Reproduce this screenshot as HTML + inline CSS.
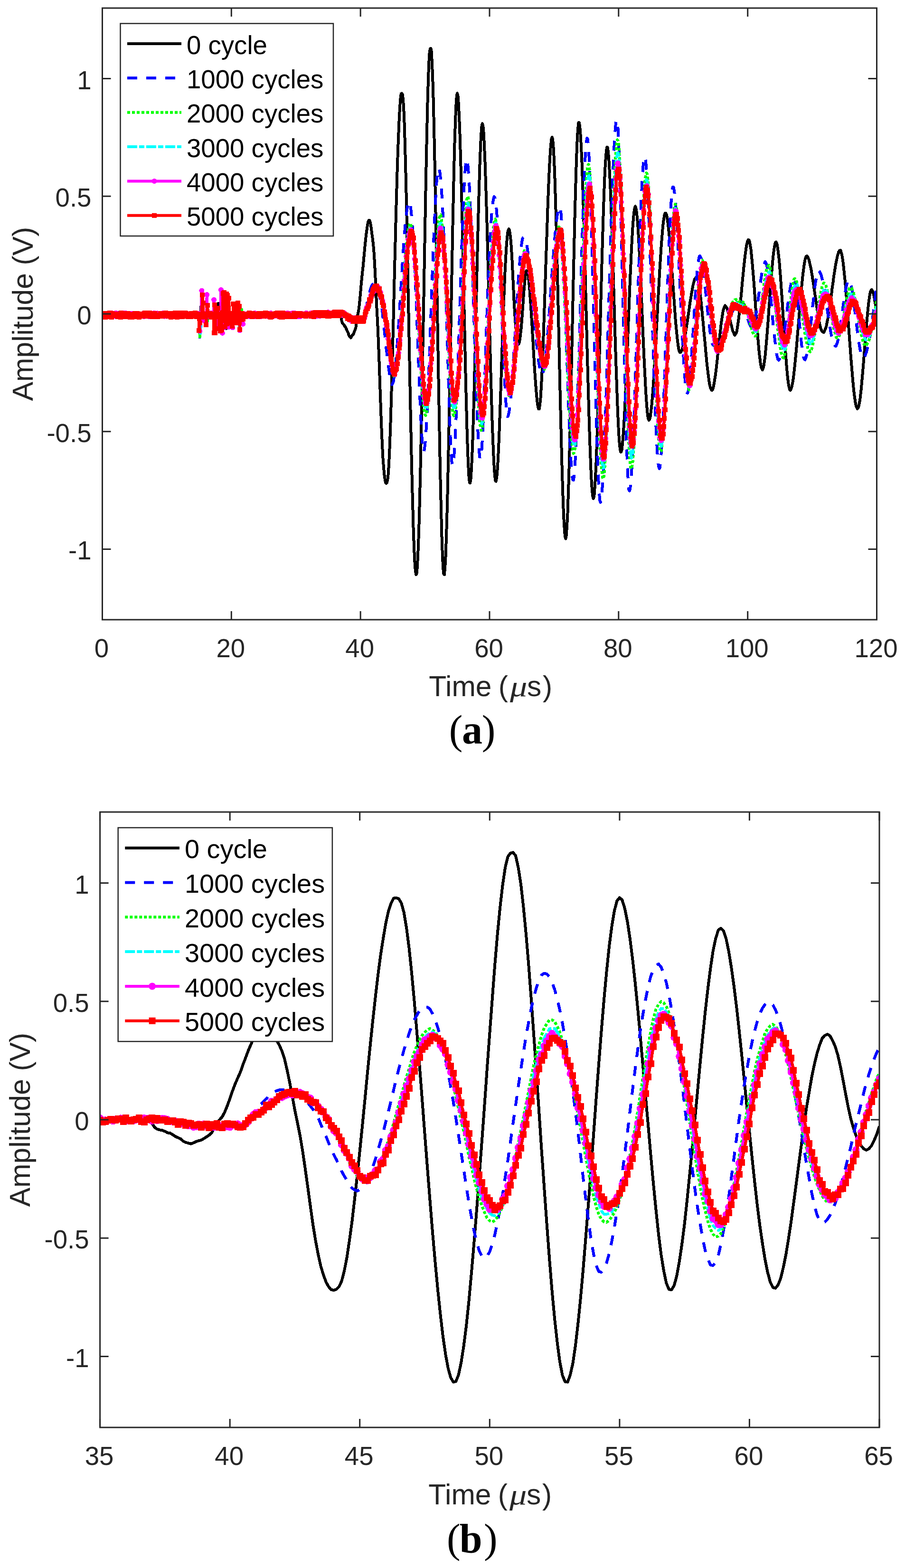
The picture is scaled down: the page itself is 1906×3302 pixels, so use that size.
<!DOCTYPE html><html><head><meta charset="utf-8"><title>Figure</title><style>html,body{margin:0;padding:0;background:#fff;width:1906px;height:3302px;}svg{display:block;}</style></head><body><svg width="1906" height="3302" viewBox="0 0 1906 3302">
<rect width="1906" height="3302" fill="#fff"/>
<defs>
<clipPath id="clipa"><rect x="215.5" y="17.0" width="1631.0" height="1288.0"/></clipPath>
<clipPath id="clipb"><rect x="210.6" y="1710.0" width="1641.4" height="1296.0"/></clipPath>
</defs>
<g clip-path="url(#clipa)" shape-rendering="crispEdges">
<polyline points="215.5,658.6 216.9,659.8 218.2,658.7 219.6,660.0 220.9,659.9 222.3,660.3 223.7,660.0 225.0,659.9 226.4,658.6 227.7,660.0 229.1,659.6 230.5,659.3 231.8,658.8 233.2,658.8 234.5,659.2 235.9,659.2 237.2,659.0 238.6,660.1 240.0,660.2 241.3,658.8 242.7,660.4 244.0,659.1 245.4,659.2 246.8,659.3 248.1,660.4 249.5,658.6 250.8,659.6 252.2,659.4 253.6,660.5 254.9,660.0 256.3,658.8 257.6,659.7 259.0,659.0 260.4,658.7 261.7,660.2 263.1,658.5 264.4,660.1 265.8,658.6 267.1,660.3 268.5,659.6 269.9,658.9 271.2,659.9 272.6,658.8 273.9,658.6 275.3,658.8 276.7,659.6 278.0,659.8 279.4,659.5 280.7,660.3 282.1,660.1 283.5,659.4 284.8,659.1 286.2,659.6 287.5,659.9 288.9,658.6 290.3,659.0 291.6,659.6 293.0,659.6 294.3,659.0 295.7,658.8 297.1,659.9 298.4,659.1 299.8,658.9 301.1,658.7 302.5,660.5 303.8,659.5 305.2,659.3 306.6,659.9 307.9,659.6 309.3,659.5 310.6,658.5 312.0,660.5 313.4,660.1 314.7,660.0 316.1,659.8 317.4,660.4 318.8,659.9 320.2,660.1 321.5,658.9 322.9,659.2 324.2,660.3 325.6,660.1 327.0,659.2 328.3,660.2 329.7,658.6 331.0,660.2 332.4,658.9 333.7,659.5 335.1,659.9 336.5,660.0 337.8,658.7 339.2,659.8 340.5,660.4 341.9,660.4 343.3,659.6 344.6,658.8 346.0,659.8 347.3,658.9 348.7,658.6 350.1,660.4 351.4,659.9 352.8,659.3 354.1,659.9 355.5,660.2 356.9,659.5 358.2,659.0 359.6,659.1 360.9,660.0 362.3,659.3 363.6,659.9 365.0,660.0 366.4,658.7 367.7,660.0 369.1,658.6 370.4,660.1 371.8,659.4 373.2,659.8 374.5,658.9 375.9,660.3 377.2,658.6 378.6,659.1 380.0,660.2 381.3,659.1 382.7,660.3 384.0,659.4 385.4,660.3 386.8,660.4 388.1,659.7 389.5,659.1 390.8,659.1 392.2,659.2 393.6,659.3 394.9,658.8 396.3,659.4 397.6,660.3 399.0,660.2 400.3,658.6 401.7,658.9 403.1,660.5 404.4,658.6 405.8,659.2 407.1,658.7 408.5,660.2 409.9,659.3 411.2,659.5 412.6,660.2 413.9,660.4 415.3,659.2 416.7,660.4 418.0,660.0 419.4,659.5 420.7,659.3 422.1,659.9 423.5,644.0 424.8,658.7 426.2,659.1 427.5,658.7 428.9,660.4 430.2,660.4 431.6,660.3 433.0,675.1 434.3,659.5 435.7,658.7 437.0,660.1 438.4,658.5 439.8,658.8 441.1,659.9 442.5,660.1 443.8,659.5 445.2,659.9 446.6,660.4 447.9,660.3 449.3,659.3 450.6,659.2 452.0,658.6 453.4,660.5 454.7,659.1 456.1,659.3 457.4,659.5 458.8,660.3 460.1,639.0 461.5,659.1 462.9,659.4 464.2,658.6 465.6,660.3 466.9,659.1 468.3,659.5 469.7,659.9 471.0,658.8 472.4,658.9 473.7,659.6 475.1,659.2 476.5,691.9 477.8,660.5 479.2,660.1 480.5,660.1 481.9,660.1 483.3,659.0 484.6,658.6 486.0,660.0 487.3,659.0 488.7,660.5 490.1,658.9 491.4,658.9 492.8,650.5 494.1,660.3 495.5,659.4 496.8,659.0 498.2,659.1 499.6,659.2 500.9,659.0 502.3,659.3 503.6,660.0 505.0,660.4 506.4,658.7 507.7,659.7 509.1,659.1 510.4,660.0 511.8,658.6 513.2,660.2 514.5,660.4 515.9,659.5 517.2,659.8 518.6,659.2 520.0,660.5 521.3,660.2 522.7,658.8 524.0,659.2 525.4,659.8 526.7,660.5 528.1,660.4 529.5,659.7 530.8,658.6 532.2,658.7 533.5,659.9 534.9,659.8 536.3,660.0 537.6,660.2 539.0,659.3 540.3,659.6 541.7,658.8 543.1,659.5 544.4,660.5 545.8,659.6 547.1,660.2 548.5,659.8 549.9,659.5 551.2,659.4 552.6,659.1 553.9,658.6 555.3,659.8 556.7,659.0 558.0,659.5 559.4,658.8 560.7,659.4 562.1,659.7 563.4,659.5 564.8,659.5 566.2,658.6 567.5,660.4 568.9,660.4 570.2,660.1 571.6,660.5 573.0,660.3 574.3,659.7 575.7,660.1 577.0,659.5 578.4,658.8 579.8,659.2 581.1,659.0 582.5,658.9 583.8,660.3 585.2,660.4 586.6,659.6 587.9,659.6 589.3,658.6 590.6,660.0 592.0,659.6 593.3,659.4 594.7,658.8 596.1,660.3 597.4,658.7 598.8,659.4 600.1,659.6 601.5,659.6 602.9,660.4 604.2,660.0 605.6,659.3 606.9,658.7 608.3,658.7 609.7,660.0 611.0,659.4 612.4,659.9 613.7,659.8 615.1,659.8 616.5,659.6 617.8,660.5 619.2,659.6 620.5,659.9 621.9,660.0 623.2,659.4 624.6,659.5 626.0,659.1 627.3,659.6 628.7,658.8 630.0,658.9 631.4,659.4 632.8,658.6 634.1,659.2 635.5,659.7 636.8,660.1 638.2,660.2 639.6,659.8 640.9,660.0 642.3,659.6 643.6,659.0 645.0,660.4 646.4,659.0 647.7,660.2 649.1,659.3 650.4,660.5 651.8,658.9 653.2,659.1 654.5,660.2 655.9,658.7 657.2,659.8 658.6,659.3 659.9,660.1 661.3,659.5 662.7,659.2 664.0,660.1 665.4,659.9 666.7,659.6 668.1,659.4 669.5,659.9 670.8,659.6 672.2,660.3 673.5,659.6 674.9,660.5 676.3,660.1 677.6,658.7 679.0,660.1 680.3,659.8 681.7,660.1 683.1,659.3 684.4,659.3 685.8,658.7 687.1,659.1 688.5,658.6 689.8,660.1 691.2,660.0 692.6,658.8 693.9,658.8 695.3,660.2 696.6,659.8 698.0,660.5 699.4,660.0 700.7,659.8 702.1,659.9 703.4,660.3 704.8,658.6 706.2,659.8 707.5,659.6 708.9,659.1 710.2,658.9 711.6,658.7 713.0,659.3 714.3,658.8 715.7,659.4 717.0,658.9 718.4,668.4 719.8,676.7 721.1,680.7 722.5,682.2 723.8,683.2 725.2,685.3 726.5,688.2 727.9,689.0 729.3,692.4 730.6,696.1 732.0,698.4 733.3,700.8 734.7,706.0 736.1,708.5 737.4,709.9 738.8,711.4 740.1,709.3 741.5,706.8 742.9,704.8 744.2,703.7 745.6,700.3 746.9,696.8 748.3,693.2 749.7,688.3 751.0,678.0 752.4,668.7 753.7,661.1 755.1,655.1 756.4,645.2 757.8,631.7 759.2,617.0 760.5,601.1 761.9,586.5 763.2,573.8 764.6,561.8 766.0,546.2 767.3,532.1 768.7,517.3 770.0,504.8 771.4,492.1 772.8,482.5 774.1,472.8 775.5,466.2 776.8,464.0 778.2,464.0 779.6,467.3 780.9,473.8 782.3,484.0 783.6,494.7 785.0,504.6 786.3,516.7 787.7,533.1 789.1,556.1 790.4,582.5 791.8,611.4 793.1,641.3 794.5,666.7 795.9,694.2 797.2,727.1 798.6,763.6 799.9,802.7 801.3,842.5 802.7,881.2 804.0,914.6 805.4,943.4 806.7,968.1 808.1,985.4 809.5,1000.6 810.8,1010.4 812.2,1016.8 813.5,1017.7 814.9,1016.1 816.3,1010.3 817.6,999.3 819.0,978.2 820.3,950.5 821.7,914.5 823.0,875.0 824.4,828.0 825.8,778.8 827.1,727.0 828.5,672.9 829.8,617.5 831.2,560.6 832.6,506.5 833.9,453.8 835.3,404.4 836.6,358.7 838.0,317.2 839.4,281.9 840.7,250.3 842.1,225.3 843.4,208.5 844.8,197.4 846.2,196.6 847.5,198.6 848.9,207.5 850.2,227.2 851.6,259.9 852.9,302.8 854.3,355.3 855.7,413.6 857.0,478.8 858.4,547.7 859.7,617.7 861.1,689.5 862.5,760.1 863.8,829.3 865.2,895.5 866.5,957.7 867.9,1015.6 869.3,1066.7 870.6,1113.7 872.0,1151.7 873.3,1181.2 874.7,1200.6 876.1,1210.0 877.4,1208.5 878.8,1195.3 880.1,1169.9 881.5,1134.9 882.9,1092.2 884.2,1040.5 885.6,981.0 886.9,916.9 888.3,850.4 889.6,778.4 891.0,705.9 892.4,631.1 893.7,554.8 895.1,480.7 896.4,407.6 897.8,336.9 899.2,272.3 900.5,216.4 901.9,169.1 903.2,133.0 904.6,110.3 906.0,103.1 907.3,101.7 908.7,108.5 910.0,133.0 911.4,168.1 912.8,215.4 914.1,272.2 915.5,337.6 916.8,408.6 918.2,484.6 919.5,564.0 920.9,645.2 922.3,726.2 923.6,803.4 925.0,880.3 926.3,951.6 927.7,1019.2 929.1,1077.8 930.4,1127.1 931.8,1167.3 933.1,1195.7 934.5,1209.2 935.9,1210.2 937.2,1195.4 938.6,1171.1 939.9,1134.0 941.3,1088.0 942.7,1034.0 944.0,972.7 945.4,906.6 946.7,837.5 948.1,764.4 949.5,690.6 950.8,616.2 952.2,544.2 953.5,474.8 954.9,410.1 956.2,351.1 957.6,298.4 959.0,256.3 960.3,223.8 961.7,202.9 963.0,196.2 964.4,201.0 965.8,218.8 967.1,245.7 968.5,281.9 969.8,324.4 971.2,373.9 972.6,429.0 973.9,487.0 975.3,548.8 976.6,611.2 978.0,672.7 979.4,734.6 980.7,794.0 982.1,849.5 983.4,900.1 984.8,943.6 986.1,977.0 987.5,1003.1 988.9,1015.9 990.2,1017.2 991.6,1007.9 992.9,988.4 994.3,958.1 995.7,921.6 997.0,878.8 998.4,829.1 999.7,774.8 1001.1,719.9 1002.5,660.3 1003.8,602.0 1005.2,543.2 1006.5,487.4 1007.9,434.0 1009.3,386.1 1010.6,343.5 1012.0,307.5 1013.3,281.5 1014.7,264.2 1016.0,260.1 1017.4,265.5 1018.8,281.9 1020.1,308.2 1021.5,341.1 1022.8,379.8 1024.2,424.0 1025.6,472.2 1026.9,523.9 1028.3,578.2 1029.6,634.0 1031.0,687.2 1032.4,740.3 1033.7,791.6 1035.1,839.1 1036.4,882.5 1037.8,919.8 1039.2,954.0 1040.5,980.1 1041.9,1000.5 1043.2,1012.0 1044.6,1013.6 1046.0,1006.9 1047.3,993.0 1048.7,970.8 1050.0,944.8 1051.4,911.4 1052.7,875.6 1054.1,835.6 1055.5,794.8 1056.8,753.2 1058.2,712.5 1059.5,671.9 1060.9,634.5 1062.3,602.6 1063.6,570.9 1065.0,545.0 1066.3,522.1 1067.7,504.6 1069.1,490.6 1070.4,484.7 1071.8,482.1 1073.1,485.4 1074.5,495.2 1075.9,507.6 1077.2,525.6 1078.6,549.3 1079.9,577.2 1081.3,606.5 1082.6,634.4 1084.0,658.6 1085.4,678.1 1086.7,694.1 1088.1,705.8 1089.4,715.6 1090.8,721.9 1092.2,724.7 1093.5,721.6 1094.9,715.2 1096.2,704.0 1097.6,691.5 1099.0,674.9 1100.3,656.9 1101.7,637.4 1103.0,618.0 1104.4,602.2 1105.8,587.0 1107.1,575.4 1108.5,570.2 1109.8,569.7 1111.2,573.9 1112.6,581.1 1113.9,593.6 1115.3,607.9 1116.6,626.5 1118.0,645.8 1119.3,666.4 1120.7,689.5 1122.1,712.4 1123.4,734.9 1124.8,758.7 1126.1,780.2 1127.5,799.9 1128.9,818.5 1130.2,833.9 1131.6,847.6 1132.9,855.7 1134.3,861.3 1135.7,861.2 1137.0,853.3 1138.4,840.0 1139.7,818.4 1141.1,792.8 1142.5,761.9 1143.8,727.6 1145.2,689.1 1146.5,649.3 1147.9,607.9 1149.2,566.1 1150.6,525.6 1152.0,484.7 1153.3,444.0 1154.7,407.1 1156.0,374.6 1157.4,346.2 1158.8,321.7 1160.1,304.5 1161.5,292.6 1162.8,288.7 1164.2,294.5 1165.6,310.9 1166.9,334.9 1168.3,368.6 1169.6,410.4 1171.0,457.4 1172.4,508.6 1173.7,565.0 1175.1,624.7 1176.4,684.4 1177.8,744.8 1179.1,804.9 1180.5,863.5 1181.9,918.7 1183.2,969.6 1184.6,1015.9 1185.9,1056.0 1187.3,1090.4 1188.7,1114.5 1190.0,1130.2 1191.4,1134.5 1192.7,1127.7 1194.1,1108.3 1195.5,1080.8 1196.8,1042.8 1198.2,999.7 1199.5,949.6 1200.9,893.2 1202.3,834.2 1203.6,771.3 1205.0,707.9 1206.3,643.3 1207.7,581.6 1209.1,520.1 1210.4,462.7 1211.8,411.5 1213.1,364.1 1214.5,323.2 1215.8,291.6 1217.2,269.2 1218.6,257.9 1219.9,258.3 1221.3,267.0 1222.6,283.8 1224.0,308.6 1225.4,338.8 1226.7,375.7 1228.1,417.2 1229.4,462.8 1230.8,511.8 1232.2,563.3 1233.5,616.2 1234.9,669.9 1236.2,723.0 1237.6,773.8 1239.0,823.4 1240.3,870.5 1241.7,914.9 1243.0,952.4 1244.4,987.5 1245.7,1013.8 1247.1,1035.0 1248.5,1045.6 1249.8,1050.1 1251.2,1045.1 1252.5,1029.6 1253.9,1007.8 1255.3,979.6 1256.6,943.3 1258.0,903.0 1259.3,859.6 1260.7,811.8 1262.1,762.3 1263.4,711.5 1264.8,658.1 1266.1,607.9 1267.5,556.6 1268.9,508.9 1270.2,464.2 1271.6,422.2 1272.9,385.9 1274.3,355.6 1275.7,333.2 1277.0,316.5 1278.4,309.9 1279.7,310.3 1281.1,321.0 1282.4,336.7 1283.8,361.8 1285.2,390.4 1286.5,424.2 1287.9,461.6 1289.2,501.8 1290.6,544.5 1292.0,589.6 1293.3,635.0 1294.7,681.5 1296.0,725.8 1297.4,767.4 1298.8,807.9 1300.1,844.4 1301.5,878.7 1302.8,906.6 1304.2,928.5 1305.6,943.0 1306.9,951.7 1308.3,951.8 1309.6,946.8 1311.0,934.7 1312.3,918.7 1313.7,898.2 1315.1,874.6 1316.4,847.0 1317.8,817.7 1319.1,785.6 1320.5,752.9 1321.9,719.1 1323.2,684.2 1324.6,649.7 1325.9,616.2 1327.3,582.0 1328.7,552.9 1330.0,523.2 1331.4,497.7 1332.7,476.0 1334.1,457.9 1335.5,444.9 1336.8,437.1 1338.2,434.5 1339.5,438.9 1340.9,448.0 1342.2,460.7 1343.6,479.3 1345.0,502.1 1346.3,526.1 1347.7,553.7 1349.0,582.1 1350.4,613.8 1351.8,644.8 1353.1,678.5 1354.5,709.6 1355.8,739.7 1357.2,769.0 1358.6,796.1 1359.9,821.8 1361.3,842.9 1362.6,859.7 1364.0,874.4 1365.4,882.5 1366.7,884.9 1368.1,883.7 1369.4,878.1 1370.8,868.1 1372.2,856.2 1373.5,841.8 1374.9,823.8 1376.2,804.9 1377.6,784.3 1378.9,760.9 1380.3,737.8 1381.7,711.3 1383.0,686.6 1384.4,662.0 1385.7,635.7 1387.1,611.0 1388.5,585.7 1389.8,562.0 1391.2,540.5 1392.5,520.3 1393.9,502.3 1395.3,485.7 1396.6,471.5 1398.0,461.0 1399.3,453.3 1400.7,448.9 1402.1,448.8 1403.4,451.4 1404.8,456.7 1406.1,465.2 1407.5,477.6 1408.8,489.2 1410.2,504.0 1411.6,520.8 1412.9,538.7 1414.3,556.2 1415.6,576.8 1417.0,594.8 1418.4,614.2 1419.7,633.1 1421.1,651.7 1422.4,670.5 1423.8,687.0 1425.2,700.5 1426.5,713.7 1427.9,725.0 1429.2,734.4 1430.6,740.2 1432.0,742.4 1433.3,742.1 1434.7,740.0 1436.0,737.8 1437.4,733.1 1438.8,728.1 1440.1,723.5 1441.5,715.2 1442.8,707.1 1444.2,698.9 1445.5,690.6 1446.9,681.7 1448.3,672.4 1449.6,662.8 1451.0,653.8 1452.3,643.7 1453.7,634.5 1455.1,626.7 1456.4,618.4 1457.8,610.7 1459.1,602.9 1460.5,597.0 1461.9,592.0 1463.2,587.4 1464.6,586.0 1465.9,583.9 1467.3,582.5 1468.7,586.3 1470.0,589.2 1471.4,596.0 1472.7,604.9 1474.1,614.6 1475.4,625.6 1476.8,637.5 1478.2,651.6 1479.5,666.4 1480.9,679.4 1482.2,696.0 1483.6,709.6 1485.0,724.4 1486.3,739.2 1487.7,754.2 1489.0,768.1 1490.4,779.4 1491.8,790.9 1493.1,800.8 1494.5,809.7 1495.8,815.2 1497.2,818.7 1498.6,821.6 1499.9,821.7 1501.3,819.7 1502.6,813.9 1504.0,807.6 1505.3,798.7 1506.7,790.3 1508.1,779.5 1509.4,768.3 1510.8,755.3 1512.1,741.7 1513.5,730.4 1514.9,717.8 1516.2,705.3 1517.6,692.9 1518.9,680.6 1520.3,671.6 1521.7,662.4 1523.0,654.0 1524.4,649.5 1525.7,645.8 1527.1,643.3 1528.5,645.2 1529.8,647.3 1531.2,649.3 1532.5,654.0 1533.9,658.4 1535.3,663.0 1536.6,669.1 1538.0,675.6 1539.3,682.1 1540.7,686.3 1542.0,692.0 1543.4,697.6 1544.8,699.6 1546.1,703.5 1547.5,705.7 1548.8,704.0 1550.2,702.3 1551.6,697.8 1552.9,690.9 1554.3,681.1 1555.6,672.0 1557.0,660.2 1558.4,647.8 1559.7,634.1 1561.1,620.3 1562.4,605.3 1563.8,590.1 1565.2,576.6 1566.5,562.9 1567.9,549.8 1569.2,538.5 1570.6,528.6 1571.9,518.5 1573.3,512.1 1574.7,506.8 1576.0,505.0 1577.4,505.6 1578.7,508.6 1580.1,517.1 1581.5,524.9 1582.8,538.4 1584.2,552.5 1585.5,567.9 1586.9,584.2 1588.3,602.4 1589.6,620.8 1591.0,641.5 1592.3,660.6 1593.7,679.7 1595.1,696.2 1596.4,714.3 1597.8,730.5 1599.1,745.0 1600.5,755.6 1601.8,766.1 1603.2,773.2 1604.6,777.2 1605.9,779.1 1607.3,775.0 1608.6,770.0 1610.0,760.7 1611.4,750.5 1612.7,735.9 1614.1,720.4 1615.4,704.9 1616.8,686.9 1618.2,669.4 1619.5,649.2 1620.9,630.8 1622.2,612.0 1623.6,594.5 1625.0,577.2 1626.3,561.5 1627.7,546.2 1629.0,533.5 1630.4,523.5 1631.8,515.6 1633.1,510.6 1634.5,509.6 1635.8,512.1 1637.2,517.2 1638.5,527.6 1639.9,538.5 1641.3,551.2 1642.6,567.9 1644.0,585.2 1645.3,605.0 1646.7,624.1 1648.1,645.2 1649.4,667.6 1650.8,688.6 1652.1,709.2 1653.5,728.7 1654.9,748.2 1656.2,765.8 1657.6,782.0 1658.9,795.5 1660.3,807.0 1661.7,815.0 1663.0,819.9 1664.4,822.1 1665.7,820.0 1667.1,816.1 1668.4,810.5 1669.8,803.5 1671.2,794.0 1672.5,782.2 1673.9,769.6 1675.2,755.8 1676.6,741.7 1678.0,726.1 1679.3,709.1 1680.7,692.9 1682.0,677.3 1683.4,659.6 1684.8,643.8 1686.1,627.5 1687.5,612.9 1688.8,599.1 1690.2,585.0 1691.6,572.7 1692.9,562.9 1694.3,553.4 1695.6,546.3 1697.0,542.2 1698.4,539.3 1699.7,539.1 1701.1,540.4 1702.4,543.9 1703.8,547.1 1705.1,553.1 1706.5,559.4 1707.9,564.7 1709.2,573.2 1710.6,581.2 1711.9,590.0 1713.3,597.8 1714.7,608.9 1716.0,617.3 1717.4,626.8 1718.7,635.3 1720.1,644.7 1721.5,653.9 1722.8,663.4 1724.2,670.4 1725.5,678.5 1726.9,685.4 1728.3,690.5 1729.6,694.3 1731.0,697.7 1732.3,698.5 1733.7,699.6 1735.0,699.9 1736.4,697.1 1737.8,693.9 1739.1,690.6 1740.5,686.2 1741.8,678.8 1743.2,672.7 1744.6,664.7 1745.9,654.9 1747.3,646.5 1748.6,637.0 1750.0,626.6 1751.4,617.8 1752.7,606.0 1754.1,597.8 1755.4,586.8 1756.8,577.2 1758.2,568.7 1759.5,560.3 1760.9,552.1 1762.2,546.7 1763.6,539.6 1764.9,535.1 1766.3,530.6 1767.7,528.4 1769.0,527.3 1770.4,527.1 1771.7,531.7 1773.1,536.1 1774.5,545.2 1775.8,554.1 1777.2,566.4 1778.5,579.7 1779.9,592.7 1781.3,609.4 1782.6,625.4 1784.0,643.3 1785.3,661.3 1786.7,679.9 1788.1,699.1 1789.4,717.9 1790.8,735.9 1792.1,753.4 1793.5,770.0 1794.9,786.2 1796.2,802.4 1797.6,817.1 1798.9,828.7 1800.3,839.2 1801.6,848.1 1803.0,855.6 1804.4,858.5 1805.7,860.8 1807.1,859.3 1808.4,856.2 1809.8,849.2 1811.2,841.6 1812.5,830.3 1813.9,818.1 1815.2,802.9 1816.6,787.4 1818.0,771.7 1819.3,754.8 1820.7,737.4 1822.0,720.6 1823.4,702.5 1824.8,686.6 1826.1,671.4 1827.5,656.0 1828.8,642.7 1830.2,631.9 1831.5,623.2 1832.9,615.7 1834.3,611.8 1835.6,609.7 1837.0,611.5 1838.3,614.8 1839.7,618.9 1841.1,625.6 1842.4,633.8 1843.8,641.9 1845.1,650.8 1846.5,660.2" fill="none" stroke="#000" stroke-width="6" stroke-linejoin="round"/>
<polyline points="215.5,661.6 216.9,661.6 218.2,661.1 219.6,660.3 220.9,660.4 222.3,661.4 223.7,661.5 225.0,660.8 226.4,661.9 227.7,660.7 229.1,661.2 230.5,661.4 231.8,661.3 233.2,661.5 234.5,661.5 235.9,661.9 237.2,660.5 238.6,661.2 240.0,660.6 241.3,661.2 242.7,660.5 244.0,660.5 245.4,660.8 246.8,660.7 248.1,660.6 249.5,660.3 250.8,661.8 252.2,661.7 253.6,661.3 254.9,661.9 256.3,661.5 257.6,660.7 259.0,661.9 260.4,661.8 261.7,660.6 263.1,660.6 264.4,661.0 265.8,661.1 267.1,661.4 268.5,661.0 269.9,661.9 271.2,660.1 272.6,661.0 273.9,661.8 275.3,660.8 276.7,661.9 278.0,660.2 279.4,660.1 280.7,661.0 282.1,660.6 283.5,661.4 284.8,661.2 286.2,661.3 287.5,660.0 288.9,660.5 290.3,660.2 291.6,660.3 293.0,660.6 294.3,660.9 295.7,660.3 297.1,661.8 298.4,660.4 299.8,660.7 301.1,661.2 302.5,661.2 303.8,661.8 305.2,660.2 306.6,660.8 307.9,661.2 309.3,660.3 310.6,660.8 312.0,660.3 313.4,661.1 314.7,661.0 316.1,661.6 317.4,660.6 318.8,660.8 320.2,660.3 321.5,660.2 322.9,660.5 324.2,661.9 325.6,661.0 327.0,661.8 328.3,661.3 329.7,661.8 331.0,660.9 332.4,661.0 333.7,661.0 335.1,660.6 336.5,660.4 337.8,661.9 339.2,660.7 340.5,661.2 341.9,660.8 343.3,660.9 344.6,660.1 346.0,661.7 347.3,661.2 348.7,661.2 350.1,661.2 351.4,661.6 352.8,660.2 354.1,660.7 355.5,661.3 356.9,660.4 358.2,660.1 359.6,661.2 360.9,661.6 362.3,660.5 363.6,660.3 365.0,661.3 366.4,661.4 367.7,660.2 369.1,661.1 370.4,660.2 371.8,660.8 373.2,660.2 374.5,660.4 375.9,660.9 377.2,661.2 378.6,660.1 380.0,660.6 381.3,660.2 382.7,660.4 384.0,660.4 385.4,660.3 386.8,660.7 388.1,660.6 389.5,660.6 390.8,660.7 392.2,660.2 393.6,660.9 394.9,660.4 396.3,661.7 397.6,660.9 399.0,661.8 400.3,661.4 401.7,661.6 403.1,660.0 404.4,661.4 405.8,661.6 407.1,661.7 408.5,661.6 409.9,661.3 411.2,660.2 412.6,661.2 413.9,660.7 415.3,662.0 416.7,661.9 418.0,660.2 419.4,661.8 420.7,710.3 422.1,661.8 423.5,660.5 424.8,661.1 426.2,631.3 427.5,660.6 428.9,660.8 430.2,660.4 431.6,661.8 433.0,661.4 434.3,661.7 435.7,691.5 437.0,661.2 438.4,661.1 439.8,661.6 441.1,660.1 442.5,661.7 443.8,661.1 445.2,661.9 446.6,660.5 447.9,660.1 449.3,660.4 450.6,661.6 452.0,685.5 453.4,660.8 454.7,660.3 456.1,660.5 457.4,661.9 458.8,661.0 460.1,661.2 461.5,661.0 462.9,661.4 464.2,660.7 465.6,661.3 466.9,660.4 468.3,621.6 469.7,660.4 471.0,661.6 472.4,660.1 473.7,660.9 475.1,661.4 476.5,661.7 477.8,660.9 479.2,661.4 480.5,680.5 481.9,660.3 483.3,660.9 484.6,661.8 486.0,661.0 487.3,660.5 488.7,660.5 490.1,661.6 491.4,660.4 492.8,661.2 494.1,661.7 495.5,661.4 496.8,661.7 498.2,646.2 499.6,661.1 500.9,660.2 502.3,661.6 503.6,660.7 505.0,660.8 506.4,661.0 507.7,661.9 509.1,660.5 510.4,660.2 511.8,660.9 513.2,662.0 514.5,661.1 515.9,661.2 517.2,661.5 518.6,660.3 520.0,660.2 521.3,660.3 522.7,660.1 524.0,660.9 525.4,662.0 526.7,661.5 528.1,660.7 529.5,660.1 530.8,660.8 532.2,661.0 533.5,660.6 534.9,662.0 536.3,660.5 537.6,661.4 539.0,661.6 540.3,661.4 541.7,662.0 543.1,661.9 544.4,661.4 545.8,661.3 547.1,660.9 548.5,660.3 549.9,661.5 551.2,662.0 552.6,660.9 553.9,660.1 555.3,660.5 556.7,660.8 558.0,661.0 559.4,660.7 560.7,660.0 562.1,661.7 563.4,660.7 564.8,661.6 566.2,660.7 567.5,660.9 568.9,660.1 570.2,661.3 571.6,661.0 573.0,660.8 574.3,660.3 575.7,661.7 577.0,661.1 578.4,660.2 579.8,661.7 581.1,660.9 582.5,661.2 583.8,660.0 585.2,660.0 586.6,660.0 587.9,660.4 589.3,661.6 590.6,661.7 592.0,660.1 593.3,661.2 594.7,660.3 596.1,660.4 597.4,660.3 598.8,661.5 600.1,660.1 601.5,661.9 602.9,661.7 604.2,661.0 605.6,661.6 606.9,661.6 608.3,661.4 609.7,661.0 611.0,660.6 612.4,660.9 613.7,660.1 615.1,661.8 616.5,661.3 617.8,660.7 619.2,660.0 620.5,661.7 621.9,660.4 623.2,661.7 624.6,661.3 626.0,661.1 627.3,661.5 628.7,661.9 630.0,660.9 631.4,661.5 632.8,660.1 634.1,660.3 635.5,660.5 636.8,661.9 638.2,660.6 639.6,660.6 640.9,660.1 642.3,661.4 643.6,661.5 645.0,661.4 646.4,661.0 647.7,660.8 649.1,661.9 650.4,660.6 651.8,661.4 653.2,660.2 654.5,660.1 655.9,660.6 657.2,662.0 658.6,660.8 659.9,661.8 661.3,660.5 662.7,660.8 664.0,661.4 665.4,660.1 666.7,660.7 668.1,662.0 669.5,660.3 670.8,661.4 672.2,661.2 673.5,661.3 674.9,660.9 676.3,660.3 677.6,660.3 679.0,661.1 680.3,660.2 681.7,661.1 683.1,662.0 684.4,661.0 685.8,661.2 687.1,660.2 688.5,660.6 689.8,660.2 691.2,661.9 692.6,660.9 693.9,661.2 695.3,661.9 696.6,661.9 698.0,661.8 699.4,660.7 700.7,661.9 702.1,661.8 703.4,661.0 704.8,661.4 706.2,661.3 707.5,661.9 708.9,660.6 710.2,660.8 711.6,661.2 713.0,660.4 714.3,661.7 715.7,661.6 717.0,660.8 718.4,661.0 719.8,661.6 721.1,660.7 722.5,661.8 723.8,660.2 725.2,661.6 726.5,661.6 727.9,661.0 729.3,661.5 730.6,662.2 732.0,663.4 733.3,665.7 734.7,665.6 736.1,667.3 737.4,667.9 738.8,668.9 740.1,668.2 741.5,668.2 742.9,669.0 744.2,669.3 745.6,669.9 746.9,669.8 748.3,670.4 749.7,670.5 751.0,670.8 752.4,669.3 753.7,669.6 755.1,670.6 756.4,669.8 757.8,670.8 759.2,670.9 760.5,671.7 761.9,671.8 763.2,671.4 764.6,670.6 766.0,667.1 767.3,662.3 768.7,657.4 770.0,652.5 771.4,647.0 772.8,640.9 774.1,633.1 775.5,628.5 776.8,622.3 778.2,617.4 779.6,610.9 780.9,608.0 782.3,602.7 783.6,600.4 785.0,598.8 786.3,598.4 787.7,598.1 789.1,596.7 790.4,597.9 791.8,598.9 793.1,602.8 794.5,606.4 795.9,611.5 797.2,615.4 798.6,621.6 799.9,625.7 801.3,632.7 802.7,639.4 804.0,647.6 805.4,657.1 806.7,670.5 808.1,683.3 809.5,695.6 810.8,709.4 812.2,723.0 813.5,734.3 814.9,744.5 816.3,757.0 817.6,768.6 819.0,778.6 820.3,787.5 821.7,797.9 823.0,804.1 824.4,807.9 825.8,809.9 827.1,807.1 828.5,803.5 829.8,795.5 831.2,787.3 832.6,775.1 833.9,759.5 835.3,743.7 836.6,725.2 838.0,706.2 839.4,687.4 840.7,665.5 842.1,644.0 843.4,621.7 844.8,599.0 846.2,576.8 847.5,555.1 848.9,534.8 850.2,515.2 851.6,497.7 852.9,480.0 854.3,464.7 855.7,451.9 857.0,442.1 858.4,432.8 859.7,427.4 861.1,424.8 862.5,425.0 863.8,429.4 865.2,439.1 866.5,451.5 867.9,467.8 869.3,485.8 870.6,508.7 872.0,533.9 873.3,561.5 874.7,592.0 876.1,623.5 877.4,658.2 878.8,692.9 880.1,728.8 881.5,765.1 882.9,800.8 884.2,834.6 885.6,865.6 886.9,894.2 888.3,917.3 889.6,935.6 891.0,946.4 892.4,951.4 893.7,946.4 895.1,937.5 896.4,921.3 897.8,901.2 899.2,876.0 900.5,848.5 901.9,816.9 903.2,780.9 904.6,745.9 906.0,707.0 907.3,668.3 908.7,631.1 910.0,591.7 911.4,555.6 912.8,520.4 914.1,486.0 915.5,456.3 916.8,428.2 918.2,404.5 919.5,384.2 920.9,368.2 922.3,358.1 923.6,354.4 925.0,356.2 926.3,361.8 927.7,373.3 929.1,388.3 930.4,408.4 931.8,431.5 933.1,458.6 934.5,490.4 935.9,524.4 937.2,562.0 938.6,600.4 939.9,643.4 941.3,687.3 942.7,735.0 944.0,783.5 945.4,827.8 946.7,871.6 948.1,911.0 949.5,942.2 950.8,965.8 952.2,978.7 953.5,980.0 954.9,972.9 956.2,960.6 957.6,941.0 959.0,915.4 960.3,886.3 961.7,852.5 963.0,816.3 964.4,775.0 965.8,732.1 967.1,688.7 968.5,643.3 969.8,599.0 971.2,554.9 972.6,513.7 973.9,474.3 975.3,440.2 976.6,409.7 978.0,382.5 979.4,360.9 980.7,347.0 982.1,338.3 983.4,335.0 984.8,341.5 986.1,355.6 987.5,374.2 988.9,399.1 990.2,430.5 991.6,463.9 992.9,500.8 994.3,541.7 995.7,584.4 997.0,630.0 998.4,674.6 999.7,719.2 1001.1,763.9 1002.5,805.7 1003.8,844.4 1005.2,878.6 1006.5,909.2 1007.9,935.7 1009.3,952.6 1010.6,965.1 1012.0,966.2 1013.3,959.6 1014.7,945.5 1016.0,921.7 1017.4,893.7 1018.8,860.9 1020.1,823.7 1021.5,783.4 1022.8,742.4 1024.2,700.7 1025.6,660.7 1026.9,623.7 1028.3,588.1 1029.6,556.2 1031.0,525.3 1032.4,498.4 1033.7,475.3 1035.1,455.6 1036.4,439.3 1037.8,427.5 1039.2,419.7 1040.5,414.2 1041.9,415.2 1043.2,420.6 1044.6,430.8 1046.0,444.8 1047.3,462.1 1048.7,483.0 1050.0,508.0 1051.4,533.9 1052.7,562.4 1054.1,592.1 1055.5,623.5 1056.8,654.7 1058.2,687.2 1059.5,721.2 1060.9,754.6 1062.3,784.8 1063.6,814.9 1065.0,840.0 1066.3,859.9 1067.7,872.9 1069.1,877.3 1070.4,875.3 1071.8,869.3 1073.1,861.4 1074.5,850.2 1075.9,835.8 1077.2,819.2 1078.6,801.4 1079.9,783.0 1081.3,761.1 1082.6,739.2 1084.0,717.9 1085.4,693.4 1086.7,670.6 1088.1,649.0 1089.4,626.6 1090.8,603.7 1092.2,583.7 1093.5,565.5 1094.9,548.3 1096.2,533.6 1097.6,520.4 1099.0,510.5 1100.3,502.9 1101.7,500.3 1103.0,499.6 1104.4,501.3 1105.8,501.6 1107.1,506.2 1108.5,511.5 1109.8,517.8 1111.2,527.0 1112.6,538.3 1113.9,548.5 1115.3,562.0 1116.6,574.7 1118.0,589.3 1119.3,604.1 1120.7,619.8 1122.1,636.0 1123.4,652.1 1124.8,667.3 1126.1,681.9 1127.5,697.6 1128.9,712.8 1130.2,724.6 1131.6,738.1 1132.9,748.9 1134.3,760.5 1135.7,769.2 1137.0,776.2 1138.4,782.0 1139.7,786.2 1141.1,788.9 1142.5,788.6 1143.8,783.5 1145.2,778.8 1146.5,771.3 1147.9,760.5 1149.2,748.9 1150.6,734.9 1152.0,720.5 1153.3,704.6 1154.7,686.3 1156.0,669.1 1157.4,650.8 1158.8,631.3 1160.1,611.1 1161.5,592.5 1162.8,572.7 1164.2,553.3 1165.6,537.2 1166.9,518.6 1168.3,502.6 1169.6,488.2 1171.0,474.4 1172.4,463.1 1173.7,452.4 1175.1,444.8 1176.4,439.2 1177.8,436.2 1179.1,435.8 1180.5,440.5 1181.9,453.2 1183.2,473.7 1184.6,498.6 1185.9,528.1 1187.3,560.9 1188.7,597.3 1190.0,634.6 1191.4,675.2 1192.7,717.1 1194.1,757.8 1195.5,798.1 1196.8,839.0 1198.2,876.3 1199.5,909.0 1200.9,939.8 1202.3,966.8 1203.6,986.6 1205.0,1002.1 1206.3,1010.4 1207.7,1011.0 1209.1,1003.7 1210.4,987.5 1211.8,963.9 1213.1,935.6 1214.5,901.5 1215.8,861.6 1217.2,818.9 1218.6,773.1 1219.9,725.9 1221.3,676.2 1222.6,625.7 1224.0,576.2 1225.4,530.1 1226.7,483.5 1228.1,440.8 1229.4,400.7 1230.8,367.2 1232.2,337.0 1233.5,315.1 1234.9,298.3 1236.2,291.0 1237.6,292.4 1239.0,304.2 1240.3,323.7 1241.7,354.1 1243.0,389.3 1244.4,432.6 1245.7,479.3 1247.1,531.2 1248.5,584.9 1249.8,639.5 1251.2,696.9 1252.5,752.3 1253.9,806.5 1255.3,859.0 1256.6,905.6 1258.0,949.9 1259.3,987.4 1260.7,1017.6 1262.1,1039.6 1263.4,1054.3 1264.8,1058.0 1266.1,1051.2 1267.5,1039.4 1268.9,1021.3 1270.2,998.4 1271.6,970.5 1272.9,937.0 1274.3,899.5 1275.7,859.5 1277.0,817.8 1278.4,772.1 1279.7,726.1 1281.1,679.0 1282.4,630.9 1283.8,584.3 1285.2,537.5 1286.5,491.9 1287.9,449.8 1289.2,408.7 1290.6,372.7 1292.0,338.5 1293.3,310.8 1294.7,286.6 1296.0,268.9 1297.4,256.2 1298.8,252.5 1300.1,255.6 1301.5,270.3 1302.8,296.1 1304.2,329.7 1305.6,371.2 1306.9,418.2 1308.3,471.9 1309.6,527.0 1311.0,587.0 1312.3,646.0 1313.7,705.3 1315.1,765.4 1316.4,821.5 1317.8,873.6 1319.1,919.1 1320.5,960.7 1321.9,992.8 1323.2,1017.8 1324.6,1032.3 1325.9,1033.8 1327.3,1028.0 1328.7,1015.2 1330.0,997.1 1331.4,972.4 1332.7,944.6 1334.1,912.4 1335.5,874.0 1336.8,834.8 1338.2,794.7 1339.5,750.9 1340.9,706.8 1342.2,661.2 1343.6,617.3 1345.0,574.0 1346.3,531.7 1347.7,492.0 1349.0,455.2 1350.4,422.0 1351.8,392.8 1353.1,367.6 1354.5,348.9 1355.8,335.3 1357.2,330.3 1358.6,330.7 1359.9,338.0 1361.3,353.9 1362.6,373.8 1364.0,399.1 1365.4,429.1 1366.7,464.5 1368.1,501.0 1369.4,540.8 1370.8,582.6 1372.2,624.7 1373.5,669.8 1374.9,711.9 1376.2,754.7 1377.6,795.0 1378.9,834.5 1380.3,870.5 1381.7,902.7 1383.0,929.7 1384.4,953.9 1385.7,971.6 1387.1,982.6 1388.5,986.9 1389.8,984.2 1391.2,974.2 1392.5,956.7 1393.9,934.5 1395.3,907.2 1396.6,876.5 1398.0,841.3 1399.3,802.2 1400.7,761.9 1402.1,722.0 1403.4,678.8 1404.8,638.1 1406.1,598.2 1407.5,558.9 1408.8,522.4 1410.2,488.0 1411.6,458.2 1412.9,435.0 1414.3,413.5 1415.6,399.9 1417.0,393.6 1418.4,394.3 1419.7,400.0 1421.1,410.6 1422.4,424.2 1423.8,442.3 1425.2,464.4 1426.5,486.5 1427.9,513.6 1429.2,541.1 1430.6,568.7 1432.0,599.2 1433.3,629.1 1434.7,656.8 1436.0,685.8 1437.4,714.5 1438.8,739.0 1440.1,763.1 1441.5,783.2 1442.8,800.1 1444.2,813.8 1445.5,823.2 1446.9,827.3 1448.3,827.7 1449.6,822.5 1451.0,814.2 1452.3,802.3 1453.7,787.1 1455.1,769.6 1456.4,750.1 1457.8,728.9 1459.1,708.4 1460.5,685.2 1461.9,663.8 1463.2,641.3 1464.6,619.9 1465.9,601.3 1467.3,583.9 1468.7,567.6 1470.0,555.8 1471.4,546.9 1472.7,540.3 1474.1,538.6 1475.4,541.8 1476.8,543.9 1478.2,551.5 1479.5,559.0 1480.9,567.4 1482.2,578.4 1483.6,589.3 1485.0,602.2 1486.3,615.7 1487.7,628.0 1489.0,642.0 1490.4,655.4 1491.8,668.4 1493.1,680.3 1494.5,691.0 1495.8,702.2 1497.2,710.3 1498.6,717.0 1499.9,722.4 1501.3,726.2 1502.6,727.2 1504.0,728.1 1505.3,726.4 1506.7,725.9 1508.1,725.7 1509.4,724.5 1510.8,723.1 1512.1,721.7 1513.5,718.9 1514.9,718.0 1516.2,714.9 1517.6,712.7 1518.9,710.8 1520.3,707.7 1521.7,704.3 1523.0,702.2 1524.4,698.2 1525.7,696.4 1527.1,691.6 1528.5,689.0 1529.8,686.1 1531.2,683.3 1532.5,680.1 1533.9,676.4 1535.3,673.4 1536.6,670.4 1538.0,667.3 1539.3,664.3 1540.7,661.5 1542.0,657.3 1543.4,654.4 1544.8,652.8 1546.1,649.2 1547.5,647.0 1548.8,645.3 1550.2,643.9 1551.6,642.2 1552.9,639.9 1554.3,637.9 1555.6,637.2 1557.0,635.9 1558.4,635.4 1559.7,634.7 1561.1,635.4 1562.4,635.6 1563.8,636.6 1565.2,638.7 1566.5,643.5 1567.9,646.2 1569.2,651.3 1570.6,655.9 1571.9,659.6 1573.3,665.9 1574.7,669.9 1576.0,675.1 1577.4,678.7 1578.7,683.0 1580.1,685.9 1581.5,688.0 1582.8,690.6 1584.2,690.3 1585.5,689.8 1586.9,686.4 1588.3,681.8 1589.6,676.9 1591.0,669.1 1592.3,661.1 1593.7,652.7 1595.1,642.3 1596.4,633.3 1597.8,622.8 1599.1,613.1 1600.5,601.8 1601.8,593.7 1603.2,583.8 1604.6,574.8 1605.9,567.2 1607.3,561.2 1608.6,557.8 1610.0,554.5 1611.4,551.2 1612.7,552.9 1614.1,556.2 1615.4,560.9 1616.8,569.9 1618.2,579.4 1619.5,589.3 1620.9,603.0 1622.2,616.6 1623.6,630.7 1625.0,645.2 1626.3,660.5 1627.7,675.7 1629.0,690.1 1630.4,702.4 1631.8,714.9 1633.1,726.5 1634.5,737.1 1635.8,746.5 1637.2,752.8 1638.5,757.1 1639.9,758.5 1641.3,756.7 1642.6,753.5 1644.0,749.6 1645.3,743.8 1646.7,735.6 1648.1,728.0 1649.4,718.4 1650.8,708.4 1652.1,698.0 1653.5,686.7 1654.9,676.5 1656.2,664.7 1657.6,654.2 1658.9,642.7 1660.3,633.1 1661.7,623.1 1663.0,613.8 1664.4,606.2 1665.7,598.9 1667.1,593.4 1668.4,588.5 1669.8,585.8 1671.2,585.5 1672.5,588.6 1673.9,593.3 1675.2,601.1 1676.6,611.1 1678.0,622.5 1679.3,635.7 1680.7,648.9 1682.0,662.2 1683.4,678.0 1684.8,692.3 1686.1,705.0 1687.5,719.2 1688.8,730.4 1690.2,740.6 1691.6,748.2 1692.9,754.4 1694.3,756.9 1695.6,757.7 1697.0,753.8 1698.4,749.2 1699.7,743.6 1701.1,735.1 1702.4,727.4 1703.8,716.6 1705.1,705.6 1706.5,692.2 1707.9,680.3 1709.2,668.1 1710.6,654.0 1711.9,640.6 1713.3,630.0 1714.7,617.3 1716.0,605.5 1717.4,595.6 1718.7,588.4 1720.1,580.2 1721.5,575.7 1722.8,571.4 1724.2,569.8 1725.5,570.9 1726.9,573.8 1728.3,576.5 1729.6,579.8 1731.0,584.9 1732.3,590.7 1733.7,599.1 1735.0,604.9 1736.4,612.9 1737.8,623.1 1739.1,632.0 1740.5,640.4 1741.8,648.7 1743.2,659.0 1744.6,667.7 1745.9,677.0 1747.3,684.6 1748.6,692.4 1750.0,701.6 1751.4,708.6 1752.7,714.4 1754.1,719.1 1755.4,723.4 1756.8,726.1 1758.2,727.9 1759.5,729.2 1760.9,728.4 1762.2,724.8 1763.6,721.4 1764.9,716.2 1766.3,708.4 1767.7,701.8 1769.0,692.7 1770.4,682.5 1771.7,674.1 1773.1,664.0 1774.5,653.6 1775.8,642.7 1777.2,633.6 1778.5,623.9 1779.9,616.4 1781.3,608.4 1782.6,602.2 1784.0,597.0 1785.3,592.0 1786.7,590.4 1788.1,590.6 1789.4,590.6 1790.8,593.6 1792.1,600.3 1793.5,605.2 1794.9,614.1 1796.2,622.1 1797.6,631.2 1798.9,643.1 1800.3,653.8 1801.6,663.7 1803.0,676.2 1804.4,687.5 1805.7,698.1 1807.1,707.6 1808.4,717.9 1809.8,726.6 1811.2,734.7 1812.5,742.2 1813.9,748.0 1815.2,751.6 1816.6,752.7 1818.0,753.5 1819.3,752.9 1820.7,751.2 1822.0,748.9 1823.4,744.9 1824.8,741.9 1826.1,736.7 1827.5,731.0 1828.8,725.8 1830.2,717.7 1831.5,710.3 1832.9,703.0 1834.3,694.8 1835.6,685.1 1837.0,676.2 1838.3,666.0 1839.7,656.3 1841.1,643.6 1842.4,633.9 1843.8,620.4 1845.1,609.2 1846.5,596.8" fill="none" stroke="#00f" stroke-width="6" stroke-dasharray="21 19" stroke-linejoin="round"/>
<polyline points="215.5,660.6 216.9,659.6 218.2,661.7 219.6,662.0 220.9,660.6 222.3,660.7 223.7,662.1 225.0,660.2 226.4,660.4 227.7,662.1 229.1,659.8 230.5,661.7 231.8,660.6 233.2,661.3 234.5,661.8 235.9,660.7 237.2,660.9 238.6,660.7 240.0,660.0 241.3,660.8 242.7,659.8 244.0,659.9 245.4,660.4 246.8,661.8 248.1,661.6 249.5,661.9 250.8,659.5 252.2,661.6 253.6,662.0 254.9,659.7 256.3,662.0 257.6,659.9 259.0,659.6 260.4,660.8 261.7,660.2 263.1,660.5 264.4,660.1 265.8,662.5 267.1,662.4 268.5,661.8 269.9,661.0 271.2,661.4 272.6,662.4 273.9,660.9 275.3,660.7 276.7,661.7 278.0,661.0 279.4,662.4 280.7,660.5 282.1,661.4 283.5,661.7 284.8,661.5 286.2,660.1 287.5,661.3 288.9,661.8 290.3,660.7 291.6,661.3 293.0,660.8 294.3,661.1 295.7,661.6 297.1,661.7 298.4,660.4 299.8,659.6 301.1,660.3 302.5,662.4 303.8,661.4 305.2,659.8 306.6,659.8 307.9,660.7 309.3,661.0 310.6,660.7 312.0,662.1 313.4,659.7 314.7,659.7 316.1,660.0 317.4,660.1 318.8,660.3 320.2,661.3 321.5,661.9 322.9,661.2 324.2,660.2 325.6,661.5 327.0,660.1 328.3,661.6 329.7,662.3 331.0,661.9 332.4,662.3 333.7,660.3 335.1,662.4 336.5,659.6 337.8,660.3 339.2,660.5 340.5,659.7 341.9,661.8 343.3,661.6 344.6,661.4 346.0,661.3 347.3,661.4 348.7,660.8 350.1,661.3 351.4,662.5 352.8,662.2 354.1,662.1 355.5,662.3 356.9,661.2 358.2,662.5 359.6,662.0 360.9,660.6 362.3,660.9 363.6,661.4 365.0,659.6 366.4,660.8 367.7,659.9 369.1,660.4 370.4,662.5 371.8,659.7 373.2,660.8 374.5,660.1 375.9,660.7 377.2,662.1 378.6,662.4 380.0,661.7 381.3,662.1 382.7,662.5 384.0,660.5 385.4,660.3 386.8,660.0 388.1,660.8 389.5,659.7 390.8,662.1 392.2,659.6 393.6,660.7 394.9,659.5 396.3,662.0 397.6,660.7 399.0,660.7 400.3,660.4 401.7,659.9 403.1,661.8 404.4,662.3 405.8,660.3 407.1,661.7 408.5,660.2 409.9,660.8 411.2,659.7 412.6,660.4 413.9,661.4 415.3,662.4 416.7,661.5 418.0,661.6 419.4,661.9 420.7,709.5 422.1,659.5 423.5,661.0 424.8,660.8 426.2,627.7 427.5,660.4 428.9,660.4 430.2,660.5 431.6,661.6 433.0,660.5 434.3,660.5 435.7,661.1 437.0,680.3 438.4,660.6 439.8,660.7 441.1,660.0 442.5,659.8 443.8,661.1 445.2,660.5 446.6,660.3 447.9,661.6 449.3,660.2 450.6,642.4 452.0,661.4 453.4,660.3 454.7,660.4 456.1,662.1 457.4,661.2 458.8,662.1 460.1,662.4 461.5,662.0 462.9,660.1 464.2,659.6 465.6,661.5 466.9,704.3 468.3,661.9 469.7,661.0 471.0,622.5 472.4,661.9 473.7,660.1 475.1,661.6 476.5,662.2 477.8,662.0 479.2,660.4 480.5,661.7 481.9,659.8 483.3,662.2 484.6,661.1 486.0,660.5 487.3,674.5 488.7,660.0 490.1,660.3 491.4,661.9 492.8,660.0 494.1,660.3 495.5,659.7 496.8,661.8 498.2,660.1 499.6,661.3 500.9,660.0 502.3,660.4 503.6,660.2 505.0,662.3 506.4,660.0 507.7,660.5 509.1,651.9 510.4,661.4 511.8,662.1 513.2,660.6 514.5,660.0 515.9,662.0 517.2,661.6 518.6,660.4 520.0,662.3 521.3,661.9 522.7,662.0 524.0,661.6 525.4,662.4 526.7,661.8 528.1,662.1 529.5,660.2 530.8,660.0 532.2,660.1 533.5,660.1 534.9,660.7 536.3,662.3 537.6,661.0 539.0,662.3 540.3,661.7 541.7,662.2 543.1,660.0 544.4,661.4 545.8,662.4 547.1,662.4 548.5,660.7 549.9,661.1 551.2,661.6 552.6,661.0 553.9,659.6 555.3,661.3 556.7,660.3 558.0,660.3 559.4,661.3 560.7,661.7 562.1,660.2 563.4,661.6 564.8,661.9 566.2,661.7 567.5,660.3 568.9,661.1 570.2,660.1 571.6,660.9 573.0,661.1 574.3,660.1 575.7,662.4 577.0,660.1 578.4,660.5 579.8,662.5 581.1,662.1 582.5,660.5 583.8,661.1 585.2,659.8 586.6,660.2 587.9,660.7 589.3,660.2 590.6,660.8 592.0,662.1 593.3,660.0 594.7,660.5 596.1,660.8 597.4,662.0 598.8,660.6 600.1,662.1 601.5,660.5 602.9,662.3 604.2,660.6 605.6,661.9 606.9,660.4 608.3,660.0 609.7,662.4 611.0,662.4 612.4,659.6 613.7,660.1 615.1,661.8 616.5,661.0 617.8,662.1 619.2,659.7 620.5,662.5 621.9,662.2 623.2,659.5 624.6,662.2 626.0,661.6 627.3,662.1 628.7,661.7 630.0,661.3 631.4,660.6 632.8,660.7 634.1,660.9 635.5,661.3 636.8,659.6 638.2,660.9 639.6,660.1 640.9,662.1 642.3,660.6 643.6,661.4 645.0,659.7 646.4,659.9 647.7,662.0 649.1,662.2 650.4,661.5 651.8,660.3 653.2,662.4 654.5,660.6 655.9,661.5 657.2,661.6 658.6,660.2 659.9,662.2 661.3,661.1 662.7,661.8 664.0,662.3 665.4,660.4 666.7,660.8 668.1,662.0 669.5,660.9 670.8,660.9 672.2,660.7 673.5,660.9 674.9,659.6 676.3,660.5 677.6,661.1 679.0,662.1 680.3,660.2 681.7,662.4 683.1,659.8 684.4,659.9 685.8,661.9 687.1,661.3 688.5,660.3 689.8,662.3 691.2,661.0 692.6,660.7 693.9,661.8 695.3,660.3 696.6,661.3 698.0,660.5 699.4,659.6 700.7,660.2 702.1,662.3 703.4,659.7 704.8,661.3 706.2,661.1 707.5,661.1 708.9,660.4 710.2,660.2 711.6,662.0 713.0,661.3 714.3,661.3 715.7,661.0 717.0,659.6 718.4,662.3 719.8,660.2 721.1,661.8 722.5,660.7 723.8,661.9 725.2,660.9 726.5,664.1 727.9,665.0 729.3,664.5 730.6,666.1 732.0,667.8 733.3,667.2 734.7,670.2 736.1,668.5 737.4,672.0 738.8,671.9 740.1,671.7 741.5,673.3 742.9,674.5 744.2,674.0 745.6,674.7 746.9,672.6 748.3,674.5 749.7,672.2 751.0,672.1 752.4,674.3 753.7,673.2 755.1,674.4 756.4,673.1 757.8,672.7 759.2,672.4 760.5,672.2 761.9,672.4 763.2,674.2 764.6,673.6 766.0,673.0 767.3,668.0 768.7,662.5 770.0,656.3 771.4,653.0 772.8,649.3 774.1,645.0 775.5,639.8 776.8,635.8 778.2,630.7 779.6,627.4 780.9,623.4 782.3,620.6 783.6,616.5 785.0,611.2 786.3,607.7 787.7,605.7 789.1,603.6 790.4,601.9 791.8,601.4 793.1,603.1 794.5,603.4 795.9,603.6 797.2,607.8 798.6,610.1 799.9,614.6 801.3,618.3 802.7,624.4 804.0,629.2 805.4,634.9 806.7,642.1 808.1,647.9 809.5,657.9 810.8,667.5 812.2,675.3 813.5,683.9 814.9,693.9 816.3,706.2 817.6,714.8 819.0,727.4 820.3,737.3 821.7,750.1 823.0,759.2 824.4,770.5 825.8,779.6 827.1,785.3 828.5,789.8 829.8,791.8 831.2,790.2 832.6,786.0 833.9,779.2 835.3,772.1 836.6,762.1 838.0,749.9 839.4,735.9 840.7,721.7 842.1,704.1 843.4,686.0 844.8,669.2 846.2,649.0 847.5,628.5 848.9,609.3 850.2,590.9 851.6,571.0 852.9,554.7 854.3,535.3 855.7,519.4 857.0,505.9 858.4,493.5 859.7,484.3 861.1,478.1 862.5,473.3 863.8,470.1 865.2,473.5 866.5,476.9 867.9,487.1 869.3,497.4 870.6,511.6 872.0,527.2 873.3,546.3 874.7,566.4 876.1,590.0 877.4,613.1 878.8,637.3 880.1,662.5 881.5,685.3 882.9,710.4 884.2,737.7 885.6,759.8 886.9,785.1 888.3,805.6 889.6,826.2 891.0,840.8 892.4,855.1 893.7,866.7 895.1,872.8 896.4,875.0 897.8,871.5 899.2,864.6 900.5,854.6 901.9,841.0 903.2,825.4 904.6,805.9 906.0,785.7 907.3,761.1 908.7,735.7 910.0,711.3 911.4,683.4 912.8,656.5 914.1,628.6 915.5,601.0 916.8,573.0 918.2,545.9 919.5,522.5 920.9,502.9 922.3,484.3 923.6,468.7 925.0,460.2 926.3,452.1 927.7,452.0 929.1,455.5 930.4,465.8 931.8,477.5 933.1,496.0 934.5,515.8 935.9,538.3 937.2,565.3 938.6,590.6 939.9,619.8 941.3,650.2 942.7,679.1 944.0,709.7 945.4,739.8 946.7,769.6 948.1,797.4 949.5,820.9 950.8,843.1 952.2,859.2 953.5,869.2 954.9,874.6 956.2,875.6 957.6,871.6 959.0,863.3 960.3,855.5 961.7,841.9 963.0,828.1 964.4,809.6 965.8,787.6 967.1,762.2 968.5,736.1 969.8,708.8 971.2,677.2 972.6,642.9 973.9,608.5 975.3,572.2 976.6,538.8 978.0,505.9 979.4,475.5 980.7,449.2 982.1,430.0 983.4,419.1 984.8,413.4 986.1,416.4 987.5,424.3 988.9,437.7 990.2,456.6 991.6,477.6 992.9,503.8 994.3,531.1 995.7,560.6 997.0,593.9 998.4,629.0 999.7,663.6 1001.1,701.0 1002.5,735.3 1003.8,768.5 1005.2,799.6 1006.5,828.7 1007.9,852.3 1009.3,874.2 1010.6,890.3 1012.0,900.7 1013.3,906.4 1014.7,904.6 1016.0,899.6 1017.4,886.4 1018.8,870.3 1020.1,848.8 1021.5,825.4 1022.8,798.6 1024.2,770.0 1025.6,738.2 1026.9,708.9 1028.3,676.4 1029.6,644.3 1031.0,614.6 1032.4,587.0 1033.7,558.9 1035.1,534.3 1036.4,515.3 1037.8,496.4 1039.2,479.7 1040.5,470.9 1041.9,464.5 1043.2,461.4 1044.6,466.0 1046.0,472.7 1047.3,487.0 1048.7,504.5 1050.0,525.1 1051.4,547.7 1052.7,573.3 1054.1,598.9 1055.5,625.3 1056.8,649.8 1058.2,676.2 1059.5,699.8 1060.9,721.6 1062.3,742.3 1063.6,762.4 1065.0,780.2 1066.3,795.5 1067.7,808.6 1069.1,820.7 1070.4,828.6 1071.8,833.2 1073.1,833.1 1074.5,833.8 1075.9,828.1 1077.2,821.5 1078.6,811.1 1079.9,799.5 1081.3,786.8 1082.6,771.3 1084.0,753.7 1085.4,737.7 1086.7,718.0 1088.1,701.2 1089.4,681.5 1090.8,661.6 1092.2,641.3 1093.5,625.4 1094.9,605.9 1096.2,590.2 1097.6,574.6 1099.0,562.9 1100.3,551.3 1101.7,539.9 1103.0,532.8 1104.4,527.6 1105.8,528.2 1107.1,528.2 1108.5,532.0 1109.8,535.5 1111.2,538.4 1112.6,546.6 1113.9,553.3 1115.3,564.0 1116.6,571.2 1118.0,583.1 1119.3,595.1 1120.7,604.3 1122.1,616.3 1123.4,630.2 1124.8,643.6 1126.1,656.4 1127.5,669.1 1128.9,680.7 1130.2,693.7 1131.6,705.0 1132.9,717.5 1134.3,725.9 1135.7,738.4 1137.0,745.9 1138.4,756.0 1139.7,762.9 1141.1,766.5 1142.5,770.9 1143.8,774.5 1145.2,776.4 1146.5,778.0 1147.9,773.2 1149.2,768.0 1150.6,759.2 1152.0,749.6 1153.3,734.0 1154.7,720.6 1156.0,704.2 1157.4,686.5 1158.8,668.7 1160.1,650.6 1161.5,630.1 1162.8,610.6 1164.2,591.3 1165.6,572.8 1166.9,555.6 1168.3,540.0 1169.6,523.7 1171.0,510.4 1172.4,497.5 1173.7,489.5 1175.1,482.7 1176.4,478.3 1177.8,478.0 1179.1,479.7 1180.5,489.2 1181.9,501.5 1183.2,519.6 1184.6,540.8 1185.9,564.0 1187.3,590.6 1188.7,619.4 1190.0,648.7 1191.4,679.1 1192.7,709.5 1194.1,740.6 1195.5,772.4 1196.8,803.5 1198.2,830.7 1199.5,859.3 1200.9,883.8 1202.3,904.5 1203.6,922.2 1205.0,938.0 1206.3,947.8 1207.7,954.9 1209.1,953.1 1210.4,947.6 1211.8,935.2 1213.1,916.5 1214.5,896.2 1215.8,869.0 1217.2,835.8 1218.6,801.4 1219.9,767.5 1221.3,728.5 1222.6,689.0 1224.0,648.7 1225.4,609.1 1226.7,569.1 1228.1,531.1 1229.4,495.2 1230.8,460.0 1232.2,429.1 1233.5,402.3 1234.9,381.4 1236.2,363.1 1237.6,350.9 1239.0,346.3 1240.3,346.8 1241.7,357.1 1243.0,370.8 1244.4,393.2 1245.7,418.2 1247.1,451.3 1248.5,485.6 1249.8,524.0 1251.2,562.5 1252.5,606.9 1253.9,649.0 1255.3,692.9 1256.6,735.1 1258.0,778.8 1259.3,820.2 1260.7,859.8 1262.1,893.5 1263.4,927.3 1264.8,954.6 1266.1,978.4 1267.5,993.1 1268.9,1005.0 1270.2,1008.6 1271.6,1004.0 1272.9,991.6 1274.3,974.4 1275.7,949.2 1277.0,916.9 1278.4,881.1 1279.7,843.0 1281.1,799.3 1282.4,754.0 1283.8,709.0 1285.2,659.3 1286.5,613.7 1287.9,565.5 1289.2,520.1 1290.6,475.2 1292.0,435.5 1293.3,398.2 1294.7,365.0 1296.0,337.0 1297.4,316.5 1298.8,300.6 1300.1,294.3 1301.5,296.0 1302.8,303.2 1304.2,320.3 1305.6,346.7 1306.9,376.3 1308.3,412.5 1309.6,454.0 1311.0,497.3 1312.3,543.4 1313.7,590.6 1315.1,639.9 1316.4,688.3 1317.8,737.7 1319.1,785.1 1320.5,829.1 1321.9,867.5 1323.2,904.7 1324.6,936.2 1325.9,959.6 1327.3,976.9 1328.7,986.9 1330.0,987.2 1331.4,981.1 1332.7,970.9 1334.1,953.8 1335.5,931.3 1336.8,907.0 1338.2,876.0 1339.5,842.7 1340.9,808.2 1342.2,771.8 1343.6,731.8 1345.0,693.6 1346.3,653.5 1347.7,615.9 1349.0,574.8 1350.4,539.8 1351.8,502.8 1353.1,472.1 1354.5,443.7 1355.8,415.7 1357.2,395.0 1358.6,378.6 1359.9,369.4 1361.3,364.4 1362.6,365.5 1364.0,371.9 1365.4,386.7 1366.7,408.1 1368.1,432.8 1369.4,462.5 1370.8,497.2 1372.2,534.2 1373.5,572.3 1374.9,611.2 1376.2,652.6 1377.6,692.2 1378.9,732.2 1380.3,769.6 1381.7,808.4 1383.0,841.9 1384.4,873.4 1385.7,900.8 1387.1,921.4 1388.5,939.7 1389.8,948.1 1391.2,951.1 1392.5,949.9 1393.9,942.2 1395.3,927.7 1396.6,909.6 1398.0,887.8 1399.3,861.7 1400.7,835.4 1402.1,804.1 1403.4,773.9 1404.8,738.9 1406.1,705.3 1407.5,670.7 1408.8,637.7 1410.2,604.1 1411.6,572.3 1412.9,541.9 1414.3,514.7 1415.6,491.6 1417.0,468.6 1418.4,454.0 1419.7,439.9 1421.1,434.4 1422.4,429.9 1423.8,434.8 1425.2,441.9 1426.5,453.8 1427.9,471.3 1429.2,491.0 1430.6,509.9 1432.0,535.7 1433.3,559.1 1434.7,587.9 1436.0,615.8 1437.4,640.6 1438.8,669.0 1440.1,696.0 1441.5,721.5 1442.8,744.3 1444.2,763.8 1445.5,784.6 1446.9,797.3 1448.3,810.0 1449.6,816.5 1451.0,820.9 1452.3,818.8 1453.7,811.6 1455.1,804.9 1456.4,794.4 1457.8,781.9 1459.1,765.4 1460.5,748.1 1461.9,732.3 1463.2,712.1 1464.6,692.9 1465.9,673.9 1467.3,657.2 1468.7,638.6 1470.0,618.3 1471.4,602.4 1472.7,589.3 1474.1,575.6 1475.4,563.5 1476.8,555.3 1478.2,552.8 1479.5,548.2 1480.9,551.4 1482.2,554.4 1483.6,559.9 1485.0,564.8 1486.3,572.8 1487.7,580.7 1489.0,591.4 1490.4,603.6 1491.8,614.7 1493.1,626.8 1494.5,639.9 1495.8,653.7 1497.2,666.2 1498.6,678.0 1499.9,689.5 1501.3,699.6 1502.6,708.9 1504.0,718.1 1505.3,726.6 1506.7,732.3 1508.1,738.1 1509.4,742.1 1510.8,743.8 1512.1,741.4 1513.5,740.9 1514.9,740.1 1516.2,735.9 1517.6,734.0 1518.9,729.3 1520.3,725.5 1521.7,721.3 1523.0,715.7 1524.4,710.4 1525.7,704.2 1527.1,698.6 1528.5,692.1 1529.8,686.2 1531.2,681.8 1532.5,675.3 1533.9,669.2 1535.3,662.9 1536.6,656.4 1538.0,649.5 1539.3,645.8 1540.7,641.4 1542.0,638.6 1543.4,635.6 1544.8,636.0 1546.1,633.9 1547.5,631.5 1548.8,631.4 1550.2,630.5 1551.6,632.2 1552.9,631.2 1554.3,632.9 1555.6,633.8 1557.0,633.9 1558.4,636.1 1559.7,634.9 1561.1,637.2 1562.4,636.8 1563.8,637.6 1565.2,636.3 1566.5,640.9 1567.9,641.3 1569.2,645.6 1570.6,648.3 1571.9,651.4 1573.3,657.6 1574.7,660.7 1576.0,665.8 1577.4,669.5 1578.7,677.4 1580.1,680.3 1581.5,687.3 1582.8,691.6 1584.2,694.3 1585.5,700.9 1586.9,702.9 1588.3,706.6 1589.6,707.7 1591.0,707.5 1592.3,706.6 1593.7,701.2 1595.1,697.9 1596.4,691.9 1597.8,684.6 1599.1,676.2 1600.5,665.1 1601.8,656.2 1603.2,644.0 1604.6,633.8 1605.9,624.7 1607.3,613.9 1608.6,602.9 1610.0,592.6 1611.4,583.2 1612.7,575.1 1614.1,569.5 1615.4,563.6 1616.8,561.4 1618.2,559.9 1619.5,558.5 1620.9,562.0 1622.2,566.1 1623.6,571.7 1625.0,580.1 1626.3,587.6 1627.7,599.0 1629.0,608.5 1630.4,620.8 1631.8,634.0 1633.1,644.4 1634.5,659.5 1635.8,670.7 1637.2,683.1 1638.5,696.1 1639.9,706.8 1641.3,719.0 1642.6,727.0 1644.0,735.9 1645.3,743.1 1646.7,748.0 1648.1,751.2 1649.4,753.7 1650.8,753.7 1652.1,748.8 1653.5,741.7 1654.9,733.7 1656.2,724.1 1657.6,711.2 1658.9,698.1 1660.3,683.9 1661.7,671.5 1663.0,657.9 1664.4,642.2 1665.7,629.3 1667.1,618.0 1668.4,608.4 1669.8,598.9 1671.2,592.8 1672.5,587.7 1673.9,586.6 1675.2,589.4 1676.6,589.7 1678.0,594.2 1679.3,600.5 1680.7,605.4 1682.0,614.1 1683.4,620.9 1684.8,627.6 1686.1,639.0 1687.5,647.9 1688.8,657.9 1690.2,666.0 1691.6,675.9 1692.9,684.6 1694.3,694.5 1695.6,704.7 1697.0,711.9 1698.4,718.0 1699.7,724.2 1701.1,732.1 1702.4,735.6 1703.8,739.1 1705.1,739.0 1706.5,741.2 1707.9,739.0 1709.2,736.2 1710.6,731.0 1711.9,725.3 1713.3,718.2 1714.7,712.2 1716.0,701.3 1717.4,694.4 1718.7,684.6 1720.1,674.7 1721.5,662.6 1722.8,654.5 1724.2,644.3 1725.5,634.7 1726.9,625.0 1728.3,618.8 1729.6,610.9 1731.0,605.2 1732.3,601.2 1733.7,597.7 1735.0,595.9 1736.4,596.6 1737.8,597.6 1739.1,599.4 1740.5,605.4 1741.8,608.8 1743.2,617.7 1744.6,624.8 1745.9,631.9 1747.3,639.0 1748.6,648.4 1750.0,654.6 1751.4,664.5 1752.7,672.7 1754.1,681.4 1755.4,688.9 1756.8,695.5 1758.2,699.6 1759.5,704.6 1760.9,710.0 1762.2,711.2 1763.6,712.1 1764.9,711.7 1766.3,710.2 1767.7,706.7 1769.0,703.5 1770.4,698.2 1771.7,692.1 1773.1,686.5 1774.5,676.9 1775.8,669.9 1777.2,663.9 1778.5,656.5 1779.9,646.8 1781.3,639.7 1782.6,631.7 1784.0,625.6 1785.3,619.6 1786.7,616.5 1788.1,609.5 1789.4,606.7 1790.8,605.5 1792.1,606.4 1793.5,606.6 1794.9,609.7 1796.2,613.0 1797.6,615.2 1798.9,623.0 1800.3,627.6 1801.6,632.7 1803.0,641.7 1804.4,648.6 1805.7,657.1 1807.1,665.1 1808.4,673.2 1809.8,681.3 1811.2,688.2 1812.5,694.5 1813.9,703.6 1815.2,710.3 1816.6,714.3 1818.0,720.2 1819.3,724.2 1820.7,724.7 1822.0,728.7 1823.4,727.0 1824.8,726.3 1826.1,724.7 1827.5,722.9 1828.8,721.6 1830.2,716.5 1831.5,712.9 1832.9,705.6 1834.3,700.8 1835.6,695.0 1837.0,688.5 1838.3,681.4 1839.7,674.2 1841.1,664.7 1842.4,657.0 1843.8,650.6 1845.1,639.0 1846.5,632.7" fill="none" stroke="#0f0" stroke-width="6" stroke-dasharray="6 4" stroke-linejoin="round"/>
<polyline points="215.5,662.1 216.9,661.6 218.2,662.9 219.6,663.5 220.9,662.4 222.3,662.0 223.7,662.7 225.0,662.1 226.4,661.2 227.7,663.4 229.1,662.0 230.5,663.3 231.8,663.4 233.2,663.2 234.5,661.9 235.9,661.7 237.2,660.8 238.6,663.5 240.0,662.0 241.3,661.6 242.7,663.3 244.0,663.5 245.4,660.6 246.8,661.8 248.1,662.0 249.5,662.9 250.8,663.2 252.2,662.6 253.6,663.0 254.9,662.3 256.3,661.2 257.6,661.8 259.0,662.2 260.4,662.6 261.7,663.0 263.1,662.2 264.4,661.9 265.8,661.4 267.1,662.3 268.5,663.0 269.9,663.0 271.2,663.3 272.6,661.8 273.9,662.1 275.3,662.9 276.7,662.2 278.0,663.6 279.4,662.2 280.7,662.1 282.1,662.8 283.5,662.9 284.8,662.9 286.2,662.8 287.5,660.9 288.9,663.0 290.3,662.6 291.6,661.6 293.0,662.1 294.3,663.4 295.7,662.3 297.1,662.7 298.4,661.5 299.8,662.5 301.1,663.5 302.5,662.1 303.8,662.4 305.2,662.5 306.6,661.0 307.9,663.6 309.3,662.6 310.6,662.2 312.0,661.0 313.4,660.8 314.7,662.4 316.1,662.7 317.4,661.6 318.8,663.3 320.2,663.6 321.5,662.8 322.9,661.8 324.2,661.0 325.6,663.2 327.0,661.8 328.3,661.7 329.7,662.4 331.0,661.3 332.4,663.0 333.7,663.0 335.1,661.9 336.5,662.8 337.8,660.7 339.2,661.1 340.5,660.8 341.9,662.3 343.3,662.5 344.6,660.6 346.0,662.6 347.3,663.2 348.7,661.7 350.1,662.2 351.4,661.5 352.8,662.0 354.1,661.5 355.5,662.5 356.9,663.1 358.2,662.7 359.6,661.7 360.9,662.6 362.3,663.1 363.6,662.6 365.0,661.6 366.4,661.9 367.7,662.4 369.1,661.7 370.4,662.2 371.8,661.1 373.2,663.4 374.5,663.3 375.9,660.9 377.2,661.5 378.6,661.4 380.0,661.7 381.3,663.3 382.7,661.4 384.0,661.4 385.4,662.5 386.8,662.8 388.1,662.7 389.5,661.4 390.8,662.4 392.2,661.8 393.6,662.0 394.9,660.9 396.3,661.6 397.6,661.5 399.0,662.5 400.3,661.9 401.7,661.9 403.1,662.9 404.4,661.5 405.8,661.1 407.1,661.9 408.5,662.8 409.9,662.2 411.2,661.5 412.6,661.6 413.9,660.7 415.3,663.6 416.7,660.9 418.0,662.9 419.4,663.2 420.7,663.3 422.1,702.2 423.5,662.2 424.8,663.5 426.2,622.9 427.5,661.6 428.9,661.0 430.2,660.9 431.6,661.9 433.0,663.3 434.3,663.2 435.7,637.7 437.0,661.0 438.4,662.5 439.8,663.1 441.1,663.0 442.5,661.1 443.8,661.9 445.2,662.6 446.6,663.0 447.9,663.5 449.3,662.3 450.6,662.6 452.0,687.6 453.4,663.1 454.7,663.4 456.1,661.1 457.4,661.4 458.8,663.4 460.1,663.1 461.5,663.3 462.9,663.5 464.2,661.8 465.6,661.7 466.9,661.6 468.3,612.4 469.7,661.6 471.0,660.9 472.4,687.8 473.7,661.8 475.1,660.9 476.5,662.7 477.8,663.2 479.2,662.2 480.5,661.2 481.9,662.8 483.3,662.8 484.6,661.2 486.0,661.9 487.3,663.3 488.7,662.3 490.1,663.4 491.4,661.4 492.8,643.4 494.1,660.7 495.5,663.0 496.8,662.4 498.2,661.7 499.6,661.3 500.9,663.1 502.3,661.7 503.6,686.5 505.0,661.2 506.4,661.6 507.7,662.8 509.1,661.9 510.4,662.7 511.8,661.6 513.2,663.2 514.5,663.5 515.9,663.5 517.2,661.0 518.6,663.3 520.0,663.4 521.3,660.9 522.7,660.7 524.0,663.4 525.4,662.0 526.7,660.7 528.1,663.0 529.5,662.6 530.8,661.4 532.2,661.2 533.5,662.0 534.9,661.8 536.3,662.6 537.6,662.7 539.0,661.3 540.3,661.6 541.7,663.2 543.1,661.5 544.4,662.2 545.8,660.9 547.1,661.8 548.5,662.5 549.9,661.7 551.2,663.4 552.6,662.0 553.9,662.6 555.3,660.9 556.7,662.2 558.0,662.4 559.4,662.4 560.7,662.1 562.1,662.4 563.4,663.5 564.8,661.4 566.2,662.5 567.5,662.2 568.9,661.2 570.2,662.6 571.6,661.3 573.0,663.2 574.3,663.5 575.7,662.1 577.0,662.2 578.4,660.9 579.8,660.9 581.1,660.9 582.5,661.5 583.8,661.9 585.2,661.0 586.6,661.6 587.9,662.6 589.3,662.0 590.6,661.8 592.0,661.5 593.3,662.3 594.7,661.6 596.1,661.9 597.4,663.2 598.8,663.5 600.1,662.9 601.5,663.2 602.9,663.6 604.2,661.7 605.6,663.2 606.9,661.4 608.3,661.4 609.7,660.9 611.0,661.6 612.4,663.4 613.7,662.5 615.1,663.3 616.5,661.9 617.8,661.0 619.2,660.7 620.5,660.6 621.9,661.6 623.2,661.0 624.6,663.3 626.0,661.0 627.3,662.9 628.7,660.9 630.0,663.4 631.4,662.1 632.8,660.6 634.1,660.9 635.5,660.7 636.8,663.4 638.2,662.7 639.6,661.4 640.9,660.4 642.3,662.0 643.6,661.2 645.0,661.4 646.4,662.8 647.7,662.5 649.1,661.0 650.4,662.8 651.8,662.2 653.2,662.0 654.5,662.2 655.9,661.3 657.2,660.9 658.6,662.5 659.9,662.4 661.3,660.2 662.7,661.8 664.0,661.0 665.4,661.5 666.7,661.1 668.1,662.5 669.5,661.2 670.8,661.4 672.2,662.9 673.5,660.4 674.9,662.1 676.3,662.8 677.6,660.1 679.0,660.9 680.3,660.5 681.7,660.7 683.1,662.3 684.4,661.0 685.8,661.4 687.1,662.7 688.5,660.5 689.8,660.9 691.2,661.1 692.6,661.7 693.9,661.2 695.3,662.6 696.6,660.4 698.0,661.6 699.4,659.9 700.7,660.8 702.1,661.2 703.4,661.1 704.8,660.5 706.2,661.3 707.5,662.3 708.9,659.9 710.2,660.1 711.6,660.2 713.0,659.8 714.3,660.9 715.7,661.2 717.0,660.4 718.4,660.3 719.8,659.7 721.1,662.2 722.5,661.3 723.8,661.2 725.2,662.2 726.5,663.4 727.9,664.8 729.3,664.1 730.6,665.7 732.0,666.1 733.3,667.5 734.7,668.7 736.1,670.7 737.4,672.1 738.8,671.7 740.1,672.0 741.5,672.7 742.9,672.8 744.2,674.7 745.6,672.3 746.9,672.8 748.3,672.0 749.7,673.4 751.0,674.6 752.4,673.0 753.7,674.5 755.1,673.3 756.4,674.6 757.8,673.2 759.2,672.1 760.5,674.1 761.9,673.9 763.2,672.2 764.6,674.5 766.0,672.5 767.3,667.7 768.7,661.7 770.0,659.2 771.4,652.2 772.8,648.5 774.1,645.7 775.5,640.3 776.8,637.8 778.2,631.9 779.6,629.8 780.9,623.8 782.3,621.5 783.6,616.0 785.0,611.6 786.3,609.4 787.7,608.2 789.1,604.9 790.4,603.3 791.8,605.3 793.1,604.1 794.5,605.3 795.9,606.9 797.2,607.6 798.6,611.9 799.9,614.5 801.3,616.8 802.7,623.3 804.0,628.6 805.4,634.5 806.7,640.0 808.1,647.0 809.5,656.8 810.8,665.6 812.2,675.3 813.5,684.0 814.9,692.5 816.3,703.0 817.6,713.8 819.0,724.1 820.3,736.1 821.7,746.3 823.0,756.5 824.4,765.8 825.8,774.3 827.1,781.1 828.5,784.7 829.8,789.0 831.2,786.1 832.6,782.9 833.9,779.1 835.3,772.2 836.6,762.8 838.0,752.9 839.4,738.7 840.7,724.2 842.1,711.3 843.4,694.0 844.8,676.1 846.2,659.6 847.5,641.5 848.9,622.1 850.2,603.8 851.6,585.0 852.9,565.6 854.3,549.3 855.7,534.2 857.0,519.6 858.4,506.1 859.7,496.6 861.1,487.9 862.5,483.1 863.8,479.4 865.2,477.2 866.5,481.0 867.9,488.7 869.3,498.9 870.6,511.6 872.0,526.4 873.3,542.2 874.7,560.9 876.1,582.5 877.4,602.6 878.8,626.0 880.1,650.2 881.5,672.8 882.9,696.8 884.2,720.1 885.6,743.7 886.9,768.1 888.3,788.0 889.6,808.2 891.0,824.2 892.4,836.9 893.7,848.3 895.1,856.2 896.4,861.1 897.8,861.5 899.2,857.9 900.5,849.2 901.9,838.2 903.2,822.1 904.6,804.9 906.0,787.7 907.3,766.1 908.7,743.4 910.0,720.6 911.4,693.9 912.8,669.7 914.1,642.9 915.5,617.0 916.8,590.3 918.2,565.7 919.5,543.8 920.9,523.2 922.3,504.6 923.6,490.1 925.0,480.6 926.3,470.7 927.7,469.6 929.1,469.7 930.4,477.3 931.8,488.5 933.1,502.1 934.5,518.7 935.9,538.5 937.2,561.2 938.6,583.9 939.9,609.1 941.3,636.0 942.7,665.2 944.0,693.4 945.4,718.9 946.7,749.4 948.1,773.5 949.5,798.1 950.8,821.0 952.2,836.6 953.5,851.9 954.9,858.5 956.2,858.6 957.6,857.4 959.0,853.8 960.3,843.8 961.7,836.0 963.0,822.2 964.4,805.4 965.8,788.1 967.1,767.4 968.5,745.2 969.8,717.7 971.2,689.9 972.6,660.5 973.9,626.9 975.3,594.6 976.6,560.4 978.0,527.1 979.4,497.7 980.7,473.2 982.1,452.1 983.4,436.1 984.8,428.2 986.1,428.1 987.5,435.5 988.9,444.7 990.2,461.1 991.6,480.3 992.9,500.5 994.3,526.0 995.7,554.7 997.0,585.4 998.4,615.5 999.7,648.7 1001.1,682.9 1002.5,714.1 1003.8,745.1 1005.2,775.6 1006.5,803.3 1007.9,828.1 1009.3,849.7 1010.6,868.2 1012.0,883.0 1013.3,888.6 1014.7,892.8 1016.0,888.9 1017.4,879.8 1018.8,866.4 1020.1,850.5 1021.5,827.2 1022.8,804.1 1024.2,777.8 1025.6,750.7 1026.9,721.9 1028.3,691.6 1029.6,660.3 1031.0,632.1 1032.4,603.4 1033.7,578.2 1035.1,553.1 1036.4,531.1 1037.8,512.6 1039.2,496.8 1040.5,484.6 1041.9,475.9 1043.2,469.8 1044.6,469.4 1046.0,473.9 1047.3,483.9 1048.7,499.3 1050.0,517.7 1051.4,539.3 1052.7,561.7 1054.1,588.2 1055.5,614.0 1056.8,639.1 1058.2,663.8 1059.5,688.8 1060.9,711.4 1062.3,731.5 1063.6,752.0 1065.0,770.2 1066.3,786.2 1067.7,801.1 1069.1,813.4 1070.4,822.2 1071.8,828.2 1073.1,829.1 1074.5,827.9 1075.9,824.1 1077.2,817.7 1078.6,810.2 1079.9,798.7 1081.3,785.8 1082.6,772.8 1084.0,756.7 1085.4,740.9 1086.7,722.5 1088.1,704.9 1089.4,686.3 1090.8,665.9 1092.2,648.6 1093.5,631.5 1094.9,613.8 1096.2,596.9 1097.6,582.7 1099.0,567.6 1100.3,557.2 1101.7,547.2 1103.0,540.2 1104.4,534.5 1105.8,532.6 1107.1,532.2 1108.5,536.5 1109.8,537.1 1111.2,543.8 1112.6,549.6 1113.9,556.6 1115.3,563.9 1116.6,574.6 1118.0,582.2 1119.3,593.1 1120.7,605.5 1122.1,617.0 1123.4,627.7 1124.8,639.2 1126.1,652.6 1127.5,665.1 1128.9,674.3 1130.2,688.3 1131.6,699.4 1132.9,710.6 1134.3,721.0 1135.7,731.1 1137.0,739.1 1138.4,748.1 1139.7,756.2 1141.1,761.8 1142.5,765.9 1143.8,770.3 1145.2,770.5 1146.5,773.8 1147.9,770.9 1149.2,765.0 1150.6,760.6 1152.0,748.5 1153.3,737.6 1154.7,725.9 1156.0,708.9 1157.4,693.9 1158.8,676.3 1160.1,657.8 1161.5,639.0 1162.8,622.2 1164.2,603.5 1165.6,585.5 1166.9,565.5 1168.3,550.3 1169.6,534.6 1171.0,520.2 1172.4,507.7 1173.7,497.3 1175.1,490.8 1176.4,484.8 1177.8,481.8 1179.1,482.2 1180.5,488.8 1181.9,497.5 1183.2,510.9 1184.6,530.3 1185.9,549.0 1187.3,574.6 1188.7,597.1 1190.0,624.6 1191.4,655.0 1192.7,682.3 1194.1,711.9 1195.5,743.6 1196.8,772.8 1198.2,800.5 1199.5,825.5 1200.9,852.2 1202.3,873.6 1203.6,894.4 1205.0,911.3 1206.3,923.5 1207.7,933.3 1209.1,939.0 1210.4,937.7 1211.8,929.1 1213.1,916.9 1214.5,899.3 1215.8,878.5 1217.2,852.4 1218.6,822.1 1219.9,790.1 1221.3,753.3 1222.6,719.0 1224.0,679.8 1225.4,643.7 1226.7,606.6 1228.1,569.5 1229.4,533.1 1230.8,500.1 1232.2,467.3 1233.5,441.6 1234.9,416.4 1236.2,396.3 1237.6,380.8 1239.0,371.7 1240.3,370.0 1241.7,372.3 1243.0,381.7 1244.4,400.0 1245.7,422.8 1247.1,447.3 1248.5,479.5 1249.8,512.7 1251.2,552.0 1252.5,588.5 1253.9,630.6 1255.3,670.4 1256.6,712.4 1258.0,752.6 1259.3,793.1 1260.7,830.1 1262.1,865.2 1263.4,897.9 1264.8,925.1 1266.1,948.9 1267.5,969.4 1268.9,979.3 1270.2,985.6 1271.6,984.5 1272.9,975.0 1274.3,960.7 1275.7,938.4 1277.0,912.0 1278.4,880.4 1279.7,843.7 1281.1,805.3 1282.4,764.5 1283.8,720.5 1285.2,676.4 1286.5,632.9 1287.9,590.3 1289.2,546.2 1290.6,506.3 1292.0,465.9 1293.3,430.0 1294.7,397.7 1296.0,370.7 1297.4,347.9 1298.8,332.9 1300.1,322.2 1301.5,321.7 1302.8,326.0 1304.2,340.7 1305.6,359.4 1306.9,385.7 1308.3,417.3 1309.6,451.1 1311.0,492.4 1312.3,532.0 1313.7,577.2 1315.1,622.1 1316.4,667.1 1317.8,711.6 1319.1,756.0 1320.5,795.2 1321.9,835.9 1323.2,870.3 1324.6,899.7 1325.9,925.2 1327.3,945.7 1328.7,958.1 1330.0,964.7 1331.4,961.6 1332.7,953.2 1334.1,940.1 1335.5,921.7 1336.8,899.6 1338.2,871.0 1339.5,840.6 1340.9,809.9 1342.2,774.8 1343.6,738.0 1345.0,699.6 1346.3,662.4 1347.7,622.5 1349.0,587.0 1350.4,550.8 1351.8,514.7 1353.1,485.8 1354.5,455.5 1355.8,430.9 1357.2,409.6 1358.6,395.1 1359.9,383.9 1361.3,378.3 1362.6,380.0 1364.0,387.3 1365.4,399.5 1366.7,417.8 1368.1,440.8 1369.4,468.1 1370.8,500.3 1372.2,533.7 1373.5,567.1 1374.9,602.7 1376.2,642.7 1377.6,680.3 1378.9,718.3 1380.3,753.3 1381.7,787.8 1383.0,821.0 1384.4,850.5 1385.7,878.0 1387.1,899.5 1388.5,919.5 1389.8,931.7 1391.2,937.2 1392.5,940.2 1393.9,934.7 1395.3,925.3 1396.6,909.3 1398.0,890.4 1399.3,865.8 1400.7,842.5 1402.1,812.6 1403.4,784.0 1404.8,750.7 1406.1,717.2 1407.5,683.6 1408.8,652.2 1410.2,617.6 1411.6,586.3 1412.9,556.3 1414.3,528.7 1415.6,505.3 1417.0,482.4 1418.4,464.7 1419.7,453.1 1421.1,442.5 1422.4,438.9 1423.8,442.2 1425.2,446.9 1426.5,459.4 1427.9,471.3 1429.2,488.8 1430.6,510.4 1432.0,532.9 1433.3,556.2 1434.7,582.8 1436.0,609.1 1437.4,634.7 1438.8,661.1 1440.1,686.8 1441.5,711.9 1442.8,733.8 1444.2,756.7 1445.5,775.4 1446.9,789.3 1448.3,801.9 1449.6,809.2 1451.0,815.3 1452.3,814.1 1453.7,809.9 1455.1,802.9 1456.4,793.3 1457.8,783.6 1459.1,767.8 1460.5,753.8 1461.9,736.6 1463.2,720.7 1464.6,701.1 1465.9,684.4 1467.3,663.4 1468.7,647.5 1470.0,628.1 1471.4,611.3 1472.7,598.6 1474.1,584.5 1475.4,571.6 1476.8,563.6 1478.2,556.6 1479.5,554.8 1480.9,554.2 1482.2,554.6 1483.6,559.6 1485.0,564.1 1486.3,571.2 1487.7,580.6 1489.0,589.2 1490.4,598.0 1491.8,609.7 1493.1,620.9 1494.5,633.0 1495.8,644.8 1497.2,657.9 1498.6,668.3 1499.9,680.3 1501.3,691.5 1502.6,703.4 1504.0,713.1 1505.3,719.7 1506.7,727.2 1508.1,733.6 1509.4,738.4 1510.8,739.0 1512.1,738.3 1513.5,739.3 1514.9,736.0 1516.2,734.3 1517.6,733.4 1518.9,729.4 1520.3,724.3 1521.7,720.2 1523.0,715.4 1524.4,710.6 1525.7,706.5 1527.1,700.5 1528.5,693.4 1529.8,688.5 1531.2,681.6 1532.5,674.5 1533.9,669.1 1535.3,665.1 1536.6,658.1 1538.0,653.7 1539.3,649.2 1540.7,646.9 1542.0,641.9 1543.4,641.2 1544.8,639.5 1546.1,639.1 1547.5,638.6 1548.8,638.6 1550.2,638.6 1551.6,638.0 1552.9,640.1 1554.3,639.9 1555.6,641.3 1557.0,641.0 1558.4,641.8 1559.7,642.5 1561.1,642.3 1562.4,644.3 1563.8,644.8 1565.2,643.4 1566.5,644.5 1567.9,644.8 1569.2,648.0 1570.6,649.0 1571.9,651.7 1573.3,655.6 1574.7,657.8 1576.0,662.0 1577.4,664.7 1578.7,668.5 1580.1,672.2 1581.5,676.7 1582.8,680.4 1584.2,685.3 1585.5,687.8 1586.9,692.2 1588.3,694.6 1589.6,696.3 1591.0,697.5 1592.3,699.0 1593.7,695.9 1595.1,694.2 1596.4,688.6 1597.8,682.2 1599.1,676.3 1600.5,668.5 1601.8,660.2 1603.2,653.3 1604.6,643.3 1605.9,635.7 1607.3,624.5 1608.6,615.8 1610.0,608.8 1611.4,601.6 1612.7,593.7 1614.1,585.9 1615.4,582.0 1616.8,576.7 1618.2,574.0 1619.5,573.8 1620.9,572.2 1622.2,576.2 1623.6,577.4 1625.0,583.2 1626.3,589.8 1627.7,597.7 1629.0,606.8 1630.4,615.6 1631.8,626.3 1633.1,635.4 1634.5,646.7 1635.8,658.2 1637.2,669.8 1638.5,678.9 1639.9,689.5 1641.3,699.2 1642.6,707.4 1644.0,717.7 1645.3,722.0 1646.7,729.8 1648.1,734.9 1649.4,736.6 1650.8,737.1 1652.1,735.8 1653.5,734.5 1654.9,727.9 1656.2,721.3 1657.6,715.7 1658.9,706.5 1660.3,696.1 1661.7,684.4 1663.0,672.0 1664.4,662.6 1665.7,650.4 1667.1,638.5 1668.4,630.7 1669.8,620.5 1671.2,611.5 1672.5,606.5 1673.9,601.6 1675.2,599.4 1676.6,596.9 1678.0,597.9 1679.3,600.2 1680.7,605.4 1682.0,610.7 1683.4,615.3 1684.8,622.3 1686.1,629.2 1687.5,636.3 1688.8,641.8 1690.2,649.8 1691.6,660.3 1692.9,666.6 1694.3,676.3 1695.6,682.7 1697.0,689.3 1698.4,698.0 1699.7,703.3 1701.1,709.2 1702.4,715.4 1703.8,717.3 1705.1,721.0 1706.5,723.7 1707.9,721.9 1709.2,722.5 1710.6,719.0 1711.9,715.7 1713.3,709.7 1714.7,706.4 1716.0,699.5 1717.4,693.3 1718.7,685.7 1720.1,679.1 1721.5,669.8 1722.8,663.7 1724.2,653.9 1725.5,646.9 1726.9,640.8 1728.3,633.2 1729.6,628.6 1731.0,622.3 1732.3,616.7 1733.7,614.3 1735.0,609.6 1736.4,608.5 1737.8,608.5 1739.1,608.9 1740.5,612.0 1741.8,613.4 1743.2,617.2 1744.6,623.4 1745.9,629.6 1747.3,633.9 1748.6,640.0 1750.0,649.7 1751.4,654.2 1752.7,662.9 1754.1,668.5 1755.4,675.5 1756.8,683.5 1758.2,686.4 1759.5,693.4 1760.9,696.5 1762.2,702.3 1763.6,703.0 1764.9,703.3 1766.3,705.6 1767.7,704.3 1769.0,701.6 1770.4,697.4 1771.7,694.1 1773.1,690.6 1774.5,684.7 1775.8,679.7 1777.2,672.9 1778.5,666.7 1779.9,660.0 1781.3,653.2 1782.6,646.8 1784.0,640.2 1785.3,636.7 1786.7,631.1 1788.1,626.4 1789.4,622.5 1790.8,620.9 1792.1,618.9 1793.5,619.4 1794.9,620.6 1796.2,619.8 1797.6,625.0 1798.9,627.0 1800.3,630.0 1801.6,634.7 1803.0,640.2 1804.4,646.3 1805.7,652.8 1807.1,658.0 1808.4,666.3 1809.8,671.6 1811.2,679.2 1812.5,682.9 1813.9,688.2 1815.2,695.5 1816.6,700.5 1818.0,703.0 1819.3,707.4 1820.7,709.9 1822.0,712.4 1823.4,715.7 1824.8,714.3 1826.1,713.5 1827.5,711.8 1828.8,709.6 1830.2,709.2 1831.5,706.5 1832.9,703.2 1834.3,698.7 1835.6,693.9 1837.0,686.9 1838.3,681.9 1839.7,677.3 1841.1,671.3 1842.4,664.3 1843.8,657.3 1845.1,651.3 1846.5,645.3" fill="none" stroke="#0ff" stroke-width="6" stroke-dasharray="21 4 11 4" stroke-linejoin="round"/>
<polyline points="215.5,659.7 216.9,666.9 218.2,660.9 219.6,662.6 220.9,665.3 222.3,663.8 223.7,663.5 225.0,662.1 226.4,666.5 227.7,664.9 229.1,660.4 230.5,666.3 231.8,663.4 233.2,664.6 234.5,662.6 235.9,663.8 237.2,659.9 238.6,661.2 240.0,661.5 241.3,662.6 242.7,666.1 244.0,659.2 245.4,665.7 246.8,660.6 248.1,666.0 249.5,662.8 250.8,662.2 252.2,663.3 253.6,663.6 254.9,663.8 256.3,663.8 257.6,660.8 259.0,659.3 260.4,659.2 261.7,662.8 263.1,663.5 264.4,659.8 265.8,659.8 267.1,665.2 268.5,665.0 269.9,662.9 271.2,664.3 272.6,660.4 273.9,660.5 275.3,662.8 276.7,667.0 278.0,660.4 279.4,661.5 280.7,663.2 282.1,663.1 283.5,664.9 284.8,660.2 286.2,665.6 287.5,665.3 288.9,660.8 290.3,666.1 291.6,666.2 293.0,663.6 294.3,666.3 295.7,661.2 297.1,665.2 298.4,663.1 299.8,660.8 301.1,664.8 302.5,661.5 303.8,666.7 305.2,661.9 306.6,664.7 307.9,661.5 309.3,660.5 310.6,663.9 312.0,665.9 313.4,666.9 314.7,665.6 316.1,659.9 317.4,665.7 318.8,661.2 320.2,665.1 321.5,663.3 322.9,662.1 324.2,659.7 325.6,660.7 327.0,659.8 328.3,661.8 329.7,662.3 331.0,659.8 332.4,663.9 333.7,663.8 335.1,661.5 336.5,662.0 337.8,660.1 339.2,665.6 340.5,665.1 341.9,664.4 343.3,659.6 344.6,664.2 346.0,666.2 347.3,659.9 348.7,659.7 350.1,666.1 351.4,665.6 352.8,660.7 354.1,665.0 355.5,663.0 356.9,666.2 358.2,663.8 359.6,665.8 360.9,665.4 362.3,664.9 363.6,665.6 365.0,665.5 366.4,661.6 367.7,665.2 369.1,666.3 370.4,660.4 371.8,662.5 373.2,666.7 374.5,666.7 375.9,663.2 377.2,659.9 378.6,666.7 380.0,660.0 381.3,665.7 382.7,663.1 384.0,662.2 385.4,660.6 386.8,664.7 388.1,664.2 389.5,665.8 390.8,662.3 392.2,661.2 393.6,660.3 394.9,660.9 396.3,662.5 397.6,664.0 399.0,663.8 400.3,666.7 401.7,665.4 403.1,666.8 404.4,663.9 405.8,663.1 407.1,664.1 408.5,661.5 409.9,661.7 411.2,659.9 412.6,666.5 413.9,663.4 415.3,666.9 416.7,665.2 418.0,660.3 419.4,660.8 420.7,697.2 422.1,661.2 423.5,661.2 424.8,612.1 426.2,663.1 427.5,659.2 428.9,665.2 430.2,675.4 431.6,665.5 433.0,663.3 434.3,665.1 435.7,620.6 437.0,665.6 438.4,664.4 439.8,665.2 441.1,665.7 442.5,664.3 443.8,659.2 445.2,659.3 446.6,660.3 447.9,660.6 449.3,665.1 450.6,631.2 452.0,663.8 453.4,664.6 454.7,687.5 456.1,662.8 457.4,659.5 458.8,661.0 460.1,661.5 461.5,667.1 462.9,659.7 464.2,661.4 465.6,610.5 466.9,663.5 468.3,701.3 469.7,660.8 471.0,665.6 472.4,659.8 473.7,689.3 475.1,661.8 476.5,664.3 477.8,664.6 479.2,662.6 480.5,666.5 481.9,688.7 483.3,663.9 484.6,660.2 486.0,666.9 487.3,660.1 488.7,666.8 490.1,690.0 491.4,663.0 492.8,665.4 494.1,664.5 495.5,647.0 496.8,665.2 498.2,664.7 499.6,662.0 500.9,663.1 502.3,663.7 503.6,666.3 505.0,696.1 506.4,660.8 507.7,664.4 509.1,666.1 510.4,662.4 511.8,682.3 513.2,666.8 514.5,660.9 515.9,661.0 517.2,666.9 518.6,666.9 520.0,663.9 521.3,662.8 522.7,662.4 524.0,663.8 525.4,666.4 526.7,659.3 528.1,660.0 529.5,662.7 530.8,662.3 532.2,664.4 533.5,665.8 534.9,667.0 536.3,659.3 537.6,666.6 539.0,666.1 540.3,660.3 541.7,665.4 543.1,663.5 544.4,663.9 545.8,662.2 547.1,660.7 548.5,664.8 549.9,666.6 551.2,662.4 552.6,663.1 553.9,664.6 555.3,660.8 556.7,663.7 558.0,663.2 559.4,666.1 560.7,659.2 562.1,660.4 563.4,659.7 564.8,666.3 566.2,662.6 567.5,662.9 568.9,664.5 570.2,659.3 571.6,660.8 573.0,664.2 574.3,666.6 575.7,665.6 577.0,665.9 578.4,660.5 579.8,662.8 581.1,663.9 582.5,665.0 583.8,664.0 585.2,665.0 586.6,666.8 587.9,660.8 589.3,659.8 590.6,665.7 592.0,660.0 593.3,663.7 594.7,660.3 596.1,659.2 597.4,662.8 598.8,659.3 600.1,660.0 601.5,663.1 602.9,661.8 604.2,662.6 605.6,659.5 606.9,664.0 608.3,664.0 609.7,660.9 611.0,660.8 612.4,663.1 613.7,665.2 615.1,666.6 616.5,659.2 617.8,665.8 619.2,665.2 620.5,659.3 621.9,665.1 623.2,661.3 624.6,664.6 626.0,662.7 627.3,665.1 628.7,666.5 630.0,660.9 631.4,660.4 632.8,666.4 634.1,664.2 635.5,660.5 636.8,660.7 638.2,661.5 639.6,664.7 640.9,661.7 642.3,662.4 643.6,661.4 645.0,659.2 646.4,665.7 647.7,664.3 649.1,663.3 650.4,661.0 651.8,661.7 653.2,664.4 654.5,659.6 655.9,665.3 657.2,664.9 658.6,663.2 659.9,658.5 661.3,661.2 662.7,662.5 664.0,661.5 665.4,660.9 666.7,662.4 668.1,665.4 669.5,664.6 670.8,663.8 672.2,660.6 673.5,665.6 674.9,663.7 676.3,662.6 677.6,662.6 679.0,658.2 680.3,661.8 681.7,664.5 683.1,663.1 684.4,663.8 685.8,662.0 687.1,660.2 688.5,664.3 689.8,660.1 691.2,657.6 692.6,661.7 693.9,661.7 695.3,662.6 696.6,661.0 698.0,664.0 699.4,660.3 700.7,660.3 702.1,657.8 703.4,660.1 704.8,658.0 706.2,663.8 707.5,662.4 708.9,662.6 710.2,661.2 711.6,657.9 713.0,658.3 714.3,657.5 715.7,658.1 717.0,661.3 718.4,663.8 719.8,660.9 721.1,662.5 722.5,661.0 723.8,658.3 725.2,658.8 726.5,660.5 727.9,664.5 729.3,665.3 730.6,663.7 732.0,666.6 733.3,669.6 734.7,666.0 736.1,669.1 737.4,674.0 738.8,672.4 740.1,676.4 741.5,675.5 742.9,669.9 744.2,671.0 745.6,669.8 746.9,674.6 748.3,671.8 749.7,671.0 751.0,676.8 752.4,676.6 753.7,673.2 755.1,677.0 756.4,670.7 757.8,675.7 759.2,676.8 760.5,670.3 761.9,672.8 763.2,669.7 764.6,674.8 766.0,673.2 767.3,670.9 768.7,665.7 770.0,658.1 771.4,650.3 772.8,646.2 774.1,645.5 775.5,645.2 776.8,639.4 778.2,634.9 779.6,633.0 780.9,622.5 782.3,624.2 783.6,618.2 785.0,613.4 786.3,614.5 787.7,611.5 789.1,609.5 790.4,605.1 791.8,608.7 793.1,603.1 794.5,604.2 795.9,604.0 797.2,606.8 798.6,610.8 799.9,613.9 801.3,615.8 802.7,625.5 804.0,624.2 805.4,632.7 806.7,639.0 808.1,645.3 809.5,655.2 810.8,660.2 812.2,675.5 813.5,684.0 814.9,688.8 816.3,697.0 817.6,713.6 819.0,725.1 820.3,731.7 821.7,741.7 823.0,757.6 824.4,764.6 825.8,769.3 827.1,779.3 828.5,784.8 829.8,782.7 831.2,788.6 832.6,782.1 833.9,775.4 835.3,767.6 836.6,765.5 838.0,748.8 839.4,743.1 840.7,724.7 842.1,716.4 843.4,696.4 844.8,682.7 846.2,667.0 847.5,645.8 848.9,626.3 850.2,607.4 851.6,590.3 852.9,575.7 854.3,557.8 855.7,539.8 857.0,528.0 858.4,519.1 859.7,504.0 861.1,493.8 862.5,492.5 863.8,486.9 865.2,484.4 866.5,488.9 867.9,491.2 869.3,505.5 870.6,513.4 872.0,523.4 873.3,545.6 874.7,561.6 876.1,581.0 877.4,597.1 878.8,620.8 880.1,641.5 881.5,664.5 882.9,689.2 884.2,712.9 885.6,737.3 886.9,756.1 888.3,776.7 889.6,792.9 891.0,810.9 892.4,827.3 893.7,837.5 895.1,848.4 896.4,846.8 897.8,847.8 899.2,848.6 900.5,842.0 901.9,827.3 903.2,820.0 904.6,799.7 906.0,781.4 907.3,765.4 908.7,741.8 910.0,719.1 911.4,699.3 912.8,673.1 914.1,652.3 915.5,625.0 916.8,600.0 918.2,582.3 919.5,558.7 920.9,535.2 922.3,524.2 923.6,506.6 925.0,496.1 926.3,486.9 927.7,480.4 929.1,487.1 930.4,492.1 931.8,501.8 933.1,507.6 934.5,528.1 935.9,544.0 937.2,564.9 938.6,582.5 939.9,606.7 941.3,636.5 942.7,659.2 944.0,684.0 945.4,710.3 946.7,737.6 948.1,757.9 949.5,784.2 950.8,803.7 952.2,818.7 953.5,832.2 954.9,842.0 956.2,842.4 957.6,846.3 959.0,836.5 960.3,831.4 961.7,822.7 963.0,814.9 964.4,796.5 965.8,785.8 967.1,761.6 968.5,742.9 969.8,720.1 971.2,695.7 972.6,668.5 973.9,637.8 975.3,607.8 976.6,576.7 978.0,543.9 979.4,513.7 980.7,487.9 982.1,469.2 983.4,453.4 984.8,442.7 986.1,440.5 987.5,448.7 988.9,457.6 990.2,464.9 991.6,488.9 992.9,502.0 994.3,528.5 995.7,554.4 997.0,581.8 998.4,611.3 999.7,643.4 1001.1,673.2 1002.5,701.6 1003.8,737.5 1005.2,762.1 1006.5,790.4 1007.9,816.3 1009.3,831.4 1010.6,852.3 1012.0,868.0 1013.3,871.4 1014.7,880.2 1016.0,880.4 1017.4,871.9 1018.8,859.8 1020.1,843.8 1021.5,826.6 1022.8,803.3 1024.2,782.1 1025.6,751.8 1026.9,724.0 1028.3,694.0 1029.6,665.8 1031.0,643.7 1032.4,614.0 1033.7,588.2 1035.1,561.9 1036.4,543.6 1037.8,525.0 1039.2,508.8 1040.5,492.4 1041.9,487.1 1043.2,478.0 1044.6,475.0 1046.0,481.3 1047.3,484.1 1048.7,503.5 1050.0,514.2 1051.4,537.1 1052.7,561.5 1054.1,583.7 1055.5,605.1 1056.8,636.9 1058.2,660.7 1059.5,680.5 1060.9,702.6 1062.3,724.2 1063.6,743.3 1065.0,762.5 1066.3,778.9 1067.7,796.7 1069.1,807.2 1070.4,817.3 1071.8,821.9 1073.1,828.8 1074.5,821.9 1075.9,825.0 1077.2,813.7 1078.6,805.7 1079.9,793.5 1081.3,783.0 1082.6,770.4 1084.0,759.6 1085.4,739.3 1086.7,724.1 1088.1,702.1 1089.4,686.9 1090.8,666.3 1092.2,650.3 1093.5,631.8 1094.9,615.1 1096.2,603.5 1097.6,587.5 1099.0,575.0 1100.3,566.0 1101.7,550.3 1103.0,544.9 1104.4,538.3 1105.8,534.0 1107.1,539.5 1108.5,536.6 1109.8,545.6 1111.2,547.0 1112.6,550.8 1113.9,557.6 1115.3,565.4 1116.6,574.0 1118.0,585.2 1119.3,591.2 1120.7,607.1 1122.1,612.9 1123.4,627.2 1124.8,641.4 1126.1,650.0 1127.5,661.3 1128.9,676.5 1130.2,683.8 1131.6,699.5 1132.9,706.8 1134.3,719.1 1135.7,723.0 1137.0,735.3 1138.4,745.0 1139.7,749.6 1141.1,752.6 1142.5,765.1 1143.8,769.0 1145.2,763.7 1146.5,771.5 1147.9,771.3 1149.2,767.5 1150.6,754.5 1152.0,747.7 1153.3,735.7 1154.7,727.6 1156.0,712.1 1157.4,691.9 1158.8,678.0 1160.1,662.5 1161.5,642.2 1162.8,629.1 1164.2,603.9 1165.6,586.2 1166.9,574.7 1168.3,559.9 1169.6,543.6 1171.0,523.9 1172.4,517.3 1173.7,505.2 1175.1,498.7 1176.4,491.3 1177.8,488.0 1179.1,487.2 1180.5,492.9 1181.9,495.5 1183.2,510.5 1184.6,522.9 1185.9,541.6 1187.3,566.2 1188.7,588.8 1190.0,614.7 1191.4,641.4 1192.7,672.7 1194.1,694.9 1195.5,724.7 1196.8,756.3 1198.2,778.4 1199.5,808.6 1200.9,830.8 1202.3,853.2 1203.6,875.0 1205.0,890.7 1206.3,902.0 1207.7,914.3 1209.1,923.1 1210.4,926.2 1211.8,917.5 1213.1,912.1 1214.5,897.2 1215.8,873.8 1217.2,855.6 1218.6,825.0 1219.9,798.5 1221.3,767.7 1222.6,733.9 1224.0,694.8 1225.4,663.2 1226.7,624.6 1228.1,591.6 1229.4,556.4 1230.8,519.0 1232.2,493.1 1233.5,466.7 1234.9,440.6 1236.2,423.9 1237.6,408.2 1239.0,398.3 1240.3,390.8 1241.7,387.4 1243.0,398.0 1244.4,410.2 1245.7,432.3 1247.1,459.1 1248.5,482.8 1249.8,514.0 1251.2,552.2 1252.5,587.3 1253.9,627.4 1255.3,663.1 1256.6,699.5 1258.0,738.2 1259.3,781.4 1260.7,815.1 1262.1,847.3 1263.4,877.6 1264.8,907.2 1266.1,931.8 1267.5,948.9 1268.9,959.7 1270.2,966.6 1271.6,966.9 1272.9,955.3 1274.3,947.9 1275.7,923.2 1277.0,899.2 1278.4,874.9 1279.7,837.5 1281.1,802.0 1282.4,769.5 1283.8,728.7 1285.2,687.1 1286.5,647.0 1287.9,603.6 1289.2,558.9 1290.6,527.1 1292.0,485.5 1293.3,449.5 1294.7,425.9 1296.0,398.6 1297.4,376.9 1298.8,358.2 1300.1,345.1 1301.5,343.2 1302.8,351.8 1304.2,358.0 1305.6,376.7 1306.9,403.4 1308.3,425.5 1309.6,462.3 1311.0,496.6 1312.3,534.1 1313.7,572.9 1315.1,611.5 1316.4,658.7 1317.8,700.4 1319.1,738.9 1320.5,775.0 1321.9,814.1 1323.2,847.8 1324.6,875.4 1325.9,899.1 1327.3,922.9 1328.7,932.2 1330.0,939.2 1331.4,939.9 1332.7,936.5 1334.1,925.5 1335.5,907.2 1336.8,886.5 1338.2,860.8 1339.5,833.9 1340.9,802.4 1342.2,769.5 1343.6,734.9 1345.0,701.9 1346.3,663.2 1347.7,623.4 1349.0,589.3 1350.4,558.4 1351.8,525.6 1353.1,491.6 1354.5,470.0 1355.8,442.5 1357.2,424.9 1358.6,403.3 1359.9,395.6 1361.3,393.9 1362.6,391.5 1364.0,402.0 1365.4,409.1 1366.7,428.0 1368.1,450.4 1369.4,472.7 1370.8,504.0 1372.2,533.7 1373.5,566.3 1374.9,600.6 1376.2,636.8 1377.6,673.9 1378.9,706.9 1380.3,745.7 1381.7,777.2 1383.0,810.9 1384.4,834.0 1385.7,864.6 1387.1,886.9 1388.5,900.9 1389.8,921.5 1391.2,925.5 1392.5,927.5 1393.9,925.2 1395.3,916.3 1396.6,903.8 1398.0,884.3 1399.3,863.0 1400.7,843.8 1402.1,814.2 1403.4,785.2 1404.8,756.8 1406.1,721.2 1407.5,693.0 1408.8,659.7 1410.2,622.3 1411.6,597.3 1412.9,568.7 1414.3,535.7 1415.6,515.4 1417.0,490.5 1418.4,472.7 1419.7,462.9 1421.1,454.2 1422.4,443.8 1423.8,444.8 1425.2,456.6 1426.5,462.7 1427.9,473.6 1429.2,496.8 1430.6,508.6 1432.0,534.0 1433.3,558.1 1434.7,582.3 1436.0,609.1 1437.4,633.8 1438.8,658.3 1440.1,678.5 1441.5,709.3 1442.8,732.3 1444.2,748.9 1445.5,770.8 1446.9,782.3 1448.3,798.2 1449.6,803.3 1451.0,808.5 1452.3,812.3 1453.7,810.8 1455.1,798.2 1456.4,792.3 1457.8,778.6 1459.1,767.3 1460.5,754.1 1461.9,735.2 1463.2,723.3 1464.6,703.5 1465.9,687.9 1467.3,670.2 1468.7,647.8 1470.0,631.5 1471.4,617.7 1472.7,599.1 1474.1,593.1 1475.4,576.9 1476.8,565.2 1478.2,563.6 1479.5,559.1 1480.9,559.2 1482.2,558.4 1483.6,556.4 1485.0,565.5 1486.3,574.5 1487.7,579.8 1489.0,587.3 1490.4,594.0 1491.8,608.2 1493.1,616.6 1494.5,633.2 1495.8,642.9 1497.2,654.5 1498.6,667.0 1499.9,678.3 1501.3,687.6 1502.6,697.9 1504.0,709.2 1505.3,715.9 1506.7,723.1 1508.1,732.7 1509.4,737.3 1510.8,739.8 1512.1,737.1 1513.5,736.8 1514.9,737.3 1516.2,736.6 1517.6,733.0 1518.9,730.1 1520.3,719.8 1521.7,715.8 1523.0,713.8 1524.4,711.4 1525.7,701.7 1527.1,700.6 1528.5,693.9 1529.8,684.2 1531.2,683.6 1532.5,679.1 1533.9,668.8 1535.3,668.7 1536.6,656.5 1538.0,657.0 1539.3,651.6 1540.7,649.4 1542.0,645.9 1543.4,643.7 1544.8,642.6 1546.1,646.4 1547.5,641.8 1548.8,644.0 1550.2,642.2 1551.6,646.3 1552.9,646.2 1554.3,647.8 1555.6,645.3 1557.0,646.5 1558.4,650.1 1559.7,651.8 1561.1,651.9 1562.4,654.1 1563.8,650.3 1565.2,653.6 1566.5,651.7 1567.9,650.9 1569.2,652.3 1570.6,651.4 1571.9,655.6 1573.3,653.4 1574.7,652.1 1576.0,657.5 1577.4,658.1 1578.7,666.8 1580.1,664.6 1581.5,669.7 1582.8,674.7 1584.2,677.4 1585.5,680.7 1586.9,684.7 1588.3,688.8 1589.6,690.9 1591.0,690.1 1592.3,693.0 1593.7,687.7 1595.1,688.4 1596.4,682.8 1597.8,676.0 1599.1,675.6 1600.5,672.1 1601.8,663.9 1603.2,655.8 1604.6,651.0 1605.9,638.3 1607.3,635.4 1608.6,625.2 1610.0,620.3 1611.4,608.2 1612.7,608.1 1614.1,601.8 1615.4,597.0 1616.8,586.9 1618.2,584.5 1619.5,583.4 1620.9,585.2 1622.2,585.1 1623.6,590.3 1625.0,594.0 1626.3,599.4 1627.7,605.0 1629.0,609.4 1630.4,617.9 1631.8,626.0 1633.1,632.1 1634.5,640.7 1635.8,649.9 1637.2,658.2 1638.5,670.9 1639.9,676.8 1641.3,686.2 1642.6,692.2 1644.0,700.0 1645.3,707.0 1646.7,713.3 1648.1,720.6 1649.4,720.1 1650.8,723.0 1652.1,726.4 1653.5,724.2 1654.9,718.1 1656.2,713.4 1657.6,706.9 1658.9,698.3 1660.3,695.0 1661.7,686.1 1663.0,673.4 1664.4,664.9 1665.7,655.3 1667.1,652.7 1668.4,642.0 1669.8,629.3 1671.2,622.0 1672.5,616.6 1673.9,613.4 1675.2,613.6 1676.6,610.5 1678.0,610.6 1679.3,609.6 1680.7,613.8 1682.0,612.4 1683.4,620.6 1684.8,618.8 1686.1,628.6 1687.5,635.0 1688.8,640.2 1690.2,647.1 1691.6,652.8 1692.9,658.3 1694.3,660.6 1695.6,670.0 1697.0,680.8 1698.4,681.3 1699.7,691.8 1701.1,693.0 1702.4,695.6 1703.8,703.9 1705.1,706.5 1706.5,704.7 1707.9,707.0 1709.2,705.5 1710.6,705.3 1711.9,699.8 1713.3,699.6 1714.7,696.5 1716.0,695.4 1717.4,688.4 1718.7,681.4 1720.1,677.1 1721.5,667.2 1722.8,667.8 1724.2,662.0 1725.5,652.1 1726.9,645.6 1728.3,643.6 1729.6,635.9 1731.0,633.6 1732.3,628.4 1733.7,622.0 1735.0,621.2 1736.4,620.8 1737.8,619.3 1739.1,619.3 1740.5,621.9 1741.8,621.0 1743.2,623.6 1744.6,629.4 1745.9,629.7 1747.3,634.3 1748.6,640.3 1750.0,647.3 1751.4,653.8 1752.7,661.4 1754.1,666.5 1755.4,670.2 1756.8,677.8 1758.2,681.4 1759.5,687.3 1760.9,685.7 1762.2,696.4 1763.6,695.8 1764.9,698.1 1766.3,702.0 1767.7,697.7 1769.0,698.0 1770.4,695.3 1771.7,695.5 1773.1,687.6 1774.5,680.9 1775.8,677.7 1777.2,678.9 1778.5,671.8 1779.9,664.1 1781.3,661.8 1782.6,652.1 1784.0,654.3 1785.3,649.7 1786.7,640.4 1788.1,634.8 1789.4,633.1 1790.8,636.6 1792.1,630.4 1793.5,627.5 1794.9,633.9 1796.2,631.7 1797.6,635.5 1798.9,632.4 1800.3,636.4 1801.6,641.2 1803.0,644.3 1804.4,647.2 1805.7,655.7 1807.1,658.6 1808.4,665.5 1809.8,670.1 1811.2,670.3 1812.5,681.2 1813.9,679.5 1815.2,688.2 1816.6,690.8 1818.0,696.0 1819.3,695.3 1820.7,698.0 1822.0,705.1 1823.4,700.5 1824.8,703.2 1826.1,699.1 1827.5,704.5 1828.8,700.0 1830.2,698.9 1831.5,700.2 1832.9,691.6 1834.3,690.7 1835.6,685.8 1837.0,683.8 1838.3,684.7 1839.7,682.5 1841.1,675.0 1842.4,673.6 1843.8,666.6 1845.1,659.0 1846.5,657.1" fill="none" stroke="#f0f" stroke-width="6" stroke-linejoin="round"/>
<path d="M210.0,659.7a5.5,5.5 0 1,0 11.0,0a5.5,5.5 0 1,0 -11.0,0M211.4,666.9a5.5,5.5 0 1,0 11.0,0a5.5,5.5 0 1,0 -11.0,0M212.7,660.9a5.5,5.5 0 1,0 11.0,0a5.5,5.5 0 1,0 -11.0,0M214.1,662.6a5.5,5.5 0 1,0 11.0,0a5.5,5.5 0 1,0 -11.0,0M215.4,665.3a5.5,5.5 0 1,0 11.0,0a5.5,5.5 0 1,0 -11.0,0M216.8,663.8a5.5,5.5 0 1,0 11.0,0a5.5,5.5 0 1,0 -11.0,0M218.2,663.5a5.5,5.5 0 1,0 11.0,0a5.5,5.5 0 1,0 -11.0,0M219.5,662.1a5.5,5.5 0 1,0 11.0,0a5.5,5.5 0 1,0 -11.0,0M220.9,666.5a5.5,5.5 0 1,0 11.0,0a5.5,5.5 0 1,0 -11.0,0M222.2,664.9a5.5,5.5 0 1,0 11.0,0a5.5,5.5 0 1,0 -11.0,0M223.6,660.4a5.5,5.5 0 1,0 11.0,0a5.5,5.5 0 1,0 -11.0,0M225.0,666.3a5.5,5.5 0 1,0 11.0,0a5.5,5.5 0 1,0 -11.0,0M226.3,663.4a5.5,5.5 0 1,0 11.0,0a5.5,5.5 0 1,0 -11.0,0M227.7,664.6a5.5,5.5 0 1,0 11.0,0a5.5,5.5 0 1,0 -11.0,0M229.0,662.6a5.5,5.5 0 1,0 11.0,0a5.5,5.5 0 1,0 -11.0,0M230.4,663.8a5.5,5.5 0 1,0 11.0,0a5.5,5.5 0 1,0 -11.0,0M231.7,659.9a5.5,5.5 0 1,0 11.0,0a5.5,5.5 0 1,0 -11.0,0M233.1,661.2a5.5,5.5 0 1,0 11.0,0a5.5,5.5 0 1,0 -11.0,0M234.5,661.5a5.5,5.5 0 1,0 11.0,0a5.5,5.5 0 1,0 -11.0,0M235.8,662.6a5.5,5.5 0 1,0 11.0,0a5.5,5.5 0 1,0 -11.0,0M237.2,666.1a5.5,5.5 0 1,0 11.0,0a5.5,5.5 0 1,0 -11.0,0M238.5,659.2a5.5,5.5 0 1,0 11.0,0a5.5,5.5 0 1,0 -11.0,0M239.9,665.7a5.5,5.5 0 1,0 11.0,0a5.5,5.5 0 1,0 -11.0,0M241.3,660.6a5.5,5.5 0 1,0 11.0,0a5.5,5.5 0 1,0 -11.0,0M242.6,666.0a5.5,5.5 0 1,0 11.0,0a5.5,5.5 0 1,0 -11.0,0M244.0,662.8a5.5,5.5 0 1,0 11.0,0a5.5,5.5 0 1,0 -11.0,0M245.3,662.2a5.5,5.5 0 1,0 11.0,0a5.5,5.5 0 1,0 -11.0,0M246.7,663.3a5.5,5.5 0 1,0 11.0,0a5.5,5.5 0 1,0 -11.0,0M248.1,663.6a5.5,5.5 0 1,0 11.0,0a5.5,5.5 0 1,0 -11.0,0M249.4,663.8a5.5,5.5 0 1,0 11.0,0a5.5,5.5 0 1,0 -11.0,0M250.8,663.8a5.5,5.5 0 1,0 11.0,0a5.5,5.5 0 1,0 -11.0,0M252.1,660.8a5.5,5.5 0 1,0 11.0,0a5.5,5.5 0 1,0 -11.0,0M253.5,659.3a5.5,5.5 0 1,0 11.0,0a5.5,5.5 0 1,0 -11.0,0M254.9,659.2a5.5,5.5 0 1,0 11.0,0a5.5,5.5 0 1,0 -11.0,0M256.2,662.8a5.5,5.5 0 1,0 11.0,0a5.5,5.5 0 1,0 -11.0,0M257.6,663.5a5.5,5.5 0 1,0 11.0,0a5.5,5.5 0 1,0 -11.0,0M258.9,659.8a5.5,5.5 0 1,0 11.0,0a5.5,5.5 0 1,0 -11.0,0M260.3,659.8a5.5,5.5 0 1,0 11.0,0a5.5,5.5 0 1,0 -11.0,0M261.6,665.2a5.5,5.5 0 1,0 11.0,0a5.5,5.5 0 1,0 -11.0,0M263.0,665.0a5.5,5.5 0 1,0 11.0,0a5.5,5.5 0 1,0 -11.0,0M264.4,662.9a5.5,5.5 0 1,0 11.0,0a5.5,5.5 0 1,0 -11.0,0M265.7,664.3a5.5,5.5 0 1,0 11.0,0a5.5,5.5 0 1,0 -11.0,0M267.1,660.4a5.5,5.5 0 1,0 11.0,0a5.5,5.5 0 1,0 -11.0,0M268.4,660.5a5.5,5.5 0 1,0 11.0,0a5.5,5.5 0 1,0 -11.0,0M269.8,662.8a5.5,5.5 0 1,0 11.0,0a5.5,5.5 0 1,0 -11.0,0M271.2,667.0a5.5,5.5 0 1,0 11.0,0a5.5,5.5 0 1,0 -11.0,0M272.5,660.4a5.5,5.5 0 1,0 11.0,0a5.5,5.5 0 1,0 -11.0,0M273.9,661.5a5.5,5.5 0 1,0 11.0,0a5.5,5.5 0 1,0 -11.0,0M275.2,663.2a5.5,5.5 0 1,0 11.0,0a5.5,5.5 0 1,0 -11.0,0M276.6,663.1a5.5,5.5 0 1,0 11.0,0a5.5,5.5 0 1,0 -11.0,0M278.0,664.9a5.5,5.5 0 1,0 11.0,0a5.5,5.5 0 1,0 -11.0,0M279.3,660.2a5.5,5.5 0 1,0 11.0,0a5.5,5.5 0 1,0 -11.0,0M280.7,665.6a5.5,5.5 0 1,0 11.0,0a5.5,5.5 0 1,0 -11.0,0M282.0,665.3a5.5,5.5 0 1,0 11.0,0a5.5,5.5 0 1,0 -11.0,0M283.4,660.8a5.5,5.5 0 1,0 11.0,0a5.5,5.5 0 1,0 -11.0,0M284.8,666.1a5.5,5.5 0 1,0 11.0,0a5.5,5.5 0 1,0 -11.0,0M286.1,666.2a5.5,5.5 0 1,0 11.0,0a5.5,5.5 0 1,0 -11.0,0M287.5,663.6a5.5,5.5 0 1,0 11.0,0a5.5,5.5 0 1,0 -11.0,0M288.8,666.3a5.5,5.5 0 1,0 11.0,0a5.5,5.5 0 1,0 -11.0,0M290.2,661.2a5.5,5.5 0 1,0 11.0,0a5.5,5.5 0 1,0 -11.0,0M291.6,665.2a5.5,5.5 0 1,0 11.0,0a5.5,5.5 0 1,0 -11.0,0M292.9,663.1a5.5,5.5 0 1,0 11.0,0a5.5,5.5 0 1,0 -11.0,0M294.3,660.8a5.5,5.5 0 1,0 11.0,0a5.5,5.5 0 1,0 -11.0,0M295.6,664.8a5.5,5.5 0 1,0 11.0,0a5.5,5.5 0 1,0 -11.0,0M297.0,661.5a5.5,5.5 0 1,0 11.0,0a5.5,5.5 0 1,0 -11.0,0M298.3,666.7a5.5,5.5 0 1,0 11.0,0a5.5,5.5 0 1,0 -11.0,0M299.7,661.9a5.5,5.5 0 1,0 11.0,0a5.5,5.5 0 1,0 -11.0,0M301.1,664.7a5.5,5.5 0 1,0 11.0,0a5.5,5.5 0 1,0 -11.0,0M302.4,661.5a5.5,5.5 0 1,0 11.0,0a5.5,5.5 0 1,0 -11.0,0M303.8,660.5a5.5,5.5 0 1,0 11.0,0a5.5,5.5 0 1,0 -11.0,0M305.1,663.9a5.5,5.5 0 1,0 11.0,0a5.5,5.5 0 1,0 -11.0,0M306.5,665.9a5.5,5.5 0 1,0 11.0,0a5.5,5.5 0 1,0 -11.0,0M307.9,666.9a5.5,5.5 0 1,0 11.0,0a5.5,5.5 0 1,0 -11.0,0M309.2,665.6a5.5,5.5 0 1,0 11.0,0a5.5,5.5 0 1,0 -11.0,0M310.6,659.9a5.5,5.5 0 1,0 11.0,0a5.5,5.5 0 1,0 -11.0,0M311.9,665.7a5.5,5.5 0 1,0 11.0,0a5.5,5.5 0 1,0 -11.0,0M313.3,661.2a5.5,5.5 0 1,0 11.0,0a5.5,5.5 0 1,0 -11.0,0M314.7,665.1a5.5,5.5 0 1,0 11.0,0a5.5,5.5 0 1,0 -11.0,0M316.0,663.3a5.5,5.5 0 1,0 11.0,0a5.5,5.5 0 1,0 -11.0,0M317.4,662.1a5.5,5.5 0 1,0 11.0,0a5.5,5.5 0 1,0 -11.0,0M318.7,659.7a5.5,5.5 0 1,0 11.0,0a5.5,5.5 0 1,0 -11.0,0M320.1,660.7a5.5,5.5 0 1,0 11.0,0a5.5,5.5 0 1,0 -11.0,0M321.5,659.8a5.5,5.5 0 1,0 11.0,0a5.5,5.5 0 1,0 -11.0,0M322.8,661.8a5.5,5.5 0 1,0 11.0,0a5.5,5.5 0 1,0 -11.0,0M324.2,662.3a5.5,5.5 0 1,0 11.0,0a5.5,5.5 0 1,0 -11.0,0M325.5,659.8a5.5,5.5 0 1,0 11.0,0a5.5,5.5 0 1,0 -11.0,0M326.9,663.9a5.5,5.5 0 1,0 11.0,0a5.5,5.5 0 1,0 -11.0,0M328.2,663.8a5.5,5.5 0 1,0 11.0,0a5.5,5.5 0 1,0 -11.0,0M329.6,661.5a5.5,5.5 0 1,0 11.0,0a5.5,5.5 0 1,0 -11.0,0M331.0,662.0a5.5,5.5 0 1,0 11.0,0a5.5,5.5 0 1,0 -11.0,0M332.3,660.1a5.5,5.5 0 1,0 11.0,0a5.5,5.5 0 1,0 -11.0,0M333.7,665.6a5.5,5.5 0 1,0 11.0,0a5.5,5.5 0 1,0 -11.0,0M335.0,665.1a5.5,5.5 0 1,0 11.0,0a5.5,5.5 0 1,0 -11.0,0M336.4,664.4a5.5,5.5 0 1,0 11.0,0a5.5,5.5 0 1,0 -11.0,0M337.8,659.6a5.5,5.5 0 1,0 11.0,0a5.5,5.5 0 1,0 -11.0,0M339.1,664.2a5.5,5.5 0 1,0 11.0,0a5.5,5.5 0 1,0 -11.0,0M340.5,666.2a5.5,5.5 0 1,0 11.0,0a5.5,5.5 0 1,0 -11.0,0M341.8,659.9a5.5,5.5 0 1,0 11.0,0a5.5,5.5 0 1,0 -11.0,0M343.2,659.7a5.5,5.5 0 1,0 11.0,0a5.5,5.5 0 1,0 -11.0,0M344.6,666.1a5.5,5.5 0 1,0 11.0,0a5.5,5.5 0 1,0 -11.0,0M345.9,665.6a5.5,5.5 0 1,0 11.0,0a5.5,5.5 0 1,0 -11.0,0M347.3,660.7a5.5,5.5 0 1,0 11.0,0a5.5,5.5 0 1,0 -11.0,0M348.6,665.0a5.5,5.5 0 1,0 11.0,0a5.5,5.5 0 1,0 -11.0,0M350.0,663.0a5.5,5.5 0 1,0 11.0,0a5.5,5.5 0 1,0 -11.0,0M351.4,666.2a5.5,5.5 0 1,0 11.0,0a5.5,5.5 0 1,0 -11.0,0M352.7,663.8a5.5,5.5 0 1,0 11.0,0a5.5,5.5 0 1,0 -11.0,0M354.1,665.8a5.5,5.5 0 1,0 11.0,0a5.5,5.5 0 1,0 -11.0,0M355.4,665.4a5.5,5.5 0 1,0 11.0,0a5.5,5.5 0 1,0 -11.0,0M356.8,664.9a5.5,5.5 0 1,0 11.0,0a5.5,5.5 0 1,0 -11.0,0M358.1,665.6a5.5,5.5 0 1,0 11.0,0a5.5,5.5 0 1,0 -11.0,0M359.5,665.5a5.5,5.5 0 1,0 11.0,0a5.5,5.5 0 1,0 -11.0,0M360.9,661.6a5.5,5.5 0 1,0 11.0,0a5.5,5.5 0 1,0 -11.0,0M362.2,665.2a5.5,5.5 0 1,0 11.0,0a5.5,5.5 0 1,0 -11.0,0M363.6,666.3a5.5,5.5 0 1,0 11.0,0a5.5,5.5 0 1,0 -11.0,0M364.9,660.4a5.5,5.5 0 1,0 11.0,0a5.5,5.5 0 1,0 -11.0,0M366.3,662.5a5.5,5.5 0 1,0 11.0,0a5.5,5.5 0 1,0 -11.0,0M367.7,666.7a5.5,5.5 0 1,0 11.0,0a5.5,5.5 0 1,0 -11.0,0M369.0,666.7a5.5,5.5 0 1,0 11.0,0a5.5,5.5 0 1,0 -11.0,0M370.4,663.2a5.5,5.5 0 1,0 11.0,0a5.5,5.5 0 1,0 -11.0,0M371.7,659.9a5.5,5.5 0 1,0 11.0,0a5.5,5.5 0 1,0 -11.0,0M373.1,666.7a5.5,5.5 0 1,0 11.0,0a5.5,5.5 0 1,0 -11.0,0M374.5,660.0a5.5,5.5 0 1,0 11.0,0a5.5,5.5 0 1,0 -11.0,0M375.8,665.7a5.5,5.5 0 1,0 11.0,0a5.5,5.5 0 1,0 -11.0,0M377.2,663.1a5.5,5.5 0 1,0 11.0,0a5.5,5.5 0 1,0 -11.0,0M378.5,662.2a5.5,5.5 0 1,0 11.0,0a5.5,5.5 0 1,0 -11.0,0M379.9,660.6a5.5,5.5 0 1,0 11.0,0a5.5,5.5 0 1,0 -11.0,0M381.3,664.7a5.5,5.5 0 1,0 11.0,0a5.5,5.5 0 1,0 -11.0,0M382.6,664.2a5.5,5.5 0 1,0 11.0,0a5.5,5.5 0 1,0 -11.0,0M384.0,665.8a5.5,5.5 0 1,0 11.0,0a5.5,5.5 0 1,0 -11.0,0M385.3,662.3a5.5,5.5 0 1,0 11.0,0a5.5,5.5 0 1,0 -11.0,0M386.7,661.2a5.5,5.5 0 1,0 11.0,0a5.5,5.5 0 1,0 -11.0,0M388.1,660.3a5.5,5.5 0 1,0 11.0,0a5.5,5.5 0 1,0 -11.0,0M389.4,660.9a5.5,5.5 0 1,0 11.0,0a5.5,5.5 0 1,0 -11.0,0M390.8,662.5a5.5,5.5 0 1,0 11.0,0a5.5,5.5 0 1,0 -11.0,0M392.1,664.0a5.5,5.5 0 1,0 11.0,0a5.5,5.5 0 1,0 -11.0,0M393.5,663.8a5.5,5.5 0 1,0 11.0,0a5.5,5.5 0 1,0 -11.0,0M394.8,666.7a5.5,5.5 0 1,0 11.0,0a5.5,5.5 0 1,0 -11.0,0M396.2,665.4a5.5,5.5 0 1,0 11.0,0a5.5,5.5 0 1,0 -11.0,0M397.6,666.8a5.5,5.5 0 1,0 11.0,0a5.5,5.5 0 1,0 -11.0,0M398.9,663.9a5.5,5.5 0 1,0 11.0,0a5.5,5.5 0 1,0 -11.0,0M400.3,663.1a5.5,5.5 0 1,0 11.0,0a5.5,5.5 0 1,0 -11.0,0M401.6,664.1a5.5,5.5 0 1,0 11.0,0a5.5,5.5 0 1,0 -11.0,0M403.0,661.5a5.5,5.5 0 1,0 11.0,0a5.5,5.5 0 1,0 -11.0,0M404.4,661.7a5.5,5.5 0 1,0 11.0,0a5.5,5.5 0 1,0 -11.0,0M405.7,659.9a5.5,5.5 0 1,0 11.0,0a5.5,5.5 0 1,0 -11.0,0M407.1,666.5a5.5,5.5 0 1,0 11.0,0a5.5,5.5 0 1,0 -11.0,0M408.4,663.4a5.5,5.5 0 1,0 11.0,0a5.5,5.5 0 1,0 -11.0,0M409.8,666.9a5.5,5.5 0 1,0 11.0,0a5.5,5.5 0 1,0 -11.0,0M411.2,665.2a5.5,5.5 0 1,0 11.0,0a5.5,5.5 0 1,0 -11.0,0M412.5,660.3a5.5,5.5 0 1,0 11.0,0a5.5,5.5 0 1,0 -11.0,0M413.9,660.8a5.5,5.5 0 1,0 11.0,0a5.5,5.5 0 1,0 -11.0,0M415.2,697.2a5.5,5.5 0 1,0 11.0,0a5.5,5.5 0 1,0 -11.0,0M416.6,661.2a5.5,5.5 0 1,0 11.0,0a5.5,5.5 0 1,0 -11.0,0M418.0,661.2a5.5,5.5 0 1,0 11.0,0a5.5,5.5 0 1,0 -11.0,0M419.3,612.1a5.5,5.5 0 1,0 11.0,0a5.5,5.5 0 1,0 -11.0,0M420.7,663.1a5.5,5.5 0 1,0 11.0,0a5.5,5.5 0 1,0 -11.0,0M422.0,659.2a5.5,5.5 0 1,0 11.0,0a5.5,5.5 0 1,0 -11.0,0M423.4,665.2a5.5,5.5 0 1,0 11.0,0a5.5,5.5 0 1,0 -11.0,0M424.7,675.4a5.5,5.5 0 1,0 11.0,0a5.5,5.5 0 1,0 -11.0,0M426.1,665.5a5.5,5.5 0 1,0 11.0,0a5.5,5.5 0 1,0 -11.0,0M427.5,663.3a5.5,5.5 0 1,0 11.0,0a5.5,5.5 0 1,0 -11.0,0M428.8,665.1a5.5,5.5 0 1,0 11.0,0a5.5,5.5 0 1,0 -11.0,0M430.2,620.6a5.5,5.5 0 1,0 11.0,0a5.5,5.5 0 1,0 -11.0,0M431.5,665.6a5.5,5.5 0 1,0 11.0,0a5.5,5.5 0 1,0 -11.0,0M432.9,664.4a5.5,5.5 0 1,0 11.0,0a5.5,5.5 0 1,0 -11.0,0M434.3,665.2a5.5,5.5 0 1,0 11.0,0a5.5,5.5 0 1,0 -11.0,0M435.6,665.7a5.5,5.5 0 1,0 11.0,0a5.5,5.5 0 1,0 -11.0,0M437.0,664.3a5.5,5.5 0 1,0 11.0,0a5.5,5.5 0 1,0 -11.0,0M438.3,659.2a5.5,5.5 0 1,0 11.0,0a5.5,5.5 0 1,0 -11.0,0M439.7,659.3a5.5,5.5 0 1,0 11.0,0a5.5,5.5 0 1,0 -11.0,0M441.1,660.3a5.5,5.5 0 1,0 11.0,0a5.5,5.5 0 1,0 -11.0,0M442.4,660.6a5.5,5.5 0 1,0 11.0,0a5.5,5.5 0 1,0 -11.0,0M443.8,665.1a5.5,5.5 0 1,0 11.0,0a5.5,5.5 0 1,0 -11.0,0M445.1,631.2a5.5,5.5 0 1,0 11.0,0a5.5,5.5 0 1,0 -11.0,0M446.5,663.8a5.5,5.5 0 1,0 11.0,0a5.5,5.5 0 1,0 -11.0,0M447.9,664.6a5.5,5.5 0 1,0 11.0,0a5.5,5.5 0 1,0 -11.0,0M449.2,687.5a5.5,5.5 0 1,0 11.0,0a5.5,5.5 0 1,0 -11.0,0M450.6,662.8a5.5,5.5 0 1,0 11.0,0a5.5,5.5 0 1,0 -11.0,0M451.9,659.5a5.5,5.5 0 1,0 11.0,0a5.5,5.5 0 1,0 -11.0,0M453.3,661.0a5.5,5.5 0 1,0 11.0,0a5.5,5.5 0 1,0 -11.0,0M454.6,661.5a5.5,5.5 0 1,0 11.0,0a5.5,5.5 0 1,0 -11.0,0M456.0,667.1a5.5,5.5 0 1,0 11.0,0a5.5,5.5 0 1,0 -11.0,0M457.4,659.7a5.5,5.5 0 1,0 11.0,0a5.5,5.5 0 1,0 -11.0,0M458.7,661.4a5.5,5.5 0 1,0 11.0,0a5.5,5.5 0 1,0 -11.0,0M460.1,610.5a5.5,5.5 0 1,0 11.0,0a5.5,5.5 0 1,0 -11.0,0M461.4,663.5a5.5,5.5 0 1,0 11.0,0a5.5,5.5 0 1,0 -11.0,0M462.8,701.3a5.5,5.5 0 1,0 11.0,0a5.5,5.5 0 1,0 -11.0,0M464.2,660.8a5.5,5.5 0 1,0 11.0,0a5.5,5.5 0 1,0 -11.0,0M465.5,665.6a5.5,5.5 0 1,0 11.0,0a5.5,5.5 0 1,0 -11.0,0M466.9,659.8a5.5,5.5 0 1,0 11.0,0a5.5,5.5 0 1,0 -11.0,0M468.2,689.3a5.5,5.5 0 1,0 11.0,0a5.5,5.5 0 1,0 -11.0,0M469.6,661.8a5.5,5.5 0 1,0 11.0,0a5.5,5.5 0 1,0 -11.0,0M471.0,664.3a5.5,5.5 0 1,0 11.0,0a5.5,5.5 0 1,0 -11.0,0M472.3,664.6a5.5,5.5 0 1,0 11.0,0a5.5,5.5 0 1,0 -11.0,0M473.7,662.6a5.5,5.5 0 1,0 11.0,0a5.5,5.5 0 1,0 -11.0,0M475.0,666.5a5.5,5.5 0 1,0 11.0,0a5.5,5.5 0 1,0 -11.0,0M476.4,688.7a5.5,5.5 0 1,0 11.0,0a5.5,5.5 0 1,0 -11.0,0M477.8,663.9a5.5,5.5 0 1,0 11.0,0a5.5,5.5 0 1,0 -11.0,0M479.1,660.2a5.5,5.5 0 1,0 11.0,0a5.5,5.5 0 1,0 -11.0,0M480.5,666.9a5.5,5.5 0 1,0 11.0,0a5.5,5.5 0 1,0 -11.0,0M481.8,660.1a5.5,5.5 0 1,0 11.0,0a5.5,5.5 0 1,0 -11.0,0M483.2,666.8a5.5,5.5 0 1,0 11.0,0a5.5,5.5 0 1,0 -11.0,0M484.6,690.0a5.5,5.5 0 1,0 11.0,0a5.5,5.5 0 1,0 -11.0,0M485.9,663.0a5.5,5.5 0 1,0 11.0,0a5.5,5.5 0 1,0 -11.0,0M487.3,665.4a5.5,5.5 0 1,0 11.0,0a5.5,5.5 0 1,0 -11.0,0M488.6,664.5a5.5,5.5 0 1,0 11.0,0a5.5,5.5 0 1,0 -11.0,0M490.0,647.0a5.5,5.5 0 1,0 11.0,0a5.5,5.5 0 1,0 -11.0,0M491.3,665.2a5.5,5.5 0 1,0 11.0,0a5.5,5.5 0 1,0 -11.0,0M492.7,664.7a5.5,5.5 0 1,0 11.0,0a5.5,5.5 0 1,0 -11.0,0M494.1,662.0a5.5,5.5 0 1,0 11.0,0a5.5,5.5 0 1,0 -11.0,0M495.4,663.1a5.5,5.5 0 1,0 11.0,0a5.5,5.5 0 1,0 -11.0,0M496.8,663.7a5.5,5.5 0 1,0 11.0,0a5.5,5.5 0 1,0 -11.0,0M498.1,666.3a5.5,5.5 0 1,0 11.0,0a5.5,5.5 0 1,0 -11.0,0M499.5,696.1a5.5,5.5 0 1,0 11.0,0a5.5,5.5 0 1,0 -11.0,0M500.9,660.8a5.5,5.5 0 1,0 11.0,0a5.5,5.5 0 1,0 -11.0,0M502.2,664.4a5.5,5.5 0 1,0 11.0,0a5.5,5.5 0 1,0 -11.0,0M503.6,666.1a5.5,5.5 0 1,0 11.0,0a5.5,5.5 0 1,0 -11.0,0M504.9,662.4a5.5,5.5 0 1,0 11.0,0a5.5,5.5 0 1,0 -11.0,0M506.3,682.3a5.5,5.5 0 1,0 11.0,0a5.5,5.5 0 1,0 -11.0,0M507.7,666.8a5.5,5.5 0 1,0 11.0,0a5.5,5.5 0 1,0 -11.0,0M509.0,660.9a5.5,5.5 0 1,0 11.0,0a5.5,5.5 0 1,0 -11.0,0M510.4,661.0a5.5,5.5 0 1,0 11.0,0a5.5,5.5 0 1,0 -11.0,0M511.7,666.9a5.5,5.5 0 1,0 11.0,0a5.5,5.5 0 1,0 -11.0,0M513.1,666.9a5.5,5.5 0 1,0 11.0,0a5.5,5.5 0 1,0 -11.0,0M514.5,663.9a5.5,5.5 0 1,0 11.0,0a5.5,5.5 0 1,0 -11.0,0M515.8,662.8a5.5,5.5 0 1,0 11.0,0a5.5,5.5 0 1,0 -11.0,0M517.2,662.4a5.5,5.5 0 1,0 11.0,0a5.5,5.5 0 1,0 -11.0,0M518.5,663.8a5.5,5.5 0 1,0 11.0,0a5.5,5.5 0 1,0 -11.0,0M519.9,666.4a5.5,5.5 0 1,0 11.0,0a5.5,5.5 0 1,0 -11.0,0M521.2,659.3a5.5,5.5 0 1,0 11.0,0a5.5,5.5 0 1,0 -11.0,0M522.6,660.0a5.5,5.5 0 1,0 11.0,0a5.5,5.5 0 1,0 -11.0,0M524.0,662.7a5.5,5.5 0 1,0 11.0,0a5.5,5.5 0 1,0 -11.0,0M525.3,662.3a5.5,5.5 0 1,0 11.0,0a5.5,5.5 0 1,0 -11.0,0M526.7,664.4a5.5,5.5 0 1,0 11.0,0a5.5,5.5 0 1,0 -11.0,0M528.0,665.8a5.5,5.5 0 1,0 11.0,0a5.5,5.5 0 1,0 -11.0,0M529.4,667.0a5.5,5.5 0 1,0 11.0,0a5.5,5.5 0 1,0 -11.0,0M530.8,659.3a5.5,5.5 0 1,0 11.0,0a5.5,5.5 0 1,0 -11.0,0M532.1,666.6a5.5,5.5 0 1,0 11.0,0a5.5,5.5 0 1,0 -11.0,0M533.5,666.1a5.5,5.5 0 1,0 11.0,0a5.5,5.5 0 1,0 -11.0,0M534.8,660.3a5.5,5.5 0 1,0 11.0,0a5.5,5.5 0 1,0 -11.0,0M536.2,665.4a5.5,5.5 0 1,0 11.0,0a5.5,5.5 0 1,0 -11.0,0M537.6,663.5a5.5,5.5 0 1,0 11.0,0a5.5,5.5 0 1,0 -11.0,0M538.9,663.9a5.5,5.5 0 1,0 11.0,0a5.5,5.5 0 1,0 -11.0,0M540.3,662.2a5.5,5.5 0 1,0 11.0,0a5.5,5.5 0 1,0 -11.0,0M541.6,660.7a5.5,5.5 0 1,0 11.0,0a5.5,5.5 0 1,0 -11.0,0M543.0,664.8a5.5,5.5 0 1,0 11.0,0a5.5,5.5 0 1,0 -11.0,0M544.4,666.6a5.5,5.5 0 1,0 11.0,0a5.5,5.5 0 1,0 -11.0,0M545.7,662.4a5.5,5.5 0 1,0 11.0,0a5.5,5.5 0 1,0 -11.0,0M547.1,663.1a5.5,5.5 0 1,0 11.0,0a5.5,5.5 0 1,0 -11.0,0M548.4,664.6a5.5,5.5 0 1,0 11.0,0a5.5,5.5 0 1,0 -11.0,0M549.8,660.8a5.5,5.5 0 1,0 11.0,0a5.5,5.5 0 1,0 -11.0,0M551.2,663.7a5.5,5.5 0 1,0 11.0,0a5.5,5.5 0 1,0 -11.0,0M552.5,663.2a5.5,5.5 0 1,0 11.0,0a5.5,5.5 0 1,0 -11.0,0M553.9,666.1a5.5,5.5 0 1,0 11.0,0a5.5,5.5 0 1,0 -11.0,0M555.2,659.2a5.5,5.5 0 1,0 11.0,0a5.5,5.5 0 1,0 -11.0,0M556.6,660.4a5.5,5.5 0 1,0 11.0,0a5.5,5.5 0 1,0 -11.0,0M557.9,659.7a5.5,5.5 0 1,0 11.0,0a5.5,5.5 0 1,0 -11.0,0M559.3,666.3a5.5,5.5 0 1,0 11.0,0a5.5,5.5 0 1,0 -11.0,0M560.7,662.6a5.5,5.5 0 1,0 11.0,0a5.5,5.5 0 1,0 -11.0,0M562.0,662.9a5.5,5.5 0 1,0 11.0,0a5.5,5.5 0 1,0 -11.0,0M563.4,664.5a5.5,5.5 0 1,0 11.0,0a5.5,5.5 0 1,0 -11.0,0M564.7,659.3a5.5,5.5 0 1,0 11.0,0a5.5,5.5 0 1,0 -11.0,0M566.1,660.8a5.5,5.5 0 1,0 11.0,0a5.5,5.5 0 1,0 -11.0,0M567.5,664.2a5.5,5.5 0 1,0 11.0,0a5.5,5.5 0 1,0 -11.0,0M568.8,666.6a5.5,5.5 0 1,0 11.0,0a5.5,5.5 0 1,0 -11.0,0M570.2,665.6a5.5,5.5 0 1,0 11.0,0a5.5,5.5 0 1,0 -11.0,0M571.5,665.9a5.5,5.5 0 1,0 11.0,0a5.5,5.5 0 1,0 -11.0,0M572.9,660.5a5.5,5.5 0 1,0 11.0,0a5.5,5.5 0 1,0 -11.0,0M574.3,662.8a5.5,5.5 0 1,0 11.0,0a5.5,5.5 0 1,0 -11.0,0M575.6,663.9a5.5,5.5 0 1,0 11.0,0a5.5,5.5 0 1,0 -11.0,0M577.0,665.0a5.5,5.5 0 1,0 11.0,0a5.5,5.5 0 1,0 -11.0,0M578.3,664.0a5.5,5.5 0 1,0 11.0,0a5.5,5.5 0 1,0 -11.0,0M579.7,665.0a5.5,5.5 0 1,0 11.0,0a5.5,5.5 0 1,0 -11.0,0M581.1,666.8a5.5,5.5 0 1,0 11.0,0a5.5,5.5 0 1,0 -11.0,0M582.4,660.8a5.5,5.5 0 1,0 11.0,0a5.5,5.5 0 1,0 -11.0,0M583.8,659.8a5.5,5.5 0 1,0 11.0,0a5.5,5.5 0 1,0 -11.0,0M585.1,665.7a5.5,5.5 0 1,0 11.0,0a5.5,5.5 0 1,0 -11.0,0M586.5,660.0a5.5,5.5 0 1,0 11.0,0a5.5,5.5 0 1,0 -11.0,0M587.8,663.7a5.5,5.5 0 1,0 11.0,0a5.5,5.5 0 1,0 -11.0,0M589.2,660.3a5.5,5.5 0 1,0 11.0,0a5.5,5.5 0 1,0 -11.0,0M590.6,659.2a5.5,5.5 0 1,0 11.0,0a5.5,5.5 0 1,0 -11.0,0M591.9,662.8a5.5,5.5 0 1,0 11.0,0a5.5,5.5 0 1,0 -11.0,0M593.3,659.3a5.5,5.5 0 1,0 11.0,0a5.5,5.5 0 1,0 -11.0,0M594.6,660.0a5.5,5.5 0 1,0 11.0,0a5.5,5.5 0 1,0 -11.0,0M596.0,663.1a5.5,5.5 0 1,0 11.0,0a5.5,5.5 0 1,0 -11.0,0M597.4,661.8a5.5,5.5 0 1,0 11.0,0a5.5,5.5 0 1,0 -11.0,0M598.7,662.6a5.5,5.5 0 1,0 11.0,0a5.5,5.5 0 1,0 -11.0,0M600.1,659.5a5.5,5.5 0 1,0 11.0,0a5.5,5.5 0 1,0 -11.0,0M601.4,664.0a5.5,5.5 0 1,0 11.0,0a5.5,5.5 0 1,0 -11.0,0M602.8,664.0a5.5,5.5 0 1,0 11.0,0a5.5,5.5 0 1,0 -11.0,0M604.2,660.9a5.5,5.5 0 1,0 11.0,0a5.5,5.5 0 1,0 -11.0,0M605.5,660.8a5.5,5.5 0 1,0 11.0,0a5.5,5.5 0 1,0 -11.0,0M606.9,663.1a5.5,5.5 0 1,0 11.0,0a5.5,5.5 0 1,0 -11.0,0M608.2,665.2a5.5,5.5 0 1,0 11.0,0a5.5,5.5 0 1,0 -11.0,0M609.6,666.6a5.5,5.5 0 1,0 11.0,0a5.5,5.5 0 1,0 -11.0,0M611.0,659.2a5.5,5.5 0 1,0 11.0,0a5.5,5.5 0 1,0 -11.0,0M612.3,665.8a5.5,5.5 0 1,0 11.0,0a5.5,5.5 0 1,0 -11.0,0M613.7,665.2a5.5,5.5 0 1,0 11.0,0a5.5,5.5 0 1,0 -11.0,0M615.0,659.3a5.5,5.5 0 1,0 11.0,0a5.5,5.5 0 1,0 -11.0,0M616.4,665.1a5.5,5.5 0 1,0 11.0,0a5.5,5.5 0 1,0 -11.0,0M617.8,661.3a5.5,5.5 0 1,0 11.0,0a5.5,5.5 0 1,0 -11.0,0M619.1,664.6a5.5,5.5 0 1,0 11.0,0a5.5,5.5 0 1,0 -11.0,0M620.5,662.7a5.5,5.5 0 1,0 11.0,0a5.5,5.5 0 1,0 -11.0,0M621.8,665.1a5.5,5.5 0 1,0 11.0,0a5.5,5.5 0 1,0 -11.0,0M623.2,666.5a5.5,5.5 0 1,0 11.0,0a5.5,5.5 0 1,0 -11.0,0M624.5,660.9a5.5,5.5 0 1,0 11.0,0a5.5,5.5 0 1,0 -11.0,0M625.9,660.4a5.5,5.5 0 1,0 11.0,0a5.5,5.5 0 1,0 -11.0,0M627.3,666.4a5.5,5.5 0 1,0 11.0,0a5.5,5.5 0 1,0 -11.0,0M628.6,664.2a5.5,5.5 0 1,0 11.0,0a5.5,5.5 0 1,0 -11.0,0M630.0,660.5a5.5,5.5 0 1,0 11.0,0a5.5,5.5 0 1,0 -11.0,0M631.3,660.7a5.5,5.5 0 1,0 11.0,0a5.5,5.5 0 1,0 -11.0,0M632.7,661.5a5.5,5.5 0 1,0 11.0,0a5.5,5.5 0 1,0 -11.0,0M634.1,664.7a5.5,5.5 0 1,0 11.0,0a5.5,5.5 0 1,0 -11.0,0M635.4,661.7a5.5,5.5 0 1,0 11.0,0a5.5,5.5 0 1,0 -11.0,0M636.8,662.4a5.5,5.5 0 1,0 11.0,0a5.5,5.5 0 1,0 -11.0,0M638.1,661.4a5.5,5.5 0 1,0 11.0,0a5.5,5.5 0 1,0 -11.0,0M639.5,659.2a5.5,5.5 0 1,0 11.0,0a5.5,5.5 0 1,0 -11.0,0M640.9,665.7a5.5,5.5 0 1,0 11.0,0a5.5,5.5 0 1,0 -11.0,0M642.2,664.3a5.5,5.5 0 1,0 11.0,0a5.5,5.5 0 1,0 -11.0,0M643.6,663.3a5.5,5.5 0 1,0 11.0,0a5.5,5.5 0 1,0 -11.0,0M644.9,661.0a5.5,5.5 0 1,0 11.0,0a5.5,5.5 0 1,0 -11.0,0M646.3,661.7a5.5,5.5 0 1,0 11.0,0a5.5,5.5 0 1,0 -11.0,0M647.7,664.4a5.5,5.5 0 1,0 11.0,0a5.5,5.5 0 1,0 -11.0,0M649.0,659.6a5.5,5.5 0 1,0 11.0,0a5.5,5.5 0 1,0 -11.0,0M650.4,665.3a5.5,5.5 0 1,0 11.0,0a5.5,5.5 0 1,0 -11.0,0M651.7,664.9a5.5,5.5 0 1,0 11.0,0a5.5,5.5 0 1,0 -11.0,0M653.1,663.2a5.5,5.5 0 1,0 11.0,0a5.5,5.5 0 1,0 -11.0,0M654.4,658.5a5.5,5.5 0 1,0 11.0,0a5.5,5.5 0 1,0 -11.0,0M655.8,661.2a5.5,5.5 0 1,0 11.0,0a5.5,5.5 0 1,0 -11.0,0M657.2,662.5a5.5,5.5 0 1,0 11.0,0a5.5,5.5 0 1,0 -11.0,0M658.5,661.5a5.5,5.5 0 1,0 11.0,0a5.5,5.5 0 1,0 -11.0,0M659.9,660.9a5.5,5.5 0 1,0 11.0,0a5.5,5.5 0 1,0 -11.0,0M661.2,662.4a5.5,5.5 0 1,0 11.0,0a5.5,5.5 0 1,0 -11.0,0M662.6,665.4a5.5,5.5 0 1,0 11.0,0a5.5,5.5 0 1,0 -11.0,0M664.0,664.6a5.5,5.5 0 1,0 11.0,0a5.5,5.5 0 1,0 -11.0,0M665.3,663.8a5.5,5.5 0 1,0 11.0,0a5.5,5.5 0 1,0 -11.0,0M666.7,660.6a5.5,5.5 0 1,0 11.0,0a5.5,5.5 0 1,0 -11.0,0M668.0,665.6a5.5,5.5 0 1,0 11.0,0a5.5,5.5 0 1,0 -11.0,0M669.4,663.7a5.5,5.5 0 1,0 11.0,0a5.5,5.5 0 1,0 -11.0,0M670.8,662.6a5.5,5.5 0 1,0 11.0,0a5.5,5.5 0 1,0 -11.0,0M672.1,662.6a5.5,5.5 0 1,0 11.0,0a5.5,5.5 0 1,0 -11.0,0M673.5,658.2a5.5,5.5 0 1,0 11.0,0a5.5,5.5 0 1,0 -11.0,0M674.8,661.8a5.5,5.5 0 1,0 11.0,0a5.5,5.5 0 1,0 -11.0,0M676.2,664.5a5.5,5.5 0 1,0 11.0,0a5.5,5.5 0 1,0 -11.0,0M677.6,663.1a5.5,5.5 0 1,0 11.0,0a5.5,5.5 0 1,0 -11.0,0M678.9,663.8a5.5,5.5 0 1,0 11.0,0a5.5,5.5 0 1,0 -11.0,0M680.3,662.0a5.5,5.5 0 1,0 11.0,0a5.5,5.5 0 1,0 -11.0,0M681.6,660.2a5.5,5.5 0 1,0 11.0,0a5.5,5.5 0 1,0 -11.0,0M683.0,664.3a5.5,5.5 0 1,0 11.0,0a5.5,5.5 0 1,0 -11.0,0M684.3,660.1a5.5,5.5 0 1,0 11.0,0a5.5,5.5 0 1,0 -11.0,0M685.7,657.6a5.5,5.5 0 1,0 11.0,0a5.5,5.5 0 1,0 -11.0,0M687.1,661.7a5.5,5.5 0 1,0 11.0,0a5.5,5.5 0 1,0 -11.0,0M688.4,661.7a5.5,5.5 0 1,0 11.0,0a5.5,5.5 0 1,0 -11.0,0M689.8,662.6a5.5,5.5 0 1,0 11.0,0a5.5,5.5 0 1,0 -11.0,0M691.1,661.0a5.5,5.5 0 1,0 11.0,0a5.5,5.5 0 1,0 -11.0,0M692.5,664.0a5.5,5.5 0 1,0 11.0,0a5.5,5.5 0 1,0 -11.0,0M693.9,660.3a5.5,5.5 0 1,0 11.0,0a5.5,5.5 0 1,0 -11.0,0M695.2,660.3a5.5,5.5 0 1,0 11.0,0a5.5,5.5 0 1,0 -11.0,0M696.6,657.8a5.5,5.5 0 1,0 11.0,0a5.5,5.5 0 1,0 -11.0,0M697.9,660.1a5.5,5.5 0 1,0 11.0,0a5.5,5.5 0 1,0 -11.0,0M699.3,658.0a5.5,5.5 0 1,0 11.0,0a5.5,5.5 0 1,0 -11.0,0M700.7,663.8a5.5,5.5 0 1,0 11.0,0a5.5,5.5 0 1,0 -11.0,0M702.0,662.4a5.5,5.5 0 1,0 11.0,0a5.5,5.5 0 1,0 -11.0,0M703.4,662.6a5.5,5.5 0 1,0 11.0,0a5.5,5.5 0 1,0 -11.0,0M704.7,661.2a5.5,5.5 0 1,0 11.0,0a5.5,5.5 0 1,0 -11.0,0M706.1,657.9a5.5,5.5 0 1,0 11.0,0a5.5,5.5 0 1,0 -11.0,0M707.5,658.3a5.5,5.5 0 1,0 11.0,0a5.5,5.5 0 1,0 -11.0,0M708.8,657.5a5.5,5.5 0 1,0 11.0,0a5.5,5.5 0 1,0 -11.0,0M710.2,658.1a5.5,5.5 0 1,0 11.0,0a5.5,5.5 0 1,0 -11.0,0M711.5,661.3a5.5,5.5 0 1,0 11.0,0a5.5,5.5 0 1,0 -11.0,0M712.9,663.8a5.5,5.5 0 1,0 11.0,0a5.5,5.5 0 1,0 -11.0,0M714.3,660.9a5.5,5.5 0 1,0 11.0,0a5.5,5.5 0 1,0 -11.0,0M715.6,662.5a5.5,5.5 0 1,0 11.0,0a5.5,5.5 0 1,0 -11.0,0M717.0,661.0a5.5,5.5 0 1,0 11.0,0a5.5,5.5 0 1,0 -11.0,0M718.3,658.3a5.5,5.5 0 1,0 11.0,0a5.5,5.5 0 1,0 -11.0,0M719.7,658.8a5.5,5.5 0 1,0 11.0,0a5.5,5.5 0 1,0 -11.0,0M721.0,660.5a5.5,5.5 0 1,0 11.0,0a5.5,5.5 0 1,0 -11.0,0M722.4,664.5a5.5,5.5 0 1,0 11.0,0a5.5,5.5 0 1,0 -11.0,0M723.8,665.3a5.5,5.5 0 1,0 11.0,0a5.5,5.5 0 1,0 -11.0,0M725.1,663.7a5.5,5.5 0 1,0 11.0,0a5.5,5.5 0 1,0 -11.0,0M726.5,666.6a5.5,5.5 0 1,0 11.0,0a5.5,5.5 0 1,0 -11.0,0M727.8,669.6a5.5,5.5 0 1,0 11.0,0a5.5,5.5 0 1,0 -11.0,0M729.2,666.0a5.5,5.5 0 1,0 11.0,0a5.5,5.5 0 1,0 -11.0,0M730.6,669.1a5.5,5.5 0 1,0 11.0,0a5.5,5.5 0 1,0 -11.0,0M731.9,674.0a5.5,5.5 0 1,0 11.0,0a5.5,5.5 0 1,0 -11.0,0M733.3,672.4a5.5,5.5 0 1,0 11.0,0a5.5,5.5 0 1,0 -11.0,0M734.6,676.4a5.5,5.5 0 1,0 11.0,0a5.5,5.5 0 1,0 -11.0,0M736.0,675.5a5.5,5.5 0 1,0 11.0,0a5.5,5.5 0 1,0 -11.0,0M737.4,669.9a5.5,5.5 0 1,0 11.0,0a5.5,5.5 0 1,0 -11.0,0M738.7,671.0a5.5,5.5 0 1,0 11.0,0a5.5,5.5 0 1,0 -11.0,0M740.1,669.8a5.5,5.5 0 1,0 11.0,0a5.5,5.5 0 1,0 -11.0,0M741.4,674.6a5.5,5.5 0 1,0 11.0,0a5.5,5.5 0 1,0 -11.0,0M742.8,671.8a5.5,5.5 0 1,0 11.0,0a5.5,5.5 0 1,0 -11.0,0M744.2,671.0a5.5,5.5 0 1,0 11.0,0a5.5,5.5 0 1,0 -11.0,0M745.5,676.8a5.5,5.5 0 1,0 11.0,0a5.5,5.5 0 1,0 -11.0,0M746.9,676.6a5.5,5.5 0 1,0 11.0,0a5.5,5.5 0 1,0 -11.0,0M748.2,673.2a5.5,5.5 0 1,0 11.0,0a5.5,5.5 0 1,0 -11.0,0M749.6,677.0a5.5,5.5 0 1,0 11.0,0a5.5,5.5 0 1,0 -11.0,0M750.9,670.7a5.5,5.5 0 1,0 11.0,0a5.5,5.5 0 1,0 -11.0,0M752.3,675.7a5.5,5.5 0 1,0 11.0,0a5.5,5.5 0 1,0 -11.0,0M753.7,676.8a5.5,5.5 0 1,0 11.0,0a5.5,5.5 0 1,0 -11.0,0M755.0,670.3a5.5,5.5 0 1,0 11.0,0a5.5,5.5 0 1,0 -11.0,0M756.4,672.8a5.5,5.5 0 1,0 11.0,0a5.5,5.5 0 1,0 -11.0,0M757.7,669.7a5.5,5.5 0 1,0 11.0,0a5.5,5.5 0 1,0 -11.0,0M759.1,674.8a5.5,5.5 0 1,0 11.0,0a5.5,5.5 0 1,0 -11.0,0M760.5,673.2a5.5,5.5 0 1,0 11.0,0a5.5,5.5 0 1,0 -11.0,0M761.8,670.9a5.5,5.5 0 1,0 11.0,0a5.5,5.5 0 1,0 -11.0,0M763.2,665.7a5.5,5.5 0 1,0 11.0,0a5.5,5.5 0 1,0 -11.0,0M764.5,658.1a5.5,5.5 0 1,0 11.0,0a5.5,5.5 0 1,0 -11.0,0M765.9,650.3a5.5,5.5 0 1,0 11.0,0a5.5,5.5 0 1,0 -11.0,0M767.3,646.2a5.5,5.5 0 1,0 11.0,0a5.5,5.5 0 1,0 -11.0,0M768.6,645.5a5.5,5.5 0 1,0 11.0,0a5.5,5.5 0 1,0 -11.0,0M770.0,645.2a5.5,5.5 0 1,0 11.0,0a5.5,5.5 0 1,0 -11.0,0M771.3,639.4a5.5,5.5 0 1,0 11.0,0a5.5,5.5 0 1,0 -11.0,0M772.7,634.9a5.5,5.5 0 1,0 11.0,0a5.5,5.5 0 1,0 -11.0,0M774.1,633.0a5.5,5.5 0 1,0 11.0,0a5.5,5.5 0 1,0 -11.0,0M775.4,622.5a5.5,5.5 0 1,0 11.0,0a5.5,5.5 0 1,0 -11.0,0M776.8,624.2a5.5,5.5 0 1,0 11.0,0a5.5,5.5 0 1,0 -11.0,0M778.1,618.2a5.5,5.5 0 1,0 11.0,0a5.5,5.5 0 1,0 -11.0,0M779.5,613.4a5.5,5.5 0 1,0 11.0,0a5.5,5.5 0 1,0 -11.0,0M780.8,614.5a5.5,5.5 0 1,0 11.0,0a5.5,5.5 0 1,0 -11.0,0M782.2,611.5a5.5,5.5 0 1,0 11.0,0a5.5,5.5 0 1,0 -11.0,0M783.6,609.5a5.5,5.5 0 1,0 11.0,0a5.5,5.5 0 1,0 -11.0,0M784.9,605.1a5.5,5.5 0 1,0 11.0,0a5.5,5.5 0 1,0 -11.0,0M786.3,608.7a5.5,5.5 0 1,0 11.0,0a5.5,5.5 0 1,0 -11.0,0M787.6,603.1a5.5,5.5 0 1,0 11.0,0a5.5,5.5 0 1,0 -11.0,0M789.0,604.2a5.5,5.5 0 1,0 11.0,0a5.5,5.5 0 1,0 -11.0,0M790.4,604.0a5.5,5.5 0 1,0 11.0,0a5.5,5.5 0 1,0 -11.0,0M791.7,606.8a5.5,5.5 0 1,0 11.0,0a5.5,5.5 0 1,0 -11.0,0M793.1,610.8a5.5,5.5 0 1,0 11.0,0a5.5,5.5 0 1,0 -11.0,0M794.4,613.9a5.5,5.5 0 1,0 11.0,0a5.5,5.5 0 1,0 -11.0,0M795.8,615.8a5.5,5.5 0 1,0 11.0,0a5.5,5.5 0 1,0 -11.0,0M797.2,625.5a5.5,5.5 0 1,0 11.0,0a5.5,5.5 0 1,0 -11.0,0M798.5,624.2a5.5,5.5 0 1,0 11.0,0a5.5,5.5 0 1,0 -11.0,0M799.9,632.7a5.5,5.5 0 1,0 11.0,0a5.5,5.5 0 1,0 -11.0,0M801.2,639.0a5.5,5.5 0 1,0 11.0,0a5.5,5.5 0 1,0 -11.0,0M802.6,645.3a5.5,5.5 0 1,0 11.0,0a5.5,5.5 0 1,0 -11.0,0M804.0,655.2a5.5,5.5 0 1,0 11.0,0a5.5,5.5 0 1,0 -11.0,0M805.3,660.2a5.5,5.5 0 1,0 11.0,0a5.5,5.5 0 1,0 -11.0,0M806.7,675.5a5.5,5.5 0 1,0 11.0,0a5.5,5.5 0 1,0 -11.0,0M808.0,684.0a5.5,5.5 0 1,0 11.0,0a5.5,5.5 0 1,0 -11.0,0M809.4,688.8a5.5,5.5 0 1,0 11.0,0a5.5,5.5 0 1,0 -11.0,0M810.8,697.0a5.5,5.5 0 1,0 11.0,0a5.5,5.5 0 1,0 -11.0,0M812.1,713.6a5.5,5.5 0 1,0 11.0,0a5.5,5.5 0 1,0 -11.0,0M813.5,725.1a5.5,5.5 0 1,0 11.0,0a5.5,5.5 0 1,0 -11.0,0M814.8,731.7a5.5,5.5 0 1,0 11.0,0a5.5,5.5 0 1,0 -11.0,0M816.2,741.7a5.5,5.5 0 1,0 11.0,0a5.5,5.5 0 1,0 -11.0,0M817.5,757.6a5.5,5.5 0 1,0 11.0,0a5.5,5.5 0 1,0 -11.0,0M818.9,764.6a5.5,5.5 0 1,0 11.0,0a5.5,5.5 0 1,0 -11.0,0M820.3,769.3a5.5,5.5 0 1,0 11.0,0a5.5,5.5 0 1,0 -11.0,0M821.6,779.3a5.5,5.5 0 1,0 11.0,0a5.5,5.5 0 1,0 -11.0,0M823.0,784.8a5.5,5.5 0 1,0 11.0,0a5.5,5.5 0 1,0 -11.0,0M824.3,782.7a5.5,5.5 0 1,0 11.0,0a5.5,5.5 0 1,0 -11.0,0M825.7,788.6a5.5,5.5 0 1,0 11.0,0a5.5,5.5 0 1,0 -11.0,0M827.1,782.1a5.5,5.5 0 1,0 11.0,0a5.5,5.5 0 1,0 -11.0,0M828.4,775.4a5.5,5.5 0 1,0 11.0,0a5.5,5.5 0 1,0 -11.0,0M829.8,767.6a5.5,5.5 0 1,0 11.0,0a5.5,5.5 0 1,0 -11.0,0M831.1,765.5a5.5,5.5 0 1,0 11.0,0a5.5,5.5 0 1,0 -11.0,0M832.5,748.8a5.5,5.5 0 1,0 11.0,0a5.5,5.5 0 1,0 -11.0,0M833.9,743.1a5.5,5.5 0 1,0 11.0,0a5.5,5.5 0 1,0 -11.0,0M835.2,724.7a5.5,5.5 0 1,0 11.0,0a5.5,5.5 0 1,0 -11.0,0M836.6,716.4a5.5,5.5 0 1,0 11.0,0a5.5,5.5 0 1,0 -11.0,0M837.9,696.4a5.5,5.5 0 1,0 11.0,0a5.5,5.5 0 1,0 -11.0,0M839.3,682.7a5.5,5.5 0 1,0 11.0,0a5.5,5.5 0 1,0 -11.0,0M840.7,667.0a5.5,5.5 0 1,0 11.0,0a5.5,5.5 0 1,0 -11.0,0M842.0,645.8a5.5,5.5 0 1,0 11.0,0a5.5,5.5 0 1,0 -11.0,0M843.4,626.3a5.5,5.5 0 1,0 11.0,0a5.5,5.5 0 1,0 -11.0,0M844.7,607.4a5.5,5.5 0 1,0 11.0,0a5.5,5.5 0 1,0 -11.0,0M846.1,590.3a5.5,5.5 0 1,0 11.0,0a5.5,5.5 0 1,0 -11.0,0M847.4,575.7a5.5,5.5 0 1,0 11.0,0a5.5,5.5 0 1,0 -11.0,0M848.8,557.8a5.5,5.5 0 1,0 11.0,0a5.5,5.5 0 1,0 -11.0,0M850.2,539.8a5.5,5.5 0 1,0 11.0,0a5.5,5.5 0 1,0 -11.0,0M851.5,528.0a5.5,5.5 0 1,0 11.0,0a5.5,5.5 0 1,0 -11.0,0M852.9,519.1a5.5,5.5 0 1,0 11.0,0a5.5,5.5 0 1,0 -11.0,0M854.2,504.0a5.5,5.5 0 1,0 11.0,0a5.5,5.5 0 1,0 -11.0,0M855.6,493.8a5.5,5.5 0 1,0 11.0,0a5.5,5.5 0 1,0 -11.0,0M857.0,492.5a5.5,5.5 0 1,0 11.0,0a5.5,5.5 0 1,0 -11.0,0M858.3,486.9a5.5,5.5 0 1,0 11.0,0a5.5,5.5 0 1,0 -11.0,0M859.7,484.4a5.5,5.5 0 1,0 11.0,0a5.5,5.5 0 1,0 -11.0,0M861.0,488.9a5.5,5.5 0 1,0 11.0,0a5.5,5.5 0 1,0 -11.0,0M862.4,491.2a5.5,5.5 0 1,0 11.0,0a5.5,5.5 0 1,0 -11.0,0M863.8,505.5a5.5,5.5 0 1,0 11.0,0a5.5,5.5 0 1,0 -11.0,0M865.1,513.4a5.5,5.5 0 1,0 11.0,0a5.5,5.5 0 1,0 -11.0,0M866.5,523.4a5.5,5.5 0 1,0 11.0,0a5.5,5.5 0 1,0 -11.0,0M867.8,545.6a5.5,5.5 0 1,0 11.0,0a5.5,5.5 0 1,0 -11.0,0M869.2,561.6a5.5,5.5 0 1,0 11.0,0a5.5,5.5 0 1,0 -11.0,0M870.6,581.0a5.5,5.5 0 1,0 11.0,0a5.5,5.5 0 1,0 -11.0,0M871.9,597.1a5.5,5.5 0 1,0 11.0,0a5.5,5.5 0 1,0 -11.0,0M873.3,620.8a5.5,5.5 0 1,0 11.0,0a5.5,5.5 0 1,0 -11.0,0M874.6,641.5a5.5,5.5 0 1,0 11.0,0a5.5,5.5 0 1,0 -11.0,0M876.0,664.5a5.5,5.5 0 1,0 11.0,0a5.5,5.5 0 1,0 -11.0,0M877.4,689.2a5.5,5.5 0 1,0 11.0,0a5.5,5.5 0 1,0 -11.0,0M878.7,712.9a5.5,5.5 0 1,0 11.0,0a5.5,5.5 0 1,0 -11.0,0M880.1,737.3a5.5,5.5 0 1,0 11.0,0a5.5,5.5 0 1,0 -11.0,0M881.4,756.1a5.5,5.5 0 1,0 11.0,0a5.5,5.5 0 1,0 -11.0,0M882.8,776.7a5.5,5.5 0 1,0 11.0,0a5.5,5.5 0 1,0 -11.0,0M884.1,792.9a5.5,5.5 0 1,0 11.0,0a5.5,5.5 0 1,0 -11.0,0M885.5,810.9a5.5,5.5 0 1,0 11.0,0a5.5,5.5 0 1,0 -11.0,0M886.9,827.3a5.5,5.5 0 1,0 11.0,0a5.5,5.5 0 1,0 -11.0,0M888.2,837.5a5.5,5.5 0 1,0 11.0,0a5.5,5.5 0 1,0 -11.0,0M889.6,848.4a5.5,5.5 0 1,0 11.0,0a5.5,5.5 0 1,0 -11.0,0M890.9,846.8a5.5,5.5 0 1,0 11.0,0a5.5,5.5 0 1,0 -11.0,0M892.3,847.8a5.5,5.5 0 1,0 11.0,0a5.5,5.5 0 1,0 -11.0,0M893.7,848.6a5.5,5.5 0 1,0 11.0,0a5.5,5.5 0 1,0 -11.0,0M895.0,842.0a5.5,5.5 0 1,0 11.0,0a5.5,5.5 0 1,0 -11.0,0M896.4,827.3a5.5,5.5 0 1,0 11.0,0a5.5,5.5 0 1,0 -11.0,0M897.7,820.0a5.5,5.5 0 1,0 11.0,0a5.5,5.5 0 1,0 -11.0,0M899.1,799.7a5.5,5.5 0 1,0 11.0,0a5.5,5.5 0 1,0 -11.0,0M900.5,781.4a5.5,5.5 0 1,0 11.0,0a5.5,5.5 0 1,0 -11.0,0M901.8,765.4a5.5,5.5 0 1,0 11.0,0a5.5,5.5 0 1,0 -11.0,0M903.2,741.8a5.5,5.5 0 1,0 11.0,0a5.5,5.5 0 1,0 -11.0,0M904.5,719.1a5.5,5.5 0 1,0 11.0,0a5.5,5.5 0 1,0 -11.0,0M905.9,699.3a5.5,5.5 0 1,0 11.0,0a5.5,5.5 0 1,0 -11.0,0M907.3,673.1a5.5,5.5 0 1,0 11.0,0a5.5,5.5 0 1,0 -11.0,0M908.6,652.3a5.5,5.5 0 1,0 11.0,0a5.5,5.5 0 1,0 -11.0,0M910.0,625.0a5.5,5.5 0 1,0 11.0,0a5.5,5.5 0 1,0 -11.0,0M911.3,600.0a5.5,5.5 0 1,0 11.0,0a5.5,5.5 0 1,0 -11.0,0M912.7,582.3a5.5,5.5 0 1,0 11.0,0a5.5,5.5 0 1,0 -11.0,0M914.0,558.7a5.5,5.5 0 1,0 11.0,0a5.5,5.5 0 1,0 -11.0,0M915.4,535.2a5.5,5.5 0 1,0 11.0,0a5.5,5.5 0 1,0 -11.0,0M916.8,524.2a5.5,5.5 0 1,0 11.0,0a5.5,5.5 0 1,0 -11.0,0M918.1,506.6a5.5,5.5 0 1,0 11.0,0a5.5,5.5 0 1,0 -11.0,0M919.5,496.1a5.5,5.5 0 1,0 11.0,0a5.5,5.5 0 1,0 -11.0,0M920.8,486.9a5.5,5.5 0 1,0 11.0,0a5.5,5.5 0 1,0 -11.0,0M922.2,480.4a5.5,5.5 0 1,0 11.0,0a5.5,5.5 0 1,0 -11.0,0M923.6,487.1a5.5,5.5 0 1,0 11.0,0a5.5,5.5 0 1,0 -11.0,0M924.9,492.1a5.5,5.5 0 1,0 11.0,0a5.5,5.5 0 1,0 -11.0,0M926.3,501.8a5.5,5.5 0 1,0 11.0,0a5.5,5.5 0 1,0 -11.0,0M927.6,507.6a5.5,5.5 0 1,0 11.0,0a5.5,5.5 0 1,0 -11.0,0M929.0,528.1a5.5,5.5 0 1,0 11.0,0a5.5,5.5 0 1,0 -11.0,0M930.4,544.0a5.5,5.5 0 1,0 11.0,0a5.5,5.5 0 1,0 -11.0,0M931.7,564.9a5.5,5.5 0 1,0 11.0,0a5.5,5.5 0 1,0 -11.0,0M933.1,582.5a5.5,5.5 0 1,0 11.0,0a5.5,5.5 0 1,0 -11.0,0M934.4,606.7a5.5,5.5 0 1,0 11.0,0a5.5,5.5 0 1,0 -11.0,0M935.8,636.5a5.5,5.5 0 1,0 11.0,0a5.5,5.5 0 1,0 -11.0,0M937.2,659.2a5.5,5.5 0 1,0 11.0,0a5.5,5.5 0 1,0 -11.0,0M938.5,684.0a5.5,5.5 0 1,0 11.0,0a5.5,5.5 0 1,0 -11.0,0M939.9,710.3a5.5,5.5 0 1,0 11.0,0a5.5,5.5 0 1,0 -11.0,0M941.2,737.6a5.5,5.5 0 1,0 11.0,0a5.5,5.5 0 1,0 -11.0,0M942.6,757.9a5.5,5.5 0 1,0 11.0,0a5.5,5.5 0 1,0 -11.0,0M944.0,784.2a5.5,5.5 0 1,0 11.0,0a5.5,5.5 0 1,0 -11.0,0M945.3,803.7a5.5,5.5 0 1,0 11.0,0a5.5,5.5 0 1,0 -11.0,0M946.7,818.7a5.5,5.5 0 1,0 11.0,0a5.5,5.5 0 1,0 -11.0,0M948.0,832.2a5.5,5.5 0 1,0 11.0,0a5.5,5.5 0 1,0 -11.0,0M949.4,842.0a5.5,5.5 0 1,0 11.0,0a5.5,5.5 0 1,0 -11.0,0M950.7,842.4a5.5,5.5 0 1,0 11.0,0a5.5,5.5 0 1,0 -11.0,0M952.1,846.3a5.5,5.5 0 1,0 11.0,0a5.5,5.5 0 1,0 -11.0,0M953.5,836.5a5.5,5.5 0 1,0 11.0,0a5.5,5.5 0 1,0 -11.0,0M954.8,831.4a5.5,5.5 0 1,0 11.0,0a5.5,5.5 0 1,0 -11.0,0M956.2,822.7a5.5,5.5 0 1,0 11.0,0a5.5,5.5 0 1,0 -11.0,0M957.5,814.9a5.5,5.5 0 1,0 11.0,0a5.5,5.5 0 1,0 -11.0,0M958.9,796.5a5.5,5.5 0 1,0 11.0,0a5.5,5.5 0 1,0 -11.0,0M960.3,785.8a5.5,5.5 0 1,0 11.0,0a5.5,5.5 0 1,0 -11.0,0M961.6,761.6a5.5,5.5 0 1,0 11.0,0a5.5,5.5 0 1,0 -11.0,0M963.0,742.9a5.5,5.5 0 1,0 11.0,0a5.5,5.5 0 1,0 -11.0,0M964.3,720.1a5.5,5.5 0 1,0 11.0,0a5.5,5.5 0 1,0 -11.0,0M965.7,695.7a5.5,5.5 0 1,0 11.0,0a5.5,5.5 0 1,0 -11.0,0M967.1,668.5a5.5,5.5 0 1,0 11.0,0a5.5,5.5 0 1,0 -11.0,0M968.4,637.8a5.5,5.5 0 1,0 11.0,0a5.5,5.5 0 1,0 -11.0,0M969.8,607.8a5.5,5.5 0 1,0 11.0,0a5.5,5.5 0 1,0 -11.0,0M971.1,576.7a5.5,5.5 0 1,0 11.0,0a5.5,5.5 0 1,0 -11.0,0M972.5,543.9a5.5,5.5 0 1,0 11.0,0a5.5,5.5 0 1,0 -11.0,0M973.9,513.7a5.5,5.5 0 1,0 11.0,0a5.5,5.5 0 1,0 -11.0,0M975.2,487.9a5.5,5.5 0 1,0 11.0,0a5.5,5.5 0 1,0 -11.0,0M976.6,469.2a5.5,5.5 0 1,0 11.0,0a5.5,5.5 0 1,0 -11.0,0M977.9,453.4a5.5,5.5 0 1,0 11.0,0a5.5,5.5 0 1,0 -11.0,0M979.3,442.7a5.5,5.5 0 1,0 11.0,0a5.5,5.5 0 1,0 -11.0,0M980.6,440.5a5.5,5.5 0 1,0 11.0,0a5.5,5.5 0 1,0 -11.0,0M982.0,448.7a5.5,5.5 0 1,0 11.0,0a5.5,5.5 0 1,0 -11.0,0M983.4,457.6a5.5,5.5 0 1,0 11.0,0a5.5,5.5 0 1,0 -11.0,0M984.7,464.9a5.5,5.5 0 1,0 11.0,0a5.5,5.5 0 1,0 -11.0,0M986.1,488.9a5.5,5.5 0 1,0 11.0,0a5.5,5.5 0 1,0 -11.0,0M987.4,502.0a5.5,5.5 0 1,0 11.0,0a5.5,5.5 0 1,0 -11.0,0M988.8,528.5a5.5,5.5 0 1,0 11.0,0a5.5,5.5 0 1,0 -11.0,0M990.2,554.4a5.5,5.5 0 1,0 11.0,0a5.5,5.5 0 1,0 -11.0,0M991.5,581.8a5.5,5.5 0 1,0 11.0,0a5.5,5.5 0 1,0 -11.0,0M992.9,611.3a5.5,5.5 0 1,0 11.0,0a5.5,5.5 0 1,0 -11.0,0M994.2,643.4a5.5,5.5 0 1,0 11.0,0a5.5,5.5 0 1,0 -11.0,0M995.6,673.2a5.5,5.5 0 1,0 11.0,0a5.5,5.5 0 1,0 -11.0,0M997.0,701.6a5.5,5.5 0 1,0 11.0,0a5.5,5.5 0 1,0 -11.0,0M998.3,737.5a5.5,5.5 0 1,0 11.0,0a5.5,5.5 0 1,0 -11.0,0M999.7,762.1a5.5,5.5 0 1,0 11.0,0a5.5,5.5 0 1,0 -11.0,0M1001.0,790.4a5.5,5.5 0 1,0 11.0,0a5.5,5.5 0 1,0 -11.0,0M1002.4,816.3a5.5,5.5 0 1,0 11.0,0a5.5,5.5 0 1,0 -11.0,0M1003.8,831.4a5.5,5.5 0 1,0 11.0,0a5.5,5.5 0 1,0 -11.0,0M1005.1,852.3a5.5,5.5 0 1,0 11.0,0a5.5,5.5 0 1,0 -11.0,0M1006.5,868.0a5.5,5.5 0 1,0 11.0,0a5.5,5.5 0 1,0 -11.0,0M1007.8,871.4a5.5,5.5 0 1,0 11.0,0a5.5,5.5 0 1,0 -11.0,0M1009.2,880.2a5.5,5.5 0 1,0 11.0,0a5.5,5.5 0 1,0 -11.0,0M1010.5,880.4a5.5,5.5 0 1,0 11.0,0a5.5,5.5 0 1,0 -11.0,0M1011.9,871.9a5.5,5.5 0 1,0 11.0,0a5.5,5.5 0 1,0 -11.0,0M1013.3,859.8a5.5,5.5 0 1,0 11.0,0a5.5,5.5 0 1,0 -11.0,0M1014.6,843.8a5.5,5.5 0 1,0 11.0,0a5.5,5.5 0 1,0 -11.0,0M1016.0,826.6a5.5,5.5 0 1,0 11.0,0a5.5,5.5 0 1,0 -11.0,0M1017.3,803.3a5.5,5.5 0 1,0 11.0,0a5.5,5.5 0 1,0 -11.0,0M1018.7,782.1a5.5,5.5 0 1,0 11.0,0a5.5,5.5 0 1,0 -11.0,0M1020.1,751.8a5.5,5.5 0 1,0 11.0,0a5.5,5.5 0 1,0 -11.0,0M1021.4,724.0a5.5,5.5 0 1,0 11.0,0a5.5,5.5 0 1,0 -11.0,0M1022.8,694.0a5.5,5.5 0 1,0 11.0,0a5.5,5.5 0 1,0 -11.0,0M1024.1,665.8a5.5,5.5 0 1,0 11.0,0a5.5,5.5 0 1,0 -11.0,0M1025.5,643.7a5.5,5.5 0 1,0 11.0,0a5.5,5.5 0 1,0 -11.0,0M1026.9,614.0a5.5,5.5 0 1,0 11.0,0a5.5,5.5 0 1,0 -11.0,0M1028.2,588.2a5.5,5.5 0 1,0 11.0,0a5.5,5.5 0 1,0 -11.0,0M1029.6,561.9a5.5,5.5 0 1,0 11.0,0a5.5,5.5 0 1,0 -11.0,0M1030.9,543.6a5.5,5.5 0 1,0 11.0,0a5.5,5.5 0 1,0 -11.0,0M1032.3,525.0a5.5,5.5 0 1,0 11.0,0a5.5,5.5 0 1,0 -11.0,0M1033.7,508.8a5.5,5.5 0 1,0 11.0,0a5.5,5.5 0 1,0 -11.0,0M1035.0,492.4a5.5,5.5 0 1,0 11.0,0a5.5,5.5 0 1,0 -11.0,0M1036.4,487.1a5.5,5.5 0 1,0 11.0,0a5.5,5.5 0 1,0 -11.0,0M1037.7,478.0a5.5,5.5 0 1,0 11.0,0a5.5,5.5 0 1,0 -11.0,0M1039.1,475.0a5.5,5.5 0 1,0 11.0,0a5.5,5.5 0 1,0 -11.0,0M1040.5,481.3a5.5,5.5 0 1,0 11.0,0a5.5,5.5 0 1,0 -11.0,0M1041.8,484.1a5.5,5.5 0 1,0 11.0,0a5.5,5.5 0 1,0 -11.0,0M1043.2,503.5a5.5,5.5 0 1,0 11.0,0a5.5,5.5 0 1,0 -11.0,0M1044.5,514.2a5.5,5.5 0 1,0 11.0,0a5.5,5.5 0 1,0 -11.0,0M1045.9,537.1a5.5,5.5 0 1,0 11.0,0a5.5,5.5 0 1,0 -11.0,0M1047.2,561.5a5.5,5.5 0 1,0 11.0,0a5.5,5.5 0 1,0 -11.0,0M1048.6,583.7a5.5,5.5 0 1,0 11.0,0a5.5,5.5 0 1,0 -11.0,0M1050.0,605.1a5.5,5.5 0 1,0 11.0,0a5.5,5.5 0 1,0 -11.0,0M1051.3,636.9a5.5,5.5 0 1,0 11.0,0a5.5,5.5 0 1,0 -11.0,0M1052.7,660.7a5.5,5.5 0 1,0 11.0,0a5.5,5.5 0 1,0 -11.0,0M1054.0,680.5a5.5,5.5 0 1,0 11.0,0a5.5,5.5 0 1,0 -11.0,0M1055.4,702.6a5.5,5.5 0 1,0 11.0,0a5.5,5.5 0 1,0 -11.0,0M1056.8,724.2a5.5,5.5 0 1,0 11.0,0a5.5,5.5 0 1,0 -11.0,0M1058.1,743.3a5.5,5.5 0 1,0 11.0,0a5.5,5.5 0 1,0 -11.0,0M1059.5,762.5a5.5,5.5 0 1,0 11.0,0a5.5,5.5 0 1,0 -11.0,0M1060.8,778.9a5.5,5.5 0 1,0 11.0,0a5.5,5.5 0 1,0 -11.0,0M1062.2,796.7a5.5,5.5 0 1,0 11.0,0a5.5,5.5 0 1,0 -11.0,0M1063.6,807.2a5.5,5.5 0 1,0 11.0,0a5.5,5.5 0 1,0 -11.0,0M1064.9,817.3a5.5,5.5 0 1,0 11.0,0a5.5,5.5 0 1,0 -11.0,0M1066.3,821.9a5.5,5.5 0 1,0 11.0,0a5.5,5.5 0 1,0 -11.0,0M1067.6,828.8a5.5,5.5 0 1,0 11.0,0a5.5,5.5 0 1,0 -11.0,0M1069.0,821.9a5.5,5.5 0 1,0 11.0,0a5.5,5.5 0 1,0 -11.0,0M1070.4,825.0a5.5,5.5 0 1,0 11.0,0a5.5,5.5 0 1,0 -11.0,0M1071.7,813.7a5.5,5.5 0 1,0 11.0,0a5.5,5.5 0 1,0 -11.0,0M1073.1,805.7a5.5,5.5 0 1,0 11.0,0a5.5,5.5 0 1,0 -11.0,0M1074.4,793.5a5.5,5.5 0 1,0 11.0,0a5.5,5.5 0 1,0 -11.0,0M1075.8,783.0a5.5,5.5 0 1,0 11.0,0a5.5,5.5 0 1,0 -11.0,0M1077.1,770.4a5.5,5.5 0 1,0 11.0,0a5.5,5.5 0 1,0 -11.0,0M1078.5,759.6a5.5,5.5 0 1,0 11.0,0a5.5,5.5 0 1,0 -11.0,0M1079.9,739.3a5.5,5.5 0 1,0 11.0,0a5.5,5.5 0 1,0 -11.0,0M1081.2,724.1a5.5,5.5 0 1,0 11.0,0a5.5,5.5 0 1,0 -11.0,0M1082.6,702.1a5.5,5.5 0 1,0 11.0,0a5.5,5.5 0 1,0 -11.0,0M1083.9,686.9a5.5,5.5 0 1,0 11.0,0a5.5,5.5 0 1,0 -11.0,0M1085.3,666.3a5.5,5.5 0 1,0 11.0,0a5.5,5.5 0 1,0 -11.0,0M1086.7,650.3a5.5,5.5 0 1,0 11.0,0a5.5,5.5 0 1,0 -11.0,0M1088.0,631.8a5.5,5.5 0 1,0 11.0,0a5.5,5.5 0 1,0 -11.0,0M1089.4,615.1a5.5,5.5 0 1,0 11.0,0a5.5,5.5 0 1,0 -11.0,0M1090.7,603.5a5.5,5.5 0 1,0 11.0,0a5.5,5.5 0 1,0 -11.0,0M1092.1,587.5a5.5,5.5 0 1,0 11.0,0a5.5,5.5 0 1,0 -11.0,0M1093.5,575.0a5.5,5.5 0 1,0 11.0,0a5.5,5.5 0 1,0 -11.0,0M1094.8,566.0a5.5,5.5 0 1,0 11.0,0a5.5,5.5 0 1,0 -11.0,0M1096.2,550.3a5.5,5.5 0 1,0 11.0,0a5.5,5.5 0 1,0 -11.0,0M1097.5,544.9a5.5,5.5 0 1,0 11.0,0a5.5,5.5 0 1,0 -11.0,0M1098.9,538.3a5.5,5.5 0 1,0 11.0,0a5.5,5.5 0 1,0 -11.0,0M1100.3,534.0a5.5,5.5 0 1,0 11.0,0a5.5,5.5 0 1,0 -11.0,0M1101.6,539.5a5.5,5.5 0 1,0 11.0,0a5.5,5.5 0 1,0 -11.0,0M1103.0,536.6a5.5,5.5 0 1,0 11.0,0a5.5,5.5 0 1,0 -11.0,0M1104.3,545.6a5.5,5.5 0 1,0 11.0,0a5.5,5.5 0 1,0 -11.0,0M1105.7,547.0a5.5,5.5 0 1,0 11.0,0a5.5,5.5 0 1,0 -11.0,0M1107.1,550.8a5.5,5.5 0 1,0 11.0,0a5.5,5.5 0 1,0 -11.0,0M1108.4,557.6a5.5,5.5 0 1,0 11.0,0a5.5,5.5 0 1,0 -11.0,0M1109.8,565.4a5.5,5.5 0 1,0 11.0,0a5.5,5.5 0 1,0 -11.0,0M1111.1,574.0a5.5,5.5 0 1,0 11.0,0a5.5,5.5 0 1,0 -11.0,0M1112.5,585.2a5.5,5.5 0 1,0 11.0,0a5.5,5.5 0 1,0 -11.0,0M1113.8,591.2a5.5,5.5 0 1,0 11.0,0a5.5,5.5 0 1,0 -11.0,0M1115.2,607.1a5.5,5.5 0 1,0 11.0,0a5.5,5.5 0 1,0 -11.0,0M1116.6,612.9a5.5,5.5 0 1,0 11.0,0a5.5,5.5 0 1,0 -11.0,0M1117.9,627.2a5.5,5.5 0 1,0 11.0,0a5.5,5.5 0 1,0 -11.0,0M1119.3,641.4a5.5,5.5 0 1,0 11.0,0a5.5,5.5 0 1,0 -11.0,0M1120.6,650.0a5.5,5.5 0 1,0 11.0,0a5.5,5.5 0 1,0 -11.0,0M1122.0,661.3a5.5,5.5 0 1,0 11.0,0a5.5,5.5 0 1,0 -11.0,0M1123.4,676.5a5.5,5.5 0 1,0 11.0,0a5.5,5.5 0 1,0 -11.0,0M1124.7,683.8a5.5,5.5 0 1,0 11.0,0a5.5,5.5 0 1,0 -11.0,0M1126.1,699.5a5.5,5.5 0 1,0 11.0,0a5.5,5.5 0 1,0 -11.0,0M1127.4,706.8a5.5,5.5 0 1,0 11.0,0a5.5,5.5 0 1,0 -11.0,0M1128.8,719.1a5.5,5.5 0 1,0 11.0,0a5.5,5.5 0 1,0 -11.0,0M1130.2,723.0a5.5,5.5 0 1,0 11.0,0a5.5,5.5 0 1,0 -11.0,0M1131.5,735.3a5.5,5.5 0 1,0 11.0,0a5.5,5.5 0 1,0 -11.0,0M1132.9,745.0a5.5,5.5 0 1,0 11.0,0a5.5,5.5 0 1,0 -11.0,0M1134.2,749.6a5.5,5.5 0 1,0 11.0,0a5.5,5.5 0 1,0 -11.0,0M1135.6,752.6a5.5,5.5 0 1,0 11.0,0a5.5,5.5 0 1,0 -11.0,0M1137.0,765.1a5.5,5.5 0 1,0 11.0,0a5.5,5.5 0 1,0 -11.0,0M1138.3,769.0a5.5,5.5 0 1,0 11.0,0a5.5,5.5 0 1,0 -11.0,0M1139.7,763.7a5.5,5.5 0 1,0 11.0,0a5.5,5.5 0 1,0 -11.0,0M1141.0,771.5a5.5,5.5 0 1,0 11.0,0a5.5,5.5 0 1,0 -11.0,0M1142.4,771.3a5.5,5.5 0 1,0 11.0,0a5.5,5.5 0 1,0 -11.0,0M1143.7,767.5a5.5,5.5 0 1,0 11.0,0a5.5,5.5 0 1,0 -11.0,0M1145.1,754.5a5.5,5.5 0 1,0 11.0,0a5.5,5.5 0 1,0 -11.0,0M1146.5,747.7a5.5,5.5 0 1,0 11.0,0a5.5,5.5 0 1,0 -11.0,0M1147.8,735.7a5.5,5.5 0 1,0 11.0,0a5.5,5.5 0 1,0 -11.0,0M1149.2,727.6a5.5,5.5 0 1,0 11.0,0a5.5,5.5 0 1,0 -11.0,0M1150.5,712.1a5.5,5.5 0 1,0 11.0,0a5.5,5.5 0 1,0 -11.0,0M1151.9,691.9a5.5,5.5 0 1,0 11.0,0a5.5,5.5 0 1,0 -11.0,0M1153.3,678.0a5.5,5.5 0 1,0 11.0,0a5.5,5.5 0 1,0 -11.0,0M1154.6,662.5a5.5,5.5 0 1,0 11.0,0a5.5,5.5 0 1,0 -11.0,0M1156.0,642.2a5.5,5.5 0 1,0 11.0,0a5.5,5.5 0 1,0 -11.0,0M1157.3,629.1a5.5,5.5 0 1,0 11.0,0a5.5,5.5 0 1,0 -11.0,0M1158.7,603.9a5.5,5.5 0 1,0 11.0,0a5.5,5.5 0 1,0 -11.0,0M1160.1,586.2a5.5,5.5 0 1,0 11.0,0a5.5,5.5 0 1,0 -11.0,0M1161.4,574.7a5.5,5.5 0 1,0 11.0,0a5.5,5.5 0 1,0 -11.0,0M1162.8,559.9a5.5,5.5 0 1,0 11.0,0a5.5,5.5 0 1,0 -11.0,0M1164.1,543.6a5.5,5.5 0 1,0 11.0,0a5.5,5.5 0 1,0 -11.0,0M1165.5,523.9a5.5,5.5 0 1,0 11.0,0a5.5,5.5 0 1,0 -11.0,0M1166.9,517.3a5.5,5.5 0 1,0 11.0,0a5.5,5.5 0 1,0 -11.0,0M1168.2,505.2a5.5,5.5 0 1,0 11.0,0a5.5,5.5 0 1,0 -11.0,0M1169.6,498.7a5.5,5.5 0 1,0 11.0,0a5.5,5.5 0 1,0 -11.0,0M1170.9,491.3a5.5,5.5 0 1,0 11.0,0a5.5,5.5 0 1,0 -11.0,0M1172.3,488.0a5.5,5.5 0 1,0 11.0,0a5.5,5.5 0 1,0 -11.0,0M1173.6,487.2a5.5,5.5 0 1,0 11.0,0a5.5,5.5 0 1,0 -11.0,0M1175.0,492.9a5.5,5.5 0 1,0 11.0,0a5.5,5.5 0 1,0 -11.0,0M1176.4,495.5a5.5,5.5 0 1,0 11.0,0a5.5,5.5 0 1,0 -11.0,0M1177.7,510.5a5.5,5.5 0 1,0 11.0,0a5.5,5.5 0 1,0 -11.0,0M1179.1,522.9a5.5,5.5 0 1,0 11.0,0a5.5,5.5 0 1,0 -11.0,0M1180.4,541.6a5.5,5.5 0 1,0 11.0,0a5.5,5.5 0 1,0 -11.0,0M1181.8,566.2a5.5,5.5 0 1,0 11.0,0a5.5,5.5 0 1,0 -11.0,0M1183.2,588.8a5.5,5.5 0 1,0 11.0,0a5.5,5.5 0 1,0 -11.0,0M1184.5,614.7a5.5,5.5 0 1,0 11.0,0a5.5,5.5 0 1,0 -11.0,0M1185.9,641.4a5.5,5.5 0 1,0 11.0,0a5.5,5.5 0 1,0 -11.0,0M1187.2,672.7a5.5,5.5 0 1,0 11.0,0a5.5,5.5 0 1,0 -11.0,0M1188.6,694.9a5.5,5.5 0 1,0 11.0,0a5.5,5.5 0 1,0 -11.0,0M1190.0,724.7a5.5,5.5 0 1,0 11.0,0a5.5,5.5 0 1,0 -11.0,0M1191.3,756.3a5.5,5.5 0 1,0 11.0,0a5.5,5.5 0 1,0 -11.0,0M1192.7,778.4a5.5,5.5 0 1,0 11.0,0a5.5,5.5 0 1,0 -11.0,0M1194.0,808.6a5.5,5.5 0 1,0 11.0,0a5.5,5.5 0 1,0 -11.0,0M1195.4,830.8a5.5,5.5 0 1,0 11.0,0a5.5,5.5 0 1,0 -11.0,0M1196.8,853.2a5.5,5.5 0 1,0 11.0,0a5.5,5.5 0 1,0 -11.0,0M1198.1,875.0a5.5,5.5 0 1,0 11.0,0a5.5,5.5 0 1,0 -11.0,0M1199.5,890.7a5.5,5.5 0 1,0 11.0,0a5.5,5.5 0 1,0 -11.0,0M1200.8,902.0a5.5,5.5 0 1,0 11.0,0a5.5,5.5 0 1,0 -11.0,0M1202.2,914.3a5.5,5.5 0 1,0 11.0,0a5.5,5.5 0 1,0 -11.0,0M1203.6,923.1a5.5,5.5 0 1,0 11.0,0a5.5,5.5 0 1,0 -11.0,0M1204.9,926.2a5.5,5.5 0 1,0 11.0,0a5.5,5.5 0 1,0 -11.0,0M1206.3,917.5a5.5,5.5 0 1,0 11.0,0a5.5,5.5 0 1,0 -11.0,0M1207.6,912.1a5.5,5.5 0 1,0 11.0,0a5.5,5.5 0 1,0 -11.0,0M1209.0,897.2a5.5,5.5 0 1,0 11.0,0a5.5,5.5 0 1,0 -11.0,0M1210.3,873.8a5.5,5.5 0 1,0 11.0,0a5.5,5.5 0 1,0 -11.0,0M1211.7,855.6a5.5,5.5 0 1,0 11.0,0a5.5,5.5 0 1,0 -11.0,0M1213.1,825.0a5.5,5.5 0 1,0 11.0,0a5.5,5.5 0 1,0 -11.0,0M1214.4,798.5a5.5,5.5 0 1,0 11.0,0a5.5,5.5 0 1,0 -11.0,0M1215.8,767.7a5.5,5.5 0 1,0 11.0,0a5.5,5.5 0 1,0 -11.0,0M1217.1,733.9a5.5,5.5 0 1,0 11.0,0a5.5,5.5 0 1,0 -11.0,0M1218.5,694.8a5.5,5.5 0 1,0 11.0,0a5.5,5.5 0 1,0 -11.0,0M1219.9,663.2a5.5,5.5 0 1,0 11.0,0a5.5,5.5 0 1,0 -11.0,0M1221.2,624.6a5.5,5.5 0 1,0 11.0,0a5.5,5.5 0 1,0 -11.0,0M1222.6,591.6a5.5,5.5 0 1,0 11.0,0a5.5,5.5 0 1,0 -11.0,0M1223.9,556.4a5.5,5.5 0 1,0 11.0,0a5.5,5.5 0 1,0 -11.0,0M1225.3,519.0a5.5,5.5 0 1,0 11.0,0a5.5,5.5 0 1,0 -11.0,0M1226.7,493.1a5.5,5.5 0 1,0 11.0,0a5.5,5.5 0 1,0 -11.0,0M1228.0,466.7a5.5,5.5 0 1,0 11.0,0a5.5,5.5 0 1,0 -11.0,0M1229.4,440.6a5.5,5.5 0 1,0 11.0,0a5.5,5.5 0 1,0 -11.0,0M1230.7,423.9a5.5,5.5 0 1,0 11.0,0a5.5,5.5 0 1,0 -11.0,0M1232.1,408.2a5.5,5.5 0 1,0 11.0,0a5.5,5.5 0 1,0 -11.0,0M1233.5,398.3a5.5,5.5 0 1,0 11.0,0a5.5,5.5 0 1,0 -11.0,0M1234.8,390.8a5.5,5.5 0 1,0 11.0,0a5.5,5.5 0 1,0 -11.0,0M1236.2,387.4a5.5,5.5 0 1,0 11.0,0a5.5,5.5 0 1,0 -11.0,0M1237.5,398.0a5.5,5.5 0 1,0 11.0,0a5.5,5.5 0 1,0 -11.0,0M1238.9,410.2a5.5,5.5 0 1,0 11.0,0a5.5,5.5 0 1,0 -11.0,0M1240.2,432.3a5.5,5.5 0 1,0 11.0,0a5.5,5.5 0 1,0 -11.0,0M1241.6,459.1a5.5,5.5 0 1,0 11.0,0a5.5,5.5 0 1,0 -11.0,0M1243.0,482.8a5.5,5.5 0 1,0 11.0,0a5.5,5.5 0 1,0 -11.0,0M1244.3,514.0a5.5,5.5 0 1,0 11.0,0a5.5,5.5 0 1,0 -11.0,0M1245.7,552.2a5.5,5.5 0 1,0 11.0,0a5.5,5.5 0 1,0 -11.0,0M1247.0,587.3a5.5,5.5 0 1,0 11.0,0a5.5,5.5 0 1,0 -11.0,0M1248.4,627.4a5.5,5.5 0 1,0 11.0,0a5.5,5.5 0 1,0 -11.0,0M1249.8,663.1a5.5,5.5 0 1,0 11.0,0a5.5,5.5 0 1,0 -11.0,0M1251.1,699.5a5.5,5.5 0 1,0 11.0,0a5.5,5.5 0 1,0 -11.0,0M1252.5,738.2a5.5,5.5 0 1,0 11.0,0a5.5,5.5 0 1,0 -11.0,0M1253.8,781.4a5.5,5.5 0 1,0 11.0,0a5.5,5.5 0 1,0 -11.0,0M1255.2,815.1a5.5,5.5 0 1,0 11.0,0a5.5,5.5 0 1,0 -11.0,0M1256.6,847.3a5.5,5.5 0 1,0 11.0,0a5.5,5.5 0 1,0 -11.0,0M1257.9,877.6a5.5,5.5 0 1,0 11.0,0a5.5,5.5 0 1,0 -11.0,0M1259.3,907.2a5.5,5.5 0 1,0 11.0,0a5.5,5.5 0 1,0 -11.0,0M1260.6,931.8a5.5,5.5 0 1,0 11.0,0a5.5,5.5 0 1,0 -11.0,0M1262.0,948.9a5.5,5.5 0 1,0 11.0,0a5.5,5.5 0 1,0 -11.0,0M1263.4,959.7a5.5,5.5 0 1,0 11.0,0a5.5,5.5 0 1,0 -11.0,0M1264.7,966.6a5.5,5.5 0 1,0 11.0,0a5.5,5.5 0 1,0 -11.0,0M1266.1,966.9a5.5,5.5 0 1,0 11.0,0a5.5,5.5 0 1,0 -11.0,0M1267.4,955.3a5.5,5.5 0 1,0 11.0,0a5.5,5.5 0 1,0 -11.0,0M1268.8,947.9a5.5,5.5 0 1,0 11.0,0a5.5,5.5 0 1,0 -11.0,0M1270.2,923.2a5.5,5.5 0 1,0 11.0,0a5.5,5.5 0 1,0 -11.0,0M1271.5,899.2a5.5,5.5 0 1,0 11.0,0a5.5,5.5 0 1,0 -11.0,0M1272.9,874.9a5.5,5.5 0 1,0 11.0,0a5.5,5.5 0 1,0 -11.0,0M1274.2,837.5a5.5,5.5 0 1,0 11.0,0a5.5,5.5 0 1,0 -11.0,0M1275.6,802.0a5.5,5.5 0 1,0 11.0,0a5.5,5.5 0 1,0 -11.0,0M1276.9,769.5a5.5,5.5 0 1,0 11.0,0a5.5,5.5 0 1,0 -11.0,0M1278.3,728.7a5.5,5.5 0 1,0 11.0,0a5.5,5.5 0 1,0 -11.0,0M1279.7,687.1a5.5,5.5 0 1,0 11.0,0a5.5,5.5 0 1,0 -11.0,0M1281.0,647.0a5.5,5.5 0 1,0 11.0,0a5.5,5.5 0 1,0 -11.0,0M1282.4,603.6a5.5,5.5 0 1,0 11.0,0a5.5,5.5 0 1,0 -11.0,0M1283.7,558.9a5.5,5.5 0 1,0 11.0,0a5.5,5.5 0 1,0 -11.0,0M1285.1,527.1a5.5,5.5 0 1,0 11.0,0a5.5,5.5 0 1,0 -11.0,0M1286.5,485.5a5.5,5.5 0 1,0 11.0,0a5.5,5.5 0 1,0 -11.0,0M1287.8,449.5a5.5,5.5 0 1,0 11.0,0a5.5,5.5 0 1,0 -11.0,0M1289.2,425.9a5.5,5.5 0 1,0 11.0,0a5.5,5.5 0 1,0 -11.0,0M1290.5,398.6a5.5,5.5 0 1,0 11.0,0a5.5,5.5 0 1,0 -11.0,0M1291.9,376.9a5.5,5.5 0 1,0 11.0,0a5.5,5.5 0 1,0 -11.0,0M1293.3,358.2a5.5,5.5 0 1,0 11.0,0a5.5,5.5 0 1,0 -11.0,0M1294.6,345.1a5.5,5.5 0 1,0 11.0,0a5.5,5.5 0 1,0 -11.0,0M1296.0,343.2a5.5,5.5 0 1,0 11.0,0a5.5,5.5 0 1,0 -11.0,0M1297.3,351.8a5.5,5.5 0 1,0 11.0,0a5.5,5.5 0 1,0 -11.0,0M1298.7,358.0a5.5,5.5 0 1,0 11.0,0a5.5,5.5 0 1,0 -11.0,0M1300.1,376.7a5.5,5.5 0 1,0 11.0,0a5.5,5.5 0 1,0 -11.0,0M1301.4,403.4a5.5,5.5 0 1,0 11.0,0a5.5,5.5 0 1,0 -11.0,0M1302.8,425.5a5.5,5.5 0 1,0 11.0,0a5.5,5.5 0 1,0 -11.0,0M1304.1,462.3a5.5,5.5 0 1,0 11.0,0a5.5,5.5 0 1,0 -11.0,0M1305.5,496.6a5.5,5.5 0 1,0 11.0,0a5.5,5.5 0 1,0 -11.0,0M1306.8,534.1a5.5,5.5 0 1,0 11.0,0a5.5,5.5 0 1,0 -11.0,0M1308.2,572.9a5.5,5.5 0 1,0 11.0,0a5.5,5.5 0 1,0 -11.0,0M1309.6,611.5a5.5,5.5 0 1,0 11.0,0a5.5,5.5 0 1,0 -11.0,0M1310.9,658.7a5.5,5.5 0 1,0 11.0,0a5.5,5.5 0 1,0 -11.0,0M1312.3,700.4a5.5,5.5 0 1,0 11.0,0a5.5,5.5 0 1,0 -11.0,0M1313.6,738.9a5.5,5.5 0 1,0 11.0,0a5.5,5.5 0 1,0 -11.0,0M1315.0,775.0a5.5,5.5 0 1,0 11.0,0a5.5,5.5 0 1,0 -11.0,0M1316.4,814.1a5.5,5.5 0 1,0 11.0,0a5.5,5.5 0 1,0 -11.0,0M1317.7,847.8a5.5,5.5 0 1,0 11.0,0a5.5,5.5 0 1,0 -11.0,0M1319.1,875.4a5.5,5.5 0 1,0 11.0,0a5.5,5.5 0 1,0 -11.0,0M1320.4,899.1a5.5,5.5 0 1,0 11.0,0a5.5,5.5 0 1,0 -11.0,0M1321.8,922.9a5.5,5.5 0 1,0 11.0,0a5.5,5.5 0 1,0 -11.0,0M1323.2,932.2a5.5,5.5 0 1,0 11.0,0a5.5,5.5 0 1,0 -11.0,0M1324.5,939.2a5.5,5.5 0 1,0 11.0,0a5.5,5.5 0 1,0 -11.0,0M1325.9,939.9a5.5,5.5 0 1,0 11.0,0a5.5,5.5 0 1,0 -11.0,0M1327.2,936.5a5.5,5.5 0 1,0 11.0,0a5.5,5.5 0 1,0 -11.0,0M1328.6,925.5a5.5,5.5 0 1,0 11.0,0a5.5,5.5 0 1,0 -11.0,0M1330.0,907.2a5.5,5.5 0 1,0 11.0,0a5.5,5.5 0 1,0 -11.0,0M1331.3,886.5a5.5,5.5 0 1,0 11.0,0a5.5,5.5 0 1,0 -11.0,0M1332.7,860.8a5.5,5.5 0 1,0 11.0,0a5.5,5.5 0 1,0 -11.0,0M1334.0,833.9a5.5,5.5 0 1,0 11.0,0a5.5,5.5 0 1,0 -11.0,0M1335.4,802.4a5.5,5.5 0 1,0 11.0,0a5.5,5.5 0 1,0 -11.0,0M1336.7,769.5a5.5,5.5 0 1,0 11.0,0a5.5,5.5 0 1,0 -11.0,0M1338.1,734.9a5.5,5.5 0 1,0 11.0,0a5.5,5.5 0 1,0 -11.0,0M1339.5,701.9a5.5,5.5 0 1,0 11.0,0a5.5,5.5 0 1,0 -11.0,0M1340.8,663.2a5.5,5.5 0 1,0 11.0,0a5.5,5.5 0 1,0 -11.0,0M1342.2,623.4a5.5,5.5 0 1,0 11.0,0a5.5,5.5 0 1,0 -11.0,0M1343.5,589.3a5.5,5.5 0 1,0 11.0,0a5.5,5.5 0 1,0 -11.0,0M1344.9,558.4a5.5,5.5 0 1,0 11.0,0a5.5,5.5 0 1,0 -11.0,0M1346.3,525.6a5.5,5.5 0 1,0 11.0,0a5.5,5.5 0 1,0 -11.0,0M1347.6,491.6a5.5,5.5 0 1,0 11.0,0a5.5,5.5 0 1,0 -11.0,0M1349.0,470.0a5.5,5.5 0 1,0 11.0,0a5.5,5.5 0 1,0 -11.0,0M1350.3,442.5a5.5,5.5 0 1,0 11.0,0a5.5,5.5 0 1,0 -11.0,0M1351.7,424.9a5.5,5.5 0 1,0 11.0,0a5.5,5.5 0 1,0 -11.0,0M1353.1,403.3a5.5,5.5 0 1,0 11.0,0a5.5,5.5 0 1,0 -11.0,0M1354.4,395.6a5.5,5.5 0 1,0 11.0,0a5.5,5.5 0 1,0 -11.0,0M1355.8,393.9a5.5,5.5 0 1,0 11.0,0a5.5,5.5 0 1,0 -11.0,0M1357.1,391.5a5.5,5.5 0 1,0 11.0,0a5.5,5.5 0 1,0 -11.0,0M1358.5,402.0a5.5,5.5 0 1,0 11.0,0a5.5,5.5 0 1,0 -11.0,0M1359.9,409.1a5.5,5.5 0 1,0 11.0,0a5.5,5.5 0 1,0 -11.0,0M1361.2,428.0a5.5,5.5 0 1,0 11.0,0a5.5,5.5 0 1,0 -11.0,0M1362.6,450.4a5.5,5.5 0 1,0 11.0,0a5.5,5.5 0 1,0 -11.0,0M1363.9,472.7a5.5,5.5 0 1,0 11.0,0a5.5,5.5 0 1,0 -11.0,0M1365.3,504.0a5.5,5.5 0 1,0 11.0,0a5.5,5.5 0 1,0 -11.0,0M1366.7,533.7a5.5,5.5 0 1,0 11.0,0a5.5,5.5 0 1,0 -11.0,0M1368.0,566.3a5.5,5.5 0 1,0 11.0,0a5.5,5.5 0 1,0 -11.0,0M1369.4,600.6a5.5,5.5 0 1,0 11.0,0a5.5,5.5 0 1,0 -11.0,0M1370.7,636.8a5.5,5.5 0 1,0 11.0,0a5.5,5.5 0 1,0 -11.0,0M1372.1,673.9a5.5,5.5 0 1,0 11.0,0a5.5,5.5 0 1,0 -11.0,0M1373.4,706.9a5.5,5.5 0 1,0 11.0,0a5.5,5.5 0 1,0 -11.0,0M1374.8,745.7a5.5,5.5 0 1,0 11.0,0a5.5,5.5 0 1,0 -11.0,0M1376.2,777.2a5.5,5.5 0 1,0 11.0,0a5.5,5.5 0 1,0 -11.0,0M1377.5,810.9a5.5,5.5 0 1,0 11.0,0a5.5,5.5 0 1,0 -11.0,0M1378.9,834.0a5.5,5.5 0 1,0 11.0,0a5.5,5.5 0 1,0 -11.0,0M1380.2,864.6a5.5,5.5 0 1,0 11.0,0a5.5,5.5 0 1,0 -11.0,0M1381.6,886.9a5.5,5.5 0 1,0 11.0,0a5.5,5.5 0 1,0 -11.0,0M1383.0,900.9a5.5,5.5 0 1,0 11.0,0a5.5,5.5 0 1,0 -11.0,0M1384.3,921.5a5.5,5.5 0 1,0 11.0,0a5.5,5.5 0 1,0 -11.0,0M1385.7,925.5a5.5,5.5 0 1,0 11.0,0a5.5,5.5 0 1,0 -11.0,0M1387.0,927.5a5.5,5.5 0 1,0 11.0,0a5.5,5.5 0 1,0 -11.0,0M1388.4,925.2a5.5,5.5 0 1,0 11.0,0a5.5,5.5 0 1,0 -11.0,0M1389.8,916.3a5.5,5.5 0 1,0 11.0,0a5.5,5.5 0 1,0 -11.0,0M1391.1,903.8a5.5,5.5 0 1,0 11.0,0a5.5,5.5 0 1,0 -11.0,0M1392.5,884.3a5.5,5.5 0 1,0 11.0,0a5.5,5.5 0 1,0 -11.0,0M1393.8,863.0a5.5,5.5 0 1,0 11.0,0a5.5,5.5 0 1,0 -11.0,0M1395.2,843.8a5.5,5.5 0 1,0 11.0,0a5.5,5.5 0 1,0 -11.0,0M1396.6,814.2a5.5,5.5 0 1,0 11.0,0a5.5,5.5 0 1,0 -11.0,0M1397.9,785.2a5.5,5.5 0 1,0 11.0,0a5.5,5.5 0 1,0 -11.0,0M1399.3,756.8a5.5,5.5 0 1,0 11.0,0a5.5,5.5 0 1,0 -11.0,0M1400.6,721.2a5.5,5.5 0 1,0 11.0,0a5.5,5.5 0 1,0 -11.0,0M1402.0,693.0a5.5,5.5 0 1,0 11.0,0a5.5,5.5 0 1,0 -11.0,0M1403.3,659.7a5.5,5.5 0 1,0 11.0,0a5.5,5.5 0 1,0 -11.0,0M1404.7,622.3a5.5,5.5 0 1,0 11.0,0a5.5,5.5 0 1,0 -11.0,0M1406.1,597.3a5.5,5.5 0 1,0 11.0,0a5.5,5.5 0 1,0 -11.0,0M1407.4,568.7a5.5,5.5 0 1,0 11.0,0a5.5,5.5 0 1,0 -11.0,0M1408.8,535.7a5.5,5.5 0 1,0 11.0,0a5.5,5.5 0 1,0 -11.0,0M1410.1,515.4a5.5,5.5 0 1,0 11.0,0a5.5,5.5 0 1,0 -11.0,0M1411.5,490.5a5.5,5.5 0 1,0 11.0,0a5.5,5.5 0 1,0 -11.0,0M1412.9,472.7a5.5,5.5 0 1,0 11.0,0a5.5,5.5 0 1,0 -11.0,0M1414.2,462.9a5.5,5.5 0 1,0 11.0,0a5.5,5.5 0 1,0 -11.0,0M1415.6,454.2a5.5,5.5 0 1,0 11.0,0a5.5,5.5 0 1,0 -11.0,0M1416.9,443.8a5.5,5.5 0 1,0 11.0,0a5.5,5.5 0 1,0 -11.0,0M1418.3,444.8a5.5,5.5 0 1,0 11.0,0a5.5,5.5 0 1,0 -11.0,0M1419.7,456.6a5.5,5.5 0 1,0 11.0,0a5.5,5.5 0 1,0 -11.0,0M1421.0,462.7a5.5,5.5 0 1,0 11.0,0a5.5,5.5 0 1,0 -11.0,0M1422.4,473.6a5.5,5.5 0 1,0 11.0,0a5.5,5.5 0 1,0 -11.0,0M1423.7,496.8a5.5,5.5 0 1,0 11.0,0a5.5,5.5 0 1,0 -11.0,0M1425.1,508.6a5.5,5.5 0 1,0 11.0,0a5.5,5.5 0 1,0 -11.0,0M1426.5,534.0a5.5,5.5 0 1,0 11.0,0a5.5,5.5 0 1,0 -11.0,0M1427.8,558.1a5.5,5.5 0 1,0 11.0,0a5.5,5.5 0 1,0 -11.0,0M1429.2,582.3a5.5,5.5 0 1,0 11.0,0a5.5,5.5 0 1,0 -11.0,0M1430.5,609.1a5.5,5.5 0 1,0 11.0,0a5.5,5.5 0 1,0 -11.0,0M1431.9,633.8a5.5,5.5 0 1,0 11.0,0a5.5,5.5 0 1,0 -11.0,0M1433.2,658.3a5.5,5.5 0 1,0 11.0,0a5.5,5.5 0 1,0 -11.0,0M1434.6,678.5a5.5,5.5 0 1,0 11.0,0a5.5,5.5 0 1,0 -11.0,0M1436.0,709.3a5.5,5.5 0 1,0 11.0,0a5.5,5.5 0 1,0 -11.0,0M1437.3,732.3a5.5,5.5 0 1,0 11.0,0a5.5,5.5 0 1,0 -11.0,0M1438.7,748.9a5.5,5.5 0 1,0 11.0,0a5.5,5.5 0 1,0 -11.0,0M1440.0,770.8a5.5,5.5 0 1,0 11.0,0a5.5,5.5 0 1,0 -11.0,0M1441.4,782.3a5.5,5.5 0 1,0 11.0,0a5.5,5.5 0 1,0 -11.0,0M1442.8,798.2a5.5,5.5 0 1,0 11.0,0a5.5,5.5 0 1,0 -11.0,0M1444.1,803.3a5.5,5.5 0 1,0 11.0,0a5.5,5.5 0 1,0 -11.0,0M1445.5,808.5a5.5,5.5 0 1,0 11.0,0a5.5,5.5 0 1,0 -11.0,0M1446.8,812.3a5.5,5.5 0 1,0 11.0,0a5.5,5.5 0 1,0 -11.0,0M1448.2,810.8a5.5,5.5 0 1,0 11.0,0a5.5,5.5 0 1,0 -11.0,0M1449.6,798.2a5.5,5.5 0 1,0 11.0,0a5.5,5.5 0 1,0 -11.0,0M1450.9,792.3a5.5,5.5 0 1,0 11.0,0a5.5,5.5 0 1,0 -11.0,0M1452.3,778.6a5.5,5.5 0 1,0 11.0,0a5.5,5.5 0 1,0 -11.0,0M1453.6,767.3a5.5,5.5 0 1,0 11.0,0a5.5,5.5 0 1,0 -11.0,0M1455.0,754.1a5.5,5.5 0 1,0 11.0,0a5.5,5.5 0 1,0 -11.0,0M1456.4,735.2a5.5,5.5 0 1,0 11.0,0a5.5,5.5 0 1,0 -11.0,0M1457.7,723.3a5.5,5.5 0 1,0 11.0,0a5.5,5.5 0 1,0 -11.0,0M1459.1,703.5a5.5,5.5 0 1,0 11.0,0a5.5,5.5 0 1,0 -11.0,0M1460.4,687.9a5.5,5.5 0 1,0 11.0,0a5.5,5.5 0 1,0 -11.0,0M1461.8,670.2a5.5,5.5 0 1,0 11.0,0a5.5,5.5 0 1,0 -11.0,0M1463.2,647.8a5.5,5.5 0 1,0 11.0,0a5.5,5.5 0 1,0 -11.0,0M1464.5,631.5a5.5,5.5 0 1,0 11.0,0a5.5,5.5 0 1,0 -11.0,0M1465.9,617.7a5.5,5.5 0 1,0 11.0,0a5.5,5.5 0 1,0 -11.0,0M1467.2,599.1a5.5,5.5 0 1,0 11.0,0a5.5,5.5 0 1,0 -11.0,0M1468.6,593.1a5.5,5.5 0 1,0 11.0,0a5.5,5.5 0 1,0 -11.0,0M1469.9,576.9a5.5,5.5 0 1,0 11.0,0a5.5,5.5 0 1,0 -11.0,0M1471.3,565.2a5.5,5.5 0 1,0 11.0,0a5.5,5.5 0 1,0 -11.0,0M1472.7,563.6a5.5,5.5 0 1,0 11.0,0a5.5,5.5 0 1,0 -11.0,0M1474.0,559.1a5.5,5.5 0 1,0 11.0,0a5.5,5.5 0 1,0 -11.0,0M1475.4,559.2a5.5,5.5 0 1,0 11.0,0a5.5,5.5 0 1,0 -11.0,0M1476.7,558.4a5.5,5.5 0 1,0 11.0,0a5.5,5.5 0 1,0 -11.0,0M1478.1,556.4a5.5,5.5 0 1,0 11.0,0a5.5,5.5 0 1,0 -11.0,0M1479.5,565.5a5.5,5.5 0 1,0 11.0,0a5.5,5.5 0 1,0 -11.0,0M1480.8,574.5a5.5,5.5 0 1,0 11.0,0a5.5,5.5 0 1,0 -11.0,0M1482.2,579.8a5.5,5.5 0 1,0 11.0,0a5.5,5.5 0 1,0 -11.0,0M1483.5,587.3a5.5,5.5 0 1,0 11.0,0a5.5,5.5 0 1,0 -11.0,0M1484.9,594.0a5.5,5.5 0 1,0 11.0,0a5.5,5.5 0 1,0 -11.0,0M1486.3,608.2a5.5,5.5 0 1,0 11.0,0a5.5,5.5 0 1,0 -11.0,0M1487.6,616.6a5.5,5.5 0 1,0 11.0,0a5.5,5.5 0 1,0 -11.0,0M1489.0,633.2a5.5,5.5 0 1,0 11.0,0a5.5,5.5 0 1,0 -11.0,0M1490.3,642.9a5.5,5.5 0 1,0 11.0,0a5.5,5.5 0 1,0 -11.0,0M1491.7,654.5a5.5,5.5 0 1,0 11.0,0a5.5,5.5 0 1,0 -11.0,0M1493.1,667.0a5.5,5.5 0 1,0 11.0,0a5.5,5.5 0 1,0 -11.0,0M1494.4,678.3a5.5,5.5 0 1,0 11.0,0a5.5,5.5 0 1,0 -11.0,0M1495.8,687.6a5.5,5.5 0 1,0 11.0,0a5.5,5.5 0 1,0 -11.0,0M1497.1,697.9a5.5,5.5 0 1,0 11.0,0a5.5,5.5 0 1,0 -11.0,0M1498.5,709.2a5.5,5.5 0 1,0 11.0,0a5.5,5.5 0 1,0 -11.0,0M1499.8,715.9a5.5,5.5 0 1,0 11.0,0a5.5,5.5 0 1,0 -11.0,0M1501.2,723.1a5.5,5.5 0 1,0 11.0,0a5.5,5.5 0 1,0 -11.0,0M1502.6,732.7a5.5,5.5 0 1,0 11.0,0a5.5,5.5 0 1,0 -11.0,0M1503.9,737.3a5.5,5.5 0 1,0 11.0,0a5.5,5.5 0 1,0 -11.0,0M1505.3,739.8a5.5,5.5 0 1,0 11.0,0a5.5,5.5 0 1,0 -11.0,0M1506.6,737.1a5.5,5.5 0 1,0 11.0,0a5.5,5.5 0 1,0 -11.0,0M1508.0,736.8a5.5,5.5 0 1,0 11.0,0a5.5,5.5 0 1,0 -11.0,0M1509.4,737.3a5.5,5.5 0 1,0 11.0,0a5.5,5.5 0 1,0 -11.0,0M1510.7,736.6a5.5,5.5 0 1,0 11.0,0a5.5,5.5 0 1,0 -11.0,0M1512.1,733.0a5.5,5.5 0 1,0 11.0,0a5.5,5.5 0 1,0 -11.0,0M1513.4,730.1a5.5,5.5 0 1,0 11.0,0a5.5,5.5 0 1,0 -11.0,0M1514.8,719.8a5.5,5.5 0 1,0 11.0,0a5.5,5.5 0 1,0 -11.0,0M1516.2,715.8a5.5,5.5 0 1,0 11.0,0a5.5,5.5 0 1,0 -11.0,0M1517.5,713.8a5.5,5.5 0 1,0 11.0,0a5.5,5.5 0 1,0 -11.0,0M1518.9,711.4a5.5,5.5 0 1,0 11.0,0a5.5,5.5 0 1,0 -11.0,0M1520.2,701.7a5.5,5.5 0 1,0 11.0,0a5.5,5.5 0 1,0 -11.0,0M1521.6,700.6a5.5,5.5 0 1,0 11.0,0a5.5,5.5 0 1,0 -11.0,0M1523.0,693.9a5.5,5.5 0 1,0 11.0,0a5.5,5.5 0 1,0 -11.0,0M1524.3,684.2a5.5,5.5 0 1,0 11.0,0a5.5,5.5 0 1,0 -11.0,0M1525.7,683.6a5.5,5.5 0 1,0 11.0,0a5.5,5.5 0 1,0 -11.0,0M1527.0,679.1a5.5,5.5 0 1,0 11.0,0a5.5,5.5 0 1,0 -11.0,0M1528.4,668.8a5.5,5.5 0 1,0 11.0,0a5.5,5.5 0 1,0 -11.0,0M1529.8,668.7a5.5,5.5 0 1,0 11.0,0a5.5,5.5 0 1,0 -11.0,0M1531.1,656.5a5.5,5.5 0 1,0 11.0,0a5.5,5.5 0 1,0 -11.0,0M1532.5,657.0a5.5,5.5 0 1,0 11.0,0a5.5,5.5 0 1,0 -11.0,0M1533.8,651.6a5.5,5.5 0 1,0 11.0,0a5.5,5.5 0 1,0 -11.0,0M1535.2,649.4a5.5,5.5 0 1,0 11.0,0a5.5,5.5 0 1,0 -11.0,0M1536.5,645.9a5.5,5.5 0 1,0 11.0,0a5.5,5.5 0 1,0 -11.0,0M1537.9,643.7a5.5,5.5 0 1,0 11.0,0a5.5,5.5 0 1,0 -11.0,0M1539.3,642.6a5.5,5.5 0 1,0 11.0,0a5.5,5.5 0 1,0 -11.0,0M1540.6,646.4a5.5,5.5 0 1,0 11.0,0a5.5,5.5 0 1,0 -11.0,0M1542.0,641.8a5.5,5.5 0 1,0 11.0,0a5.5,5.5 0 1,0 -11.0,0M1543.3,644.0a5.5,5.5 0 1,0 11.0,0a5.5,5.5 0 1,0 -11.0,0M1544.7,642.2a5.5,5.5 0 1,0 11.0,0a5.5,5.5 0 1,0 -11.0,0M1546.1,646.3a5.5,5.5 0 1,0 11.0,0a5.5,5.5 0 1,0 -11.0,0M1547.4,646.2a5.5,5.5 0 1,0 11.0,0a5.5,5.5 0 1,0 -11.0,0M1548.8,647.8a5.5,5.5 0 1,0 11.0,0a5.5,5.5 0 1,0 -11.0,0M1550.1,645.3a5.5,5.5 0 1,0 11.0,0a5.5,5.5 0 1,0 -11.0,0M1551.5,646.5a5.5,5.5 0 1,0 11.0,0a5.5,5.5 0 1,0 -11.0,0M1552.9,650.1a5.5,5.5 0 1,0 11.0,0a5.5,5.5 0 1,0 -11.0,0M1554.2,651.8a5.5,5.5 0 1,0 11.0,0a5.5,5.5 0 1,0 -11.0,0M1555.6,651.9a5.5,5.5 0 1,0 11.0,0a5.5,5.5 0 1,0 -11.0,0M1556.9,654.1a5.5,5.5 0 1,0 11.0,0a5.5,5.5 0 1,0 -11.0,0M1558.3,650.3a5.5,5.5 0 1,0 11.0,0a5.5,5.5 0 1,0 -11.0,0M1559.7,653.6a5.5,5.5 0 1,0 11.0,0a5.5,5.5 0 1,0 -11.0,0M1561.0,651.7a5.5,5.5 0 1,0 11.0,0a5.5,5.5 0 1,0 -11.0,0M1562.4,650.9a5.5,5.5 0 1,0 11.0,0a5.5,5.5 0 1,0 -11.0,0M1563.7,652.3a5.5,5.5 0 1,0 11.0,0a5.5,5.5 0 1,0 -11.0,0M1565.1,651.4a5.5,5.5 0 1,0 11.0,0a5.5,5.5 0 1,0 -11.0,0M1566.4,655.6a5.5,5.5 0 1,0 11.0,0a5.5,5.5 0 1,0 -11.0,0M1567.8,653.4a5.5,5.5 0 1,0 11.0,0a5.5,5.5 0 1,0 -11.0,0M1569.2,652.1a5.5,5.5 0 1,0 11.0,0a5.5,5.5 0 1,0 -11.0,0M1570.5,657.5a5.5,5.5 0 1,0 11.0,0a5.5,5.5 0 1,0 -11.0,0M1571.9,658.1a5.5,5.5 0 1,0 11.0,0a5.5,5.5 0 1,0 -11.0,0M1573.2,666.8a5.5,5.5 0 1,0 11.0,0a5.5,5.5 0 1,0 -11.0,0M1574.6,664.6a5.5,5.5 0 1,0 11.0,0a5.5,5.5 0 1,0 -11.0,0M1576.0,669.7a5.5,5.5 0 1,0 11.0,0a5.5,5.5 0 1,0 -11.0,0M1577.3,674.7a5.5,5.5 0 1,0 11.0,0a5.5,5.5 0 1,0 -11.0,0M1578.7,677.4a5.5,5.5 0 1,0 11.0,0a5.5,5.5 0 1,0 -11.0,0M1580.0,680.7a5.5,5.5 0 1,0 11.0,0a5.5,5.5 0 1,0 -11.0,0M1581.4,684.7a5.5,5.5 0 1,0 11.0,0a5.5,5.5 0 1,0 -11.0,0M1582.8,688.8a5.5,5.5 0 1,0 11.0,0a5.5,5.5 0 1,0 -11.0,0M1584.1,690.9a5.5,5.5 0 1,0 11.0,0a5.5,5.5 0 1,0 -11.0,0M1585.5,690.1a5.5,5.5 0 1,0 11.0,0a5.5,5.5 0 1,0 -11.0,0M1586.8,693.0a5.5,5.5 0 1,0 11.0,0a5.5,5.5 0 1,0 -11.0,0M1588.2,687.7a5.5,5.5 0 1,0 11.0,0a5.5,5.5 0 1,0 -11.0,0M1589.6,688.4a5.5,5.5 0 1,0 11.0,0a5.5,5.5 0 1,0 -11.0,0M1590.9,682.8a5.5,5.5 0 1,0 11.0,0a5.5,5.5 0 1,0 -11.0,0M1592.3,676.0a5.5,5.5 0 1,0 11.0,0a5.5,5.5 0 1,0 -11.0,0M1593.6,675.6a5.5,5.5 0 1,0 11.0,0a5.5,5.5 0 1,0 -11.0,0M1595.0,672.1a5.5,5.5 0 1,0 11.0,0a5.5,5.5 0 1,0 -11.0,0M1596.3,663.9a5.5,5.5 0 1,0 11.0,0a5.5,5.5 0 1,0 -11.0,0M1597.7,655.8a5.5,5.5 0 1,0 11.0,0a5.5,5.5 0 1,0 -11.0,0M1599.1,651.0a5.5,5.5 0 1,0 11.0,0a5.5,5.5 0 1,0 -11.0,0M1600.4,638.3a5.5,5.5 0 1,0 11.0,0a5.5,5.5 0 1,0 -11.0,0M1601.8,635.4a5.5,5.5 0 1,0 11.0,0a5.5,5.5 0 1,0 -11.0,0M1603.1,625.2a5.5,5.5 0 1,0 11.0,0a5.5,5.5 0 1,0 -11.0,0M1604.5,620.3a5.5,5.5 0 1,0 11.0,0a5.5,5.5 0 1,0 -11.0,0M1605.9,608.2a5.5,5.5 0 1,0 11.0,0a5.5,5.5 0 1,0 -11.0,0M1607.2,608.1a5.5,5.5 0 1,0 11.0,0a5.5,5.5 0 1,0 -11.0,0M1608.6,601.8a5.5,5.5 0 1,0 11.0,0a5.5,5.5 0 1,0 -11.0,0M1609.9,597.0a5.5,5.5 0 1,0 11.0,0a5.5,5.5 0 1,0 -11.0,0M1611.3,586.9a5.5,5.5 0 1,0 11.0,0a5.5,5.5 0 1,0 -11.0,0M1612.7,584.5a5.5,5.5 0 1,0 11.0,0a5.5,5.5 0 1,0 -11.0,0M1614.0,583.4a5.5,5.5 0 1,0 11.0,0a5.5,5.5 0 1,0 -11.0,0M1615.4,585.2a5.5,5.5 0 1,0 11.0,0a5.5,5.5 0 1,0 -11.0,0M1616.7,585.1a5.5,5.5 0 1,0 11.0,0a5.5,5.5 0 1,0 -11.0,0M1618.1,590.3a5.5,5.5 0 1,0 11.0,0a5.5,5.5 0 1,0 -11.0,0M1619.5,594.0a5.5,5.5 0 1,0 11.0,0a5.5,5.5 0 1,0 -11.0,0M1620.8,599.4a5.5,5.5 0 1,0 11.0,0a5.5,5.5 0 1,0 -11.0,0M1622.2,605.0a5.5,5.5 0 1,0 11.0,0a5.5,5.5 0 1,0 -11.0,0M1623.5,609.4a5.5,5.5 0 1,0 11.0,0a5.5,5.5 0 1,0 -11.0,0M1624.9,617.9a5.5,5.5 0 1,0 11.0,0a5.5,5.5 0 1,0 -11.0,0M1626.3,626.0a5.5,5.5 0 1,0 11.0,0a5.5,5.5 0 1,0 -11.0,0M1627.6,632.1a5.5,5.5 0 1,0 11.0,0a5.5,5.5 0 1,0 -11.0,0M1629.0,640.7a5.5,5.5 0 1,0 11.0,0a5.5,5.5 0 1,0 -11.0,0M1630.3,649.9a5.5,5.5 0 1,0 11.0,0a5.5,5.5 0 1,0 -11.0,0M1631.7,658.2a5.5,5.5 0 1,0 11.0,0a5.5,5.5 0 1,0 -11.0,0M1633.0,670.9a5.5,5.5 0 1,0 11.0,0a5.5,5.5 0 1,0 -11.0,0M1634.4,676.8a5.5,5.5 0 1,0 11.0,0a5.5,5.5 0 1,0 -11.0,0M1635.8,686.2a5.5,5.5 0 1,0 11.0,0a5.5,5.5 0 1,0 -11.0,0M1637.1,692.2a5.5,5.5 0 1,0 11.0,0a5.5,5.5 0 1,0 -11.0,0M1638.5,700.0a5.5,5.5 0 1,0 11.0,0a5.5,5.5 0 1,0 -11.0,0M1639.8,707.0a5.5,5.5 0 1,0 11.0,0a5.5,5.5 0 1,0 -11.0,0M1641.2,713.3a5.5,5.5 0 1,0 11.0,0a5.5,5.5 0 1,0 -11.0,0M1642.6,720.6a5.5,5.5 0 1,0 11.0,0a5.5,5.5 0 1,0 -11.0,0M1643.9,720.1a5.5,5.5 0 1,0 11.0,0a5.5,5.5 0 1,0 -11.0,0M1645.3,723.0a5.5,5.5 0 1,0 11.0,0a5.5,5.5 0 1,0 -11.0,0M1646.6,726.4a5.5,5.5 0 1,0 11.0,0a5.5,5.5 0 1,0 -11.0,0M1648.0,724.2a5.5,5.5 0 1,0 11.0,0a5.5,5.5 0 1,0 -11.0,0M1649.4,718.1a5.5,5.5 0 1,0 11.0,0a5.5,5.5 0 1,0 -11.0,0M1650.7,713.4a5.5,5.5 0 1,0 11.0,0a5.5,5.5 0 1,0 -11.0,0M1652.1,706.9a5.5,5.5 0 1,0 11.0,0a5.5,5.5 0 1,0 -11.0,0M1653.4,698.3a5.5,5.5 0 1,0 11.0,0a5.5,5.5 0 1,0 -11.0,0M1654.8,695.0a5.5,5.5 0 1,0 11.0,0a5.5,5.5 0 1,0 -11.0,0M1656.2,686.1a5.5,5.5 0 1,0 11.0,0a5.5,5.5 0 1,0 -11.0,0M1657.5,673.4a5.5,5.5 0 1,0 11.0,0a5.5,5.5 0 1,0 -11.0,0M1658.9,664.9a5.5,5.5 0 1,0 11.0,0a5.5,5.5 0 1,0 -11.0,0M1660.2,655.3a5.5,5.5 0 1,0 11.0,0a5.5,5.5 0 1,0 -11.0,0M1661.6,652.7a5.5,5.5 0 1,0 11.0,0a5.5,5.5 0 1,0 -11.0,0M1662.9,642.0a5.5,5.5 0 1,0 11.0,0a5.5,5.5 0 1,0 -11.0,0M1664.3,629.3a5.5,5.5 0 1,0 11.0,0a5.5,5.5 0 1,0 -11.0,0M1665.7,622.0a5.5,5.5 0 1,0 11.0,0a5.5,5.5 0 1,0 -11.0,0M1667.0,616.6a5.5,5.5 0 1,0 11.0,0a5.5,5.5 0 1,0 -11.0,0M1668.4,613.4a5.5,5.5 0 1,0 11.0,0a5.5,5.5 0 1,0 -11.0,0M1669.7,613.6a5.5,5.5 0 1,0 11.0,0a5.5,5.5 0 1,0 -11.0,0M1671.1,610.5a5.5,5.5 0 1,0 11.0,0a5.5,5.5 0 1,0 -11.0,0M1672.5,610.6a5.5,5.5 0 1,0 11.0,0a5.5,5.5 0 1,0 -11.0,0M1673.8,609.6a5.5,5.5 0 1,0 11.0,0a5.5,5.5 0 1,0 -11.0,0M1675.2,613.8a5.5,5.5 0 1,0 11.0,0a5.5,5.5 0 1,0 -11.0,0M1676.5,612.4a5.5,5.5 0 1,0 11.0,0a5.5,5.5 0 1,0 -11.0,0M1677.9,620.6a5.5,5.5 0 1,0 11.0,0a5.5,5.5 0 1,0 -11.0,0M1679.3,618.8a5.5,5.5 0 1,0 11.0,0a5.5,5.5 0 1,0 -11.0,0M1680.6,628.6a5.5,5.5 0 1,0 11.0,0a5.5,5.5 0 1,0 -11.0,0M1682.0,635.0a5.5,5.5 0 1,0 11.0,0a5.5,5.5 0 1,0 -11.0,0M1683.3,640.2a5.5,5.5 0 1,0 11.0,0a5.5,5.5 0 1,0 -11.0,0M1684.7,647.1a5.5,5.5 0 1,0 11.0,0a5.5,5.5 0 1,0 -11.0,0M1686.1,652.8a5.5,5.5 0 1,0 11.0,0a5.5,5.5 0 1,0 -11.0,0M1687.4,658.3a5.5,5.5 0 1,0 11.0,0a5.5,5.5 0 1,0 -11.0,0M1688.8,660.6a5.5,5.5 0 1,0 11.0,0a5.5,5.5 0 1,0 -11.0,0M1690.1,670.0a5.5,5.5 0 1,0 11.0,0a5.5,5.5 0 1,0 -11.0,0M1691.5,680.8a5.5,5.5 0 1,0 11.0,0a5.5,5.5 0 1,0 -11.0,0M1692.9,681.3a5.5,5.5 0 1,0 11.0,0a5.5,5.5 0 1,0 -11.0,0M1694.2,691.8a5.5,5.5 0 1,0 11.0,0a5.5,5.5 0 1,0 -11.0,0M1695.6,693.0a5.5,5.5 0 1,0 11.0,0a5.5,5.5 0 1,0 -11.0,0M1696.9,695.6a5.5,5.5 0 1,0 11.0,0a5.5,5.5 0 1,0 -11.0,0M1698.3,703.9a5.5,5.5 0 1,0 11.0,0a5.5,5.5 0 1,0 -11.0,0M1699.6,706.5a5.5,5.5 0 1,0 11.0,0a5.5,5.5 0 1,0 -11.0,0M1701.0,704.7a5.5,5.5 0 1,0 11.0,0a5.5,5.5 0 1,0 -11.0,0M1702.4,707.0a5.5,5.5 0 1,0 11.0,0a5.5,5.5 0 1,0 -11.0,0M1703.7,705.5a5.5,5.5 0 1,0 11.0,0a5.5,5.5 0 1,0 -11.0,0M1705.1,705.3a5.5,5.5 0 1,0 11.0,0a5.5,5.5 0 1,0 -11.0,0M1706.4,699.8a5.5,5.5 0 1,0 11.0,0a5.5,5.5 0 1,0 -11.0,0M1707.8,699.6a5.5,5.5 0 1,0 11.0,0a5.5,5.5 0 1,0 -11.0,0M1709.2,696.5a5.5,5.5 0 1,0 11.0,0a5.5,5.5 0 1,0 -11.0,0M1710.5,695.4a5.5,5.5 0 1,0 11.0,0a5.5,5.5 0 1,0 -11.0,0M1711.9,688.4a5.5,5.5 0 1,0 11.0,0a5.5,5.5 0 1,0 -11.0,0M1713.2,681.4a5.5,5.5 0 1,0 11.0,0a5.5,5.5 0 1,0 -11.0,0M1714.6,677.1a5.5,5.5 0 1,0 11.0,0a5.5,5.5 0 1,0 -11.0,0M1716.0,667.2a5.5,5.5 0 1,0 11.0,0a5.5,5.5 0 1,0 -11.0,0M1717.3,667.8a5.5,5.5 0 1,0 11.0,0a5.5,5.5 0 1,0 -11.0,0M1718.7,662.0a5.5,5.5 0 1,0 11.0,0a5.5,5.5 0 1,0 -11.0,0M1720.0,652.1a5.5,5.5 0 1,0 11.0,0a5.5,5.5 0 1,0 -11.0,0M1721.4,645.6a5.5,5.5 0 1,0 11.0,0a5.5,5.5 0 1,0 -11.0,0M1722.8,643.6a5.5,5.5 0 1,0 11.0,0a5.5,5.5 0 1,0 -11.0,0M1724.1,635.9a5.5,5.5 0 1,0 11.0,0a5.5,5.5 0 1,0 -11.0,0M1725.5,633.6a5.5,5.5 0 1,0 11.0,0a5.5,5.5 0 1,0 -11.0,0M1726.8,628.4a5.5,5.5 0 1,0 11.0,0a5.5,5.5 0 1,0 -11.0,0M1728.2,622.0a5.5,5.5 0 1,0 11.0,0a5.5,5.5 0 1,0 -11.0,0M1729.5,621.2a5.5,5.5 0 1,0 11.0,0a5.5,5.5 0 1,0 -11.0,0M1730.9,620.8a5.5,5.5 0 1,0 11.0,0a5.5,5.5 0 1,0 -11.0,0M1732.3,619.3a5.5,5.5 0 1,0 11.0,0a5.5,5.5 0 1,0 -11.0,0M1733.6,619.3a5.5,5.5 0 1,0 11.0,0a5.5,5.5 0 1,0 -11.0,0M1735.0,621.9a5.5,5.5 0 1,0 11.0,0a5.5,5.5 0 1,0 -11.0,0M1736.3,621.0a5.5,5.5 0 1,0 11.0,0a5.5,5.5 0 1,0 -11.0,0M1737.7,623.6a5.5,5.5 0 1,0 11.0,0a5.5,5.5 0 1,0 -11.0,0M1739.1,629.4a5.5,5.5 0 1,0 11.0,0a5.5,5.5 0 1,0 -11.0,0M1740.4,629.7a5.5,5.5 0 1,0 11.0,0a5.5,5.5 0 1,0 -11.0,0M1741.8,634.3a5.5,5.5 0 1,0 11.0,0a5.5,5.5 0 1,0 -11.0,0M1743.1,640.3a5.5,5.5 0 1,0 11.0,0a5.5,5.5 0 1,0 -11.0,0M1744.5,647.3a5.5,5.5 0 1,0 11.0,0a5.5,5.5 0 1,0 -11.0,0M1745.9,653.8a5.5,5.5 0 1,0 11.0,0a5.5,5.5 0 1,0 -11.0,0M1747.2,661.4a5.5,5.5 0 1,0 11.0,0a5.5,5.5 0 1,0 -11.0,0M1748.6,666.5a5.5,5.5 0 1,0 11.0,0a5.5,5.5 0 1,0 -11.0,0M1749.9,670.2a5.5,5.5 0 1,0 11.0,0a5.5,5.5 0 1,0 -11.0,0M1751.3,677.8a5.5,5.5 0 1,0 11.0,0a5.5,5.5 0 1,0 -11.0,0M1752.7,681.4a5.5,5.5 0 1,0 11.0,0a5.5,5.5 0 1,0 -11.0,0M1754.0,687.3a5.5,5.5 0 1,0 11.0,0a5.5,5.5 0 1,0 -11.0,0M1755.4,685.7a5.5,5.5 0 1,0 11.0,0a5.5,5.5 0 1,0 -11.0,0M1756.7,696.4a5.5,5.5 0 1,0 11.0,0a5.5,5.5 0 1,0 -11.0,0M1758.1,695.8a5.5,5.5 0 1,0 11.0,0a5.5,5.5 0 1,0 -11.0,0M1759.4,698.1a5.5,5.5 0 1,0 11.0,0a5.5,5.5 0 1,0 -11.0,0M1760.8,702.0a5.5,5.5 0 1,0 11.0,0a5.5,5.5 0 1,0 -11.0,0M1762.2,697.7a5.5,5.5 0 1,0 11.0,0a5.5,5.5 0 1,0 -11.0,0M1763.5,698.0a5.5,5.5 0 1,0 11.0,0a5.5,5.5 0 1,0 -11.0,0M1764.9,695.3a5.5,5.5 0 1,0 11.0,0a5.5,5.5 0 1,0 -11.0,0M1766.2,695.5a5.5,5.5 0 1,0 11.0,0a5.5,5.5 0 1,0 -11.0,0M1767.6,687.6a5.5,5.5 0 1,0 11.0,0a5.5,5.5 0 1,0 -11.0,0M1769.0,680.9a5.5,5.5 0 1,0 11.0,0a5.5,5.5 0 1,0 -11.0,0M1770.3,677.7a5.5,5.5 0 1,0 11.0,0a5.5,5.5 0 1,0 -11.0,0M1771.7,678.9a5.5,5.5 0 1,0 11.0,0a5.5,5.5 0 1,0 -11.0,0M1773.0,671.8a5.5,5.5 0 1,0 11.0,0a5.5,5.5 0 1,0 -11.0,0M1774.4,664.1a5.5,5.5 0 1,0 11.0,0a5.5,5.5 0 1,0 -11.0,0M1775.8,661.8a5.5,5.5 0 1,0 11.0,0a5.5,5.5 0 1,0 -11.0,0M1777.1,652.1a5.5,5.5 0 1,0 11.0,0a5.5,5.5 0 1,0 -11.0,0M1778.5,654.3a5.5,5.5 0 1,0 11.0,0a5.5,5.5 0 1,0 -11.0,0M1779.8,649.7a5.5,5.5 0 1,0 11.0,0a5.5,5.5 0 1,0 -11.0,0M1781.2,640.4a5.5,5.5 0 1,0 11.0,0a5.5,5.5 0 1,0 -11.0,0M1782.6,634.8a5.5,5.5 0 1,0 11.0,0a5.5,5.5 0 1,0 -11.0,0M1783.9,633.1a5.5,5.5 0 1,0 11.0,0a5.5,5.5 0 1,0 -11.0,0M1785.3,636.6a5.5,5.5 0 1,0 11.0,0a5.5,5.5 0 1,0 -11.0,0M1786.6,630.4a5.5,5.5 0 1,0 11.0,0a5.5,5.5 0 1,0 -11.0,0M1788.0,627.5a5.5,5.5 0 1,0 11.0,0a5.5,5.5 0 1,0 -11.0,0M1789.4,633.9a5.5,5.5 0 1,0 11.0,0a5.5,5.5 0 1,0 -11.0,0M1790.7,631.7a5.5,5.5 0 1,0 11.0,0a5.5,5.5 0 1,0 -11.0,0M1792.1,635.5a5.5,5.5 0 1,0 11.0,0a5.5,5.5 0 1,0 -11.0,0M1793.4,632.4a5.5,5.5 0 1,0 11.0,0a5.5,5.5 0 1,0 -11.0,0M1794.8,636.4a5.5,5.5 0 1,0 11.0,0a5.5,5.5 0 1,0 -11.0,0M1796.1,641.2a5.5,5.5 0 1,0 11.0,0a5.5,5.5 0 1,0 -11.0,0M1797.5,644.3a5.5,5.5 0 1,0 11.0,0a5.5,5.5 0 1,0 -11.0,0M1798.9,647.2a5.5,5.5 0 1,0 11.0,0a5.5,5.5 0 1,0 -11.0,0M1800.2,655.7a5.5,5.5 0 1,0 11.0,0a5.5,5.5 0 1,0 -11.0,0M1801.6,658.6a5.5,5.5 0 1,0 11.0,0a5.5,5.5 0 1,0 -11.0,0M1802.9,665.5a5.5,5.5 0 1,0 11.0,0a5.5,5.5 0 1,0 -11.0,0M1804.3,670.1a5.5,5.5 0 1,0 11.0,0a5.5,5.5 0 1,0 -11.0,0M1805.7,670.3a5.5,5.5 0 1,0 11.0,0a5.5,5.5 0 1,0 -11.0,0M1807.0,681.2a5.5,5.5 0 1,0 11.0,0a5.5,5.5 0 1,0 -11.0,0M1808.4,679.5a5.5,5.5 0 1,0 11.0,0a5.5,5.5 0 1,0 -11.0,0M1809.7,688.2a5.5,5.5 0 1,0 11.0,0a5.5,5.5 0 1,0 -11.0,0M1811.1,690.8a5.5,5.5 0 1,0 11.0,0a5.5,5.5 0 1,0 -11.0,0M1812.5,696.0a5.5,5.5 0 1,0 11.0,0a5.5,5.5 0 1,0 -11.0,0M1813.8,695.3a5.5,5.5 0 1,0 11.0,0a5.5,5.5 0 1,0 -11.0,0M1815.2,698.0a5.5,5.5 0 1,0 11.0,0a5.5,5.5 0 1,0 -11.0,0M1816.5,705.1a5.5,5.5 0 1,0 11.0,0a5.5,5.5 0 1,0 -11.0,0M1817.9,700.5a5.5,5.5 0 1,0 11.0,0a5.5,5.5 0 1,0 -11.0,0M1819.3,703.2a5.5,5.5 0 1,0 11.0,0a5.5,5.5 0 1,0 -11.0,0M1820.6,699.1a5.5,5.5 0 1,0 11.0,0a5.5,5.5 0 1,0 -11.0,0M1822.0,704.5a5.5,5.5 0 1,0 11.0,0a5.5,5.5 0 1,0 -11.0,0M1823.3,700.0a5.5,5.5 0 1,0 11.0,0a5.5,5.5 0 1,0 -11.0,0M1824.7,698.9a5.5,5.5 0 1,0 11.0,0a5.5,5.5 0 1,0 -11.0,0M1826.0,700.2a5.5,5.5 0 1,0 11.0,0a5.5,5.5 0 1,0 -11.0,0M1827.4,691.6a5.5,5.5 0 1,0 11.0,0a5.5,5.5 0 1,0 -11.0,0M1828.8,690.7a5.5,5.5 0 1,0 11.0,0a5.5,5.5 0 1,0 -11.0,0M1830.1,685.8a5.5,5.5 0 1,0 11.0,0a5.5,5.5 0 1,0 -11.0,0M1831.5,683.8a5.5,5.5 0 1,0 11.0,0a5.5,5.5 0 1,0 -11.0,0M1832.8,684.7a5.5,5.5 0 1,0 11.0,0a5.5,5.5 0 1,0 -11.0,0M1834.2,682.5a5.5,5.5 0 1,0 11.0,0a5.5,5.5 0 1,0 -11.0,0M1835.6,675.0a5.5,5.5 0 1,0 11.0,0a5.5,5.5 0 1,0 -11.0,0M1836.9,673.6a5.5,5.5 0 1,0 11.0,0a5.5,5.5 0 1,0 -11.0,0M1838.3,666.6a5.5,5.5 0 1,0 11.0,0a5.5,5.5 0 1,0 -11.0,0M1839.6,659.0a5.5,5.5 0 1,0 11.0,0a5.5,5.5 0 1,0 -11.0,0M1841.0,657.1a5.5,5.5 0 1,0 11.0,0a5.5,5.5 0 1,0 -11.0,0" fill="#f0f"/>
<polyline points="215.5,662.9 216.9,662.4 218.2,661.8 219.6,667.0 220.9,660.0 222.3,667.7 223.7,663.8 225.0,665.5 226.4,666.5 227.7,667.2 229.1,666.6 230.5,659.2 231.8,659.3 233.2,666.1 234.5,667.7 235.9,660.4 237.2,665.4 238.6,665.3 240.0,661.6 241.3,664.4 242.7,661.4 244.0,661.3 245.4,663.0 246.8,661.5 248.1,666.6 249.5,663.7 250.8,666.2 252.2,661.8 253.6,667.6 254.9,659.1 256.3,663.4 257.6,662.2 259.0,665.8 260.4,659.6 261.7,661.6 263.1,667.3 264.4,666.6 265.8,665.9 267.1,663.9 268.5,660.1 269.9,660.9 271.2,666.4 272.6,662.1 273.9,667.6 275.3,665.4 276.7,665.4 278.0,667.8 279.4,661.5 280.7,662.8 282.1,662.2 283.5,660.0 284.8,659.9 286.2,664.2 287.5,667.0 288.9,659.7 290.3,665.5 291.6,663.1 293.0,667.9 294.3,660.7 295.7,663.3 297.1,662.5 298.4,663.9 299.8,666.1 301.1,663.2 302.5,665.4 303.8,661.2 305.2,659.1 306.6,662.5 307.9,665.7 309.3,660.7 310.6,666.1 312.0,664.6 313.4,663.0 314.7,659.1 316.1,665.0 317.4,661.0 318.8,661.1 320.2,667.1 321.5,659.8 322.9,661.5 324.2,665.0 325.6,665.3 327.0,660.3 328.3,666.8 329.7,665.4 331.0,665.7 332.4,667.4 333.7,666.0 335.1,664.3 336.5,664.1 337.8,660.0 339.2,662.2 340.5,659.7 341.9,665.7 343.3,661.1 344.6,659.8 346.0,664.2 347.3,662.6 348.7,659.2 350.1,662.8 351.4,661.1 352.8,665.5 354.1,659.8 355.5,666.3 356.9,660.9 358.2,660.3 359.6,667.9 360.9,659.9 362.3,666.9 363.6,659.8 365.0,667.4 366.4,663.0 367.7,666.9 369.1,659.1 370.4,666.0 371.8,662.2 373.2,667.7 374.5,662.2 375.9,659.3 377.2,659.1 378.6,659.8 380.0,662.4 381.3,666.7 382.7,667.3 384.0,666.6 385.4,661.9 386.8,659.3 388.1,661.2 389.5,659.3 390.8,659.5 392.2,659.6 393.6,666.0 394.9,662.3 396.3,666.9 397.6,667.1 399.0,665.8 400.3,663.0 401.7,666.7 403.1,659.6 404.4,663.7 405.8,664.6 407.1,665.9 408.5,664.1 409.9,660.4 411.2,659.3 412.6,666.3 413.9,666.7 415.3,661.3 416.7,667.3 418.0,664.6 419.4,695.7 420.7,680.1 422.1,662.4 423.5,665.6 424.8,667.6 426.2,621.0 427.5,637.5 428.9,663.0 430.2,664.4 431.6,660.5 433.0,663.9 434.3,684.3 435.7,663.5 437.0,643.4 438.4,662.6 439.8,662.3 441.1,662.4 442.5,660.0 443.8,667.9 445.2,667.2 446.6,661.7 447.9,661.8 449.3,663.0 450.6,701.3 452.0,642.3 453.4,700.9 454.7,664.9 456.1,662.4 457.4,659.3 458.8,649.3 460.1,663.6 461.5,692.4 462.9,665.1 464.2,696.6 465.6,663.1 466.9,695.4 468.3,659.2 469.7,617.8 471.0,666.4 472.4,616.3 473.7,687.7 475.1,666.7 476.5,619.2 477.8,682.0 479.2,622.4 480.5,667.1 481.9,627.7 483.3,664.9 484.6,679.9 486.0,666.9 487.3,659.5 488.7,687.4 490.1,665.1 491.4,640.0 492.8,666.8 494.1,680.1 495.5,664.7 496.8,642.2 498.2,662.4 499.6,680.1 500.9,638.1 502.3,661.8 503.6,644.7 505.0,693.9 506.4,667.4 507.7,665.2 509.1,673.2 510.4,660.1 511.8,671.8 513.2,666.4 514.5,661.7 515.9,663.2 517.2,666.5 518.6,664.8 520.0,664.8 521.3,662.1 522.7,661.4 524.0,662.3 525.4,659.2 526.7,664.8 528.1,662.0 529.5,659.7 530.8,666.8 532.2,659.6 533.5,663.1 534.9,662.8 536.3,661.4 537.6,661.8 539.0,661.9 540.3,665.6 541.7,664.7 543.1,664.6 544.4,667.4 545.8,660.3 547.1,665.7 548.5,663.9 549.9,664.9 551.2,663.2 552.6,663.0 553.9,665.4 555.3,659.8 556.7,666.1 558.0,661.1 559.4,659.2 560.7,661.5 562.1,660.2 563.4,661.1 564.8,660.9 566.2,664.4 567.5,666.8 568.9,664.7 570.2,667.9 571.6,666.9 573.0,660.7 574.3,662.5 575.7,664.1 577.0,661.0 578.4,665.3 579.8,663.6 581.1,659.8 582.5,662.1 583.8,659.2 585.2,659.2 586.6,661.2 587.9,659.4 589.3,667.3 590.6,664.8 592.0,667.8 593.3,665.8 594.7,667.9 596.1,659.2 597.4,661.1 598.8,666.3 600.1,665.4 601.5,666.5 602.9,663.6 604.2,666.2 605.6,661.7 606.9,661.2 608.3,665.2 609.7,664.7 611.0,666.7 612.4,665.4 613.7,664.5 615.1,664.4 616.5,663.6 617.8,667.4 619.2,660.2 620.5,667.1 621.9,659.8 623.2,665.4 624.6,661.5 626.0,663.1 627.3,659.9 628.7,660.6 630.0,659.9 631.4,659.8 632.8,663.5 634.1,664.0 635.5,665.3 636.8,663.9 638.2,661.0 639.6,661.1 640.9,665.0 642.3,660.8 643.6,665.7 645.0,662.0 646.4,661.9 647.7,662.4 649.1,660.7 650.4,661.2 651.8,661.1 653.2,663.4 654.5,665.5 655.9,664.1 657.2,661.6 658.6,661.7 659.9,658.6 661.3,666.8 662.7,661.9 664.0,663.2 665.4,658.2 666.7,659.1 668.1,663.7 669.5,661.6 670.8,658.4 672.2,659.6 673.5,658.4 674.9,665.0 676.3,665.2 677.6,661.9 679.0,657.7 680.3,664.6 681.7,664.3 683.1,660.1 684.4,661.4 685.8,660.4 687.1,658.4 688.5,659.0 689.8,665.9 691.2,662.2 692.6,665.8 693.9,664.6 695.3,662.3 696.6,659.8 698.0,661.2 699.4,661.5 700.7,658.8 702.1,660.0 703.4,665.4 704.8,656.8 706.2,661.9 707.5,663.9 708.9,661.1 710.2,659.5 711.6,656.9 713.0,665.0 714.3,665.4 715.7,660.7 717.0,659.3 718.4,657.4 719.8,661.5 721.1,658.4 722.5,662.0 723.8,661.5 725.2,660.7 726.5,665.0 727.9,662.9 729.3,662.7 730.6,665.7 732.0,671.1 733.3,665.2 734.7,666.4 736.1,673.0 737.4,667.7 738.8,669.2 740.1,672.6 741.5,671.9 742.9,670.5 744.2,676.8 745.6,671.7 746.9,669.6 748.3,677.4 749.7,670.6 751.0,674.7 752.4,669.3 753.7,676.9 755.1,677.4 756.4,670.3 757.8,669.1 759.2,670.5 760.5,669.8 761.9,671.5 763.2,676.2 764.6,677.3 766.0,675.4 767.3,668.9 768.7,661.9 770.0,656.8 771.4,656.4 772.8,650.2 774.1,649.7 775.5,645.1 776.8,641.2 778.2,630.6 779.6,633.8 780.9,629.5 782.3,624.0 783.6,619.3 785.0,612.3 786.3,608.9 787.7,607.4 789.1,604.8 790.4,603.1 791.8,606.4 793.1,601.7 794.5,608.8 795.9,607.5 797.2,612.3 798.6,608.4 799.9,618.1 801.3,620.9 802.7,624.3 804.0,625.6 805.4,636.5 806.7,642.9 808.1,643.7 809.5,657.1 810.8,662.7 812.2,672.7 813.5,678.5 814.9,684.7 816.3,696.5 817.6,705.1 819.0,720.2 820.3,729.9 821.7,739.5 823.0,750.2 824.4,757.1 825.8,766.8 827.1,779.1 828.5,782.1 829.8,788.2 831.2,788.4 832.6,779.1 833.9,777.4 835.3,776.6 836.6,765.8 838.0,753.8 839.4,751.4 840.7,733.4 842.1,724.9 843.4,704.9 844.8,692.3 846.2,673.6 847.5,660.7 848.9,643.2 850.2,627.9 851.6,612.0 852.9,595.3 854.3,572.9 855.7,560.0 857.0,541.6 858.4,530.9 859.7,514.1 861.1,508.1 862.5,500.6 863.8,496.2 865.2,486.8 866.5,488.4 867.9,491.2 869.3,495.7 870.6,501.2 872.0,515.9 873.3,530.5 874.7,549.0 876.1,564.0 877.4,586.0 878.8,600.0 880.1,624.9 881.5,650.7 882.9,669.9 884.2,690.1 885.6,715.0 886.9,734.2 888.3,754.7 889.6,776.1 891.0,792.3 892.4,808.6 893.7,823.7 895.1,829.5 896.4,839.4 897.8,849.5 899.2,843.3 900.5,841.1 901.9,831.3 903.2,828.7 904.6,813.3 906.0,798.6 907.3,778.2 908.7,756.3 910.0,735.8 911.4,720.3 912.8,691.9 914.1,671.0 915.5,647.2 916.8,622.1 918.2,601.5 919.5,581.4 920.9,554.7 922.3,536.4 923.6,527.2 925.0,509.4 926.3,501.0 927.7,490.9 929.1,489.7 930.4,495.4 931.8,499.0 933.1,502.1 934.5,518.1 935.9,536.8 937.2,548.7 938.6,568.8 939.9,594.2 941.3,614.5 942.7,633.3 944.0,659.2 945.4,687.1 946.7,715.8 948.1,736.7 949.5,759.5 950.8,786.3 952.2,803.7 953.5,822.3 954.9,828.2 956.2,842.8 957.6,839.7 959.0,837.2 960.3,835.4 961.7,831.4 963.0,815.3 964.4,805.5 965.8,792.7 967.1,775.7 968.5,758.4 969.8,742.0 971.2,718.4 972.6,691.6 973.9,667.1 975.3,629.3 976.6,606.2 978.0,571.9 979.4,543.2 980.7,508.3 982.1,488.4 983.4,468.1 984.8,452.9 986.1,445.4 987.5,446.3 988.9,448.9 990.2,459.0 991.6,480.4 992.9,493.8 994.3,508.8 995.7,535.3 997.0,565.0 998.4,585.7 999.7,616.7 1001.1,642.2 1002.5,671.9 1003.8,704.1 1005.2,733.8 1006.5,760.9 1007.9,789.4 1009.3,812.1 1010.6,833.8 1012.0,851.6 1013.3,856.6 1014.7,867.1 1016.0,872.2 1017.4,874.3 1018.8,870.0 1020.1,855.9 1021.5,838.9 1022.8,820.3 1024.2,801.8 1025.6,775.0 1026.9,750.2 1028.3,722.2 1029.6,696.9 1031.0,669.8 1032.4,636.5 1033.7,609.7 1035.1,587.7 1036.4,564.8 1037.8,548.7 1039.2,531.1 1040.5,512.5 1041.9,501.8 1043.2,493.8 1044.6,480.8 1046.0,480.7 1047.3,484.3 1048.7,490.3 1050.0,500.5 1051.4,519.6 1052.7,532.1 1054.1,557.1 1055.5,584.8 1056.8,608.2 1058.2,636.9 1059.5,659.2 1060.9,682.9 1062.3,710.3 1063.6,729.9 1065.0,745.2 1066.3,765.1 1067.7,787.9 1069.1,796.1 1070.4,810.8 1071.8,812.8 1073.1,819.6 1074.5,826.7 1075.9,817.6 1077.2,817.6 1078.6,806.1 1079.9,804.7 1081.3,793.0 1082.6,777.4 1084.0,760.3 1085.4,747.6 1086.7,733.2 1088.1,710.0 1089.4,694.4 1090.8,674.1 1092.2,656.8 1093.5,646.1 1094.9,623.3 1096.2,608.6 1097.6,590.1 1099.0,583.4 1100.3,572.3 1101.7,559.2 1103.0,550.5 1104.4,547.6 1105.8,543.1 1107.1,538.4 1108.5,538.3 1109.8,545.0 1111.2,546.8 1112.6,549.8 1113.9,559.6 1115.3,562.9 1116.6,569.4 1118.0,580.0 1119.3,587.0 1120.7,600.1 1122.1,610.2 1123.4,624.3 1124.8,630.8 1126.1,640.4 1127.5,651.1 1128.9,666.8 1130.2,679.2 1131.6,684.6 1132.9,700.0 1134.3,706.0 1135.7,722.5 1137.0,725.0 1138.4,737.1 1139.7,744.3 1141.1,754.3 1142.5,756.4 1143.8,760.7 1145.2,767.5 1146.5,768.6 1147.9,765.0 1149.2,765.5 1150.6,763.3 1152.0,752.4 1153.3,750.1 1154.7,731.8 1156.0,721.4 1157.4,709.2 1158.8,690.2 1160.1,678.3 1161.5,658.4 1162.8,643.4 1164.2,627.2 1165.6,606.5 1166.9,587.8 1168.3,574.7 1169.6,560.4 1171.0,538.1 1172.4,526.1 1173.7,518.7 1175.1,504.1 1176.4,500.1 1177.8,494.5 1179.1,484.4 1180.5,485.1 1181.9,490.1 1183.2,496.2 1184.6,513.5 1185.9,528.8 1187.3,544.9 1188.7,565.9 1190.0,586.9 1191.4,608.0 1192.7,636.6 1194.1,658.0 1195.5,691.2 1196.8,712.4 1198.2,741.1 1199.5,772.1 1200.9,795.9 1202.3,817.5 1203.6,839.7 1205.0,861.0 1206.3,875.5 1207.7,897.2 1209.1,908.0 1210.4,912.1 1211.8,917.0 1213.1,919.1 1214.5,906.8 1215.8,895.5 1217.2,884.5 1218.6,862.7 1219.9,832.2 1221.3,807.0 1222.6,779.1 1224.0,745.3 1225.4,707.4 1226.7,679.5 1228.1,636.0 1229.4,606.3 1230.8,573.6 1232.2,541.3 1233.5,510.3 1234.9,479.7 1236.2,451.0 1237.6,432.7 1239.0,415.8 1240.3,404.6 1241.7,397.7 1243.0,395.5 1244.4,407.2 1245.7,415.3 1247.1,434.0 1248.5,462.1 1249.8,485.2 1251.2,518.8 1252.5,549.2 1253.9,585.2 1255.3,625.1 1256.6,668.3 1258.0,704.4 1259.3,745.1 1260.7,781.3 1262.1,819.2 1263.4,849.0 1264.8,878.1 1266.1,911.5 1267.5,930.2 1268.9,941.7 1270.2,957.5 1271.6,962.8 1272.9,960.0 1274.3,943.3 1275.7,932.5 1277.0,905.4 1278.4,883.7 1279.7,856.1 1281.1,822.1 1282.4,783.8 1283.8,751.2 1285.2,712.9 1286.5,674.6 1287.9,629.1 1289.2,594.3 1290.6,557.2 1292.0,519.0 1293.3,479.6 1294.7,450.1 1296.0,418.3 1297.4,399.7 1298.8,373.9 1300.1,363.2 1301.5,356.4 1302.8,358.7 1304.2,357.2 1305.6,371.4 1306.9,388.0 1308.3,409.2 1309.6,441.3 1311.0,475.5 1312.3,509.3 1313.7,546.7 1315.1,580.3 1316.4,619.9 1317.8,663.2 1319.1,704.7 1320.5,737.5 1321.9,778.9 1323.2,808.9 1324.6,845.7 1325.9,871.8 1327.3,895.9 1328.7,918.6 1330.0,931.1 1331.4,939.3 1332.7,934.3 1334.1,932.2 1335.5,912.8 1336.8,898.2 1338.2,879.8 1339.5,853.7 1340.9,819.9 1342.2,790.4 1343.6,754.3 1345.0,719.5 1346.3,683.8 1347.7,643.8 1349.0,609.5 1350.4,567.6 1351.8,541.1 1353.1,505.7 1354.5,478.8 1355.8,448.2 1357.2,424.6 1358.6,413.0 1359.9,400.0 1361.3,393.8 1362.6,399.7 1364.0,401.3 1365.4,412.4 1366.7,427.2 1368.1,451.1 1369.4,473.9 1370.8,499.1 1372.2,530.9 1373.5,554.5 1374.9,589.9 1376.2,622.4 1377.6,657.8 1378.9,685.8 1380.3,720.3 1381.7,750.3 1383.0,782.9 1384.4,809.0 1385.7,842.4 1387.1,866.1 1388.5,885.2 1389.8,898.7 1391.2,916.7 1392.5,923.2 1393.9,921.6 1395.3,922.8 1396.6,914.4 1398.0,898.3 1399.3,880.7 1400.7,862.7 1402.1,839.6 1403.4,804.8 1404.8,778.8 1406.1,752.2 1407.5,714.3 1408.8,684.8 1410.2,655.0 1411.6,618.8 1412.9,591.4 1414.3,559.0 1415.6,533.4 1417.0,504.2 1418.4,489.7 1419.7,470.7 1421.1,459.9 1422.4,453.4 1423.8,451.0 1425.2,451.4 1426.5,459.5 1427.9,474.0 1429.2,484.5 1430.6,499.5 1432.0,518.8 1433.3,547.1 1434.7,570.6 1436.0,595.8 1437.4,616.6 1438.8,639.2 1440.1,670.5 1441.5,694.3 1442.8,715.7 1444.2,735.7 1445.5,753.5 1446.9,777.3 1448.3,789.6 1449.6,799.9 1451.0,801.6 1452.3,807.4 1453.7,806.5 1455.1,800.0 1456.4,796.8 1457.8,792.8 1459.1,779.5 1460.5,767.6 1461.9,753.5 1463.2,738.1 1464.6,720.2 1465.9,701.7 1467.3,688.2 1468.7,663.2 1470.0,647.2 1471.4,636.7 1472.7,612.9 1474.1,604.4 1475.4,585.3 1476.8,578.0 1478.2,572.1 1479.5,565.6 1480.9,561.6 1482.2,555.3 1483.6,556.0 1485.0,559.4 1486.3,565.8 1487.7,569.4 1489.0,582.5 1490.4,589.5 1491.8,594.7 1493.1,605.5 1494.5,616.0 1495.8,632.4 1497.2,646.0 1498.6,649.9 1499.9,665.2 1501.3,680.1 1502.6,685.7 1504.0,698.6 1505.3,705.3 1506.7,716.1 1508.1,719.8 1509.4,731.5 1510.8,735.8 1512.1,733.2 1513.5,737.9 1514.9,732.6 1516.2,736.3 1517.6,734.8 1518.9,733.0 1520.3,725.7 1521.7,717.2 1523.0,716.9 1524.4,710.8 1525.7,709.1 1527.1,704.4 1528.5,695.8 1529.8,691.9 1531.2,686.3 1532.5,680.3 1533.9,675.8 1535.3,669.8 1536.6,662.3 1538.0,662.0 1539.3,657.0 1540.7,649.7 1542.0,648.8 1543.4,643.1 1544.8,640.9 1546.1,645.1 1547.5,643.5 1548.8,642.8 1550.2,642.7 1551.6,649.2 1552.9,645.3 1554.3,648.5 1555.6,649.8 1557.0,650.3 1558.4,646.8 1559.7,651.4 1561.1,652.7 1562.4,653.6 1563.8,653.4 1565.2,653.5 1566.5,655.6 1567.9,656.5 1569.2,648.7 1570.6,657.1 1571.9,653.0 1573.3,652.6 1574.7,655.1 1576.0,655.1 1577.4,656.7 1578.7,654.7 1580.1,658.2 1581.5,661.5 1582.8,668.2 1584.2,667.2 1585.5,671.2 1586.9,673.4 1588.3,685.2 1589.6,679.7 1591.0,684.6 1592.3,685.6 1593.7,689.2 1595.1,682.9 1596.4,686.8 1597.8,682.9 1599.1,678.9 1600.5,674.8 1601.8,664.8 1603.2,667.3 1604.6,656.0 1605.9,650.4 1607.3,644.8 1608.6,635.2 1610.0,626.3 1611.4,625.7 1612.7,618.6 1614.1,612.1 1615.4,605.2 1616.8,600.9 1618.2,595.5 1619.5,589.4 1620.9,593.6 1622.2,585.7 1623.6,589.1 1625.0,591.7 1626.3,590.4 1627.7,598.8 1629.0,603.2 1630.4,604.9 1631.8,616.1 1633.1,618.6 1634.5,627.5 1635.8,633.8 1637.2,642.0 1638.5,651.7 1639.9,666.5 1641.3,671.4 1642.6,680.9 1644.0,690.5 1645.3,696.9 1646.7,705.0 1648.1,706.5 1649.4,709.0 1650.8,710.9 1652.1,713.4 1653.5,720.2 1654.9,715.5 1656.2,718.6 1657.6,717.5 1658.9,708.5 1660.3,708.6 1661.7,699.7 1663.0,695.9 1664.4,682.7 1665.7,681.3 1667.1,669.2 1668.4,661.5 1669.8,651.7 1671.2,643.5 1672.5,642.2 1673.9,637.1 1675.2,630.5 1676.6,625.6 1678.0,616.8 1679.3,614.6 1680.7,613.1 1682.0,614.6 1683.4,608.6 1684.8,608.9 1686.1,618.4 1687.5,615.9 1688.8,627.4 1690.2,626.3 1691.6,633.5 1692.9,641.8 1694.3,642.8 1695.6,650.9 1697.0,662.0 1698.4,667.4 1699.7,673.4 1701.1,682.4 1702.4,687.0 1703.8,687.3 1705.1,694.9 1706.5,699.5 1707.9,695.3 1709.2,701.8 1710.6,699.8 1711.9,696.7 1713.3,700.5 1714.7,694.0 1716.0,694.0 1717.4,687.9 1718.7,687.3 1720.1,686.0 1721.5,676.8 1722.8,672.3 1724.2,668.0 1725.5,661.1 1726.9,660.5 1728.3,656.6 1729.6,646.4 1731.0,647.0 1732.3,637.6 1733.7,634.3 1735.0,633.6 1736.4,629.1 1737.8,627.6 1739.1,627.4 1740.5,624.6 1741.8,624.4 1743.2,623.6 1744.6,627.5 1745.9,631.1 1747.3,626.8 1748.6,632.0 1750.0,639.7 1751.4,646.5 1752.7,648.1 1754.1,651.1 1755.4,656.9 1756.8,662.6 1758.2,670.9 1759.5,668.7 1760.9,675.7 1762.2,682.4 1763.6,686.3 1764.9,687.1 1766.3,696.0 1767.7,694.2 1769.0,691.7 1770.4,697.1 1771.7,690.6 1773.1,690.0 1774.5,692.6 1775.8,692.6 1777.2,686.9 1778.5,684.2 1779.9,679.3 1781.3,674.2 1782.6,670.5 1784.0,661.8 1785.3,661.0 1786.7,657.2 1788.1,649.1 1789.4,646.8 1790.8,641.8 1792.1,641.5 1793.5,635.9 1794.9,634.2 1796.2,638.5 1797.6,639.5 1798.9,639.1 1800.3,635.5 1801.6,638.0 1803.0,639.6 1804.4,646.3 1805.7,651.9 1807.1,652.2 1808.4,656.1 1809.8,662.8 1811.2,666.1 1812.5,667.3 1813.9,675.5 1815.2,675.9 1816.6,677.8 1818.0,685.4 1819.3,684.6 1820.7,694.6 1822.0,696.7 1823.4,697.9 1824.8,699.7 1826.1,697.4 1827.5,698.2 1828.8,700.4 1830.2,698.7 1831.5,696.0 1832.9,690.7 1834.3,692.3 1835.6,689.4 1837.0,690.0 1838.3,688.3 1839.7,682.8 1841.1,674.9 1842.4,669.2 1843.8,666.9 1845.1,668.5 1846.5,663.8" fill="none" stroke="#f00" stroke-width="6" stroke-linejoin="round"/>
<path d="M210.5,657.9h10v10h-10zM211.9,657.4h10v10h-10zM213.2,656.8h10v10h-10zM214.6,662.0h10v10h-10zM215.9,655.0h10v10h-10zM217.3,662.7h10v10h-10zM218.7,658.8h10v10h-10zM220.0,660.5h10v10h-10zM221.4,661.5h10v10h-10zM222.7,662.2h10v10h-10zM224.1,661.6h10v10h-10zM225.5,654.2h10v10h-10zM226.8,654.3h10v10h-10zM228.2,661.1h10v10h-10zM229.5,662.7h10v10h-10zM230.9,655.4h10v10h-10zM232.2,660.4h10v10h-10zM233.6,660.3h10v10h-10zM235.0,656.6h10v10h-10zM236.3,659.4h10v10h-10zM237.7,656.4h10v10h-10zM239.0,656.3h10v10h-10zM240.4,658.0h10v10h-10zM241.8,656.5h10v10h-10zM243.1,661.6h10v10h-10zM244.5,658.7h10v10h-10zM245.8,661.2h10v10h-10zM247.2,656.8h10v10h-10zM248.6,662.6h10v10h-10zM249.9,654.1h10v10h-10zM251.3,658.4h10v10h-10zM252.6,657.2h10v10h-10zM254.0,660.8h10v10h-10zM255.4,654.6h10v10h-10zM256.7,656.6h10v10h-10zM258.1,662.3h10v10h-10zM259.4,661.6h10v10h-10zM260.8,660.9h10v10h-10zM262.1,658.9h10v10h-10zM263.5,655.1h10v10h-10zM264.9,655.9h10v10h-10zM266.2,661.4h10v10h-10zM267.6,657.1h10v10h-10zM268.9,662.6h10v10h-10zM270.3,660.4h10v10h-10zM271.7,660.4h10v10h-10zM273.0,662.8h10v10h-10zM274.4,656.5h10v10h-10zM275.7,657.8h10v10h-10zM277.1,657.2h10v10h-10zM278.5,655.0h10v10h-10zM279.8,654.9h10v10h-10zM281.2,659.2h10v10h-10zM282.5,662.0h10v10h-10zM283.9,654.7h10v10h-10zM285.3,660.5h10v10h-10zM286.6,658.1h10v10h-10zM288.0,662.9h10v10h-10zM289.3,655.7h10v10h-10zM290.7,658.3h10v10h-10zM292.1,657.5h10v10h-10zM293.4,658.9h10v10h-10zM294.8,661.1h10v10h-10zM296.1,658.2h10v10h-10zM297.5,660.4h10v10h-10zM298.8,656.2h10v10h-10zM300.2,654.1h10v10h-10zM301.6,657.5h10v10h-10zM302.9,660.7h10v10h-10zM304.3,655.7h10v10h-10zM305.6,661.1h10v10h-10zM307.0,659.6h10v10h-10zM308.4,658.0h10v10h-10zM309.7,654.1h10v10h-10zM311.1,660.0h10v10h-10zM312.4,656.0h10v10h-10zM313.8,656.1h10v10h-10zM315.2,662.1h10v10h-10zM316.5,654.8h10v10h-10zM317.9,656.5h10v10h-10zM319.2,660.0h10v10h-10zM320.6,660.3h10v10h-10zM322.0,655.3h10v10h-10zM323.3,661.8h10v10h-10zM324.7,660.4h10v10h-10zM326.0,660.7h10v10h-10zM327.4,662.4h10v10h-10zM328.7,661.0h10v10h-10zM330.1,659.3h10v10h-10zM331.5,659.1h10v10h-10zM332.8,655.0h10v10h-10zM334.2,657.2h10v10h-10zM335.5,654.7h10v10h-10zM336.9,660.7h10v10h-10zM338.3,656.1h10v10h-10zM339.6,654.8h10v10h-10zM341.0,659.2h10v10h-10zM342.3,657.6h10v10h-10zM343.7,654.2h10v10h-10zM345.1,657.8h10v10h-10zM346.4,656.1h10v10h-10zM347.8,660.5h10v10h-10zM349.1,654.8h10v10h-10zM350.5,661.3h10v10h-10zM351.9,655.9h10v10h-10zM353.2,655.3h10v10h-10zM354.6,662.9h10v10h-10zM355.9,654.9h10v10h-10zM357.3,661.9h10v10h-10zM358.6,654.8h10v10h-10zM360.0,662.4h10v10h-10zM361.4,658.0h10v10h-10zM362.7,661.9h10v10h-10zM364.1,654.1h10v10h-10zM365.4,661.0h10v10h-10zM366.8,657.2h10v10h-10zM368.2,662.7h10v10h-10zM369.5,657.2h10v10h-10zM370.9,654.3h10v10h-10zM372.2,654.1h10v10h-10zM373.6,654.8h10v10h-10zM375.0,657.4h10v10h-10zM376.3,661.7h10v10h-10zM377.7,662.3h10v10h-10zM379.0,661.6h10v10h-10zM380.4,656.9h10v10h-10zM381.8,654.3h10v10h-10zM383.1,656.2h10v10h-10zM384.5,654.3h10v10h-10zM385.8,654.5h10v10h-10zM387.2,654.6h10v10h-10zM388.6,661.0h10v10h-10zM389.9,657.3h10v10h-10zM391.3,661.9h10v10h-10zM392.6,662.1h10v10h-10zM394.0,660.8h10v10h-10zM395.3,658.0h10v10h-10zM396.7,661.7h10v10h-10zM398.1,654.6h10v10h-10zM399.4,658.7h10v10h-10zM400.8,659.6h10v10h-10zM402.1,660.9h10v10h-10zM403.5,659.1h10v10h-10zM404.9,655.4h10v10h-10zM406.2,654.3h10v10h-10zM407.6,661.3h10v10h-10zM408.9,661.7h10v10h-10zM410.3,656.3h10v10h-10zM411.7,662.3h10v10h-10zM413.0,659.6h10v10h-10zM414.4,690.7h10v10h-10zM415.7,675.1h10v10h-10zM417.1,657.4h10v10h-10zM418.5,660.6h10v10h-10zM419.8,662.6h10v10h-10zM421.2,616.0h10v10h-10zM422.5,632.5h10v10h-10zM423.9,658.0h10v10h-10zM425.2,659.4h10v10h-10zM426.6,655.5h10v10h-10zM428.0,658.9h10v10h-10zM429.3,679.3h10v10h-10zM430.7,658.5h10v10h-10zM432.0,638.4h10v10h-10zM433.4,657.6h10v10h-10zM434.8,657.3h10v10h-10zM436.1,657.4h10v10h-10zM437.5,655.0h10v10h-10zM438.8,662.9h10v10h-10zM440.2,662.2h10v10h-10zM441.6,656.7h10v10h-10zM442.9,656.8h10v10h-10zM444.3,658.0h10v10h-10zM445.6,696.3h10v10h-10zM447.0,637.3h10v10h-10zM448.4,695.9h10v10h-10zM449.7,659.9h10v10h-10zM451.1,657.4h10v10h-10zM452.4,654.3h10v10h-10zM453.8,644.3h10v10h-10zM455.1,658.6h10v10h-10zM456.5,687.4h10v10h-10zM457.9,660.1h10v10h-10zM459.2,691.6h10v10h-10zM460.6,658.1h10v10h-10zM461.9,690.4h10v10h-10zM463.3,654.2h10v10h-10zM464.7,612.8h10v10h-10zM466.0,661.4h10v10h-10zM467.4,611.3h10v10h-10zM468.7,682.7h10v10h-10zM470.1,661.7h10v10h-10zM471.5,614.2h10v10h-10zM472.8,677.0h10v10h-10zM474.2,617.4h10v10h-10zM475.5,662.1h10v10h-10zM476.9,622.7h10v10h-10zM478.3,659.9h10v10h-10zM479.6,674.9h10v10h-10zM481.0,661.9h10v10h-10zM482.3,654.5h10v10h-10zM483.7,682.4h10v10h-10zM485.1,660.1h10v10h-10zM486.4,635.0h10v10h-10zM487.8,661.8h10v10h-10zM489.1,675.1h10v10h-10zM490.5,659.7h10v10h-10zM491.8,637.2h10v10h-10zM493.2,657.4h10v10h-10zM494.6,675.1h10v10h-10zM495.9,633.1h10v10h-10zM497.3,656.8h10v10h-10zM498.6,639.7h10v10h-10zM500.0,688.9h10v10h-10zM501.4,662.4h10v10h-10zM502.7,660.2h10v10h-10zM504.1,668.2h10v10h-10zM505.4,655.1h10v10h-10zM506.8,666.8h10v10h-10zM508.2,661.4h10v10h-10zM509.5,656.7h10v10h-10zM510.9,658.2h10v10h-10zM512.2,661.5h10v10h-10zM513.6,659.8h10v10h-10zM515.0,659.8h10v10h-10zM516.3,657.1h10v10h-10zM517.7,656.4h10v10h-10zM519.0,657.3h10v10h-10zM520.4,654.2h10v10h-10zM521.7,659.8h10v10h-10zM523.1,657.0h10v10h-10zM524.5,654.7h10v10h-10zM525.8,661.8h10v10h-10zM527.2,654.6h10v10h-10zM528.5,658.1h10v10h-10zM529.9,657.8h10v10h-10zM531.3,656.4h10v10h-10zM532.6,656.8h10v10h-10zM534.0,656.9h10v10h-10zM535.3,660.6h10v10h-10zM536.7,659.7h10v10h-10zM538.1,659.6h10v10h-10zM539.4,662.4h10v10h-10zM540.8,655.3h10v10h-10zM542.1,660.7h10v10h-10zM543.5,658.9h10v10h-10zM544.9,659.9h10v10h-10zM546.2,658.2h10v10h-10zM547.6,658.0h10v10h-10zM548.9,660.4h10v10h-10zM550.3,654.8h10v10h-10zM551.7,661.1h10v10h-10zM553.0,656.1h10v10h-10zM554.4,654.2h10v10h-10zM555.7,656.5h10v10h-10zM557.1,655.2h10v10h-10zM558.4,656.1h10v10h-10zM559.8,655.9h10v10h-10zM561.2,659.4h10v10h-10zM562.5,661.8h10v10h-10zM563.9,659.7h10v10h-10zM565.2,662.9h10v10h-10zM566.6,661.9h10v10h-10zM568.0,655.7h10v10h-10zM569.3,657.5h10v10h-10zM570.7,659.1h10v10h-10zM572.0,656.0h10v10h-10zM573.4,660.3h10v10h-10zM574.8,658.6h10v10h-10zM576.1,654.8h10v10h-10zM577.5,657.1h10v10h-10zM578.8,654.2h10v10h-10zM580.2,654.2h10v10h-10zM581.6,656.2h10v10h-10zM582.9,654.4h10v10h-10zM584.3,662.3h10v10h-10zM585.6,659.8h10v10h-10zM587.0,662.8h10v10h-10zM588.3,660.8h10v10h-10zM589.7,662.9h10v10h-10zM591.1,654.2h10v10h-10zM592.4,656.1h10v10h-10zM593.8,661.3h10v10h-10zM595.1,660.4h10v10h-10zM596.5,661.5h10v10h-10zM597.9,658.6h10v10h-10zM599.2,661.2h10v10h-10zM600.6,656.7h10v10h-10zM601.9,656.2h10v10h-10zM603.3,660.2h10v10h-10zM604.7,659.7h10v10h-10zM606.0,661.7h10v10h-10zM607.4,660.4h10v10h-10zM608.7,659.5h10v10h-10zM610.1,659.4h10v10h-10zM611.5,658.6h10v10h-10zM612.8,662.4h10v10h-10zM614.2,655.2h10v10h-10zM615.5,662.1h10v10h-10zM616.9,654.8h10v10h-10zM618.2,660.4h10v10h-10zM619.6,656.5h10v10h-10zM621.0,658.1h10v10h-10zM622.3,654.9h10v10h-10zM623.7,655.6h10v10h-10zM625.0,654.9h10v10h-10zM626.4,654.8h10v10h-10zM627.8,658.5h10v10h-10zM629.1,659.0h10v10h-10zM630.5,660.3h10v10h-10zM631.8,658.9h10v10h-10zM633.2,656.0h10v10h-10zM634.6,656.1h10v10h-10zM635.9,660.0h10v10h-10zM637.3,655.8h10v10h-10zM638.6,660.7h10v10h-10zM640.0,657.0h10v10h-10zM641.4,656.9h10v10h-10zM642.7,657.4h10v10h-10zM644.1,655.7h10v10h-10zM645.4,656.2h10v10h-10zM646.8,656.1h10v10h-10zM648.2,658.4h10v10h-10zM649.5,660.5h10v10h-10zM650.9,659.1h10v10h-10zM652.2,656.6h10v10h-10zM653.6,656.7h10v10h-10zM654.9,653.6h10v10h-10zM656.3,661.8h10v10h-10zM657.7,656.9h10v10h-10zM659.0,658.2h10v10h-10zM660.4,653.2h10v10h-10zM661.7,654.1h10v10h-10zM663.1,658.7h10v10h-10zM664.5,656.6h10v10h-10zM665.8,653.4h10v10h-10zM667.2,654.6h10v10h-10zM668.5,653.4h10v10h-10zM669.9,660.0h10v10h-10zM671.3,660.2h10v10h-10zM672.6,656.9h10v10h-10zM674.0,652.7h10v10h-10zM675.3,659.6h10v10h-10zM676.7,659.3h10v10h-10zM678.1,655.1h10v10h-10zM679.4,656.4h10v10h-10zM680.8,655.4h10v10h-10zM682.1,653.4h10v10h-10zM683.5,654.0h10v10h-10zM684.8,660.9h10v10h-10zM686.2,657.2h10v10h-10zM687.6,660.8h10v10h-10zM688.9,659.6h10v10h-10zM690.3,657.3h10v10h-10zM691.6,654.8h10v10h-10zM693.0,656.2h10v10h-10zM694.4,656.5h10v10h-10zM695.7,653.8h10v10h-10zM697.1,655.0h10v10h-10zM698.4,660.4h10v10h-10zM699.8,651.8h10v10h-10zM701.2,656.9h10v10h-10zM702.5,658.9h10v10h-10zM703.9,656.1h10v10h-10zM705.2,654.5h10v10h-10zM706.6,651.9h10v10h-10zM708.0,660.0h10v10h-10zM709.3,660.4h10v10h-10zM710.7,655.7h10v10h-10zM712.0,654.3h10v10h-10zM713.4,652.4h10v10h-10zM714.8,656.5h10v10h-10zM716.1,653.4h10v10h-10zM717.5,657.0h10v10h-10zM718.8,656.5h10v10h-10zM720.2,655.7h10v10h-10zM721.5,660.0h10v10h-10zM722.9,657.9h10v10h-10zM724.3,657.7h10v10h-10zM725.6,660.7h10v10h-10zM727.0,666.1h10v10h-10zM728.3,660.2h10v10h-10zM729.7,661.4h10v10h-10zM731.1,668.0h10v10h-10zM732.4,662.7h10v10h-10zM733.8,664.2h10v10h-10zM735.1,667.6h10v10h-10zM736.5,666.9h10v10h-10zM737.9,665.5h10v10h-10zM739.2,671.8h10v10h-10zM740.6,666.7h10v10h-10zM741.9,664.6h10v10h-10zM743.3,672.4h10v10h-10zM744.7,665.6h10v10h-10zM746.0,669.7h10v10h-10zM747.4,664.3h10v10h-10zM748.7,671.9h10v10h-10zM750.1,672.4h10v10h-10zM751.4,665.3h10v10h-10zM752.8,664.1h10v10h-10zM754.2,665.5h10v10h-10zM755.5,664.8h10v10h-10zM756.9,666.5h10v10h-10zM758.2,671.2h10v10h-10zM759.6,672.3h10v10h-10zM761.0,670.4h10v10h-10zM762.3,663.9h10v10h-10zM763.7,656.9h10v10h-10zM765.0,651.8h10v10h-10zM766.4,651.4h10v10h-10zM767.8,645.2h10v10h-10zM769.1,644.7h10v10h-10zM770.5,640.1h10v10h-10zM771.8,636.2h10v10h-10zM773.2,625.6h10v10h-10zM774.6,628.8h10v10h-10zM775.9,624.5h10v10h-10zM777.3,619.0h10v10h-10zM778.6,614.3h10v10h-10zM780.0,607.3h10v10h-10zM781.3,603.9h10v10h-10zM782.7,602.4h10v10h-10zM784.1,599.8h10v10h-10zM785.4,598.1h10v10h-10zM786.8,601.4h10v10h-10zM788.1,596.7h10v10h-10zM789.5,603.8h10v10h-10zM790.9,602.5h10v10h-10zM792.2,607.3h10v10h-10zM793.6,603.4h10v10h-10zM794.9,613.1h10v10h-10zM796.3,615.9h10v10h-10zM797.7,619.3h10v10h-10zM799.0,620.6h10v10h-10zM800.4,631.5h10v10h-10zM801.7,637.9h10v10h-10zM803.1,638.7h10v10h-10zM804.5,652.1h10v10h-10zM805.8,657.7h10v10h-10zM807.2,667.7h10v10h-10zM808.5,673.5h10v10h-10zM809.9,679.7h10v10h-10zM811.3,691.5h10v10h-10zM812.6,700.1h10v10h-10zM814.0,715.2h10v10h-10zM815.3,724.9h10v10h-10zM816.7,734.5h10v10h-10zM818.0,745.2h10v10h-10zM819.4,752.1h10v10h-10zM820.8,761.8h10v10h-10zM822.1,774.1h10v10h-10zM823.5,777.1h10v10h-10zM824.8,783.2h10v10h-10zM826.2,783.4h10v10h-10zM827.6,774.1h10v10h-10zM828.9,772.4h10v10h-10zM830.3,771.6h10v10h-10zM831.6,760.8h10v10h-10zM833.0,748.8h10v10h-10zM834.4,746.4h10v10h-10zM835.7,728.4h10v10h-10zM837.1,719.9h10v10h-10zM838.4,699.9h10v10h-10zM839.8,687.3h10v10h-10zM841.2,668.6h10v10h-10zM842.5,655.7h10v10h-10zM843.9,638.2h10v10h-10zM845.2,622.9h10v10h-10zM846.6,607.0h10v10h-10zM847.9,590.3h10v10h-10zM849.3,567.9h10v10h-10zM850.7,555.0h10v10h-10zM852.0,536.6h10v10h-10zM853.4,525.9h10v10h-10zM854.7,509.1h10v10h-10zM856.1,503.1h10v10h-10zM857.5,495.6h10v10h-10zM858.8,491.2h10v10h-10zM860.2,481.8h10v10h-10zM861.5,483.4h10v10h-10zM862.9,486.2h10v10h-10zM864.3,490.7h10v10h-10zM865.6,496.2h10v10h-10zM867.0,510.9h10v10h-10zM868.3,525.5h10v10h-10zM869.7,544.0h10v10h-10zM871.1,559.0h10v10h-10zM872.4,581.0h10v10h-10zM873.8,595.0h10v10h-10zM875.1,619.9h10v10h-10zM876.5,645.7h10v10h-10zM877.9,664.9h10v10h-10zM879.2,685.1h10v10h-10zM880.6,710.0h10v10h-10zM881.9,729.2h10v10h-10zM883.3,749.7h10v10h-10zM884.6,771.1h10v10h-10zM886.0,787.3h10v10h-10zM887.4,803.6h10v10h-10zM888.7,818.7h10v10h-10zM890.1,824.5h10v10h-10zM891.4,834.4h10v10h-10zM892.8,844.5h10v10h-10zM894.2,838.3h10v10h-10zM895.5,836.1h10v10h-10zM896.9,826.3h10v10h-10zM898.2,823.7h10v10h-10zM899.6,808.3h10v10h-10zM901.0,793.6h10v10h-10zM902.3,773.2h10v10h-10zM903.7,751.3h10v10h-10zM905.0,730.8h10v10h-10zM906.4,715.3h10v10h-10zM907.8,686.9h10v10h-10zM909.1,666.0h10v10h-10zM910.5,642.2h10v10h-10zM911.8,617.1h10v10h-10zM913.2,596.5h10v10h-10zM914.5,576.4h10v10h-10zM915.9,549.7h10v10h-10zM917.3,531.4h10v10h-10zM918.6,522.2h10v10h-10zM920.0,504.4h10v10h-10zM921.3,496.0h10v10h-10zM922.7,485.9h10v10h-10zM924.1,484.7h10v10h-10zM925.4,490.4h10v10h-10zM926.8,494.0h10v10h-10zM928.1,497.1h10v10h-10zM929.5,513.1h10v10h-10zM930.9,531.8h10v10h-10zM932.2,543.7h10v10h-10zM933.6,563.8h10v10h-10zM934.9,589.2h10v10h-10zM936.3,609.5h10v10h-10zM937.7,628.3h10v10h-10zM939.0,654.2h10v10h-10zM940.4,682.1h10v10h-10zM941.7,710.8h10v10h-10zM943.1,731.7h10v10h-10zM944.5,754.5h10v10h-10zM945.8,781.3h10v10h-10zM947.2,798.7h10v10h-10zM948.5,817.3h10v10h-10zM949.9,823.2h10v10h-10zM951.2,837.8h10v10h-10zM952.6,834.7h10v10h-10zM954.0,832.2h10v10h-10zM955.3,830.4h10v10h-10zM956.7,826.4h10v10h-10zM958.0,810.3h10v10h-10zM959.4,800.5h10v10h-10zM960.8,787.7h10v10h-10zM962.1,770.7h10v10h-10zM963.5,753.4h10v10h-10zM964.8,737.0h10v10h-10zM966.2,713.4h10v10h-10zM967.6,686.6h10v10h-10zM968.9,662.1h10v10h-10zM970.3,624.3h10v10h-10zM971.6,601.2h10v10h-10zM973.0,566.9h10v10h-10zM974.4,538.2h10v10h-10zM975.7,503.3h10v10h-10zM977.1,483.4h10v10h-10zM978.4,463.1h10v10h-10zM979.8,447.9h10v10h-10zM981.1,440.4h10v10h-10zM982.5,441.3h10v10h-10zM983.9,443.9h10v10h-10zM985.2,454.0h10v10h-10zM986.6,475.4h10v10h-10zM987.9,488.8h10v10h-10zM989.3,503.8h10v10h-10zM990.7,530.3h10v10h-10zM992.0,560.0h10v10h-10zM993.4,580.7h10v10h-10zM994.7,611.7h10v10h-10zM996.1,637.2h10v10h-10zM997.5,666.9h10v10h-10zM998.8,699.1h10v10h-10zM1000.2,728.8h10v10h-10zM1001.5,755.9h10v10h-10zM1002.9,784.4h10v10h-10zM1004.3,807.1h10v10h-10zM1005.6,828.8h10v10h-10zM1007.0,846.6h10v10h-10zM1008.3,851.6h10v10h-10zM1009.7,862.1h10v10h-10zM1011.0,867.2h10v10h-10zM1012.4,869.3h10v10h-10zM1013.8,865.0h10v10h-10zM1015.1,850.9h10v10h-10zM1016.5,833.9h10v10h-10zM1017.8,815.3h10v10h-10zM1019.2,796.8h10v10h-10zM1020.6,770.0h10v10h-10zM1021.9,745.2h10v10h-10zM1023.3,717.2h10v10h-10zM1024.6,691.9h10v10h-10zM1026.0,664.8h10v10h-10zM1027.4,631.5h10v10h-10zM1028.7,604.7h10v10h-10zM1030.1,582.7h10v10h-10zM1031.4,559.8h10v10h-10zM1032.8,543.7h10v10h-10zM1034.2,526.1h10v10h-10zM1035.5,507.5h10v10h-10zM1036.9,496.8h10v10h-10zM1038.2,488.8h10v10h-10zM1039.6,475.8h10v10h-10zM1041.0,475.7h10v10h-10zM1042.3,479.3h10v10h-10zM1043.7,485.3h10v10h-10zM1045.0,495.5h10v10h-10zM1046.4,514.6h10v10h-10zM1047.7,527.1h10v10h-10zM1049.1,552.1h10v10h-10zM1050.5,579.8h10v10h-10zM1051.8,603.2h10v10h-10zM1053.2,631.9h10v10h-10zM1054.5,654.2h10v10h-10zM1055.9,677.9h10v10h-10zM1057.3,705.3h10v10h-10zM1058.6,724.9h10v10h-10zM1060.0,740.2h10v10h-10zM1061.3,760.1h10v10h-10zM1062.7,782.9h10v10h-10zM1064.1,791.1h10v10h-10zM1065.4,805.8h10v10h-10zM1066.8,807.8h10v10h-10zM1068.1,814.6h10v10h-10zM1069.5,821.7h10v10h-10zM1070.9,812.6h10v10h-10zM1072.2,812.6h10v10h-10zM1073.6,801.1h10v10h-10zM1074.9,799.7h10v10h-10zM1076.3,788.0h10v10h-10zM1077.6,772.4h10v10h-10zM1079.0,755.3h10v10h-10zM1080.4,742.6h10v10h-10zM1081.7,728.2h10v10h-10zM1083.1,705.0h10v10h-10zM1084.4,689.4h10v10h-10zM1085.8,669.1h10v10h-10zM1087.2,651.8h10v10h-10zM1088.5,641.1h10v10h-10zM1089.9,618.3h10v10h-10zM1091.2,603.6h10v10h-10zM1092.6,585.1h10v10h-10zM1094.0,578.4h10v10h-10zM1095.3,567.3h10v10h-10zM1096.7,554.2h10v10h-10zM1098.0,545.5h10v10h-10zM1099.4,542.6h10v10h-10zM1100.8,538.1h10v10h-10zM1102.1,533.4h10v10h-10zM1103.5,533.3h10v10h-10zM1104.8,540.0h10v10h-10zM1106.2,541.8h10v10h-10zM1107.6,544.8h10v10h-10zM1108.9,554.6h10v10h-10zM1110.3,557.9h10v10h-10zM1111.6,564.4h10v10h-10zM1113.0,575.0h10v10h-10zM1114.3,582.0h10v10h-10zM1115.7,595.1h10v10h-10zM1117.1,605.2h10v10h-10zM1118.4,619.3h10v10h-10zM1119.8,625.8h10v10h-10zM1121.1,635.4h10v10h-10zM1122.5,646.1h10v10h-10zM1123.9,661.8h10v10h-10zM1125.2,674.2h10v10h-10zM1126.6,679.6h10v10h-10zM1127.9,695.0h10v10h-10zM1129.3,701.0h10v10h-10zM1130.7,717.5h10v10h-10zM1132.0,720.0h10v10h-10zM1133.4,732.1h10v10h-10zM1134.7,739.3h10v10h-10zM1136.1,749.3h10v10h-10zM1137.5,751.4h10v10h-10zM1138.8,755.7h10v10h-10zM1140.2,762.5h10v10h-10zM1141.5,763.6h10v10h-10zM1142.9,760.0h10v10h-10zM1144.2,760.5h10v10h-10zM1145.6,758.3h10v10h-10zM1147.0,747.4h10v10h-10zM1148.3,745.1h10v10h-10zM1149.7,726.8h10v10h-10zM1151.0,716.4h10v10h-10zM1152.4,704.2h10v10h-10zM1153.8,685.2h10v10h-10zM1155.1,673.3h10v10h-10zM1156.5,653.4h10v10h-10zM1157.8,638.4h10v10h-10zM1159.2,622.2h10v10h-10zM1160.6,601.5h10v10h-10zM1161.9,582.8h10v10h-10zM1163.3,569.7h10v10h-10zM1164.6,555.4h10v10h-10zM1166.0,533.1h10v10h-10zM1167.4,521.1h10v10h-10zM1168.7,513.7h10v10h-10zM1170.1,499.1h10v10h-10zM1171.4,495.1h10v10h-10zM1172.8,489.5h10v10h-10zM1174.1,479.4h10v10h-10zM1175.5,480.1h10v10h-10zM1176.9,485.1h10v10h-10zM1178.2,491.2h10v10h-10zM1179.6,508.5h10v10h-10zM1180.9,523.8h10v10h-10zM1182.3,539.9h10v10h-10zM1183.7,560.9h10v10h-10zM1185.0,581.9h10v10h-10zM1186.4,603.0h10v10h-10zM1187.7,631.6h10v10h-10zM1189.1,653.0h10v10h-10zM1190.5,686.2h10v10h-10zM1191.8,707.4h10v10h-10zM1193.2,736.1h10v10h-10zM1194.5,767.1h10v10h-10zM1195.9,790.9h10v10h-10zM1197.3,812.5h10v10h-10zM1198.6,834.7h10v10h-10zM1200.0,856.0h10v10h-10zM1201.3,870.5h10v10h-10zM1202.7,892.2h10v10h-10zM1204.1,903.0h10v10h-10zM1205.4,907.1h10v10h-10zM1206.8,912.0h10v10h-10zM1208.1,914.1h10v10h-10zM1209.5,901.8h10v10h-10zM1210.8,890.5h10v10h-10zM1212.2,879.5h10v10h-10zM1213.6,857.7h10v10h-10zM1214.9,827.2h10v10h-10zM1216.3,802.0h10v10h-10zM1217.6,774.1h10v10h-10zM1219.0,740.3h10v10h-10zM1220.4,702.4h10v10h-10zM1221.7,674.5h10v10h-10zM1223.1,631.0h10v10h-10zM1224.4,601.3h10v10h-10zM1225.8,568.6h10v10h-10zM1227.2,536.3h10v10h-10zM1228.5,505.3h10v10h-10zM1229.9,474.7h10v10h-10zM1231.2,446.0h10v10h-10zM1232.6,427.7h10v10h-10zM1234.0,410.8h10v10h-10zM1235.3,399.6h10v10h-10zM1236.7,392.7h10v10h-10zM1238.0,390.5h10v10h-10zM1239.4,402.2h10v10h-10zM1240.7,410.3h10v10h-10zM1242.1,429.0h10v10h-10zM1243.5,457.1h10v10h-10zM1244.8,480.2h10v10h-10zM1246.2,513.8h10v10h-10zM1247.5,544.2h10v10h-10zM1248.9,580.2h10v10h-10zM1250.3,620.1h10v10h-10zM1251.6,663.3h10v10h-10zM1253.0,699.4h10v10h-10zM1254.3,740.1h10v10h-10zM1255.7,776.3h10v10h-10zM1257.1,814.2h10v10h-10zM1258.4,844.0h10v10h-10zM1259.8,873.1h10v10h-10zM1261.1,906.5h10v10h-10zM1262.5,925.2h10v10h-10zM1263.9,936.7h10v10h-10zM1265.2,952.5h10v10h-10zM1266.6,957.8h10v10h-10zM1267.9,955.0h10v10h-10zM1269.3,938.3h10v10h-10zM1270.7,927.5h10v10h-10zM1272.0,900.4h10v10h-10zM1273.4,878.7h10v10h-10zM1274.7,851.1h10v10h-10zM1276.1,817.1h10v10h-10zM1277.4,778.8h10v10h-10zM1278.8,746.2h10v10h-10zM1280.2,707.9h10v10h-10zM1281.5,669.6h10v10h-10zM1282.9,624.1h10v10h-10zM1284.2,589.3h10v10h-10zM1285.6,552.2h10v10h-10zM1287.0,514.0h10v10h-10zM1288.3,474.6h10v10h-10zM1289.7,445.1h10v10h-10zM1291.0,413.3h10v10h-10zM1292.4,394.7h10v10h-10zM1293.8,368.9h10v10h-10zM1295.1,358.2h10v10h-10zM1296.5,351.4h10v10h-10zM1297.8,353.7h10v10h-10zM1299.2,352.2h10v10h-10zM1300.6,366.4h10v10h-10zM1301.9,383.0h10v10h-10zM1303.3,404.2h10v10h-10zM1304.6,436.3h10v10h-10zM1306.0,470.5h10v10h-10zM1307.3,504.3h10v10h-10zM1308.7,541.7h10v10h-10zM1310.1,575.3h10v10h-10zM1311.4,614.9h10v10h-10zM1312.8,658.2h10v10h-10zM1314.1,699.7h10v10h-10zM1315.5,732.5h10v10h-10zM1316.9,773.9h10v10h-10zM1318.2,803.9h10v10h-10zM1319.6,840.7h10v10h-10zM1320.9,866.8h10v10h-10zM1322.3,890.9h10v10h-10zM1323.7,913.6h10v10h-10zM1325.0,926.1h10v10h-10zM1326.4,934.3h10v10h-10zM1327.7,929.3h10v10h-10zM1329.1,927.2h10v10h-10zM1330.5,907.8h10v10h-10zM1331.8,893.2h10v10h-10zM1333.2,874.8h10v10h-10zM1334.5,848.7h10v10h-10zM1335.9,814.9h10v10h-10zM1337.2,785.4h10v10h-10zM1338.6,749.3h10v10h-10zM1340.0,714.5h10v10h-10zM1341.3,678.8h10v10h-10zM1342.7,638.8h10v10h-10zM1344.0,604.5h10v10h-10zM1345.4,562.6h10v10h-10zM1346.8,536.1h10v10h-10zM1348.1,500.7h10v10h-10zM1349.5,473.8h10v10h-10zM1350.8,443.2h10v10h-10zM1352.2,419.6h10v10h-10zM1353.6,408.0h10v10h-10zM1354.9,395.0h10v10h-10zM1356.3,388.8h10v10h-10zM1357.6,394.7h10v10h-10zM1359.0,396.3h10v10h-10zM1360.4,407.4h10v10h-10zM1361.7,422.2h10v10h-10zM1363.1,446.1h10v10h-10zM1364.4,468.9h10v10h-10zM1365.8,494.1h10v10h-10zM1367.2,525.9h10v10h-10zM1368.5,549.5h10v10h-10zM1369.9,584.9h10v10h-10zM1371.2,617.4h10v10h-10zM1372.6,652.8h10v10h-10zM1373.9,680.8h10v10h-10zM1375.3,715.3h10v10h-10zM1376.7,745.3h10v10h-10zM1378.0,777.9h10v10h-10zM1379.4,804.0h10v10h-10zM1380.7,837.4h10v10h-10zM1382.1,861.1h10v10h-10zM1383.5,880.2h10v10h-10zM1384.8,893.7h10v10h-10zM1386.2,911.7h10v10h-10zM1387.5,918.2h10v10h-10zM1388.9,916.6h10v10h-10zM1390.3,917.8h10v10h-10zM1391.6,909.4h10v10h-10zM1393.0,893.3h10v10h-10zM1394.3,875.7h10v10h-10zM1395.7,857.7h10v10h-10zM1397.1,834.6h10v10h-10zM1398.4,799.8h10v10h-10zM1399.8,773.8h10v10h-10zM1401.1,747.2h10v10h-10zM1402.5,709.3h10v10h-10zM1403.8,679.8h10v10h-10zM1405.2,650.0h10v10h-10zM1406.6,613.8h10v10h-10zM1407.9,586.4h10v10h-10zM1409.3,554.0h10v10h-10zM1410.6,528.4h10v10h-10zM1412.0,499.2h10v10h-10zM1413.4,484.7h10v10h-10zM1414.7,465.7h10v10h-10zM1416.1,454.9h10v10h-10zM1417.4,448.4h10v10h-10zM1418.8,446.0h10v10h-10zM1420.2,446.4h10v10h-10zM1421.5,454.5h10v10h-10zM1422.9,469.0h10v10h-10zM1424.2,479.5h10v10h-10zM1425.6,494.5h10v10h-10zM1427.0,513.8h10v10h-10zM1428.3,542.1h10v10h-10zM1429.7,565.6h10v10h-10zM1431.0,590.8h10v10h-10zM1432.4,611.6h10v10h-10zM1433.8,634.2h10v10h-10zM1435.1,665.5h10v10h-10zM1436.5,689.3h10v10h-10zM1437.8,710.7h10v10h-10zM1439.2,730.7h10v10h-10zM1440.5,748.5h10v10h-10zM1441.9,772.3h10v10h-10zM1443.3,784.6h10v10h-10zM1444.6,794.9h10v10h-10zM1446.0,796.6h10v10h-10zM1447.3,802.4h10v10h-10zM1448.7,801.5h10v10h-10zM1450.1,795.0h10v10h-10zM1451.4,791.8h10v10h-10zM1452.8,787.8h10v10h-10zM1454.1,774.5h10v10h-10zM1455.5,762.6h10v10h-10zM1456.9,748.5h10v10h-10zM1458.2,733.1h10v10h-10zM1459.6,715.2h10v10h-10zM1460.9,696.7h10v10h-10zM1462.3,683.2h10v10h-10zM1463.7,658.2h10v10h-10zM1465.0,642.2h10v10h-10zM1466.4,631.7h10v10h-10zM1467.7,607.9h10v10h-10zM1469.1,599.4h10v10h-10zM1470.4,580.3h10v10h-10zM1471.8,573.0h10v10h-10zM1473.2,567.1h10v10h-10zM1474.5,560.6h10v10h-10zM1475.9,556.6h10v10h-10zM1477.2,550.3h10v10h-10zM1478.6,551.0h10v10h-10zM1480.0,554.4h10v10h-10zM1481.3,560.8h10v10h-10zM1482.7,564.4h10v10h-10zM1484.0,577.5h10v10h-10zM1485.4,584.5h10v10h-10zM1486.8,589.7h10v10h-10zM1488.1,600.5h10v10h-10zM1489.5,611.0h10v10h-10zM1490.8,627.4h10v10h-10zM1492.2,641.0h10v10h-10zM1493.6,644.9h10v10h-10zM1494.9,660.2h10v10h-10zM1496.3,675.1h10v10h-10zM1497.6,680.7h10v10h-10zM1499.0,693.6h10v10h-10zM1500.3,700.3h10v10h-10zM1501.7,711.1h10v10h-10zM1503.1,714.8h10v10h-10zM1504.4,726.5h10v10h-10zM1505.8,730.8h10v10h-10zM1507.1,728.2h10v10h-10zM1508.5,732.9h10v10h-10zM1509.9,727.6h10v10h-10zM1511.2,731.3h10v10h-10zM1512.6,729.8h10v10h-10zM1513.9,728.0h10v10h-10zM1515.3,720.7h10v10h-10zM1516.7,712.2h10v10h-10zM1518.0,711.9h10v10h-10zM1519.4,705.8h10v10h-10zM1520.7,704.1h10v10h-10zM1522.1,699.4h10v10h-10zM1523.5,690.8h10v10h-10zM1524.8,686.9h10v10h-10zM1526.2,681.3h10v10h-10zM1527.5,675.3h10v10h-10zM1528.9,670.8h10v10h-10zM1530.3,664.8h10v10h-10zM1531.6,657.3h10v10h-10zM1533.0,657.0h10v10h-10zM1534.3,652.0h10v10h-10zM1535.7,644.7h10v10h-10zM1537.0,643.8h10v10h-10zM1538.4,638.1h10v10h-10zM1539.8,635.9h10v10h-10zM1541.1,640.1h10v10h-10zM1542.5,638.5h10v10h-10zM1543.8,637.8h10v10h-10zM1545.2,637.7h10v10h-10zM1546.6,644.2h10v10h-10zM1547.9,640.3h10v10h-10zM1549.3,643.5h10v10h-10zM1550.6,644.8h10v10h-10zM1552.0,645.3h10v10h-10zM1553.4,641.8h10v10h-10zM1554.7,646.4h10v10h-10zM1556.1,647.7h10v10h-10zM1557.4,648.6h10v10h-10zM1558.8,648.4h10v10h-10zM1560.2,648.5h10v10h-10zM1561.5,650.6h10v10h-10zM1562.9,651.5h10v10h-10zM1564.2,643.7h10v10h-10zM1565.6,652.1h10v10h-10zM1566.9,648.0h10v10h-10zM1568.3,647.6h10v10h-10zM1569.7,650.1h10v10h-10zM1571.0,650.1h10v10h-10zM1572.4,651.7h10v10h-10zM1573.7,649.7h10v10h-10zM1575.1,653.2h10v10h-10zM1576.5,656.5h10v10h-10zM1577.8,663.2h10v10h-10zM1579.2,662.2h10v10h-10zM1580.5,666.2h10v10h-10zM1581.9,668.4h10v10h-10zM1583.3,680.2h10v10h-10zM1584.6,674.7h10v10h-10zM1586.0,679.6h10v10h-10zM1587.3,680.6h10v10h-10zM1588.7,684.2h10v10h-10zM1590.1,677.9h10v10h-10zM1591.4,681.8h10v10h-10zM1592.8,677.9h10v10h-10zM1594.1,673.9h10v10h-10zM1595.5,669.8h10v10h-10zM1596.8,659.8h10v10h-10zM1598.2,662.3h10v10h-10zM1599.6,651.0h10v10h-10zM1600.9,645.4h10v10h-10zM1602.3,639.8h10v10h-10zM1603.6,630.2h10v10h-10zM1605.0,621.3h10v10h-10zM1606.4,620.7h10v10h-10zM1607.7,613.6h10v10h-10zM1609.1,607.1h10v10h-10zM1610.4,600.2h10v10h-10zM1611.8,595.9h10v10h-10zM1613.2,590.5h10v10h-10zM1614.5,584.4h10v10h-10zM1615.9,588.6h10v10h-10zM1617.2,580.7h10v10h-10zM1618.6,584.1h10v10h-10zM1620.0,586.7h10v10h-10zM1621.3,585.4h10v10h-10zM1622.7,593.8h10v10h-10zM1624.0,598.2h10v10h-10zM1625.4,599.9h10v10h-10zM1626.8,611.1h10v10h-10zM1628.1,613.6h10v10h-10zM1629.5,622.5h10v10h-10zM1630.8,628.8h10v10h-10zM1632.2,637.0h10v10h-10zM1633.5,646.7h10v10h-10zM1634.9,661.5h10v10h-10zM1636.3,666.4h10v10h-10zM1637.6,675.9h10v10h-10zM1639.0,685.5h10v10h-10zM1640.3,691.9h10v10h-10zM1641.7,700.0h10v10h-10zM1643.1,701.5h10v10h-10zM1644.4,704.0h10v10h-10zM1645.8,705.9h10v10h-10zM1647.1,708.4h10v10h-10zM1648.5,715.2h10v10h-10zM1649.9,710.5h10v10h-10zM1651.2,713.6h10v10h-10zM1652.6,712.5h10v10h-10zM1653.9,703.5h10v10h-10zM1655.3,703.6h10v10h-10zM1656.7,694.7h10v10h-10zM1658.0,690.9h10v10h-10zM1659.4,677.7h10v10h-10zM1660.7,676.3h10v10h-10zM1662.1,664.2h10v10h-10zM1663.4,656.5h10v10h-10zM1664.8,646.7h10v10h-10zM1666.2,638.5h10v10h-10zM1667.5,637.2h10v10h-10zM1668.9,632.1h10v10h-10zM1670.2,625.5h10v10h-10zM1671.6,620.6h10v10h-10zM1673.0,611.8h10v10h-10zM1674.3,609.6h10v10h-10zM1675.7,608.1h10v10h-10zM1677.0,609.6h10v10h-10zM1678.4,603.6h10v10h-10zM1679.8,603.9h10v10h-10zM1681.1,613.4h10v10h-10zM1682.5,610.9h10v10h-10zM1683.8,622.4h10v10h-10zM1685.2,621.3h10v10h-10zM1686.6,628.5h10v10h-10zM1687.9,636.8h10v10h-10zM1689.3,637.8h10v10h-10zM1690.6,645.9h10v10h-10zM1692.0,657.0h10v10h-10zM1693.4,662.4h10v10h-10zM1694.7,668.4h10v10h-10zM1696.1,677.4h10v10h-10zM1697.4,682.0h10v10h-10zM1698.8,682.3h10v10h-10zM1700.1,689.9h10v10h-10zM1701.5,694.5h10v10h-10zM1702.9,690.3h10v10h-10zM1704.2,696.8h10v10h-10zM1705.6,694.8h10v10h-10zM1706.9,691.7h10v10h-10zM1708.3,695.5h10v10h-10zM1709.7,689.0h10v10h-10zM1711.0,689.0h10v10h-10zM1712.4,682.9h10v10h-10zM1713.7,682.3h10v10h-10zM1715.1,681.0h10v10h-10zM1716.5,671.8h10v10h-10zM1717.8,667.3h10v10h-10zM1719.2,663.0h10v10h-10zM1720.5,656.1h10v10h-10zM1721.9,655.5h10v10h-10zM1723.3,651.6h10v10h-10zM1724.6,641.4h10v10h-10zM1726.0,642.0h10v10h-10zM1727.3,632.6h10v10h-10zM1728.7,629.3h10v10h-10zM1730.0,628.6h10v10h-10zM1731.4,624.1h10v10h-10zM1732.8,622.6h10v10h-10zM1734.1,622.4h10v10h-10zM1735.5,619.6h10v10h-10zM1736.8,619.4h10v10h-10zM1738.2,618.6h10v10h-10zM1739.6,622.5h10v10h-10zM1740.9,626.1h10v10h-10zM1742.3,621.8h10v10h-10zM1743.6,627.0h10v10h-10zM1745.0,634.7h10v10h-10zM1746.4,641.5h10v10h-10zM1747.7,643.1h10v10h-10zM1749.1,646.1h10v10h-10zM1750.4,651.9h10v10h-10zM1751.8,657.6h10v10h-10zM1753.2,665.9h10v10h-10zM1754.5,663.7h10v10h-10zM1755.9,670.7h10v10h-10zM1757.2,677.4h10v10h-10zM1758.6,681.3h10v10h-10zM1759.9,682.1h10v10h-10zM1761.3,691.0h10v10h-10zM1762.7,689.2h10v10h-10zM1764.0,686.7h10v10h-10zM1765.4,692.1h10v10h-10zM1766.7,685.6h10v10h-10zM1768.1,685.0h10v10h-10zM1769.5,687.6h10v10h-10zM1770.8,687.6h10v10h-10zM1772.2,681.9h10v10h-10zM1773.5,679.2h10v10h-10zM1774.9,674.3h10v10h-10zM1776.3,669.2h10v10h-10zM1777.6,665.5h10v10h-10zM1779.0,656.8h10v10h-10zM1780.3,656.0h10v10h-10zM1781.7,652.2h10v10h-10zM1783.1,644.1h10v10h-10zM1784.4,641.8h10v10h-10zM1785.8,636.8h10v10h-10zM1787.1,636.5h10v10h-10zM1788.5,630.9h10v10h-10zM1789.9,629.2h10v10h-10zM1791.2,633.5h10v10h-10zM1792.6,634.5h10v10h-10zM1793.9,634.1h10v10h-10zM1795.3,630.5h10v10h-10zM1796.6,633.0h10v10h-10zM1798.0,634.6h10v10h-10zM1799.4,641.3h10v10h-10zM1800.7,646.9h10v10h-10zM1802.1,647.2h10v10h-10zM1803.4,651.1h10v10h-10zM1804.8,657.8h10v10h-10zM1806.2,661.1h10v10h-10zM1807.5,662.3h10v10h-10zM1808.9,670.5h10v10h-10zM1810.2,670.9h10v10h-10zM1811.6,672.8h10v10h-10zM1813.0,680.4h10v10h-10zM1814.3,679.6h10v10h-10zM1815.7,689.6h10v10h-10zM1817.0,691.7h10v10h-10zM1818.4,692.9h10v10h-10zM1819.8,694.7h10v10h-10zM1821.1,692.4h10v10h-10zM1822.5,693.2h10v10h-10zM1823.8,695.4h10v10h-10zM1825.2,693.7h10v10h-10zM1826.5,691.0h10v10h-10zM1827.9,685.7h10v10h-10zM1829.3,687.3h10v10h-10zM1830.6,684.4h10v10h-10zM1832.0,685.0h10v10h-10zM1833.3,683.3h10v10h-10zM1834.7,677.8h10v10h-10zM1836.1,669.9h10v10h-10zM1837.4,664.2h10v10h-10zM1838.8,661.9h10v10h-10zM1840.1,663.5h10v10h-10zM1841.5,658.8h10v10h-10z" fill="#f00"/>
</g>
<g clip-path="url(#clipb)" shape-rendering="crispEdges">
<polyline points="210.6,2357.0 216.1,2355.8 221.5,2355.8 227.0,2357.2 232.5,2356.8 238.0,2357.5 243.4,2357.0 248.9,2356.8 254.4,2356.9 259.8,2357.3 265.3,2355.6 270.8,2356.8 276.3,2356.6 281.7,2356.1 287.2,2355.9 292.7,2355.7 298.1,2356.3 303.6,2355.7 309.1,2356.4 314.6,2355.9 320.0,2365.5 325.5,2373.8 331.0,2377.9 336.4,2379.4 341.9,2380.3 347.4,2382.5 352.9,2385.4 358.3,2386.1 363.8,2389.6 369.3,2393.3 374.7,2395.7 380.2,2398.1 385.7,2403.2 391.2,2405.8 396.6,2407.2 402.1,2408.7 407.6,2406.6 413.0,2404.1 418.5,2402.1 424.0,2400.9 429.5,2397.6 434.9,2394.0 440.4,2390.4 445.9,2385.5 451.3,2375.1 456.8,2365.8 462.3,2358.1 467.8,2352.1 473.2,2342.1 478.7,2328.6 484.2,2313.7 489.6,2297.7 495.1,2283.1 500.6,2270.3 506.1,2258.2 511.5,2242.5 517.0,2228.3 522.5,2213.4 527.9,2200.9 533.4,2188.1 538.9,2178.4 544.4,2168.6 549.8,2162.0 555.3,2159.8 560.8,2159.8 566.2,2163.1 571.7,2169.7 577.2,2179.9 582.7,2190.7 588.1,2200.7 593.6,2212.8 599.1,2229.3 604.5,2252.5 610.0,2279.0 615.5,2308.1 621.0,2338.1 626.4,2363.8 631.9,2391.5 637.4,2424.5 642.8,2461.2 648.3,2500.6 653.8,2540.7 659.2,2579.5 664.7,2613.1 670.2,2642.1 675.7,2667.0 681.1,2684.4 686.6,2699.7 692.1,2709.6 697.5,2716.0 703.0,2716.9 708.5,2715.3 714.0,2709.5 719.4,2698.4 724.9,2677.1 730.4,2649.3 735.8,2613.1 741.3,2573.3 746.8,2526.0 752.3,2476.5 757.7,2424.4 763.2,2370.0 768.7,2314.2 774.1,2257.0 779.6,2202.5 785.1,2149.5 790.6,2099.9 796.0,2053.8 801.5,2012.0 807.0,1976.6 812.4,1944.8 817.9,1919.6 823.4,1902.7 828.9,1891.6 834.3,1890.7 839.8,1892.7 845.3,1901.7 850.7,1921.5 856.2,1954.4 861.7,1997.6 867.2,2050.4 872.6,2109.1 878.1,2174.7 883.6,2244.0 889.0,2314.4 894.5,2386.7 900.0,2457.7 905.5,2527.4 910.9,2593.9 916.4,2656.6 921.9,2714.8 927.3,2766.3 932.8,2813.5 938.3,2851.7 943.8,2881.5 949.2,2900.9 954.7,2910.5 960.2,2908.9 965.6,2895.6 971.1,2870.0 976.6,2834.9 982.1,2791.9 987.5,2739.9 993.0,2679.9 998.5,2615.5 1003.9,2548.6 1009.4,2476.1 1014.9,2403.1 1020.4,2327.9 1025.8,2251.1 1031.3,2176.6 1036.8,2103.0 1042.2,2031.8 1047.7,1966.9 1053.2,1910.6 1058.7,1863.0 1064.1,1826.7 1069.6,1803.9 1075.1,1796.6 1080.5,1795.2 1086.0,1802.0 1091.5,1826.7 1097.0,1862.1 1102.4,1909.7 1107.9,1966.8 1113.4,2032.6 1118.8,2104.0 1124.3,2180.5 1129.8,2260.4 1135.3,2342.1 1140.7,2423.6 1146.2,2501.3 1151.7,2578.7 1157.1,2650.4 1162.6,2718.4 1168.1,2777.4 1173.6,2827.0 1179.0,2867.5 1184.5,2896.1 1190.0,2909.6 1195.4,2910.6 1200.9,2895.7 1206.4,2871.3 1211.9,2834.0 1217.3,2787.7 1222.8,2733.3 1228.3,2671.6 1233.7,2605.1 1239.2,2535.6 1244.7,2462.0 1250.2,2387.7 1255.6,2313.0 1261.1,2240.5 1266.6,2170.6 1272.0,2105.6 1277.5,2046.2 1283.0,1993.1 1288.5,1950.8 1293.9,1918.1 1299.4,1897.1 1304.9,1890.3 1310.3,1895.2 1315.8,1913.0 1321.3,1940.1 1326.8,1976.6 1332.2,2019.3 1337.7,2069.1 1343.2,2124.5 1348.6,2182.9 1354.1,2245.1 1359.6,2307.9 1365.1,2369.8 1370.5,2432.1 1376.0,2491.8 1381.5,2547.6 1386.9,2598.6 1392.4,2642.3 1397.9,2676.0 1403.4,2702.2 1408.8,2715.1 1414.3,2716.4 1419.8,2707.1 1425.2,2687.4 1430.7,2657.0 1436.2,2620.2 1441.7,2577.1 1447.1,2527.2 1452.6,2472.5 1458.1,2417.3 1463.5,2357.3 1469.0,2298.6 1474.5,2239.5 1479.9,2183.3 1485.4,2129.6 1490.9,2081.3 1496.4,2038.5 1501.8,2002.3 1507.3,1976.2 1512.8,1958.7 1518.2,1954.6 1523.7,1960.0 1529.2,1976.5 1534.7,2003.0 1540.1,2036.1 1545.6,2075.1 1551.1,2119.5 1556.5,2168.0 1562.0,2220.1 1567.5,2274.7 1573.0,2330.8 1578.4,2384.3 1583.9,2437.8 1589.4,2489.4 1594.8,2537.3 1600.3,2580.9 1605.8,2618.4 1611.3,2652.8 1616.7,2679.1 1622.2,2699.7 1627.7,2711.2 1633.1,2712.8 1638.6,2706.1 1644.1,2692.1 1649.6,2669.7 1655.0,2643.5 1660.5,2609.9 1666.0,2573.9 1671.4,2533.7 1676.9,2492.7 1682.4,2450.8 1687.9,2409.9 1693.3,2369.0 1698.8,2331.3 1704.3,2299.2 1709.7,2267.4 1715.2,2241.2 1720.7,2218.3 1726.2,2200.6 1731.6,2186.6 1737.1,2180.6 1742.6,2178.0 1748.0,2181.3 1753.5,2191.2 1759.0,2203.7 1764.5,2221.8 1769.9,2245.6 1775.4,2273.7 1780.9,2303.2 1786.3,2331.2 1791.8,2355.6 1797.3,2375.2 1802.8,2391.3 1808.2,2403.0 1813.7,2412.9 1819.2,2419.3 1824.6,2422.1 1830.1,2419.0 1835.6,2412.6 1841.1,2401.3 1846.5,2388.7 1852.0,2371.9" fill="none" stroke="#000" stroke-width="6" stroke-linejoin="round"/>
<polyline points="210.6,2358.9 216.1,2357.9 221.5,2358.2 227.0,2358.9 232.5,2358.9 238.0,2358.8 243.4,2357.7 248.9,2358.9 254.4,2358.8 259.8,2358.0 265.3,2358.4 270.8,2358.3 276.3,2359.0 281.7,2357.6 287.2,2357.8 292.7,2358.2 298.1,2357.4 303.6,2358.7 309.1,2358.6 314.6,2357.8 320.0,2358.0 325.5,2358.6 331.0,2357.7 336.4,2358.8 341.9,2357.2 347.4,2358.6 352.9,2358.6 358.3,2358.0 363.8,2358.5 369.3,2359.2 374.7,2360.4 380.2,2362.8 385.7,2362.6 391.2,2364.4 396.6,2365.0 402.1,2365.9 407.6,2365.2 413.0,2365.2 418.5,2366.1 424.0,2366.3 429.5,2366.9 434.9,2366.8 440.4,2367.5 445.9,2367.6 451.3,2367.8 456.8,2366.3 462.3,2366.7 467.8,2367.7 473.2,2366.9 478.7,2367.9 484.2,2368.0 489.6,2368.7 495.1,2368.9 500.6,2368.4 506.1,2367.7 511.5,2364.2 517.0,2359.3 522.5,2354.4 527.9,2349.5 533.4,2343.9 538.9,2337.8 544.4,2329.9 549.8,2325.3 555.3,2319.1 560.8,2314.1 566.2,2307.6 571.7,2304.6 577.2,2299.4 582.7,2297.0 588.1,2295.4 593.6,2295.0 599.1,2294.7 604.5,2293.3 610.0,2294.5 615.5,2295.5 621.0,2299.5 626.4,2303.0 631.9,2308.2 637.4,2312.1 642.8,2318.4 648.3,2322.4 653.8,2329.5 659.2,2336.3 664.7,2344.5 670.2,2354.1 675.7,2367.6 681.1,2380.5 686.6,2392.8 692.1,2406.7 697.5,2420.4 703.0,2431.8 708.5,2442.0 714.0,2454.6 719.4,2466.2 724.9,2476.3 730.4,2485.3 735.8,2495.8 741.3,2502.0 746.8,2505.8 752.3,2507.9 757.7,2505.0 763.2,2501.3 768.7,2493.3 774.1,2485.1 779.6,2472.8 785.1,2457.2 790.6,2441.2 796.0,2422.6 801.5,2403.4 807.0,2384.6 812.4,2362.6 817.9,2340.9 823.4,2318.5 828.9,2295.6 834.3,2273.3 839.8,2251.4 845.3,2231.1 850.7,2211.3 856.2,2193.7 861.7,2175.9 867.2,2160.5 872.6,2147.6 878.1,2137.7 883.6,2128.4 889.0,2123.0 894.5,2120.4 900.0,2120.6 905.5,2124.9 910.9,2134.7 916.4,2147.2 921.9,2163.6 927.3,2181.8 932.8,2204.7 938.3,2230.1 943.8,2257.9 949.2,2288.5 954.7,2320.3 960.2,2355.1 965.6,2390.1 971.1,2426.2 976.6,2462.7 982.1,2498.7 987.5,2532.7 993.0,2563.9 998.5,2592.7 1003.9,2615.8 1009.4,2634.3 1014.9,2645.2 1020.4,2650.2 1025.8,2645.2 1031.3,2636.2 1036.8,2620.0 1042.2,2599.7 1047.7,2574.3 1053.2,2546.7 1058.7,2514.8 1064.1,2478.7 1069.6,2443.4 1075.1,2404.3 1080.5,2365.4 1086.0,2327.9 1091.5,2288.3 1097.0,2252.0 1102.4,2216.5 1107.9,2181.9 1113.4,2152.1 1118.8,2123.7 1124.3,2099.9 1129.8,2079.5 1135.3,2063.3 1140.7,2053.2 1146.2,2049.5 1151.7,2051.3 1157.1,2056.9 1162.6,2068.5 1168.1,2083.6 1173.6,2103.8 1179.0,2127.1 1184.5,2154.3 1190.0,2186.4 1195.4,2220.6 1200.9,2258.4 1206.4,2297.1 1211.9,2340.3 1217.3,2384.5 1222.8,2432.4 1228.3,2481.2 1233.7,2525.9 1239.2,2569.9 1244.7,2609.5 1250.2,2641.0 1255.6,2664.7 1261.1,2677.7 1266.6,2679.0 1272.0,2671.9 1277.5,2659.5 1283.0,2639.8 1288.5,2614.0 1293.9,2584.7 1299.4,2550.7 1304.9,2514.2 1310.3,2472.7 1315.8,2429.5 1321.3,2385.9 1326.8,2340.2 1332.2,2295.6 1337.7,2251.2 1343.2,2209.8 1348.6,2170.1 1354.1,2135.9 1359.6,2105.2 1365.1,2077.7 1370.5,2056.1 1376.0,2042.1 1381.5,2033.3 1386.9,2030.0 1392.4,2036.5 1397.9,2050.7 1403.4,2069.4 1408.8,2094.4 1414.3,2126.0 1419.8,2159.7 1425.2,2196.8 1430.7,2237.9 1436.2,2280.9 1441.7,2326.8 1447.1,2371.6 1452.6,2416.6 1458.1,2461.5 1463.5,2503.6 1469.0,2542.5 1474.5,2576.9 1479.9,2607.7 1485.4,2634.4 1490.9,2651.4 1496.4,2664.0 1501.8,2665.0 1507.3,2658.4 1512.8,2644.3 1518.2,2620.3 1523.7,2592.1 1529.2,2559.1 1534.7,2521.7 1540.1,2481.1 1545.6,2439.9 1551.1,2397.9 1556.5,2357.7 1562.0,2320.4 1567.5,2284.7 1573.0,2252.5 1578.4,2221.5 1583.9,2194.4 1589.4,2171.1 1594.8,2151.4 1600.3,2134.9 1605.8,2123.1 1611.3,2115.2 1616.7,2109.7 1622.2,2110.7 1627.7,2116.1 1633.1,2126.3 1638.6,2140.5 1644.1,2157.8 1649.6,2178.9 1655.0,2204.1 1660.5,2230.1 1666.0,2258.8 1671.4,2288.7 1676.9,2320.3 1682.4,2351.7 1687.9,2384.4 1693.3,2418.6 1698.8,2452.2 1704.3,2482.5 1709.7,2512.9 1715.2,2538.2 1720.7,2558.2 1726.2,2571.2 1731.6,2575.6 1737.1,2573.7 1742.6,2567.6 1748.0,2559.7 1753.5,2548.3 1759.0,2533.9 1764.5,2517.2 1769.9,2499.3 1775.4,2480.8 1780.9,2458.7 1786.3,2436.7 1791.8,2415.2 1797.3,2390.6 1802.8,2367.6 1808.2,2345.9 1813.7,2323.4 1819.2,2300.4 1824.6,2280.2 1830.1,2261.9 1835.6,2244.6 1841.1,2229.8 1846.5,2216.6 1852.0,2206.6" fill="none" stroke="#00f" stroke-width="6" stroke-dasharray="21 19" stroke-linejoin="round"/>
<polyline points="210.6,2358.0 216.1,2357.7 221.5,2358.8 227.0,2357.3 232.5,2358.3 238.0,2357.5 243.4,2356.6 248.9,2357.2 254.4,2359.3 259.8,2356.7 265.3,2358.3 270.8,2358.1 276.3,2358.1 281.7,2357.4 287.2,2357.2 292.7,2359.0 298.1,2358.3 303.6,2358.3 309.1,2358.0 314.6,2356.6 320.0,2359.3 325.5,2357.2 331.0,2358.8 336.4,2357.7 341.9,2358.9 347.4,2357.9 352.9,2361.1 358.3,2362.0 363.8,2361.6 369.3,2363.1 374.7,2364.8 380.2,2364.2 385.7,2367.3 391.2,2365.6 396.6,2369.1 402.1,2369.0 407.6,2368.8 413.0,2370.3 418.5,2371.6 424.0,2371.0 429.5,2371.8 434.9,2369.7 440.4,2371.6 445.9,2369.3 451.3,2369.2 456.8,2371.4 462.3,2370.3 467.8,2371.5 473.2,2370.2 478.7,2369.8 484.2,2369.5 489.6,2369.3 495.1,2369.5 500.6,2371.3 506.1,2370.7 511.5,2370.0 517.0,2365.0 522.5,2359.6 527.9,2353.3 533.4,2349.9 538.9,2346.3 544.4,2341.9 549.8,2336.7 555.3,2332.7 560.8,2327.5 566.2,2324.2 571.7,2320.1 577.2,2317.3 582.7,2313.3 588.1,2307.9 593.6,2304.3 599.1,2302.4 604.5,2300.2 610.0,2298.5 615.5,2298.0 621.0,2299.7 626.4,2300.0 631.9,2300.3 637.4,2304.5 642.8,2306.8 648.3,2311.3 653.8,2315.0 659.2,2321.2 664.7,2326.0 670.2,2331.7 675.7,2339.0 681.1,2344.9 686.6,2354.9 692.1,2364.5 697.5,2372.4 703.0,2381.1 708.5,2391.1 714.0,2403.5 719.4,2412.1 724.9,2424.8 730.4,2434.8 735.8,2447.7 741.3,2456.8 746.8,2468.2 752.3,2477.3 757.7,2483.1 763.2,2487.6 768.7,2489.7 774.1,2488.0 779.6,2483.8 785.1,2476.9 790.6,2469.8 796.0,2459.7 801.5,2447.5 807.0,2433.4 812.4,2419.0 817.9,2401.3 823.4,2383.2 828.9,2366.3 834.3,2345.9 839.8,2325.3 845.3,2305.9 850.7,2287.5 856.2,2267.5 861.7,2251.1 867.2,2231.5 872.6,2215.5 878.1,2202.0 883.6,2189.5 889.0,2180.2 894.5,2174.0 900.0,2169.2 905.5,2165.9 910.9,2169.3 916.4,2172.8 921.9,2183.1 927.3,2193.4 932.8,2207.6 938.3,2223.4 943.8,2242.6 949.2,2262.8 954.7,2286.6 960.2,2309.8 965.6,2334.2 971.1,2359.5 976.6,2382.4 982.1,2407.7 987.5,2435.2 993.0,2457.4 998.5,2482.9 1003.9,2503.5 1009.4,2524.3 1014.9,2538.9 1020.4,2553.3 1025.8,2565.0 1031.3,2571.1 1036.8,2573.4 1042.2,2569.8 1047.7,2562.9 1053.2,2552.8 1058.7,2539.1 1064.1,2523.4 1069.6,2503.8 1075.1,2483.5 1080.5,2458.7 1086.0,2433.2 1091.5,2408.6 1097.0,2380.5 1102.4,2353.5 1107.9,2325.4 1113.4,2297.6 1118.8,2269.5 1124.3,2242.2 1129.8,2218.7 1135.3,2198.9 1140.7,2180.2 1146.2,2164.5 1151.7,2155.9 1157.1,2147.8 1162.6,2147.7 1168.1,2151.3 1173.6,2161.6 1179.0,2173.3 1184.5,2192.0 1190.0,2211.9 1195.4,2234.6 1200.9,2261.7 1206.4,2287.2 1211.9,2316.5 1217.3,2347.1 1222.8,2376.2 1228.3,2407.0 1233.7,2437.3 1239.2,2467.3 1244.7,2495.2 1250.2,2518.9 1255.6,2541.3 1261.1,2557.4 1266.6,2567.4 1272.0,2573.0 1277.5,2573.9 1283.0,2569.9 1288.5,2561.6 1293.9,2553.8 1299.4,2540.0 1304.9,2526.1 1310.3,2507.5 1315.8,2485.4 1321.3,2459.9 1326.8,2433.6 1332.2,2406.1 1337.7,2374.3 1343.2,2339.8 1348.6,2305.1 1354.1,2268.6 1359.6,2235.1 1365.1,2201.9 1370.5,2171.4 1376.0,2144.9 1381.5,2125.6 1386.9,2114.6 1392.4,2108.9 1397.9,2111.9 1403.4,2119.8 1408.8,2133.3 1414.3,2152.4 1419.8,2173.5 1425.2,2199.8 1430.7,2227.2 1436.2,2257.0 1441.7,2290.4 1447.1,2325.8 1452.6,2360.6 1458.1,2398.3 1463.5,2432.8 1469.0,2466.2 1474.5,2497.5 1479.9,2526.7 1485.4,2550.4 1490.9,2572.6 1496.4,2588.7 1501.8,2599.2 1507.3,2605.0 1512.8,2603.1 1518.2,2598.1 1523.7,2584.8 1529.2,2568.6 1534.7,2547.0 1540.1,2523.4 1545.6,2496.5 1551.1,2467.6 1556.5,2435.6 1562.0,2406.2 1567.5,2373.5 1573.0,2341.2 1578.4,2311.3 1583.9,2283.5 1589.4,2255.2 1594.8,2230.5 1600.3,2211.4 1605.8,2192.4 1611.3,2175.6 1616.7,2166.7 1622.2,2160.3 1627.7,2157.2 1633.1,2161.8 1638.6,2168.5 1644.1,2182.9 1649.6,2200.5 1655.0,2221.2 1660.5,2244.0 1666.0,2269.8 1671.4,2295.5 1676.9,2322.0 1682.4,2346.7 1687.9,2373.3 1693.3,2397.0 1698.8,2419.0 1704.3,2439.8 1709.7,2460.0 1715.2,2477.9 1720.7,2493.3 1726.2,2506.5 1731.6,2518.7 1737.1,2526.7 1742.6,2531.3 1748.0,2531.2 1753.5,2531.9 1759.0,2526.1 1764.5,2519.5 1769.9,2509.0 1775.4,2497.3 1780.9,2484.6 1786.3,2469.0 1791.8,2451.3 1797.3,2435.2 1802.8,2415.4 1808.2,2398.5 1813.7,2378.7 1819.2,2358.6 1824.6,2338.2 1830.1,2322.2 1835.6,2302.6 1841.1,2286.7 1846.5,2271.0 1852.0,2259.3" fill="none" stroke="#0f0" stroke-width="6" stroke-dasharray="6 4" stroke-linejoin="round"/>
<polyline points="210.6,2358.1 216.1,2358.7 221.5,2358.2 227.0,2359.6 232.5,2357.4 238.0,2358.6 243.4,2356.9 248.9,2357.8 254.4,2358.2 259.8,2358.1 265.3,2357.5 270.8,2358.3 276.3,2359.3 281.7,2356.9 287.2,2357.1 292.7,2357.2 298.1,2356.8 303.6,2357.9 309.1,2358.2 314.6,2357.4 320.0,2357.3 325.5,2356.7 331.0,2359.2 336.4,2358.3 341.9,2358.2 347.4,2359.2 352.9,2360.4 358.3,2361.9 363.8,2361.1 369.3,2362.8 374.7,2363.1 380.2,2364.5 385.7,2365.8 391.2,2367.8 396.6,2369.2 402.1,2368.8 407.6,2369.1 413.0,2369.8 418.5,2369.9 424.0,2371.8 429.5,2369.3 434.9,2369.8 440.4,2369.1 445.9,2370.5 451.3,2371.7 456.8,2370.1 462.3,2371.6 467.8,2370.4 473.2,2371.7 478.7,2370.3 484.2,2369.2 489.6,2371.1 495.1,2371.0 500.6,2369.2 506.1,2371.6 511.5,2369.6 517.0,2364.7 522.5,2358.7 527.9,2356.2 533.4,2349.2 538.9,2345.4 544.4,2342.6 549.8,2337.1 555.3,2334.6 560.8,2328.7 566.2,2326.6 571.7,2320.5 577.2,2318.3 582.7,2312.8 588.1,2308.3 593.6,2306.1 599.1,2304.8 604.5,2301.6 610.0,2299.9 615.5,2301.9 621.0,2300.7 626.4,2302.0 631.9,2303.6 637.4,2304.3 642.8,2308.6 648.3,2311.2 653.8,2313.5 659.2,2320.1 664.7,2325.4 670.2,2331.4 675.7,2336.8 681.1,2343.9 686.6,2353.8 692.1,2362.7 697.5,2372.4 703.0,2381.1 708.5,2389.7 714.0,2400.2 719.4,2411.1 724.9,2421.5 730.4,2433.5 735.8,2443.8 741.3,2454.1 746.8,2463.5 752.3,2472.0 757.7,2478.8 763.2,2482.5 768.7,2486.8 774.1,2483.9 779.6,2480.6 785.1,2476.8 790.6,2469.9 796.0,2460.4 801.5,2450.5 807.0,2436.2 812.4,2421.6 817.9,2408.6 823.4,2391.2 828.9,2373.2 834.3,2356.5 839.8,2338.4 845.3,2318.8 850.7,2300.4 856.2,2281.5 861.7,2262.0 867.2,2245.6 872.6,2230.4 878.1,2215.7 883.6,2202.2 889.0,2192.6 894.5,2183.8 900.0,2179.0 905.5,2175.3 910.9,2173.1 916.4,2176.9 921.9,2184.6 927.3,2194.9 932.8,2207.7 938.3,2222.6 943.8,2238.4 949.2,2257.3 954.7,2279.0 960.2,2299.3 965.6,2322.8 971.1,2347.1 976.6,2369.8 982.1,2394.0 987.5,2417.5 993.0,2441.2 998.5,2465.7 1003.9,2485.8 1009.4,2506.1 1014.9,2522.2 1020.4,2535.0 1025.8,2546.5 1031.3,2554.4 1036.8,2559.4 1042.2,2559.7 1047.7,2556.1 1053.2,2547.3 1058.7,2536.3 1064.1,2520.1 1069.6,2502.8 1075.1,2485.5 1080.5,2463.8 1086.0,2441.0 1091.5,2418.0 1097.0,2391.2 1102.4,2366.8 1107.9,2339.7 1113.4,2313.7 1118.8,2286.9 1124.3,2262.2 1129.8,2240.1 1135.3,2219.3 1140.7,2200.6 1146.2,2186.0 1151.7,2176.5 1157.1,2166.5 1162.6,2165.5 1168.1,2165.5 1173.6,2173.1 1179.0,2184.4 1184.5,2198.1 1190.0,2214.9 1195.4,2234.8 1200.9,2257.6 1206.4,2280.4 1211.9,2305.8 1217.3,2332.9 1222.8,2362.2 1228.3,2390.6 1233.7,2416.2 1239.2,2447.0 1244.7,2471.2 1250.2,2496.0 1255.6,2519.0 1261.1,2534.7 1266.6,2550.1 1272.0,2556.7 1277.5,2556.8 1283.0,2555.6 1288.5,2552.0 1293.9,2541.9 1299.4,2534.1 1304.9,2520.2 1310.3,2503.3 1315.8,2485.9 1321.3,2465.0 1326.8,2442.7 1332.2,2415.1 1337.7,2387.1 1343.2,2357.5 1348.6,2323.7 1354.1,2291.2 1359.6,2256.8 1365.1,2223.3 1370.5,2193.7 1376.0,2169.0 1381.5,2147.8 1386.9,2131.7 1392.4,2123.7 1397.9,2123.7 1403.4,2131.1 1408.8,2140.4 1414.3,2156.8 1419.8,2176.2 1425.2,2196.5 1430.7,2222.1 1436.2,2251.0 1441.7,2281.9 1447.1,2312.2 1452.6,2345.6 1458.1,2380.1 1463.5,2411.4 1469.0,2442.6 1474.5,2473.4 1479.9,2501.2 1485.4,2526.2 1490.9,2547.8 1496.4,2566.5 1501.8,2581.4 1507.3,2587.0 1512.8,2591.2 1518.2,2587.4 1523.7,2578.2 1529.2,2564.7 1534.7,2548.7 1540.1,2525.2 1545.6,2502.0 1551.1,2475.5 1556.5,2448.2 1562.0,2419.3 1567.5,2388.8 1573.0,2357.3 1578.4,2328.9 1583.9,2300.0 1589.4,2274.7 1594.8,2249.4 1600.3,2227.3 1605.8,2208.7 1611.3,2192.8 1616.7,2180.5 1622.2,2171.8 1627.7,2165.6 1633.1,2165.2 1638.6,2169.8 1644.1,2179.8 1649.6,2195.3 1655.0,2213.8 1660.5,2235.5 1666.0,2258.1 1671.4,2284.8 1676.9,2310.7 1682.4,2335.9 1687.9,2360.8 1693.3,2386.0 1698.8,2408.7 1704.3,2428.9 1709.7,2449.5 1715.2,2467.9 1720.7,2484.0 1726.2,2498.9 1731.6,2511.4 1737.1,2520.2 1742.6,2526.2 1748.0,2527.2 1753.5,2526.0 1759.0,2522.1 1764.5,2515.7 1769.9,2508.2 1775.4,2496.6 1780.9,2483.6 1786.3,2470.5 1791.8,2454.3 1797.3,2438.4 1802.8,2419.8 1808.2,2402.2 1813.7,2383.5 1819.2,2362.9 1824.6,2345.5 1830.1,2328.4 1835.6,2310.5 1841.1,2293.5 1846.5,2279.2 1852.0,2264.0" fill="none" stroke="#0ff" stroke-width="6" stroke-dasharray="21 4 11 4" stroke-linejoin="round"/>
<polyline points="210.6,2354.6 216.1,2358.7 221.5,2358.7 227.0,2359.6 232.5,2358.0 238.0,2361.0 243.4,2357.3 248.9,2357.3 254.4,2354.8 259.8,2357.1 265.3,2355.0 270.8,2360.8 276.3,2359.4 281.7,2359.6 287.2,2358.2 292.7,2354.9 298.1,2355.3 303.6,2354.5 309.1,2355.0 314.6,2358.3 320.0,2360.8 325.5,2357.9 331.0,2359.5 336.4,2358.0 341.9,2355.3 347.4,2355.8 352.9,2357.5 358.3,2361.5 363.8,2362.4 369.3,2360.7 374.7,2363.7 380.2,2366.7 385.7,2363.1 391.2,2366.2 396.6,2371.0 402.1,2369.5 407.6,2373.5 413.0,2372.6 418.5,2367.0 424.0,2368.0 429.5,2366.9 434.9,2371.7 440.4,2368.8 445.9,2368.0 451.3,2373.9 456.8,2373.7 462.3,2370.3 467.8,2374.0 473.2,2367.8 478.7,2372.8 484.2,2373.9 489.6,2367.3 495.1,2369.9 500.6,2366.8 506.1,2371.9 511.5,2370.3 517.0,2367.9 522.5,2362.7 527.9,2355.1 533.4,2347.3 538.9,2343.1 544.4,2342.4 549.8,2342.1 555.3,2336.3 560.8,2331.7 566.2,2329.8 571.7,2319.3 577.2,2321.0 582.7,2315.0 588.1,2310.1 593.6,2311.2 599.1,2308.1 604.5,2306.2 610.0,2301.7 615.5,2305.4 621.0,2299.7 626.4,2300.8 631.9,2300.7 637.4,2303.4 642.8,2307.5 648.3,2310.6 653.8,2312.5 659.2,2322.3 664.7,2321.0 670.2,2329.6 675.7,2335.9 681.1,2342.2 686.6,2352.1 692.1,2357.2 697.5,2372.6 703.0,2381.1 708.5,2386.0 714.0,2394.3 719.4,2410.9 724.9,2422.5 730.4,2429.1 735.8,2439.2 741.3,2455.2 746.8,2462.2 752.3,2467.0 757.7,2477.0 763.2,2482.6 768.7,2480.4 774.1,2486.4 779.6,2479.9 785.1,2473.1 790.6,2465.2 796.0,2463.2 801.5,2446.3 807.0,2440.6 812.4,2422.1 817.9,2413.7 823.4,2393.6 828.9,2379.8 834.3,2364.1 839.8,2342.7 845.3,2323.1 850.7,2304.0 856.2,2286.8 861.7,2272.2 867.2,2254.1 872.6,2236.0 878.1,2224.2 883.6,2215.2 889.0,2200.1 894.5,2189.8 900.0,2188.5 905.5,2182.8 910.9,2180.3 916.4,2184.8 921.9,2187.1 927.3,2201.5 932.8,2209.5 938.3,2219.5 943.8,2241.9 949.2,2258.0 954.7,2277.5 960.2,2293.7 965.6,2317.5 971.1,2338.4 976.6,2361.5 982.1,2386.4 987.5,2410.2 993.0,2434.8 998.5,2453.7 1003.9,2474.5 1009.4,2490.7 1014.9,2508.8 1020.4,2525.4 1025.8,2535.6 1031.3,2546.6 1036.8,2544.9 1042.2,2546.0 1047.7,2546.8 1053.2,2540.1 1058.7,2525.3 1064.1,2518.0 1069.6,2497.6 1075.1,2479.2 1080.5,2463.0 1086.0,2439.3 1091.5,2416.4 1097.0,2396.6 1102.4,2370.2 1107.9,2349.3 1113.4,2321.8 1118.8,2296.6 1124.3,2278.8 1129.8,2255.0 1135.3,2231.4 1140.7,2220.4 1146.2,2202.6 1151.7,2192.0 1157.1,2182.8 1162.6,2176.3 1168.1,2183.1 1173.6,2188.1 1179.0,2197.9 1184.5,2203.7 1190.0,2224.3 1195.4,2240.3 1200.9,2261.3 1206.4,2279.0 1211.9,2303.4 1217.3,2333.4 1222.8,2356.2 1228.3,2381.1 1233.7,2407.6 1239.2,2435.1 1244.7,2455.5 1250.2,2482.0 1255.6,2501.6 1261.1,2516.7 1266.6,2530.3 1272.0,2540.1 1277.5,2540.5 1283.0,2544.4 1288.5,2534.6 1293.9,2529.4 1299.4,2520.7 1304.9,2512.8 1310.3,2494.3 1315.8,2483.6 1321.3,2459.2 1326.8,2440.5 1332.2,2417.5 1337.7,2392.9 1343.2,2365.5 1348.6,2334.6 1354.1,2304.5 1359.6,2273.1 1365.1,2240.2 1370.5,2209.8 1376.0,2183.9 1381.5,2165.0 1386.9,2149.1 1392.4,2138.3 1397.9,2136.1 1403.4,2144.3 1408.8,2153.3 1414.3,2160.7 1419.8,2184.8 1425.2,2198.1 1430.7,2224.7 1436.2,2250.7 1441.7,2278.4 1447.1,2308.0 1452.6,2340.3 1458.1,2370.3 1463.5,2398.9 1469.0,2435.0 1474.5,2459.7 1479.9,2488.2 1485.4,2514.2 1490.9,2529.4 1496.4,2550.4 1501.8,2566.3 1507.3,2569.7 1512.8,2578.5 1518.2,2578.7 1523.7,2570.2 1529.2,2558.1 1534.7,2541.9 1540.1,2524.6 1545.6,2501.2 1551.1,2479.9 1556.5,2449.3 1562.0,2421.4 1567.5,2391.2 1573.0,2362.8 1578.4,2340.5 1583.9,2310.7 1589.4,2284.8 1594.8,2258.3 1600.3,2239.9 1605.8,2221.1 1611.3,2204.8 1616.7,2188.3 1622.2,2183.0 1627.7,2173.9 1633.1,2170.9 1638.6,2177.2 1644.1,2180.0 1649.6,2199.5 1655.0,2210.3 1660.5,2233.4 1666.0,2257.8 1671.4,2280.2 1676.9,2301.8 1682.4,2333.8 1687.9,2357.7 1693.3,2377.6 1698.8,2399.9 1704.3,2421.6 1709.7,2440.8 1715.2,2460.1 1720.7,2476.6 1726.2,2494.6 1731.6,2505.1 1737.1,2515.3 1742.6,2519.9 1748.0,2526.8 1753.5,2519.9 1759.0,2523.0 1764.5,2511.6 1769.9,2503.6 1775.4,2491.3 1780.9,2480.7 1786.3,2468.1 1791.8,2457.2 1797.3,2436.8 1802.8,2421.5 1808.2,2399.4 1813.7,2384.0 1819.2,2363.3 1824.6,2347.3 1830.1,2328.6 1835.6,2311.8 1841.1,2300.1 1846.5,2284.1 1852.0,2271.4" fill="none" stroke="#f0f" stroke-width="6" stroke-linejoin="round"/>
<path d="M203.1,2354.6a7.5,7.5 0 1,0 15.0,0a7.5,7.5 0 1,0 -15.0,0M208.6,2358.7a7.5,7.5 0 1,0 15.0,0a7.5,7.5 0 1,0 -15.0,0M214.0,2358.7a7.5,7.5 0 1,0 15.0,0a7.5,7.5 0 1,0 -15.0,0M219.5,2359.6a7.5,7.5 0 1,0 15.0,0a7.5,7.5 0 1,0 -15.0,0M225.0,2358.0a7.5,7.5 0 1,0 15.0,0a7.5,7.5 0 1,0 -15.0,0M230.5,2361.0a7.5,7.5 0 1,0 15.0,0a7.5,7.5 0 1,0 -15.0,0M235.9,2357.3a7.5,7.5 0 1,0 15.0,0a7.5,7.5 0 1,0 -15.0,0M241.4,2357.3a7.5,7.5 0 1,0 15.0,0a7.5,7.5 0 1,0 -15.0,0M246.9,2354.8a7.5,7.5 0 1,0 15.0,0a7.5,7.5 0 1,0 -15.0,0M252.3,2357.1a7.5,7.5 0 1,0 15.0,0a7.5,7.5 0 1,0 -15.0,0M257.8,2355.0a7.5,7.5 0 1,0 15.0,0a7.5,7.5 0 1,0 -15.0,0M263.3,2360.8a7.5,7.5 0 1,0 15.0,0a7.5,7.5 0 1,0 -15.0,0M268.8,2359.4a7.5,7.5 0 1,0 15.0,0a7.5,7.5 0 1,0 -15.0,0M274.2,2359.6a7.5,7.5 0 1,0 15.0,0a7.5,7.5 0 1,0 -15.0,0M279.7,2358.2a7.5,7.5 0 1,0 15.0,0a7.5,7.5 0 1,0 -15.0,0M285.2,2354.9a7.5,7.5 0 1,0 15.0,0a7.5,7.5 0 1,0 -15.0,0M290.6,2355.3a7.5,7.5 0 1,0 15.0,0a7.5,7.5 0 1,0 -15.0,0M296.1,2354.5a7.5,7.5 0 1,0 15.0,0a7.5,7.5 0 1,0 -15.0,0M301.6,2355.0a7.5,7.5 0 1,0 15.0,0a7.5,7.5 0 1,0 -15.0,0M307.1,2358.3a7.5,7.5 0 1,0 15.0,0a7.5,7.5 0 1,0 -15.0,0M312.5,2360.8a7.5,7.5 0 1,0 15.0,0a7.5,7.5 0 1,0 -15.0,0M318.0,2357.9a7.5,7.5 0 1,0 15.0,0a7.5,7.5 0 1,0 -15.0,0M323.5,2359.5a7.5,7.5 0 1,0 15.0,0a7.5,7.5 0 1,0 -15.0,0M328.9,2358.0a7.5,7.5 0 1,0 15.0,0a7.5,7.5 0 1,0 -15.0,0M334.4,2355.3a7.5,7.5 0 1,0 15.0,0a7.5,7.5 0 1,0 -15.0,0M339.9,2355.8a7.5,7.5 0 1,0 15.0,0a7.5,7.5 0 1,0 -15.0,0M345.4,2357.5a7.5,7.5 0 1,0 15.0,0a7.5,7.5 0 1,0 -15.0,0M350.8,2361.5a7.5,7.5 0 1,0 15.0,0a7.5,7.5 0 1,0 -15.0,0M356.3,2362.4a7.5,7.5 0 1,0 15.0,0a7.5,7.5 0 1,0 -15.0,0M361.8,2360.7a7.5,7.5 0 1,0 15.0,0a7.5,7.5 0 1,0 -15.0,0M367.2,2363.7a7.5,7.5 0 1,0 15.0,0a7.5,7.5 0 1,0 -15.0,0M372.7,2366.7a7.5,7.5 0 1,0 15.0,0a7.5,7.5 0 1,0 -15.0,0M378.2,2363.1a7.5,7.5 0 1,0 15.0,0a7.5,7.5 0 1,0 -15.0,0M383.7,2366.2a7.5,7.5 0 1,0 15.0,0a7.5,7.5 0 1,0 -15.0,0M389.1,2371.0a7.5,7.5 0 1,0 15.0,0a7.5,7.5 0 1,0 -15.0,0M394.6,2369.5a7.5,7.5 0 1,0 15.0,0a7.5,7.5 0 1,0 -15.0,0M400.1,2373.5a7.5,7.5 0 1,0 15.0,0a7.5,7.5 0 1,0 -15.0,0M405.5,2372.6a7.5,7.5 0 1,0 15.0,0a7.5,7.5 0 1,0 -15.0,0M411.0,2367.0a7.5,7.5 0 1,0 15.0,0a7.5,7.5 0 1,0 -15.0,0M416.5,2368.0a7.5,7.5 0 1,0 15.0,0a7.5,7.5 0 1,0 -15.0,0M422.0,2366.9a7.5,7.5 0 1,0 15.0,0a7.5,7.5 0 1,0 -15.0,0M427.4,2371.7a7.5,7.5 0 1,0 15.0,0a7.5,7.5 0 1,0 -15.0,0M432.9,2368.8a7.5,7.5 0 1,0 15.0,0a7.5,7.5 0 1,0 -15.0,0M438.4,2368.0a7.5,7.5 0 1,0 15.0,0a7.5,7.5 0 1,0 -15.0,0M443.8,2373.9a7.5,7.5 0 1,0 15.0,0a7.5,7.5 0 1,0 -15.0,0M449.3,2373.7a7.5,7.5 0 1,0 15.0,0a7.5,7.5 0 1,0 -15.0,0M454.8,2370.3a7.5,7.5 0 1,0 15.0,0a7.5,7.5 0 1,0 -15.0,0M460.3,2374.0a7.5,7.5 0 1,0 15.0,0a7.5,7.5 0 1,0 -15.0,0M465.7,2367.8a7.5,7.5 0 1,0 15.0,0a7.5,7.5 0 1,0 -15.0,0M471.2,2372.8a7.5,7.5 0 1,0 15.0,0a7.5,7.5 0 1,0 -15.0,0M476.7,2373.9a7.5,7.5 0 1,0 15.0,0a7.5,7.5 0 1,0 -15.0,0M482.1,2367.3a7.5,7.5 0 1,0 15.0,0a7.5,7.5 0 1,0 -15.0,0M487.6,2369.9a7.5,7.5 0 1,0 15.0,0a7.5,7.5 0 1,0 -15.0,0M493.1,2366.8a7.5,7.5 0 1,0 15.0,0a7.5,7.5 0 1,0 -15.0,0M498.6,2371.9a7.5,7.5 0 1,0 15.0,0a7.5,7.5 0 1,0 -15.0,0M504.0,2370.3a7.5,7.5 0 1,0 15.0,0a7.5,7.5 0 1,0 -15.0,0M509.5,2367.9a7.5,7.5 0 1,0 15.0,0a7.5,7.5 0 1,0 -15.0,0M515.0,2362.7a7.5,7.5 0 1,0 15.0,0a7.5,7.5 0 1,0 -15.0,0M520.4,2355.1a7.5,7.5 0 1,0 15.0,0a7.5,7.5 0 1,0 -15.0,0M525.9,2347.3a7.5,7.5 0 1,0 15.0,0a7.5,7.5 0 1,0 -15.0,0M531.4,2343.1a7.5,7.5 0 1,0 15.0,0a7.5,7.5 0 1,0 -15.0,0M536.9,2342.4a7.5,7.5 0 1,0 15.0,0a7.5,7.5 0 1,0 -15.0,0M542.3,2342.1a7.5,7.5 0 1,0 15.0,0a7.5,7.5 0 1,0 -15.0,0M547.8,2336.3a7.5,7.5 0 1,0 15.0,0a7.5,7.5 0 1,0 -15.0,0M553.3,2331.7a7.5,7.5 0 1,0 15.0,0a7.5,7.5 0 1,0 -15.0,0M558.7,2329.8a7.5,7.5 0 1,0 15.0,0a7.5,7.5 0 1,0 -15.0,0M564.2,2319.3a7.5,7.5 0 1,0 15.0,0a7.5,7.5 0 1,0 -15.0,0M569.7,2321.0a7.5,7.5 0 1,0 15.0,0a7.5,7.5 0 1,0 -15.0,0M575.2,2315.0a7.5,7.5 0 1,0 15.0,0a7.5,7.5 0 1,0 -15.0,0M580.6,2310.1a7.5,7.5 0 1,0 15.0,0a7.5,7.5 0 1,0 -15.0,0M586.1,2311.2a7.5,7.5 0 1,0 15.0,0a7.5,7.5 0 1,0 -15.0,0M591.6,2308.1a7.5,7.5 0 1,0 15.0,0a7.5,7.5 0 1,0 -15.0,0M597.0,2306.2a7.5,7.5 0 1,0 15.0,0a7.5,7.5 0 1,0 -15.0,0M602.5,2301.7a7.5,7.5 0 1,0 15.0,0a7.5,7.5 0 1,0 -15.0,0M608.0,2305.4a7.5,7.5 0 1,0 15.0,0a7.5,7.5 0 1,0 -15.0,0M613.5,2299.7a7.5,7.5 0 1,0 15.0,0a7.5,7.5 0 1,0 -15.0,0M618.9,2300.8a7.5,7.5 0 1,0 15.0,0a7.5,7.5 0 1,0 -15.0,0M624.4,2300.7a7.5,7.5 0 1,0 15.0,0a7.5,7.5 0 1,0 -15.0,0M629.9,2303.4a7.5,7.5 0 1,0 15.0,0a7.5,7.5 0 1,0 -15.0,0M635.3,2307.5a7.5,7.5 0 1,0 15.0,0a7.5,7.5 0 1,0 -15.0,0M640.8,2310.6a7.5,7.5 0 1,0 15.0,0a7.5,7.5 0 1,0 -15.0,0M646.3,2312.5a7.5,7.5 0 1,0 15.0,0a7.5,7.5 0 1,0 -15.0,0M651.7,2322.3a7.5,7.5 0 1,0 15.0,0a7.5,7.5 0 1,0 -15.0,0M657.2,2321.0a7.5,7.5 0 1,0 15.0,0a7.5,7.5 0 1,0 -15.0,0M662.7,2329.6a7.5,7.5 0 1,0 15.0,0a7.5,7.5 0 1,0 -15.0,0M668.2,2335.9a7.5,7.5 0 1,0 15.0,0a7.5,7.5 0 1,0 -15.0,0M673.6,2342.2a7.5,7.5 0 1,0 15.0,0a7.5,7.5 0 1,0 -15.0,0M679.1,2352.1a7.5,7.5 0 1,0 15.0,0a7.5,7.5 0 1,0 -15.0,0M684.6,2357.2a7.5,7.5 0 1,0 15.0,0a7.5,7.5 0 1,0 -15.0,0M690.0,2372.6a7.5,7.5 0 1,0 15.0,0a7.5,7.5 0 1,0 -15.0,0M695.5,2381.1a7.5,7.5 0 1,0 15.0,0a7.5,7.5 0 1,0 -15.0,0M701.0,2386.0a7.5,7.5 0 1,0 15.0,0a7.5,7.5 0 1,0 -15.0,0M706.5,2394.3a7.5,7.5 0 1,0 15.0,0a7.5,7.5 0 1,0 -15.0,0M711.9,2410.9a7.5,7.5 0 1,0 15.0,0a7.5,7.5 0 1,0 -15.0,0M717.4,2422.5a7.5,7.5 0 1,0 15.0,0a7.5,7.5 0 1,0 -15.0,0M722.9,2429.1a7.5,7.5 0 1,0 15.0,0a7.5,7.5 0 1,0 -15.0,0M728.3,2439.2a7.5,7.5 0 1,0 15.0,0a7.5,7.5 0 1,0 -15.0,0M733.8,2455.2a7.5,7.5 0 1,0 15.0,0a7.5,7.5 0 1,0 -15.0,0M739.3,2462.2a7.5,7.5 0 1,0 15.0,0a7.5,7.5 0 1,0 -15.0,0M744.8,2467.0a7.5,7.5 0 1,0 15.0,0a7.5,7.5 0 1,0 -15.0,0M750.2,2477.0a7.5,7.5 0 1,0 15.0,0a7.5,7.5 0 1,0 -15.0,0M755.7,2482.6a7.5,7.5 0 1,0 15.0,0a7.5,7.5 0 1,0 -15.0,0M761.2,2480.4a7.5,7.5 0 1,0 15.0,0a7.5,7.5 0 1,0 -15.0,0M766.6,2486.4a7.5,7.5 0 1,0 15.0,0a7.5,7.5 0 1,0 -15.0,0M772.1,2479.9a7.5,7.5 0 1,0 15.0,0a7.5,7.5 0 1,0 -15.0,0M777.6,2473.1a7.5,7.5 0 1,0 15.0,0a7.5,7.5 0 1,0 -15.0,0M783.1,2465.2a7.5,7.5 0 1,0 15.0,0a7.5,7.5 0 1,0 -15.0,0M788.5,2463.2a7.5,7.5 0 1,0 15.0,0a7.5,7.5 0 1,0 -15.0,0M794.0,2446.3a7.5,7.5 0 1,0 15.0,0a7.5,7.5 0 1,0 -15.0,0M799.5,2440.6a7.5,7.5 0 1,0 15.0,0a7.5,7.5 0 1,0 -15.0,0M804.9,2422.1a7.5,7.5 0 1,0 15.0,0a7.5,7.5 0 1,0 -15.0,0M810.4,2413.7a7.5,7.5 0 1,0 15.0,0a7.5,7.5 0 1,0 -15.0,0M815.9,2393.6a7.5,7.5 0 1,0 15.0,0a7.5,7.5 0 1,0 -15.0,0M821.4,2379.8a7.5,7.5 0 1,0 15.0,0a7.5,7.5 0 1,0 -15.0,0M826.8,2364.1a7.5,7.5 0 1,0 15.0,0a7.5,7.5 0 1,0 -15.0,0M832.3,2342.7a7.5,7.5 0 1,0 15.0,0a7.5,7.5 0 1,0 -15.0,0M837.8,2323.1a7.5,7.5 0 1,0 15.0,0a7.5,7.5 0 1,0 -15.0,0M843.2,2304.0a7.5,7.5 0 1,0 15.0,0a7.5,7.5 0 1,0 -15.0,0M848.7,2286.8a7.5,7.5 0 1,0 15.0,0a7.5,7.5 0 1,0 -15.0,0M854.2,2272.2a7.5,7.5 0 1,0 15.0,0a7.5,7.5 0 1,0 -15.0,0M859.7,2254.1a7.5,7.5 0 1,0 15.0,0a7.5,7.5 0 1,0 -15.0,0M865.1,2236.0a7.5,7.5 0 1,0 15.0,0a7.5,7.5 0 1,0 -15.0,0M870.6,2224.2a7.5,7.5 0 1,0 15.0,0a7.5,7.5 0 1,0 -15.0,0M876.1,2215.2a7.5,7.5 0 1,0 15.0,0a7.5,7.5 0 1,0 -15.0,0M881.5,2200.1a7.5,7.5 0 1,0 15.0,0a7.5,7.5 0 1,0 -15.0,0M887.0,2189.8a7.5,7.5 0 1,0 15.0,0a7.5,7.5 0 1,0 -15.0,0M892.5,2188.5a7.5,7.5 0 1,0 15.0,0a7.5,7.5 0 1,0 -15.0,0M898.0,2182.8a7.5,7.5 0 1,0 15.0,0a7.5,7.5 0 1,0 -15.0,0M903.4,2180.3a7.5,7.5 0 1,0 15.0,0a7.5,7.5 0 1,0 -15.0,0M908.9,2184.8a7.5,7.5 0 1,0 15.0,0a7.5,7.5 0 1,0 -15.0,0M914.4,2187.1a7.5,7.5 0 1,0 15.0,0a7.5,7.5 0 1,0 -15.0,0M919.8,2201.5a7.5,7.5 0 1,0 15.0,0a7.5,7.5 0 1,0 -15.0,0M925.3,2209.5a7.5,7.5 0 1,0 15.0,0a7.5,7.5 0 1,0 -15.0,0M930.8,2219.5a7.5,7.5 0 1,0 15.0,0a7.5,7.5 0 1,0 -15.0,0M936.3,2241.9a7.5,7.5 0 1,0 15.0,0a7.5,7.5 0 1,0 -15.0,0M941.7,2258.0a7.5,7.5 0 1,0 15.0,0a7.5,7.5 0 1,0 -15.0,0M947.2,2277.5a7.5,7.5 0 1,0 15.0,0a7.5,7.5 0 1,0 -15.0,0M952.7,2293.7a7.5,7.5 0 1,0 15.0,0a7.5,7.5 0 1,0 -15.0,0M958.1,2317.5a7.5,7.5 0 1,0 15.0,0a7.5,7.5 0 1,0 -15.0,0M963.6,2338.4a7.5,7.5 0 1,0 15.0,0a7.5,7.5 0 1,0 -15.0,0M969.1,2361.5a7.5,7.5 0 1,0 15.0,0a7.5,7.5 0 1,0 -15.0,0M974.6,2386.4a7.5,7.5 0 1,0 15.0,0a7.5,7.5 0 1,0 -15.0,0M980.0,2410.2a7.5,7.5 0 1,0 15.0,0a7.5,7.5 0 1,0 -15.0,0M985.5,2434.8a7.5,7.5 0 1,0 15.0,0a7.5,7.5 0 1,0 -15.0,0M991.0,2453.7a7.5,7.5 0 1,0 15.0,0a7.5,7.5 0 1,0 -15.0,0M996.4,2474.5a7.5,7.5 0 1,0 15.0,0a7.5,7.5 0 1,0 -15.0,0M1001.9,2490.7a7.5,7.5 0 1,0 15.0,0a7.5,7.5 0 1,0 -15.0,0M1007.4,2508.8a7.5,7.5 0 1,0 15.0,0a7.5,7.5 0 1,0 -15.0,0M1012.9,2525.4a7.5,7.5 0 1,0 15.0,0a7.5,7.5 0 1,0 -15.0,0M1018.3,2535.6a7.5,7.5 0 1,0 15.0,0a7.5,7.5 0 1,0 -15.0,0M1023.8,2546.6a7.5,7.5 0 1,0 15.0,0a7.5,7.5 0 1,0 -15.0,0M1029.3,2544.9a7.5,7.5 0 1,0 15.0,0a7.5,7.5 0 1,0 -15.0,0M1034.7,2546.0a7.5,7.5 0 1,0 15.0,0a7.5,7.5 0 1,0 -15.0,0M1040.2,2546.8a7.5,7.5 0 1,0 15.0,0a7.5,7.5 0 1,0 -15.0,0M1045.7,2540.1a7.5,7.5 0 1,0 15.0,0a7.5,7.5 0 1,0 -15.0,0M1051.2,2525.3a7.5,7.5 0 1,0 15.0,0a7.5,7.5 0 1,0 -15.0,0M1056.6,2518.0a7.5,7.5 0 1,0 15.0,0a7.5,7.5 0 1,0 -15.0,0M1062.1,2497.6a7.5,7.5 0 1,0 15.0,0a7.5,7.5 0 1,0 -15.0,0M1067.6,2479.2a7.5,7.5 0 1,0 15.0,0a7.5,7.5 0 1,0 -15.0,0M1073.0,2463.0a7.5,7.5 0 1,0 15.0,0a7.5,7.5 0 1,0 -15.0,0M1078.5,2439.3a7.5,7.5 0 1,0 15.0,0a7.5,7.5 0 1,0 -15.0,0M1084.0,2416.4a7.5,7.5 0 1,0 15.0,0a7.5,7.5 0 1,0 -15.0,0M1089.5,2396.6a7.5,7.5 0 1,0 15.0,0a7.5,7.5 0 1,0 -15.0,0M1094.9,2370.2a7.5,7.5 0 1,0 15.0,0a7.5,7.5 0 1,0 -15.0,0M1100.4,2349.3a7.5,7.5 0 1,0 15.0,0a7.5,7.5 0 1,0 -15.0,0M1105.9,2321.8a7.5,7.5 0 1,0 15.0,0a7.5,7.5 0 1,0 -15.0,0M1111.3,2296.6a7.5,7.5 0 1,0 15.0,0a7.5,7.5 0 1,0 -15.0,0M1116.8,2278.8a7.5,7.5 0 1,0 15.0,0a7.5,7.5 0 1,0 -15.0,0M1122.3,2255.0a7.5,7.5 0 1,0 15.0,0a7.5,7.5 0 1,0 -15.0,0M1127.8,2231.4a7.5,7.5 0 1,0 15.0,0a7.5,7.5 0 1,0 -15.0,0M1133.2,2220.4a7.5,7.5 0 1,0 15.0,0a7.5,7.5 0 1,0 -15.0,0M1138.7,2202.6a7.5,7.5 0 1,0 15.0,0a7.5,7.5 0 1,0 -15.0,0M1144.2,2192.0a7.5,7.5 0 1,0 15.0,0a7.5,7.5 0 1,0 -15.0,0M1149.6,2182.8a7.5,7.5 0 1,0 15.0,0a7.5,7.5 0 1,0 -15.0,0M1155.1,2176.3a7.5,7.5 0 1,0 15.0,0a7.5,7.5 0 1,0 -15.0,0M1160.6,2183.1a7.5,7.5 0 1,0 15.0,0a7.5,7.5 0 1,0 -15.0,0M1166.1,2188.1a7.5,7.5 0 1,0 15.0,0a7.5,7.5 0 1,0 -15.0,0M1171.5,2197.9a7.5,7.5 0 1,0 15.0,0a7.5,7.5 0 1,0 -15.0,0M1177.0,2203.7a7.5,7.5 0 1,0 15.0,0a7.5,7.5 0 1,0 -15.0,0M1182.5,2224.3a7.5,7.5 0 1,0 15.0,0a7.5,7.5 0 1,0 -15.0,0M1187.9,2240.3a7.5,7.5 0 1,0 15.0,0a7.5,7.5 0 1,0 -15.0,0M1193.4,2261.3a7.5,7.5 0 1,0 15.0,0a7.5,7.5 0 1,0 -15.0,0M1198.9,2279.0a7.5,7.5 0 1,0 15.0,0a7.5,7.5 0 1,0 -15.0,0M1204.4,2303.4a7.5,7.5 0 1,0 15.0,0a7.5,7.5 0 1,0 -15.0,0M1209.8,2333.4a7.5,7.5 0 1,0 15.0,0a7.5,7.5 0 1,0 -15.0,0M1215.3,2356.2a7.5,7.5 0 1,0 15.0,0a7.5,7.5 0 1,0 -15.0,0M1220.8,2381.1a7.5,7.5 0 1,0 15.0,0a7.5,7.5 0 1,0 -15.0,0M1226.2,2407.6a7.5,7.5 0 1,0 15.0,0a7.5,7.5 0 1,0 -15.0,0M1231.7,2435.1a7.5,7.5 0 1,0 15.0,0a7.5,7.5 0 1,0 -15.0,0M1237.2,2455.5a7.5,7.5 0 1,0 15.0,0a7.5,7.5 0 1,0 -15.0,0M1242.7,2482.0a7.5,7.5 0 1,0 15.0,0a7.5,7.5 0 1,0 -15.0,0M1248.1,2501.6a7.5,7.5 0 1,0 15.0,0a7.5,7.5 0 1,0 -15.0,0M1253.6,2516.7a7.5,7.5 0 1,0 15.0,0a7.5,7.5 0 1,0 -15.0,0M1259.1,2530.3a7.5,7.5 0 1,0 15.0,0a7.5,7.5 0 1,0 -15.0,0M1264.5,2540.1a7.5,7.5 0 1,0 15.0,0a7.5,7.5 0 1,0 -15.0,0M1270.0,2540.5a7.5,7.5 0 1,0 15.0,0a7.5,7.5 0 1,0 -15.0,0M1275.5,2544.4a7.5,7.5 0 1,0 15.0,0a7.5,7.5 0 1,0 -15.0,0M1281.0,2534.6a7.5,7.5 0 1,0 15.0,0a7.5,7.5 0 1,0 -15.0,0M1286.4,2529.4a7.5,7.5 0 1,0 15.0,0a7.5,7.5 0 1,0 -15.0,0M1291.9,2520.7a7.5,7.5 0 1,0 15.0,0a7.5,7.5 0 1,0 -15.0,0M1297.4,2512.8a7.5,7.5 0 1,0 15.0,0a7.5,7.5 0 1,0 -15.0,0M1302.8,2494.3a7.5,7.5 0 1,0 15.0,0a7.5,7.5 0 1,0 -15.0,0M1308.3,2483.6a7.5,7.5 0 1,0 15.0,0a7.5,7.5 0 1,0 -15.0,0M1313.8,2459.2a7.5,7.5 0 1,0 15.0,0a7.5,7.5 0 1,0 -15.0,0M1319.3,2440.5a7.5,7.5 0 1,0 15.0,0a7.5,7.5 0 1,0 -15.0,0M1324.7,2417.5a7.5,7.5 0 1,0 15.0,0a7.5,7.5 0 1,0 -15.0,0M1330.2,2392.9a7.5,7.5 0 1,0 15.0,0a7.5,7.5 0 1,0 -15.0,0M1335.7,2365.5a7.5,7.5 0 1,0 15.0,0a7.5,7.5 0 1,0 -15.0,0M1341.1,2334.6a7.5,7.5 0 1,0 15.0,0a7.5,7.5 0 1,0 -15.0,0M1346.6,2304.5a7.5,7.5 0 1,0 15.0,0a7.5,7.5 0 1,0 -15.0,0M1352.1,2273.1a7.5,7.5 0 1,0 15.0,0a7.5,7.5 0 1,0 -15.0,0M1357.6,2240.2a7.5,7.5 0 1,0 15.0,0a7.5,7.5 0 1,0 -15.0,0M1363.0,2209.8a7.5,7.5 0 1,0 15.0,0a7.5,7.5 0 1,0 -15.0,0M1368.5,2183.9a7.5,7.5 0 1,0 15.0,0a7.5,7.5 0 1,0 -15.0,0M1374.0,2165.0a7.5,7.5 0 1,0 15.0,0a7.5,7.5 0 1,0 -15.0,0M1379.4,2149.1a7.5,7.5 0 1,0 15.0,0a7.5,7.5 0 1,0 -15.0,0M1384.9,2138.3a7.5,7.5 0 1,0 15.0,0a7.5,7.5 0 1,0 -15.0,0M1390.4,2136.1a7.5,7.5 0 1,0 15.0,0a7.5,7.5 0 1,0 -15.0,0M1395.9,2144.3a7.5,7.5 0 1,0 15.0,0a7.5,7.5 0 1,0 -15.0,0M1401.3,2153.3a7.5,7.5 0 1,0 15.0,0a7.5,7.5 0 1,0 -15.0,0M1406.8,2160.7a7.5,7.5 0 1,0 15.0,0a7.5,7.5 0 1,0 -15.0,0M1412.3,2184.8a7.5,7.5 0 1,0 15.0,0a7.5,7.5 0 1,0 -15.0,0M1417.7,2198.1a7.5,7.5 0 1,0 15.0,0a7.5,7.5 0 1,0 -15.0,0M1423.2,2224.7a7.5,7.5 0 1,0 15.0,0a7.5,7.5 0 1,0 -15.0,0M1428.7,2250.7a7.5,7.5 0 1,0 15.0,0a7.5,7.5 0 1,0 -15.0,0M1434.2,2278.4a7.5,7.5 0 1,0 15.0,0a7.5,7.5 0 1,0 -15.0,0M1439.6,2308.0a7.5,7.5 0 1,0 15.0,0a7.5,7.5 0 1,0 -15.0,0M1445.1,2340.3a7.5,7.5 0 1,0 15.0,0a7.5,7.5 0 1,0 -15.0,0M1450.6,2370.3a7.5,7.5 0 1,0 15.0,0a7.5,7.5 0 1,0 -15.0,0M1456.0,2398.9a7.5,7.5 0 1,0 15.0,0a7.5,7.5 0 1,0 -15.0,0M1461.5,2435.0a7.5,7.5 0 1,0 15.0,0a7.5,7.5 0 1,0 -15.0,0M1467.0,2459.7a7.5,7.5 0 1,0 15.0,0a7.5,7.5 0 1,0 -15.0,0M1472.4,2488.2a7.5,7.5 0 1,0 15.0,0a7.5,7.5 0 1,0 -15.0,0M1477.9,2514.2a7.5,7.5 0 1,0 15.0,0a7.5,7.5 0 1,0 -15.0,0M1483.4,2529.4a7.5,7.5 0 1,0 15.0,0a7.5,7.5 0 1,0 -15.0,0M1488.9,2550.4a7.5,7.5 0 1,0 15.0,0a7.5,7.5 0 1,0 -15.0,0M1494.3,2566.3a7.5,7.5 0 1,0 15.0,0a7.5,7.5 0 1,0 -15.0,0M1499.8,2569.7a7.5,7.5 0 1,0 15.0,0a7.5,7.5 0 1,0 -15.0,0M1505.3,2578.5a7.5,7.5 0 1,0 15.0,0a7.5,7.5 0 1,0 -15.0,0M1510.7,2578.7a7.5,7.5 0 1,0 15.0,0a7.5,7.5 0 1,0 -15.0,0M1516.2,2570.2a7.5,7.5 0 1,0 15.0,0a7.5,7.5 0 1,0 -15.0,0M1521.7,2558.1a7.5,7.5 0 1,0 15.0,0a7.5,7.5 0 1,0 -15.0,0M1527.2,2541.9a7.5,7.5 0 1,0 15.0,0a7.5,7.5 0 1,0 -15.0,0M1532.6,2524.6a7.5,7.5 0 1,0 15.0,0a7.5,7.5 0 1,0 -15.0,0M1538.1,2501.2a7.5,7.5 0 1,0 15.0,0a7.5,7.5 0 1,0 -15.0,0M1543.6,2479.9a7.5,7.5 0 1,0 15.0,0a7.5,7.5 0 1,0 -15.0,0M1549.0,2449.3a7.5,7.5 0 1,0 15.0,0a7.5,7.5 0 1,0 -15.0,0M1554.5,2421.4a7.5,7.5 0 1,0 15.0,0a7.5,7.5 0 1,0 -15.0,0M1560.0,2391.2a7.5,7.5 0 1,0 15.0,0a7.5,7.5 0 1,0 -15.0,0M1565.5,2362.8a7.5,7.5 0 1,0 15.0,0a7.5,7.5 0 1,0 -15.0,0M1570.9,2340.5a7.5,7.5 0 1,0 15.0,0a7.5,7.5 0 1,0 -15.0,0M1576.4,2310.7a7.5,7.5 0 1,0 15.0,0a7.5,7.5 0 1,0 -15.0,0M1581.9,2284.8a7.5,7.5 0 1,0 15.0,0a7.5,7.5 0 1,0 -15.0,0M1587.3,2258.3a7.5,7.5 0 1,0 15.0,0a7.5,7.5 0 1,0 -15.0,0M1592.8,2239.9a7.5,7.5 0 1,0 15.0,0a7.5,7.5 0 1,0 -15.0,0M1598.3,2221.1a7.5,7.5 0 1,0 15.0,0a7.5,7.5 0 1,0 -15.0,0M1603.8,2204.8a7.5,7.5 0 1,0 15.0,0a7.5,7.5 0 1,0 -15.0,0M1609.2,2188.3a7.5,7.5 0 1,0 15.0,0a7.5,7.5 0 1,0 -15.0,0M1614.7,2183.0a7.5,7.5 0 1,0 15.0,0a7.5,7.5 0 1,0 -15.0,0M1620.2,2173.9a7.5,7.5 0 1,0 15.0,0a7.5,7.5 0 1,0 -15.0,0M1625.6,2170.9a7.5,7.5 0 1,0 15.0,0a7.5,7.5 0 1,0 -15.0,0M1631.1,2177.2a7.5,7.5 0 1,0 15.0,0a7.5,7.5 0 1,0 -15.0,0M1636.6,2180.0a7.5,7.5 0 1,0 15.0,0a7.5,7.5 0 1,0 -15.0,0M1642.1,2199.5a7.5,7.5 0 1,0 15.0,0a7.5,7.5 0 1,0 -15.0,0M1647.5,2210.3a7.5,7.5 0 1,0 15.0,0a7.5,7.5 0 1,0 -15.0,0M1653.0,2233.4a7.5,7.5 0 1,0 15.0,0a7.5,7.5 0 1,0 -15.0,0M1658.5,2257.8a7.5,7.5 0 1,0 15.0,0a7.5,7.5 0 1,0 -15.0,0M1663.9,2280.2a7.5,7.5 0 1,0 15.0,0a7.5,7.5 0 1,0 -15.0,0M1669.4,2301.8a7.5,7.5 0 1,0 15.0,0a7.5,7.5 0 1,0 -15.0,0M1674.9,2333.8a7.5,7.5 0 1,0 15.0,0a7.5,7.5 0 1,0 -15.0,0M1680.4,2357.7a7.5,7.5 0 1,0 15.0,0a7.5,7.5 0 1,0 -15.0,0M1685.8,2377.6a7.5,7.5 0 1,0 15.0,0a7.5,7.5 0 1,0 -15.0,0M1691.3,2399.9a7.5,7.5 0 1,0 15.0,0a7.5,7.5 0 1,0 -15.0,0M1696.8,2421.6a7.5,7.5 0 1,0 15.0,0a7.5,7.5 0 1,0 -15.0,0M1702.2,2440.8a7.5,7.5 0 1,0 15.0,0a7.5,7.5 0 1,0 -15.0,0M1707.7,2460.1a7.5,7.5 0 1,0 15.0,0a7.5,7.5 0 1,0 -15.0,0M1713.2,2476.6a7.5,7.5 0 1,0 15.0,0a7.5,7.5 0 1,0 -15.0,0M1718.7,2494.6a7.5,7.5 0 1,0 15.0,0a7.5,7.5 0 1,0 -15.0,0M1724.1,2505.1a7.5,7.5 0 1,0 15.0,0a7.5,7.5 0 1,0 -15.0,0M1729.6,2515.3a7.5,7.5 0 1,0 15.0,0a7.5,7.5 0 1,0 -15.0,0M1735.1,2519.9a7.5,7.5 0 1,0 15.0,0a7.5,7.5 0 1,0 -15.0,0M1740.5,2526.8a7.5,7.5 0 1,0 15.0,0a7.5,7.5 0 1,0 -15.0,0M1746.0,2519.9a7.5,7.5 0 1,0 15.0,0a7.5,7.5 0 1,0 -15.0,0M1751.5,2523.0a7.5,7.5 0 1,0 15.0,0a7.5,7.5 0 1,0 -15.0,0M1757.0,2511.6a7.5,7.5 0 1,0 15.0,0a7.5,7.5 0 1,0 -15.0,0M1762.4,2503.6a7.5,7.5 0 1,0 15.0,0a7.5,7.5 0 1,0 -15.0,0M1767.9,2491.3a7.5,7.5 0 1,0 15.0,0a7.5,7.5 0 1,0 -15.0,0M1773.4,2480.7a7.5,7.5 0 1,0 15.0,0a7.5,7.5 0 1,0 -15.0,0M1778.8,2468.1a7.5,7.5 0 1,0 15.0,0a7.5,7.5 0 1,0 -15.0,0M1784.3,2457.2a7.5,7.5 0 1,0 15.0,0a7.5,7.5 0 1,0 -15.0,0M1789.8,2436.8a7.5,7.5 0 1,0 15.0,0a7.5,7.5 0 1,0 -15.0,0M1795.3,2421.5a7.5,7.5 0 1,0 15.0,0a7.5,7.5 0 1,0 -15.0,0M1800.7,2399.4a7.5,7.5 0 1,0 15.0,0a7.5,7.5 0 1,0 -15.0,0M1806.2,2384.0a7.5,7.5 0 1,0 15.0,0a7.5,7.5 0 1,0 -15.0,0M1811.7,2363.3a7.5,7.5 0 1,0 15.0,0a7.5,7.5 0 1,0 -15.0,0M1817.1,2347.3a7.5,7.5 0 1,0 15.0,0a7.5,7.5 0 1,0 -15.0,0M1822.6,2328.6a7.5,7.5 0 1,0 15.0,0a7.5,7.5 0 1,0 -15.0,0M1828.1,2311.8a7.5,7.5 0 1,0 15.0,0a7.5,7.5 0 1,0 -15.0,0M1833.6,2300.1a7.5,7.5 0 1,0 15.0,0a7.5,7.5 0 1,0 -15.0,0M1839.0,2284.1a7.5,7.5 0 1,0 15.0,0a7.5,7.5 0 1,0 -15.0,0M1844.5,2271.4a7.5,7.5 0 1,0 15.0,0a7.5,7.5 0 1,0 -15.0,0" fill="#f0f"/>
<polyline points="210.6,2359.2 216.1,2362.8 221.5,2361.7 227.0,2359.3 232.5,2356.8 238.0,2358.2 243.4,2358.5 248.9,2355.8 254.4,2357.0 259.8,2362.4 265.3,2353.8 270.8,2358.9 276.3,2360.9 281.7,2358.1 287.2,2356.5 292.7,2353.9 298.1,2362.0 303.6,2362.5 309.1,2357.7 314.6,2356.3 320.0,2354.4 325.5,2358.5 331.0,2355.4 336.4,2359.0 341.9,2358.5 347.4,2357.7 352.9,2362.0 358.3,2359.9 363.8,2359.7 369.3,2362.8 374.7,2368.2 380.2,2362.2 385.7,2363.4 391.2,2370.1 396.6,2364.7 402.1,2366.3 407.6,2369.7 413.0,2368.9 418.5,2367.6 424.0,2373.9 429.5,2368.8 434.9,2366.6 440.4,2374.5 445.9,2367.6 451.3,2371.8 456.8,2366.3 462.3,2374.0 467.8,2374.5 473.2,2367.3 478.7,2366.1 484.2,2367.6 489.6,2366.9 495.1,2368.5 500.6,2373.2 506.1,2374.4 511.5,2372.5 517.0,2365.9 522.5,2358.9 527.9,2353.8 533.4,2353.4 538.9,2347.2 544.4,2346.6 549.8,2342.0 555.3,2338.1 560.8,2327.4 566.2,2330.6 571.7,2326.3 577.2,2320.8 582.7,2316.0 588.1,2309.0 593.6,2305.5 599.1,2304.0 604.5,2301.4 610.0,2299.8 615.5,2303.1 621.0,2298.3 626.4,2305.5 631.9,2304.1 637.4,2309.0 642.8,2305.1 648.3,2314.8 653.8,2317.6 659.2,2321.1 664.7,2322.3 670.2,2333.4 675.7,2339.8 681.1,2340.6 686.6,2354.1 692.1,2359.7 697.5,2369.8 703.0,2375.6 708.5,2381.9 714.0,2393.7 719.4,2402.3 724.9,2417.6 730.4,2427.3 735.8,2436.9 741.3,2447.8 746.8,2454.7 752.3,2464.5 757.7,2476.8 763.2,2479.8 768.7,2486.0 774.1,2486.2 779.6,2476.8 785.1,2475.2 790.6,2474.3 796.0,2463.5 801.5,2451.4 807.0,2449.0 812.4,2430.9 817.9,2422.3 823.4,2402.1 828.9,2389.5 834.3,2370.6 839.8,2357.7 845.3,2340.1 850.7,2324.7 856.2,2308.7 861.7,2291.9 867.2,2269.4 872.6,2256.3 878.1,2237.9 883.6,2227.1 889.0,2210.2 894.5,2204.2 900.0,2196.6 905.5,2192.2 910.9,2182.7 916.4,2184.3 921.9,2187.2 927.3,2191.7 932.8,2197.2 938.3,2212.0 943.8,2226.7 949.2,2245.3 954.7,2260.4 960.2,2282.5 965.6,2296.6 971.1,2321.6 976.6,2347.6 982.1,2366.9 987.5,2387.3 993.0,2412.3 998.5,2431.7 1003.9,2452.3 1009.4,2473.8 1014.9,2490.2 1020.4,2506.5 1025.8,2521.7 1031.3,2527.5 1036.8,2537.5 1042.2,2547.7 1047.7,2541.5 1053.2,2539.2 1058.7,2529.3 1064.1,2526.7 1069.6,2511.2 1075.1,2496.4 1080.5,2475.9 1086.0,2453.9 1091.5,2433.3 1097.0,2417.6 1102.4,2389.1 1107.9,2368.0 1113.4,2344.1 1118.8,2318.8 1124.3,2298.2 1129.8,2278.0 1135.3,2251.0 1140.7,2232.6 1146.2,2223.4 1151.7,2205.5 1157.1,2197.0 1162.6,2186.8 1168.1,2185.7 1173.6,2191.4 1179.0,2194.9 1184.5,2198.2 1190.0,2214.3 1195.4,2233.0 1200.9,2245.0 1206.4,2265.3 1211.9,2290.8 1217.3,2311.2 1222.8,2330.1 1228.3,2356.2 1233.7,2384.3 1239.2,2413.2 1244.7,2434.2 1250.2,2457.1 1255.6,2484.1 1261.1,2501.6 1266.6,2520.3 1272.0,2526.2 1277.5,2541.0 1283.0,2537.9 1288.5,2535.3 1293.9,2533.5 1299.4,2529.4 1304.9,2513.3 1310.3,2503.4 1315.8,2490.5 1321.3,2473.4 1326.8,2456.0 1332.2,2439.5 1337.7,2415.8 1343.2,2388.8 1348.6,2364.1 1354.1,2326.1 1359.6,2302.8 1365.1,2268.4 1370.5,2239.5 1376.0,2204.4 1381.5,2184.3 1386.9,2163.9 1392.4,2148.6 1397.9,2141.1 1403.4,2142.0 1408.8,2144.6 1414.3,2154.7 1419.8,2176.3 1425.2,2189.8 1430.7,2204.9 1436.2,2231.6 1441.7,2261.4 1447.1,2282.3 1452.6,2313.5 1458.1,2339.1 1463.5,2368.9 1469.0,2401.3 1474.5,2431.3 1479.9,2458.5 1485.4,2487.2 1490.9,2510.1 1496.4,2531.8 1501.8,2549.7 1507.3,2554.9 1512.8,2565.4 1518.2,2570.5 1523.7,2572.6 1529.2,2568.3 1534.7,2554.2 1540.1,2537.0 1545.6,2518.3 1551.1,2499.7 1556.5,2472.7 1562.0,2447.7 1567.5,2419.5 1573.0,2394.1 1578.4,2366.8 1583.9,2333.4 1589.4,2306.4 1594.8,2284.3 1600.3,2261.2 1605.8,2245.0 1611.3,2227.3 1616.7,2208.6 1622.2,2197.8 1627.7,2189.7 1633.1,2176.7 1638.6,2176.6 1644.1,2180.2 1649.6,2186.3 1655.0,2196.5 1660.5,2215.8 1666.0,2228.3 1671.4,2253.5 1676.9,2281.3 1682.4,2304.9 1687.9,2333.7 1693.3,2356.2 1698.8,2380.0 1704.3,2407.6 1709.7,2427.3 1715.2,2442.7 1720.7,2462.7 1726.2,2485.7 1731.6,2494.0 1737.1,2508.8 1742.6,2510.7 1748.0,2517.6 1753.5,2524.7 1759.0,2515.5 1764.5,2515.5 1769.9,2504.0 1775.4,2502.6 1780.9,2490.9 1786.3,2475.1 1791.8,2457.9 1797.3,2445.2 1802.8,2430.7 1808.2,2407.3 1813.7,2391.6 1819.2,2371.2 1824.6,2353.8 1830.1,2343.0 1835.6,2320.1 1841.1,2305.2 1846.5,2286.7 1852.0,2279.9" fill="none" stroke="#f00" stroke-width="6" stroke-linejoin="round"/>
<path d="M203.6,2352.2h14v14h-14zM209.1,2355.8h14v14h-14zM214.5,2354.7h14v14h-14zM220.0,2352.3h14v14h-14zM225.5,2349.8h14v14h-14zM231.0,2351.2h14v14h-14zM236.4,2351.5h14v14h-14zM241.9,2348.8h14v14h-14zM247.4,2350.0h14v14h-14zM252.8,2355.4h14v14h-14zM258.3,2346.8h14v14h-14zM263.8,2351.9h14v14h-14zM269.3,2353.9h14v14h-14zM274.7,2351.1h14v14h-14zM280.2,2349.5h14v14h-14zM285.7,2346.9h14v14h-14zM291.1,2355.0h14v14h-14zM296.6,2355.5h14v14h-14zM302.1,2350.7h14v14h-14zM307.6,2349.3h14v14h-14zM313.0,2347.4h14v14h-14zM318.5,2351.5h14v14h-14zM324.0,2348.4h14v14h-14zM329.4,2352.0h14v14h-14zM334.9,2351.5h14v14h-14zM340.4,2350.7h14v14h-14zM345.9,2355.0h14v14h-14zM351.3,2352.9h14v14h-14zM356.8,2352.7h14v14h-14zM362.3,2355.8h14v14h-14zM367.7,2361.2h14v14h-14zM373.2,2355.2h14v14h-14zM378.7,2356.4h14v14h-14zM384.2,2363.1h14v14h-14zM389.6,2357.7h14v14h-14zM395.1,2359.3h14v14h-14zM400.6,2362.7h14v14h-14zM406.0,2361.9h14v14h-14zM411.5,2360.6h14v14h-14zM417.0,2366.9h14v14h-14zM422.5,2361.8h14v14h-14zM427.9,2359.6h14v14h-14zM433.4,2367.5h14v14h-14zM438.9,2360.6h14v14h-14zM444.3,2364.8h14v14h-14zM449.8,2359.3h14v14h-14zM455.3,2367.0h14v14h-14zM460.8,2367.5h14v14h-14zM466.2,2360.3h14v14h-14zM471.7,2359.1h14v14h-14zM477.2,2360.6h14v14h-14zM482.6,2359.9h14v14h-14zM488.1,2361.5h14v14h-14zM493.6,2366.2h14v14h-14zM499.1,2367.4h14v14h-14zM504.5,2365.5h14v14h-14zM510.0,2358.9h14v14h-14zM515.5,2351.9h14v14h-14zM520.9,2346.8h14v14h-14zM526.4,2346.4h14v14h-14zM531.9,2340.2h14v14h-14zM537.4,2339.6h14v14h-14zM542.8,2335.0h14v14h-14zM548.3,2331.1h14v14h-14zM553.8,2320.4h14v14h-14zM559.2,2323.6h14v14h-14zM564.7,2319.3h14v14h-14zM570.2,2313.8h14v14h-14zM575.7,2309.0h14v14h-14zM581.1,2302.0h14v14h-14zM586.6,2298.5h14v14h-14zM592.1,2297.0h14v14h-14zM597.5,2294.4h14v14h-14zM603.0,2292.8h14v14h-14zM608.5,2296.1h14v14h-14zM614.0,2291.3h14v14h-14zM619.4,2298.5h14v14h-14zM624.9,2297.1h14v14h-14zM630.4,2302.0h14v14h-14zM635.8,2298.1h14v14h-14zM641.3,2307.8h14v14h-14zM646.8,2310.6h14v14h-14zM652.2,2314.1h14v14h-14zM657.7,2315.3h14v14h-14zM663.2,2326.4h14v14h-14zM668.7,2332.8h14v14h-14zM674.1,2333.6h14v14h-14zM679.6,2347.1h14v14h-14zM685.1,2352.7h14v14h-14zM690.5,2362.8h14v14h-14zM696.0,2368.6h14v14h-14zM701.5,2374.9h14v14h-14zM707.0,2386.7h14v14h-14zM712.4,2395.3h14v14h-14zM717.9,2410.6h14v14h-14zM723.4,2420.3h14v14h-14zM728.8,2429.9h14v14h-14zM734.3,2440.8h14v14h-14zM739.8,2447.7h14v14h-14zM745.3,2457.5h14v14h-14zM750.7,2469.8h14v14h-14zM756.2,2472.8h14v14h-14zM761.7,2479.0h14v14h-14zM767.1,2479.2h14v14h-14zM772.6,2469.8h14v14h-14zM778.1,2468.2h14v14h-14zM783.6,2467.3h14v14h-14zM789.0,2456.5h14v14h-14zM794.5,2444.4h14v14h-14zM800.0,2442.0h14v14h-14zM805.4,2423.9h14v14h-14zM810.9,2415.3h14v14h-14zM816.4,2395.1h14v14h-14zM821.9,2382.5h14v14h-14zM827.3,2363.6h14v14h-14zM832.8,2350.7h14v14h-14zM838.3,2333.1h14v14h-14zM843.7,2317.7h14v14h-14zM849.2,2301.7h14v14h-14zM854.7,2284.9h14v14h-14zM860.2,2262.4h14v14h-14zM865.6,2249.3h14v14h-14zM871.1,2230.9h14v14h-14zM876.6,2220.1h14v14h-14zM882.0,2203.2h14v14h-14zM887.5,2197.2h14v14h-14zM893.0,2189.6h14v14h-14zM898.5,2185.2h14v14h-14zM903.9,2175.7h14v14h-14zM909.4,2177.3h14v14h-14zM914.9,2180.2h14v14h-14zM920.3,2184.7h14v14h-14zM925.8,2190.2h14v14h-14zM931.3,2205.0h14v14h-14zM936.8,2219.7h14v14h-14zM942.2,2238.3h14v14h-14zM947.7,2253.4h14v14h-14zM953.2,2275.5h14v14h-14zM958.6,2289.6h14v14h-14zM964.1,2314.6h14v14h-14zM969.6,2340.6h14v14h-14zM975.1,2359.9h14v14h-14zM980.5,2380.3h14v14h-14zM986.0,2405.3h14v14h-14zM991.5,2424.7h14v14h-14zM996.9,2445.3h14v14h-14zM1002.4,2466.8h14v14h-14zM1007.9,2483.2h14v14h-14zM1013.4,2499.5h14v14h-14zM1018.8,2514.7h14v14h-14zM1024.3,2520.5h14v14h-14zM1029.8,2530.5h14v14h-14zM1035.2,2540.7h14v14h-14zM1040.7,2534.5h14v14h-14zM1046.2,2532.2h14v14h-14zM1051.7,2522.3h14v14h-14zM1057.1,2519.7h14v14h-14zM1062.6,2504.2h14v14h-14zM1068.1,2489.4h14v14h-14zM1073.5,2468.9h14v14h-14zM1079.0,2446.9h14v14h-14zM1084.5,2426.3h14v14h-14zM1090.0,2410.6h14v14h-14zM1095.4,2382.1h14v14h-14zM1100.9,2361.0h14v14h-14zM1106.4,2337.1h14v14h-14zM1111.8,2311.8h14v14h-14zM1117.3,2291.2h14v14h-14zM1122.8,2271.0h14v14h-14zM1128.3,2244.0h14v14h-14zM1133.7,2225.6h14v14h-14zM1139.2,2216.4h14v14h-14zM1144.7,2198.5h14v14h-14zM1150.1,2190.0h14v14h-14zM1155.6,2179.8h14v14h-14zM1161.1,2178.7h14v14h-14zM1166.6,2184.4h14v14h-14zM1172.0,2187.9h14v14h-14zM1177.5,2191.2h14v14h-14zM1183.0,2207.3h14v14h-14zM1188.4,2226.0h14v14h-14zM1193.9,2238.0h14v14h-14zM1199.4,2258.3h14v14h-14zM1204.9,2283.8h14v14h-14zM1210.3,2304.2h14v14h-14zM1215.8,2323.1h14v14h-14zM1221.3,2349.2h14v14h-14zM1226.7,2377.3h14v14h-14zM1232.2,2406.2h14v14h-14zM1237.7,2427.2h14v14h-14zM1243.2,2450.1h14v14h-14zM1248.6,2477.1h14v14h-14zM1254.1,2494.6h14v14h-14zM1259.6,2513.3h14v14h-14zM1265.0,2519.2h14v14h-14zM1270.5,2534.0h14v14h-14zM1276.0,2530.9h14v14h-14zM1281.5,2528.3h14v14h-14zM1286.9,2526.5h14v14h-14zM1292.4,2522.4h14v14h-14zM1297.9,2506.3h14v14h-14zM1303.3,2496.4h14v14h-14zM1308.8,2483.5h14v14h-14zM1314.3,2466.4h14v14h-14zM1319.8,2449.0h14v14h-14zM1325.2,2432.5h14v14h-14zM1330.7,2408.8h14v14h-14zM1336.2,2381.8h14v14h-14zM1341.6,2357.1h14v14h-14zM1347.1,2319.1h14v14h-14zM1352.6,2295.8h14v14h-14zM1358.1,2261.4h14v14h-14zM1363.5,2232.5h14v14h-14zM1369.0,2197.4h14v14h-14zM1374.5,2177.3h14v14h-14zM1379.9,2156.9h14v14h-14zM1385.4,2141.6h14v14h-14zM1390.9,2134.1h14v14h-14zM1396.4,2135.0h14v14h-14zM1401.8,2137.6h14v14h-14zM1407.3,2147.7h14v14h-14zM1412.8,2169.3h14v14h-14zM1418.2,2182.8h14v14h-14zM1423.7,2197.9h14v14h-14zM1429.2,2224.6h14v14h-14zM1434.7,2254.4h14v14h-14zM1440.1,2275.3h14v14h-14zM1445.6,2306.5h14v14h-14zM1451.1,2332.1h14v14h-14zM1456.5,2361.9h14v14h-14zM1462.0,2394.3h14v14h-14zM1467.5,2424.3h14v14h-14zM1472.9,2451.5h14v14h-14zM1478.4,2480.2h14v14h-14zM1483.9,2503.1h14v14h-14zM1489.4,2524.8h14v14h-14zM1494.8,2542.7h14v14h-14zM1500.3,2547.9h14v14h-14zM1505.8,2558.4h14v14h-14zM1511.2,2563.5h14v14h-14zM1516.7,2565.6h14v14h-14zM1522.2,2561.3h14v14h-14zM1527.7,2547.2h14v14h-14zM1533.1,2530.0h14v14h-14zM1538.6,2511.3h14v14h-14zM1544.1,2492.7h14v14h-14zM1549.5,2465.7h14v14h-14zM1555.0,2440.7h14v14h-14zM1560.5,2412.5h14v14h-14zM1566.0,2387.1h14v14h-14zM1571.4,2359.8h14v14h-14zM1576.9,2326.4h14v14h-14zM1582.4,2299.4h14v14h-14zM1587.8,2277.3h14v14h-14zM1593.3,2254.2h14v14h-14zM1598.8,2238.0h14v14h-14zM1604.3,2220.3h14v14h-14zM1609.7,2201.6h14v14h-14zM1615.2,2190.8h14v14h-14zM1620.7,2182.7h14v14h-14zM1626.1,2169.7h14v14h-14zM1631.6,2169.6h14v14h-14zM1637.1,2173.2h14v14h-14zM1642.6,2179.3h14v14h-14zM1648.0,2189.5h14v14h-14zM1653.5,2208.8h14v14h-14zM1659.0,2221.3h14v14h-14zM1664.4,2246.5h14v14h-14zM1669.9,2274.3h14v14h-14zM1675.4,2297.9h14v14h-14zM1680.9,2326.7h14v14h-14zM1686.3,2349.2h14v14h-14zM1691.8,2373.0h14v14h-14zM1697.3,2400.6h14v14h-14zM1702.7,2420.3h14v14h-14zM1708.2,2435.7h14v14h-14zM1713.7,2455.7h14v14h-14zM1719.2,2478.7h14v14h-14zM1724.6,2487.0h14v14h-14zM1730.1,2501.8h14v14h-14zM1735.6,2503.7h14v14h-14zM1741.0,2510.6h14v14h-14zM1746.5,2517.7h14v14h-14zM1752.0,2508.5h14v14h-14zM1757.5,2508.5h14v14h-14zM1762.9,2497.0h14v14h-14zM1768.4,2495.6h14v14h-14zM1773.9,2483.9h14v14h-14zM1779.3,2468.1h14v14h-14zM1784.8,2450.9h14v14h-14zM1790.3,2438.2h14v14h-14zM1795.8,2423.7h14v14h-14zM1801.2,2400.3h14v14h-14zM1806.7,2384.6h14v14h-14zM1812.2,2364.2h14v14h-14zM1817.6,2346.8h14v14h-14zM1823.1,2336.0h14v14h-14zM1828.6,2313.1h14v14h-14zM1834.1,2298.2h14v14h-14zM1839.5,2279.7h14v14h-14zM1845.0,2272.9h14v14h-14z" fill="#f00"/>
</g>
<path d="M215.5,1305.0v-18M215.5,17.0v18M487.3,1305.0v-18M487.3,17.0v18M759.2,1305.0v-18M759.2,17.0v18M1031.0,1305.0v-18M1031.0,17.0v18M1302.8,1305.0v-18M1302.8,17.0v18M1574.7,1305.0v-18M1574.7,17.0v18M1846.5,1305.0v-18M1846.5,17.0v18M215.5,1156.4h18M1846.5,1156.4h-18M215.5,908.7h18M1846.5,908.7h-18M215.5,661.0h18M1846.5,661.0h-18M215.5,413.3h18M1846.5,413.3h-18M215.5,165.6h18M1846.5,165.6h-18" stroke="#262626" stroke-width="3" fill="none"/>
<rect x="215.5" y="17.0" width="1631.0" height="1288.0" stroke="#262626" stroke-width="3" fill="none"/>
<g font-family="Liberation Sans, Arial, sans-serif" font-size="54.6" fill="#262626"><text x="214.0" y="1384.0" text-anchor="middle">0</text><text x="485.8" y="1384.0" text-anchor="middle">20</text><text x="757.7" y="1384.0" text-anchor="middle">40</text><text x="1029.5" y="1384.0" text-anchor="middle">60</text><text x="1301.3" y="1384.0" text-anchor="middle">80</text><text x="1573.2" y="1384.0" text-anchor="middle">100</text><text x="1845.0" y="1384.0" text-anchor="middle">120</text><text x="192.5" y="1178.4" text-anchor="end">-1</text><text x="192.5" y="930.7" text-anchor="end">-0.5</text><text x="192.5" y="683.0" text-anchor="end">0</text><text x="192.5" y="435.3" text-anchor="end">0.5</text><text x="192.5" y="187.6" text-anchor="end">1</text></g>
<g font-family="Liberation Sans, Arial, sans-serif" font-size="60.5" fill="#262626"><text x="903.3" y="1465.5">Time</text><text x="1049.8" y="1465.5">(</text><text x="1110.1" y="1465.5">s</text><text x="1143.0" y="1465.5">)</text></g>
<text transform="translate(1073.9,1466.0) scale(1.17,1)" font-family="Liberation Serif, Times New Roman, serif" font-style="italic" font-size="62" fill="#262626">μ</text>
<text transform="translate(68.8,661.0) rotate(-90)" text-anchor="middle" font-family="Liberation Sans, Arial, sans-serif" font-size="60.5" fill="#262626">Amplitude (V)</text>
<g font-family="Liberation Serif, Times New Roman, serif" font-size="86" fill="#000"><text x="945.8" y="1565.9">(</text><text x="972.9" y="1565.9" font-weight="bold">a</text><text x="1014.8" y="1565.9">)</text></g>
<path d="M210.6,3006.0v-18M210.6,1710.0v18M484.2,3006.0v-18M484.2,1710.0v18M757.7,3006.0v-18M757.7,1710.0v18M1031.3,3006.0v-18M1031.3,1710.0v18M1304.9,3006.0v-18M1304.9,1710.0v18M1578.4,3006.0v-18M1578.4,1710.0v18M1852.0,3006.0v-18M1852.0,1710.0v18M210.6,2856.5h18M1852.0,2856.5h-18M210.6,2607.2h18M1852.0,2607.2h-18M210.6,2358.0h18M1852.0,2358.0h-18M210.6,2108.8h18M1852.0,2108.8h-18M210.6,1859.5h18M1852.0,1859.5h-18" stroke="#262626" stroke-width="3" fill="none"/>
<rect x="210.6" y="1710.0" width="1641.4" height="1296.0" stroke="#262626" stroke-width="3" fill="none"/>
<g font-family="Liberation Sans, Arial, sans-serif" font-size="54.6" fill="#262626"><text x="209.1" y="3085.0" text-anchor="middle">35</text><text x="482.7" y="3085.0" text-anchor="middle">40</text><text x="756.2" y="3085.0" text-anchor="middle">45</text><text x="1029.8" y="3085.0" text-anchor="middle">50</text><text x="1303.4" y="3085.0" text-anchor="middle">55</text><text x="1576.9" y="3085.0" text-anchor="middle">60</text><text x="1850.5" y="3085.0" text-anchor="middle">65</text><text x="187.6" y="2878.5" text-anchor="end">-1</text><text x="187.6" y="2629.2" text-anchor="end">-0.5</text><text x="187.6" y="2380.0" text-anchor="end">0</text><text x="187.6" y="2130.8" text-anchor="end">0.5</text><text x="187.6" y="1881.5" text-anchor="end">1</text></g>
<g font-family="Liberation Sans, Arial, sans-serif" font-size="60.5" fill="#262626"><text x="902.3" y="3167.8">Time</text><text x="1048.8" y="3167.8">(</text><text x="1109.1" y="3167.8">s</text><text x="1142.0" y="3167.8">)</text></g>
<text transform="translate(1072.9,3168.3) scale(1.17,1)" font-family="Liberation Serif, Times New Roman, serif" font-style="italic" font-size="62" fill="#262626">μ</text>
<text transform="translate(62.5,2358.0) rotate(-90)" text-anchor="middle" font-family="Liberation Sans, Arial, sans-serif" font-size="60.5" fill="#262626">Amplitude (V)</text>
<g font-family="Liberation Serif, Times New Roman, serif" font-size="86" fill="#000"><text x="940.9" y="3269.0">(</text><text x="967.8" y="3269.0" font-weight="bold">b</text><text x="1019.0" y="3269.0">)</text></g>
<rect x="253.5" y="49.5" width="448.5" height="447.5" fill="#fff" stroke="#262626" stroke-width="2.5"/>
<line x1="268.0" y1="92.0" x2="382.0" y2="92.0" stroke="#000" stroke-width="6"/>
<text x="393.0" y="113.5" font-family="Liberation Sans, Arial, sans-serif" font-size="54.6" fill="#000">0 cycle</text>
<line x1="268.0" y1="164.3" x2="382.0" y2="164.3" stroke="#00f" stroke-width="6" stroke-dasharray="21 19"/>
<text x="393.0" y="185.8" font-family="Liberation Sans, Arial, sans-serif" font-size="54.6" fill="#000">1000 cycles</text>
<line x1="268.0" y1="236.7" x2="382.0" y2="236.7" stroke="#0f0" stroke-width="6" stroke-dasharray="6 4"/>
<text x="393.0" y="258.2" font-family="Liberation Sans, Arial, sans-serif" font-size="54.6" fill="#000">2000 cycles</text>
<line x1="268.0" y1="309.0" x2="382.0" y2="309.0" stroke="#0ff" stroke-width="6" stroke-dasharray="21 4 11 4"/>
<text x="393.0" y="330.5" font-family="Liberation Sans, Arial, sans-serif" font-size="54.6" fill="#000">3000 cycles</text>
<line x1="268.0" y1="381.4" x2="382.0" y2="381.4" stroke="#f0f" stroke-width="6"/>
<circle cx="325.0" cy="381.4" r="5.5" fill="#f0f"/>
<text x="393.0" y="402.9" font-family="Liberation Sans, Arial, sans-serif" font-size="54.6" fill="#000">4000 cycles</text>
<line x1="268.0" y1="453.8" x2="382.0" y2="453.8" stroke="#f00" stroke-width="6"/>
<rect x="320.0" y="448.8" width="10" height="10" fill="#f00"/>
<text x="393.0" y="475.2" font-family="Liberation Sans, Arial, sans-serif" font-size="54.6" fill="#000">5000 cycles</text>
<rect x="248.7" y="1743.0" width="451.191" height="450.185" fill="#fff" stroke="#262626" stroke-width="2.5"/>
<line x1="263.287" y1="1785.8" x2="377.971" y2="1785.8" stroke="#000" stroke-width="6"/>
<text x="389.0" y="1807.4" font-family="Liberation Sans, Arial, sans-serif" font-size="55.9" fill="#000">0 cycle</text>
<line x1="263.287" y1="1858.5" x2="377.971" y2="1858.5" stroke="#00f" stroke-width="6" stroke-dasharray="21 19"/>
<text x="389.0" y="1880.2" font-family="Liberation Sans, Arial, sans-serif" font-size="55.9" fill="#000">1000 cycles</text>
<line x1="263.287" y1="1931.3" x2="377.971" y2="1931.3" stroke="#0f0" stroke-width="6" stroke-dasharray="6 4"/>
<text x="389.0" y="1953.0" font-family="Liberation Sans, Arial, sans-serif" font-size="55.9" fill="#000">2000 cycles</text>
<line x1="263.287" y1="2004.1" x2="377.971" y2="2004.1" stroke="#0ff" stroke-width="6" stroke-dasharray="21 4 11 4"/>
<text x="389.0" y="2025.7" font-family="Liberation Sans, Arial, sans-serif" font-size="55.9" fill="#000">3000 cycles</text>
<line x1="263.287" y1="2076.9" x2="377.971" y2="2076.9" stroke="#f0f" stroke-width="6"/>
<circle cx="320.6" cy="2076.9" r="7.5" fill="#f0f"/>
<text x="389.0" y="2098.5" font-family="Liberation Sans, Arial, sans-serif" font-size="55.9" fill="#000">4000 cycles</text>
<line x1="263.287" y1="2149.7" x2="377.971" y2="2149.7" stroke="#f00" stroke-width="6"/>
<rect x="313.6" y="2142.7" width="14" height="14" fill="#f00"/>
<text x="389.0" y="2171.3" font-family="Liberation Sans, Arial, sans-serif" font-size="55.9" fill="#000">5000 cycles</text>
</svg></body></html>
